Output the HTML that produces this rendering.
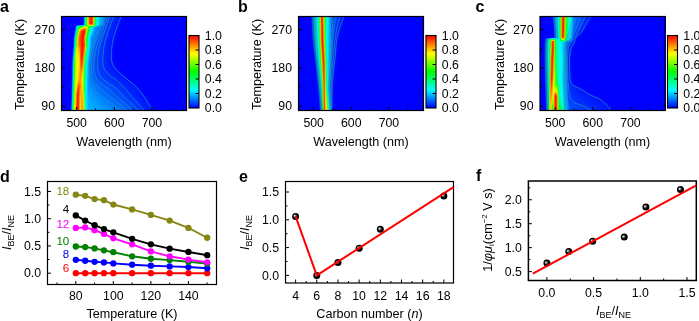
<!DOCTYPE html><html><head><meta charset="utf-8"><style>html,body{margin:0;padding:0;background:#fff;overflow:hidden;width:699px;height:321px}svg{display:block;position:absolute;left:0;top:0;will-change:transform}text{font-family:"Liberation Sans",sans-serif}.hm{position:absolute;top:0;height:321px}.hm div{position:absolute;left:0;width:100%;height:1px}</style></head><body>
<div class="hm" style="left:61px;width:126px"><div style="top:16px;background:linear-gradient(90deg,#0000ff 0.0px,#0003ff 22.0px,#000fff 22.4px,#0027fe 22.7px,#0052fb 23.0px,#00adec 23.5px,#00d8d7 23.8px,#00f0ba 24.1px,#01fe7f 24.6px,#0cff3b 25.2px,#27ff19 25.6px,#59fe08 26.0px,#b5f401 26.6px,#e1dd00 27.0px,#f7b800 27.4px,#ff6300 28.2px,#ff3a00 28.8px,#ff1600 29.7px,#ff1200 30.2px,#ff2200 30.8px,#ff4200 31.4px,#fe6600 31.8px,#f2a600 32.3px,#dfcb00 32.6px,#afed01 33.0px,#5ffd08 33.5px,#2aff19 33.9px,#12ff31 34.2px,#02ff66 34.7px,#00ffb2 35.4px,#00fedc 36.0px,#00f8f6 36.7px,#00daff 37.7px,#00bfff 38.9px,#0085ff 42.7px,#006dff 44.1px,#0039ff 49.7px,#0023ff 54.8px,#000eff 61.1px,#0000ff 64.0px,#0000ff 126.0px)"></div><div style="top:17px;background:linear-gradient(90deg,#0000ff 0.0px,#0003ff 22.0px,#000fff 22.4px,#0027fe 22.7px,#0052fb 23.0px,#00adec 23.5px,#00d8d7 23.8px,#00f0ba 24.1px,#01fe7f 24.6px,#0cff3b 25.2px,#27ff19 25.6px,#59fe08 26.0px,#b5f401 26.6px,#e1dd00 27.0px,#f7b800 27.4px,#ff6300 28.2px,#ff3a00 28.8px,#ff1600 29.7px,#ff1200 30.2px,#ff2200 30.8px,#ff4200 31.4px,#fe6600 31.8px,#f2a600 32.3px,#dfcb00 32.6px,#afed01 33.0px,#5ffd08 33.5px,#2aff19 33.9px,#12ff31 34.2px,#02ff66 34.7px,#00ffb2 35.4px,#00fedc 36.0px,#00f8f6 36.7px,#00daff 37.7px,#00bfff 38.9px,#0086ff 42.6px,#006bff 43.9px,#0039ff 49.4px,#0023ff 54.4px,#000eff 60.7px,#0000ff 63.6px,#0000ff 126.0px)"></div><div style="top:18px;background:linear-gradient(90deg,#0000ff 0.0px,#0003ff 22.0px,#000fff 22.4px,#0027fe 22.7px,#0052fb 23.0px,#00adec 23.5px,#00d8d7 23.8px,#00f0ba 24.1px,#01fe7f 24.6px,#0cff3b 25.2px,#27ff19 25.6px,#59fe08 26.0px,#b5f401 26.6px,#e1dd00 27.0px,#f7b800 27.4px,#ff6300 28.2px,#ff3a00 28.8px,#ff1600 29.7px,#ff1200 30.2px,#ff2200 30.8px,#ff4200 31.4px,#fe6600 31.8px,#f2a600 32.3px,#dfcb00 32.6px,#afed01 33.0px,#5ffd08 33.5px,#2aff19 33.9px,#12ff31 34.2px,#02ff66 34.7px,#00ffb2 35.4px,#00fedc 36.0px,#00f8f6 36.7px,#00daff 37.7px,#00bfff 38.9px,#0088ff 42.5px,#0068ff 43.8px,#0038ff 49.1px,#0023ff 54.1px,#000dff 60.3px,#0000ff 63.1px,#0000ff 126.0px)"></div><div style="top:19px;background:linear-gradient(90deg,#0000ff 0.0px,#0003ff 22.0px,#000fff 22.4px,#0027fe 22.7px,#0052fb 23.0px,#00adec 23.5px,#00d8d7 23.8px,#00f0ba 24.1px,#01fe7f 24.6px,#0cff3b 25.2px,#27ff19 25.6px,#59fe08 26.0px,#b5f401 26.6px,#e1dd00 27.0px,#f7b800 27.4px,#ff6300 28.2px,#ff3a00 28.8px,#ff1600 29.7px,#ff1200 30.2px,#ff2200 30.8px,#ff4200 31.4px,#fe6600 31.8px,#f2a600 32.3px,#dfcb00 32.6px,#afed01 33.0px,#5ffd08 33.5px,#2aff19 33.9px,#12ff31 34.2px,#02ff66 34.7px,#00ffb2 35.4px,#00fedc 36.0px,#00f8f6 36.7px,#00daff 37.7px,#00bfff 38.9px,#008aff 42.4px,#0065ff 43.7px,#0039ff 48.6px,#0023ff 53.6px,#000eff 59.8px,#0000ff 62.7px,#0000ff 126.0px)"></div><div style="top:20px;background:linear-gradient(90deg,#0000ff 0.0px,#0003ff 22.0px,#000fff 22.4px,#0027fe 22.7px,#0052fb 23.0px,#00adec 23.5px,#00d8d7 23.8px,#00f0ba 24.1px,#01fe7f 24.6px,#0cff3b 25.2px,#27ff19 25.6px,#59fe08 26.0px,#b5f401 26.6px,#e1dd00 27.0px,#f7b800 27.4px,#ff6300 28.2px,#ff3a00 28.8px,#ff1600 29.7px,#ff1200 30.2px,#ff2200 30.8px,#ff4200 31.4px,#fe6600 31.8px,#f2a600 32.3px,#dfcb00 32.6px,#afed01 33.0px,#5ffd08 33.5px,#2aff19 33.9px,#12ff31 34.2px,#02ff66 34.7px,#00ffb2 35.4px,#00fedc 36.0px,#00f8f6 36.7px,#00daff 37.7px,#00bfff 38.9px,#008cff 42.3px,#0061ff 43.7px,#0038ff 48.4px,#0023ff 53.3px,#000eff 59.4px,#0000ff 62.3px,#0000ff 126.0px)"></div><div style="top:21px;background:linear-gradient(90deg,#0000ff 0.0px,#0003ff 22.0px,#000fff 22.4px,#0027fe 22.7px,#0052fb 23.0px,#00adec 23.5px,#00d8d7 23.8px,#00f0ba 24.1px,#01fe7f 24.6px,#0cff3b 25.2px,#27ff19 25.6px,#59fe08 26.0px,#b5f401 26.6px,#e1dd00 27.0px,#f7b800 27.4px,#ff6300 28.2px,#ff3a00 28.8px,#ff1600 29.7px,#ff1200 30.2px,#ff2200 30.8px,#ff4200 31.4px,#fe6600 31.8px,#f2a600 32.3px,#dfcb00 32.6px,#afed01 33.0px,#5ffd08 33.5px,#2aff19 33.9px,#12ff31 34.2px,#02ff66 34.7px,#00ffb2 35.4px,#00fedc 36.0px,#00f8f6 36.7px,#00daff 37.7px,#00bfff 38.9px,#008bff 42.3px,#005dff 43.7px,#0038ff 48.1px,#0023ff 52.9px,#000eff 59.0px,#0000ff 61.9px,#0000ff 126.0px)"></div><div style="top:22px;background:linear-gradient(90deg,#0000ff 0.0px,#0003ff 22.0px,#000fff 22.4px,#0027fe 22.7px,#0052fb 23.0px,#00adec 23.5px,#00d8d7 23.8px,#00f0ba 24.1px,#01fe7f 24.6px,#0cff3b 25.2px,#27ff19 25.6px,#59fe08 26.0px,#b5f401 26.6px,#e1dd00 27.0px,#f7b800 27.4px,#ff6300 28.2px,#ff3a00 28.8px,#ff1600 29.7px,#ff1200 30.2px,#ff2200 30.8px,#ff4200 31.4px,#fe6600 31.8px,#f2a600 32.3px,#dfcb00 32.6px,#afed01 33.0px,#5ffd08 33.5px,#2aff19 33.9px,#12ff31 34.2px,#02ff66 34.7px,#00ffb2 35.4px,#00fedc 36.0px,#00f8f6 36.7px,#00daff 37.7px,#00bfff 38.9px,#008bff 42.3px,#005cff 43.6px,#0041ff 46.3px,#0025ff 51.6px,#000eff 58.6px,#0000ff 61.5px,#0000ff 126.0px)"></div><div style="top:23px;background:linear-gradient(90deg,#0000ff 0.0px,#0003ff 22.0px,#000fff 22.4px,#0027fe 22.7px,#0052fb 23.0px,#00adec 23.5px,#00d8d7 23.8px,#00f0ba 24.1px,#01fe7f 24.6px,#0cff3b 25.2px,#27ff19 25.6px,#59fe08 26.0px,#b5f401 26.6px,#e1dd00 27.0px,#f7b800 27.4px,#ff6300 28.2px,#ff3a00 28.8px,#ff1600 29.7px,#ff1200 30.2px,#ff2200 30.8px,#ff4200 31.4px,#fe6600 31.8px,#f2a600 32.3px,#dfcb00 32.6px,#afed01 33.0px,#5ffd08 33.5px,#2aff19 33.9px,#12ff31 34.2px,#02ff66 34.7px,#00ffb2 35.4px,#00fedc 36.0px,#00f8f6 36.7px,#00daff 37.7px,#00bfff 38.9px,#008dff 42.2px,#0059ff 43.6px,#0042ff 45.8px,#0025ff 51.2px,#000eff 58.2px,#0000ff 61.1px,#0000ff 126.0px)"></div><div style="top:24px;background:linear-gradient(90deg,#0000ff 0.0px,#0002ff 22.0px,#000eff 22.4px,#0026fe 22.7px,#0050fc 23.0px,#00abef 23.5px,#00d6dd 23.8px,#00f0c2 24.1px,#00fd8a 24.6px,#08ff45 25.2px,#1dff21 25.6px,#47ff0b 26.0px,#abfb01 26.7px,#d9ef00 27.1px,#f3d700 27.5px,#fea700 28.1px,#ff7d00 28.8px,#ff5e00 29.7px,#ff5b00 30.3px,#ff6f00 31.0px,#fe9000 31.6px,#f4bb00 32.1px,#d9df00 32.5px,#a8f501 32.9px,#4dfe0b 33.5px,#20ff20 33.9px,#09ff45 34.3px,#00ff94 35.0px,#00ffcc 35.6px,#00fcec 36.2px,#00ecfd 37.0px,#00c2ff 38.4px,#0087ff 42.3px,#0056ff 43.6px,#003fff 45.9px,#0024ff 51.1px,#000eff 57.8px,#0000ff 60.7px,#0000ff 126.0px)"></div><div style="top:25px;background:linear-gradient(90deg,#0000ff 0.0px,#0003ff 14.3px,#0014ff 14.9px,#005aff 16.1px,#0088ff 17.6px,#00adff 19.7px,#00d5fb 22.4px,#00e5e9 22.9px,#00f6bc 23.4px,#00ff5d 24.3px,#06ff25 25.0px,#19ff0c 25.5px,#4fff01 26.2px,#85ff00 26.9px,#a4ff00 27.6px,#d8ff00 29.6px,#daff00 30.4px,#c5ff00 31.3px,#a6ff00 31.9px,#6eff02 32.5px,#2eff0f 33.1px,#12ff2a 33.5px,#03ff5d 34.0px,#00fec6 35.0px,#00f8ea 35.5px,#00edfb 36.0px,#00acff 38.1px,#0072ff 42.4px,#004fff 43.7px,#0031ff 47.8px,#0018ff 55.3px,#0000ff 60.3px,#0000ff 126.0px)"></div><div style="top:26px;background:linear-gradient(90deg,#0000ff 0.0px,#0002ff 13.9px,#0012ff 14.4px,#002bff 14.7px,#0063ff 15.1px,#00c2f9 15.7px,#00e2f1 16.0px,#00f7de 16.4px,#00ffa7 17.2px,#00ff62 18.3px,#04ff11 20.1px,#19ff02 20.9px,#adff00 24.7px,#c3ff00 25.7px,#c0ff00 26.4px,#acff00 26.9px,#85ff00 27.4px,#2eff00 28.3px,#10ff00 28.8px,#02ff03 29.5px,#00ff13 30.6px,#00ff3a 31.8px,#00ff62 32.5px,#00fbda 34.0px,#00eaf6 34.6px,#00beff 35.5px,#00a0ff 36.5px,#007eff 38.5px,#003cff 45.6px,#0024ff 50.6px,#000eff 57.1px,#0000ff 60.0px,#0000ff 126.0px)"></div><div style="top:27px;background:linear-gradient(90deg,#0000ff 0.0px,#0002ff 13.7px,#0010ff 14.2px,#0029ff 14.5px,#0060fd 14.9px,#00c3f2 15.5px,#00e3e3 15.8px,#00f8c8 16.2px,#00ff7c 17.1px,#02ff2f 18.1px,#0dff0f 18.7px,#2fff01 19.4px,#98ff00 21.1px,#d7ff00 22.5px,#f8fc00 23.6px,#fff200 24.8px,#f7f800 25.7px,#e2fd00 26.2px,#b6ff00 26.7px,#42ff06 27.6px,#1bff14 28.0px,#08ff2c 28.4px,#00ff73 29.3px,#00fdd9 30.6px,#00f6f5 31.2px,#00e0ff 32.0px,#0095ff 34.5px,#0085ff 35.9px,#006cff 39.3px,#0033ff 46.7px,#001fff 51.9px,#000dff 56.9px,#0000ff 59.7px,#0000ff 126.0px)"></div><div style="top:28px;background:linear-gradient(90deg,#0000ff 0.0px,#0002ff 13.6px,#000cff 14.0px,#0021ff 14.3px,#0045fe 14.6px,#00a8f3 15.2px,#00d2e4 15.5px,#00eccc 15.8px,#00fba3 16.2px,#05ff3e 17.1px,#18ff16 17.6px,#40ff04 18.1px,#b3ff00 19.3px,#e2fd00 20.0px,#f8f200 20.6px,#ffc700 21.8px,#ffa300 23.0px,#ff9c00 23.9px,#ffa800 24.7px,#fbc300 25.3px,#eae200 25.8px,#c6f400 26.2px,#65fe03 26.9px,#31ff0b 27.3px,#11ff1c 27.7px,#03ff3d 28.2px,#00fdd7 30.2px,#00f5f4 30.8px,#00dfff 31.6px,#0096ff 33.9px,#0087ff 35.3px,#006dff 38.8px,#0033ff 46.4px,#001fff 51.7px,#000cff 56.6px,#0000ff 59.3px,#0000ff 126.0px)"></div><div style="top:29px;background:linear-gradient(90deg,#0000ff 0.0px,#0003ff 13.5px,#0010ff 13.9px,#0027ff 14.2px,#004efd 14.5px,#00a2f3 15.0px,#00cde3 15.3px,#00eac9 15.6px,#00fa9a 16.0px,#09ff41 16.7px,#1dff1c 17.1px,#43ff08 17.5px,#a9fd00 18.3px,#ddf400 18.8px,#f4e300 19.2px,#febc00 19.9px,#ff8200 21.2px,#ff5b00 22.5px,#ff5800 23.3px,#ff6c00 24.3px,#fe8600 24.8px,#f2be00 25.4px,#d6e200 25.8px,#a5f700 26.2px,#3fff08 26.9px,#18ff16 27.3px,#06ff2e 27.7px,#00ff80 28.8px,#00fce0 30.1px,#00f2f8 30.7px,#00d0ff 31.8px,#0094ff 33.7px,#0085ff 35.2px,#006aff 38.7px,#0031ff 46.4px,#0017ff 54.2px,#0000ff 58.9px,#0000ff 126.0px)"></div><div style="top:30px;background:linear-gradient(90deg,#0000ff 0.0px,#0003ff 13.3px,#0010ff 13.7px,#0027ff 14.0px,#004efd 14.3px,#00a2f3 14.8px,#00cde3 15.1px,#00eac9 15.4px,#00fa9a 15.8px,#09ff41 16.5px,#1fff1c 16.9px,#47ff08 17.3px,#b2f900 18.1px,#dcec00 18.5px,#f4d100 18.9px,#fe9d00 19.5px,#ff7500 20.1px,#ff4700 21.3px,#ff2800 22.4px,#ff2900 23.1px,#ff4400 24.1px,#fe6100 24.6px,#f99600 25.1px,#e7c800 25.5px,#c0eb00 25.9px,#78fc02 26.4px,#33ff0b 26.9px,#12ff1c 27.3px,#03ff3c 27.8px,#00fed6 29.8px,#00f6f4 30.4px,#00e0ff 31.2px,#0093ff 33.7px,#0084ff 35.1px,#0032ff 45.8px,#001dff 51.5px,#000cff 56.0px,#0000ff 58.7px,#0000ff 126.0px)"></div><div style="top:31px;background:linear-gradient(90deg,#0000ff 0.0px,#0003ff 13.1px,#000fff 13.5px,#0026ff 13.8px,#004cfe 14.1px,#00aff0 14.7px,#00d6dd 15.0px,#00eec0 15.3px,#01fd81 15.8px,#0eff37 16.4px,#29ff16 16.8px,#65fe04 17.3px,#b8f600 17.9px,#e1e400 18.3px,#f6c200 18.7px,#ff7500 19.5px,#ff5100 20.1px,#ff1200 22.1px,#ff0e00 22.7px,#ff2400 23.6px,#ff4000 24.2px,#fe6200 24.6px,#f4a200 25.1px,#dad400 25.5px,#aaf200 25.9px,#5ffd04 26.4px,#2cff0d 26.8px,#0eff20 27.2px,#02ff43 27.7px,#00fdd7 29.6px,#00f6f4 30.2px,#00e0ff 31.0px,#0092ff 33.5px,#0083ff 34.9px,#0032ff 45.5px,#001dff 51.4px,#000cff 55.7px,#0000ff 58.4px,#0000ff 126.0px)"></div><div style="top:32px;background:linear-gradient(90deg,#0000ff 0.0px,#0003ff 12.9px,#000eff 13.3px,#0024ff 13.6px,#0048fe 13.9px,#00aaf2 14.5px,#00d2e0 14.8px,#00ecc4 15.1px,#01fb93 15.5px,#0aff44 16.1px,#22ff1e 16.5px,#4dff09 16.9px,#b0f800 17.6px,#dce600 18.0px,#f4c600 18.4px,#ff8100 19.1px,#ff5e00 19.6px,#ff3100 20.9px,#ff0f00 22.1px,#ff1100 22.7px,#ff3000 23.7px,#ff4f00 24.2px,#fb7a00 24.6px,#efb100 25.0px,#cede00 25.4px,#98f601 25.8px,#3ffe09 26.4px,#17ff19 26.8px,#06ff32 27.2px,#00ff92 28.4px,#00fcde 29.4px,#00f3f7 30.0px,#00d4ff 31.0px,#0092ff 33.1px,#0082ff 34.6px,#0032ff 45.1px,#001dff 50.8px,#000cff 55.3px,#0000ff 58.0px,#0000ff 126.0px)"></div><div style="top:33px;background:linear-gradient(90deg,#0000ff 0.0px,#0003ff 12.7px,#000eff 13.1px,#0022ff 13.4px,#0054fe 13.8px,#00a5f4 14.3px,#00d9dc 14.7px,#00efbd 15.0px,#02fd7b 15.5px,#0fff3b 16.0px,#2cff17 16.4px,#6cfe04 16.9px,#c1f200 17.5px,#e7da00 17.9px,#f9b500 18.3px,#ff7400 19.0px,#ff5400 19.6px,#ff1100 21.8px,#ff1000 22.4px,#ff2800 23.3px,#ff4800 23.9px,#fd6f00 24.3px,#eeb200 24.8px,#d7d500 25.1px,#a3f201 25.5px,#47fe08 26.1px,#1cff17 26.5px,#07ff30 26.9px,#00ff78 27.8px,#00fdd8 29.0px,#00f4f5 29.6px,#00dcff 30.4px,#0094ff 32.6px,#0085ff 33.9px,#0032ff 44.8px,#001dff 50.7px,#000cff 55.0px,#0000ff 57.7px,#0000ff 126.0px)"></div><div style="top:34px;background:linear-gradient(90deg,#0000ff 0.0px,#0003ff 12.5px,#0012ff 13.0px,#002aff 13.3px,#005ffd 13.7px,#00aff2 14.2px,#00dfd7 14.6px,#00f6a9 15.0px,#08fe56 15.6px,#1cff28 16.0px,#46ff0d 16.4px,#9ef901 17.0px,#d1ea00 17.4px,#f0cc00 17.8px,#fd9a00 18.3px,#ff7000 18.8px,#ff5400 19.4px,#ff1000 21.7px,#ff1100 22.3px,#ff2c00 23.2px,#ff4900 23.7px,#fd7000 24.1px,#edb300 24.6px,#d5d600 24.9px,#a0f201 25.3px,#42fe0a 25.9px,#21ff15 26.2px,#09ff2e 26.6px,#00ff66 27.3px,#00fdd8 28.7px,#00f4f5 29.3px,#00dbff 30.1px,#0094ff 32.2px,#0084ff 33.6px,#0032ff 44.4px,#001eff 50.0px,#000dff 54.6px,#0000ff 57.3px,#0000ff 126.0px)"></div><div style="top:35px;background:linear-gradient(90deg,#0000ff 0.0px,#0002ff 12.3px,#0011ff 12.8px,#0029ff 13.1px,#005cfe 13.5px,#00aaf3 14.0px,#00dbda 14.4px,#00f4ae 14.8px,#08fe59 15.4px,#1dff2a 15.8px,#48ff0e 16.2px,#a3f801 16.8px,#d5e600 17.2px,#f2c600 17.6px,#fe8a00 18.2px,#ff6600 18.7px,#ff4c00 19.5px,#ff1100 21.5px,#ff1100 22.1px,#ff2d00 23.0px,#ff4900 23.5px,#fc7100 23.9px,#f2a600 24.3px,#ddcc00 24.6px,#bae700 24.9px,#7bf903 25.3px,#3dfe0c 25.7px,#1dff19 26.0px,#08ff33 26.4px,#00ff76 27.2px,#00fdd8 28.4px,#00f3f5 29.0px,#00d9ff 29.8px,#0097ff 31.7px,#0087ff 32.9px,#0032ff 44.1px,#001dff 50.0px,#000cff 54.4px,#0000ff 57.1px,#0000ff 126.0px)"></div><div style="top:36px;background:linear-gradient(90deg,#0000ff 0.0px,#0002ff 12.1px,#0011ff 12.6px,#0031ff 13.0px,#0077fc 13.5px,#00c0ec 14.0px,#00e8cb 14.4px,#01f996 14.8px,#0cfe4e 15.3px,#27ff22 15.7px,#5afe0a 16.1px,#b6f301 16.7px,#e2db00 17.1px,#f7b500 17.5px,#ff7c00 18.1px,#ff5f00 18.6px,#ff2d00 20.4px,#ff1100 21.3px,#ff1100 21.9px,#ff2d00 22.8px,#ff4a00 23.3px,#fc7200 23.7px,#f1a700 24.1px,#dbcc00 24.4px,#b7e801 24.7px,#76f904 25.1px,#39fe0e 25.5px,#1aff1d 25.8px,#06ff39 26.2px,#00ff8f 27.2px,#00fdd8 28.1px,#00f5f2 28.6px,#00dffe 29.3px,#0097ff 31.3px,#0087ff 32.5px,#0033ff 43.6px,#001fff 49.1px,#000dff 54.0px,#0000ff 56.8px,#0000ff 126.0px)"></div><div style="top:37px;background:linear-gradient(90deg,#0000ff 0.0px,#0002ff 11.9px,#0010ff 12.4px,#002fff 12.8px,#0072fd 13.3px,#00bcee 13.8px,#00e5cf 14.2px,#01f89b 14.6px,#0cfe51 15.1px,#29ff23 15.5px,#5efe0b 15.9px,#bbf001 16.5px,#dddd00 16.8px,#f5b800 17.2px,#fe7f00 17.8px,#ff6100 18.3px,#ff3500 20.0px,#ff1200 21.1px,#ff1100 21.7px,#ff2d00 22.6px,#ff4b00 23.1px,#fc7300 23.5px,#f0a800 23.9px,#d9cd00 24.2px,#b3e801 24.5px,#71f905 24.9px,#34fe11 25.3px,#17ff21 25.6px,#05ff3e 26.0px,#00ffb1 27.3px,#00fae5 28.0px,#00eef8 28.5px,#00c5ff 29.6px,#0097ff 30.9px,#0087ff 32.2px,#0036ff 42.7px,#0022ff 47.8px,#000eff 53.6px,#0000ff 56.4px,#0000ff 126.0px)"></div><div style="top:38px;background:linear-gradient(90deg,#0000ff 0.0px,#0002ff 11.8px,#0010ff 12.3px,#0030ff 12.7px,#0074fd 13.2px,#00bcee 13.7px,#00e5cf 14.1px,#02f89a 14.5px,#0efe50 15.0px,#22ff2c 15.3px,#53fe0e 15.7px,#a3f602 16.2px,#d7e100 16.6px,#f3be00 17.0px,#fe8300 17.6px,#ff6500 18.1px,#ff4d00 19.1px,#ff2800 20.3px,#ff1100 21.1px,#ff1200 21.7px,#ff3000 22.6px,#fe5100 23.1px,#f98900 23.6px,#e4be00 24.0px,#c4de01 24.3px,#84f603 24.7px,#42fd0d 25.1px,#1fff1c 25.4px,#08ff38 25.8px,#00ff7f 26.6px,#00fcd5 27.6px,#00f4f1 28.1px,#00ddfe 28.8px,#0099ff 30.6px,#0088ff 31.7px,#003aff 41.8px,#0023ff 47.1px,#000eff 53.3px,#0000ff 56.2px,#0000ff 126.0px)"></div><div style="top:39px;background:linear-gradient(90deg,#0000ff 0.0px,#0003ff 11.8px,#0013ff 12.3px,#0035ff 12.7px,#007afc 13.2px,#00c2ec 13.7px,#00e8c9 14.1px,#02f994 14.5px,#10fe4a 15.0px,#26ff28 15.3px,#5afe0d 15.7px,#b9f001 16.3px,#dcdf00 16.6px,#f5bb00 17.0px,#ff7c00 17.7px,#ff6300 18.2px,#ff3b00 19.8px,#ff1100 21.1px,#ff1100 21.7px,#ff2e00 22.6px,#ff4c00 23.1px,#fc7500 23.5px,#eeaa00 23.9px,#d6cf00 24.2px,#9eef02 24.6px,#4afd0c 25.1px,#24ff19 25.4px,#0eff2e 25.7px,#02ff58 26.2px,#00fdcf 27.5px,#00f6ee 28.0px,#00e3fd 28.6px,#0096ff 30.6px,#0085ff 31.7px,#0042ff 40.2px,#0025ff 46.0px,#000eff 53.0px,#0000ff 55.9px,#0000ff 126.0px)"></div><div style="top:40px;background:linear-gradient(90deg,#0000ff 0.0px,#0002ff 11.7px,#000fff 12.2px,#002eff 12.6px,#0062fe 13.0px,#00aef3 13.5px,#00dcd9 13.9px,#01f5aa 14.3px,#0dfe52 14.9px,#21ff2e 15.2px,#43fe15 15.5px,#91f903 16.0px,#cbea00 16.4px,#e8d500 16.7px,#f9b000 17.1px,#ff7d00 17.7px,#ff6300 18.3px,#ff3b00 19.8px,#ff1100 21.1px,#ff1100 21.7px,#ff2b00 22.6px,#ff4700 23.1px,#fc6e00 23.5px,#f1a300 23.9px,#dbc900 24.2px,#b5e501 24.5px,#72f805 24.9px,#35fe12 25.3px,#17ff24 25.6px,#05ff44 26.0px,#00febe 27.3px,#00f7ea 27.9px,#00e6fc 28.5px,#0094ff 30.6px,#0083ff 31.7px,#0054ff 37.5px,#002eff 43.3px,#000eff 52.9px,#0000ff 55.7px,#0000ff 126.0px)"></div><div style="top:41px;background:linear-gradient(90deg,#0000ff 0.0px,#0003ff 11.7px,#0012ff 12.2px,#0033ff 12.6px,#0078fc 13.1px,#00c1ec 13.6px,#00e8ca 14.0px,#02f995 14.4px,#0ffe4c 14.9px,#25ff2a 15.2px,#58fe0d 15.6px,#b7f201 16.2px,#dbe100 16.5px,#f5c100 16.9px,#fe8c00 17.5px,#ff6c00 18.1px,#ff3c00 19.8px,#ff1200 21.1px,#ff1000 21.7px,#ff2900 22.6px,#ff4a00 23.2px,#fc7300 23.6px,#eea900 24.0px,#d6ce00 24.3px,#9eef02 24.7px,#4afd0c 25.2px,#24ff1b 25.5px,#0eff30 25.8px,#02ff5e 26.3px,#00fdd0 27.5px,#00f5ef 28.0px,#00e1fd 28.6px,#0092ff 30.6px,#0080ff 31.7px,#0056ff 36.8px,#002fff 42.8px,#000eff 52.7px,#0000ff 55.5px,#0000ff 126.0px)"></div><div style="top:42px;background:linear-gradient(90deg,#0000ff 0.0px,#0003ff 11.7px,#0014ff 12.2px,#0038ff 12.6px,#008ffa 13.2px,#00c7e9 13.6px,#00ebc5 14.0px,#04fc80 14.5px,#11ff47 14.9px,#29ff26 15.2px,#5efd0c 15.6px,#bdf001 16.2px,#dfdf00 16.5px,#f7bf00 16.9px,#ff8600 17.6px,#ff6b00 18.2px,#ff4000 19.7px,#ff1200 21.1px,#ff0f00 21.7px,#ff2700 22.6px,#ff4600 23.2px,#fc6c00 23.6px,#f1a100 24.0px,#dbc800 24.3px,#b5e501 24.6px,#72f806 25.0px,#35fe13 25.4px,#17ff26 25.7px,#05ff48 26.1px,#00fdc8 27.4px,#00f6eb 27.9px,#00e7fb 28.4px,#008fff 30.6px,#007eff 31.7px,#0057ff 36.3px,#0030ff 42.4px,#000eff 52.5px,#0000ff 55.4px,#0000ff 126.0px)"></div><div style="top:43px;background:linear-gradient(90deg,#0000ff 0.0px,#0002ff 11.6px,#0010ff 12.1px,#0031ff 12.5px,#0076fc 13.0px,#00c0ec 13.5px,#00e7cb 13.9px,#02f997 14.3px,#0efe4e 14.8px,#23ff2b 15.1px,#46fe14 15.4px,#97f903 15.9px,#d0ea00 16.3px,#ead600 16.6px,#fab500 17.0px,#ff8700 17.6px,#ff6b00 18.3px,#ff4500 19.6px,#ff1300 21.1px,#ff0f00 21.7px,#ff2500 22.6px,#ff4200 23.2px,#fd6600 23.6px,#eea700 24.1px,#d6cd00 24.4px,#9eee02 24.8px,#4afd0d 25.3px,#24ff1d 25.6px,#0eff33 25.9px,#02ff63 26.4px,#00fcd1 27.5px,#00f3f0 28.0px,#00defd 28.6px,#0090ff 30.5px,#007dff 31.5px,#0057ff 35.9px,#0031ff 42.0px,#000dff 52.4px,#0000ff 55.2px,#0000ff 126.0px)"></div><div style="top:44px;background:linear-gradient(90deg,#0000ff 0.0px,#0003ff 11.6px,#0013ff 12.1px,#0036ff 12.5px,#007dfb 13.0px,#00c6ea 13.5px,#00eac6 13.9px,#02fa91 14.3px,#10ff49 14.8px,#27ff27 15.1px,#5cfe0d 15.5px,#bcf101 16.1px,#dfe200 16.4px,#f6c400 16.8px,#ff8f00 17.5px,#ff7100 18.2px,#ff4900 19.5px,#ff1300 21.1px,#ff0e00 21.7px,#ff2400 22.6px,#ff3e00 23.2px,#fd5f00 23.6px,#f19f00 24.1px,#dbc600 24.4px,#b5e401 24.7px,#72f806 25.1px,#35fe15 25.5px,#17ff28 25.8px,#05ff4d 26.2px,#00fdc9 27.4px,#00f5ec 27.9px,#00e1fd 28.5px,#008dff 30.5px,#007bff 31.5px,#0055ff 35.9px,#0031ff 41.7px,#000eff 52.2px,#0000ff 55.0px,#0000ff 126.0px)"></div><div style="top:45px;background:linear-gradient(90deg,#0000ff 0.0px,#0002ff 11.5px,#000fff 12.0px,#002fff 12.4px,#0065fd 12.8px,#00b1f2 13.3px,#00dfd6 13.7px,#01f6a7 14.1px,#09fe5e 14.6px,#21ff2d 15.0px,#44fe15 15.3px,#95f903 15.8px,#cfec00 16.2px,#eada00 16.5px,#fabb00 16.9px,#ff8b00 17.6px,#ff6f00 18.4px,#ff4700 19.6px,#ff1400 21.1px,#ff0e00 21.7px,#ff1f00 22.5px,#ff3b00 23.2px,#fe5900 23.6px,#f39700 24.1px,#e0c000 24.4px,#bde001 24.7px,#7bf605 25.1px,#3bfe13 25.5px,#1bff26 25.8px,#06ff4a 26.2px,#00feb6 27.2px,#00f8e1 27.7px,#00ebf8 28.2px,#00c1ff 29.2px,#0088ff 30.6px,#0074ff 31.9px,#0045ff 37.8px,#0025ff 44.7px,#000fff 51.9px,#0000ff 54.9px,#0000ff 126.0px)"></div><div style="top:46px;background:linear-gradient(90deg,#0000ff 0.0px,#0003ff 11.5px,#0013ff 12.0px,#0036ff 12.4px,#007efb 12.9px,#00c6e9 13.4px,#00ebc5 13.8px,#05fc80 14.3px,#18ff48 14.7px,#35ff27 15.0px,#6ffd0c 15.4px,#bcf502 15.9px,#e5e300 16.3px,#f8c900 16.7px,#ff9f00 17.4px,#ff7c00 18.6px,#ff3500 20.1px,#ff1300 21.1px,#ff1200 21.7px,#ff2f00 22.6px,#ff5200 23.3px,#fd7f00 23.8px,#edbc00 24.3px,#d5db02 24.6px,#9ef40a 25.0px,#4bfe26 25.5px,#24ff42 25.8px,#0eff60 26.1px,#01ff92 26.6px,#00fcd8 27.4px,#00f2f3 27.9px,#00d7fe 28.6px,#008bff 30.4px,#0077ff 31.4px,#004cff 36.5px,#002bff 42.5px,#000eff 51.8px,#0000ff 54.7px,#0000ff 126.0px)"></div><div style="top:47px;background:linear-gradient(90deg,#0000ff 0.0px,#0002ff 11.4px,#0011ff 11.9px,#0033ff 12.3px,#007afc 12.8px,#00c4ea 13.3px,#00e2d1 13.6px,#03f79f 14.0px,#0ffe65 14.4px,#27ff3d 14.7px,#5dfe18 15.1px,#9dfc06 15.5px,#d1f301 15.9px,#efe100 16.3px,#fdc300 16.8px,#ffa800 17.4px,#ff9b00 18.3px,#ff7900 18.9px,#ff4800 19.7px,#ff1800 20.9px,#ff1300 21.5px,#ff2700 22.2px,#ff5400 23.1px,#fe7d00 23.6px,#f5b500 24.1px,#dcdd03 24.5px,#b8f00a 24.8px,#76fc21 25.2px,#36ff48 25.6px,#17ff6a 25.9px,#05ff92 26.3px,#00fcda 27.2px,#00f0f6 27.8px,#00cdff 28.7px,#0089ff 30.3px,#0075ff 31.4px,#0045ff 37.3px,#0025ff 44.5px,#000eff 51.7px,#0000ff 54.6px,#0000ff 126.0px)"></div><div style="top:48px;background:linear-gradient(90deg,#0000ff 0.0px,#0002ff 11.3px,#000fff 11.8px,#0030ff 12.2px,#0066fd 12.6px,#00b3f0 13.1px,#00e1d3 13.5px,#04f7a1 13.9px,#12fe66 14.3px,#2bff3d 14.6px,#62ff17 15.0px,#a0fc06 15.4px,#d1f501 15.8px,#efe500 16.2px,#fcc900 16.7px,#ffaf00 17.3px,#ffa800 18.2px,#ff8e00 18.7px,#ff4f00 19.6px,#ff1b00 20.8px,#ff1200 21.4px,#ff2100 22.0px,#ff5200 23.0px,#fe7c00 23.5px,#f4b400 24.0px,#e3d402 24.3px,#c2eb07 24.6px,#82fa19 25.0px,#40fe3e 25.4px,#1cff60 25.7px,#0aff80 26.0px,#00ffb7 26.6px,#00f9e8 27.3px,#00e8fb 27.9px,#0088ff 30.2px,#0074ff 31.3px,#0041ff 37.5px,#0024ff 44.8px,#000eff 51.6px,#0000ff 54.5px,#0000ff 126.0px)"></div><div style="top:49px;background:linear-gradient(90deg,#0000ff 0.0px,#0003ff 11.3px,#0014ff 11.8px,#002dff 12.1px,#0062fd 12.5px,#00b0f1 13.0px,#01dfd4 13.4px,#04f6a3 13.8px,#14fd68 14.2px,#2fff3f 14.5px,#67ff18 14.9px,#a3fd06 15.3px,#d2f701 15.7px,#eee900 16.1px,#fccf00 16.6px,#ffb700 17.2px,#ffb200 18.2px,#ff9d00 18.6px,#ff5700 19.5px,#ff2200 20.6px,#ff1300 21.2px,#ff1800 21.7px,#ff3f00 22.6px,#ff6700 23.2px,#f7a800 23.8px,#e1d402 24.2px,#bfeb08 24.5px,#7efa1c 24.9px,#3cfe41 25.3px,#1aff62 25.6px,#06ff8c 26.0px,#00fdd1 26.8px,#00f4f2 27.4px,#00dbfe 28.1px,#0087ff 30.1px,#0073ff 31.2px,#0041ff 37.3px,#0023ff 44.8px,#000eff 51.5px,#0000ff 54.4px,#0000ff 126.0px)"></div><div style="top:50px;background:linear-gradient(90deg,#0000ff 0.0px,#0002ff 11.2px,#0012ff 11.7px,#002aff 12.0px,#005efd 12.4px,#00acf2 12.9px,#01ddd6 13.3px,#05f5a5 13.7px,#16fd69 14.1px,#32ff40 14.4px,#69ff18 14.8px,#a4fd06 15.2px,#d2f801 15.6px,#eeed00 16.0px,#fcd500 16.5px,#ffbe00 17.1px,#ffbf00 18.1px,#ffac00 18.5px,#ff5900 19.5px,#ff2600 20.5px,#ff1400 21.1px,#ff1800 21.6px,#ff3900 22.4px,#ff6000 23.0px,#fb9200 23.5px,#ebc201 23.9px,#d0df04 24.2px,#94f611 24.6px,#4efd2f 25.0px,#25ff4f 25.3px,#0eff70 25.6px,#01ffa1 26.1px,#00fbe0 26.9px,#00f0f6 27.4px,#00cdff 28.3px,#0086ff 30.0px,#0072ff 31.1px,#0042ff 37.0px,#0023ff 44.6px,#000eff 51.4px,#0000ff 54.3px,#0000ff 126.0px)"></div><div style="top:51px;background:linear-gradient(90deg,#0000ff 0.0px,#0002ff 11.1px,#0010ff 11.6px,#0027ff 11.9px,#005afd 12.3px,#00a9f2 12.8px,#01dad7 13.2px,#05f4a6 13.6px,#17fd6a 14.0px,#34ff3f 14.3px,#6cff17 14.7px,#a5fe06 15.1px,#d1fa01 15.5px,#edf000 15.9px,#fcdb00 16.4px,#ffc500 17.0px,#ffc700 17.6px,#ffc800 18.1px,#ffb200 18.5px,#ff6100 19.4px,#ff3200 20.2px,#ff1800 20.9px,#ff1500 21.4px,#ff2e00 22.1px,#ff5a00 22.8px,#fb8c00 23.3px,#edbc01 23.7px,#d2db03 24.0px,#a8f00b 24.3px,#61fc23 24.7px,#32fe3f 25.0px,#14ff5e 25.3px,#04ff87 25.7px,#00fcd5 26.6px,#00f4f1 27.1px,#00dcfe 27.8px,#0085ff 29.9px,#0071ff 31.0px,#0042ff 36.8px,#0023ff 44.5px,#000eff 51.3px,#0000ff 54.2px,#0000ff 126.0px)"></div><div style="top:52px;background:linear-gradient(90deg,#0000ff 0.0px,#0003ff 11.1px,#000fff 11.5px,#0024ff 11.8px,#0056fe 12.2px,#00a5f3 12.7px,#01d8d8 13.1px,#07f4a8 13.5px,#1cfd6b 13.9px,#47ff33 14.3px,#72ff17 14.6px,#a7fe06 15.0px,#d8fa00 15.5px,#f4ed00 16.0px,#fed100 16.7px,#ffcb00 17.2px,#ffd300 18.0px,#ffc100 18.4px,#ff6300 19.4px,#ff3200 20.2px,#ff1700 20.9px,#ff1700 21.4px,#ff3300 22.1px,#ff5c00 22.7px,#fa9100 23.2px,#e7c201 23.6px,#c8e005 23.9px,#87f613 24.3px,#42fd30 24.7px,#1dff4d 25.0px,#0aff6b 25.3px,#00ffa5 25.9px,#00fbde 26.6px,#00f0f5 27.1px,#00d2ff 27.9px,#0084ff 29.8px,#0070ff 30.9px,#0042ff 36.6px,#0023ff 44.4px,#000eff 51.3px,#0000ff 54.2px,#0000ff 126.0px)"></div><div style="top:53px;background:linear-gradient(90deg,#0000ff 0.0px,#0003ff 11.0px,#0013ff 11.5px,#002cff 11.8px,#0061fd 12.2px,#00b1ef 12.7px,#02e0d0 13.1px,#0bf79a 13.5px,#27fe5b 13.9px,#58ff27 14.3px,#82ff10 14.6px,#bcfe02 15.1px,#e4f900 15.6px,#f8ea00 16.1px,#ffd300 16.8px,#ffd500 17.3px,#ffde00 17.9px,#ffd500 18.2px,#ffb500 18.6px,#ff6400 19.4px,#ff3600 20.1px,#ff1900 20.8px,#ff1700 21.3px,#ff2e00 21.9px,#ff5600 22.5px,#fa8a00 23.0px,#e8bc01 23.4px,#cadb04 23.7px,#89f410 24.1px,#44fd2b 24.5px,#1eff46 24.8px,#0aff63 25.1px,#01ff9d 25.7px,#00fae0 26.5px,#00eff6 27.0px,#00ccff 27.9px,#0082ff 29.7px,#006eff 30.9px,#0041ff 36.6px,#0023ff 44.4px,#000fff 51.2px,#0000ff 54.2px,#0000ff 126.0px)"></div><div style="top:54px;background:linear-gradient(90deg,#0000ff 0.0px,#0002ff 10.9px,#0011ff 11.4px,#0029ff 11.7px,#005dfd 12.1px,#00adf0 12.6px,#02ded1 13.0px,#0cf69b 13.4px,#2afd5a 13.8px,#5bff26 14.2px,#83ff0f 14.5px,#bbfe02 15.0px,#e7f900 15.6px,#fbe800 16.2px,#ffd900 16.8px,#fee000 17.4px,#fde600 17.9px,#fddc00 18.2px,#feba00 18.6px,#ff6500 19.4px,#ff3600 20.1px,#ff1900 20.8px,#ff1900 21.3px,#ff3300 21.9px,#fe6100 22.5px,#f59c00 23.0px,#e2c201 23.3px,#bee005 23.6px,#7af612 24.0px,#37fe2d 24.4px,#17ff48 24.7px,#05ff6f 25.1px,#00fcd4 26.2px,#00f4f1 26.7px,#00dffd 27.3px,#0081ff 29.6px,#006dff 30.8px,#0041ff 36.6px,#0023ff 44.5px,#000fff 51.2px,#0000ff 54.1px,#0000ff 126.0px)"></div><div style="top:55px;background:linear-gradient(90deg,#0000ff 0.0px,#0003ff 10.9px,#0010ff 11.3px,#0026ff 11.6px,#0059fd 12.0px,#00aaf1 12.5px,#02d1dc 12.8px,#06ebb9 13.1px,#1afb7a 13.5px,#44fe3c 13.9px,#6bff1b 14.2px,#9cff06 14.6px,#d1fe00 15.2px,#f1f600 15.8px,#fee300 16.5px,#fee000 17.0px,#faee00 17.8px,#fae100 18.2px,#fcbf00 18.6px,#ff6700 19.4px,#ff3b00 20.0px,#ff1b00 20.7px,#ff1a00 21.2px,#ff2d00 21.7px,#fe5a00 22.3px,#f59400 22.8px,#e3bb01 23.1px,#c1dc04 23.4px,#7cf50f 23.8px,#38fd26 24.2px,#17ff3f 24.5px,#05ff66 24.9px,#00fdce 26.0px,#00f5ee 26.5px,#00e2fd 27.1px,#0080ff 29.5px,#006cff 30.7px,#0040ff 36.5px,#0023ff 44.4px,#000eff 51.2px,#0000ff 54.1px,#0000ff 126.0px)"></div><div style="top:56px;background:linear-gradient(90deg,#0000ff 0.0px,#0003ff 10.8px,#000eff 11.2px,#0023ff 11.5px,#0055fd 11.9px,#00a6f1 12.4px,#02d9d4 12.8px,#0cf49f 13.2px,#28fd5f 13.6px,#57ff29 14.0px,#7eff11 14.3px,#b2ff02 14.8px,#defd00 15.4px,#f6f200 16.0px,#fee300 16.8px,#f8f100 17.8px,#f7e400 18.2px,#fbc200 18.6px,#ff6900 19.4px,#ff3c00 20.0px,#ff2000 20.6px,#ff1b00 21.1px,#ff2e00 21.6px,#fe5200 22.1px,#f88900 22.6px,#e9b001 22.9px,#cad403 23.2px,#89f10b 23.6px,#42fc20 24.0px,#1dfe37 24.3px,#0aff52 24.6px,#00ff8f 25.2px,#00fbd8 26.0px,#00f1f3 26.5px,#00d8fe 27.2px,#007fff 29.4px,#006bff 30.6px,#0040ff 36.5px,#0023ff 44.4px,#000eff 51.2px,#0000ff 54.1px,#0000ff 126.0px)"></div><div style="top:57px;background:linear-gradient(90deg,#0000ff 0.0px,#0002ff 10.7px,#0012ff 11.2px,#002bff 11.5px,#0061fc 11.9px,#00b1ed 12.4px,#01d7d6 12.7px,#05eeb2 13.0px,#16fc75 13.4px,#3cff3c 13.8px,#62ff1d 14.1px,#92ff07 14.5px,#c9ff00 15.1px,#ebfa00 15.7px,#fcea00 16.4px,#fee500 17.0px,#f8f100 17.8px,#f7e600 18.2px,#fac500 18.6px,#ff6c00 19.4px,#ff3f00 20.0px,#ff2300 20.6px,#ff2000 21.1px,#ff3400 21.6px,#fe5a00 22.1px,#f59400 22.6px,#e3bb01 22.9px,#bfdb04 23.2px,#79f50f 23.6px,#36fd26 24.0px,#16ff3f 24.3px,#04ff66 24.7px,#00fdca 25.7px,#00f5ed 26.2px,#00e3fd 26.8px,#007eff 29.3px,#006aff 30.6px,#003eff 36.7px,#0022ff 44.7px,#000eff 51.2px,#0000ff 54.1px,#0000ff 126.0px)"></div><div style="top:58px;background:linear-gradient(90deg,#0000ff 0.0px,#0002ff 10.6px,#0010ff 11.1px,#0028ff 11.4px,#005dfd 11.8px,#00aeee 12.3px,#00d5d8 12.6px,#02edb5 12.9px,#12fd69 13.4px,#34ff33 13.8px,#67ff11 14.2px,#a5ff02 14.7px,#d1fe00 15.2px,#eefa00 15.8px,#fde800 16.6px,#fde800 17.2px,#f7f100 17.9px,#f7e100 18.3px,#fbbd00 18.7px,#ff6600 19.5px,#ff3c00 20.1px,#ff2400 20.7px,#ff2800 21.2px,#ff4200 21.7px,#fd6e00 22.2px,#f19f00 22.6px,#dbc401 22.9px,#b2e205 23.2px,#6af712 23.6px,#38fd25 23.9px,#17ff3e 24.2px,#05ff67 24.6px,#00fdcd 25.6px,#00f5ee 26.1px,#00e1fd 26.7px,#007dff 29.2px,#0069ff 30.5px,#003eff 36.6px,#0022ff 44.6px,#000eff 51.2px,#0000ff 54.1px,#0000ff 126.0px)"></div><div style="top:59px;background:linear-gradient(90deg,#0000ff 0.0px,#0003ff 10.6px,#000fff 11.0px,#0025ff 11.3px,#0059fd 11.7px,#00aaef 12.2px,#00d2d9 12.5px,#01ecb7 12.8px,#08fb7b 13.2px,#1ffe40 13.6px,#4cff18 14.0px,#83ff06 14.4px,#bcff01 14.9px,#defe00 15.4px,#f7f300 16.2px,#fee600 16.9px,#f8f100 17.9px,#f7e300 18.3px,#fbc000 18.7px,#ff6900 19.5px,#ff3e00 20.1px,#ff2900 20.6px,#ff2800 21.0px,#ff3c00 21.5px,#fe6300 22.0px,#f29d00 22.5px,#ddc201 22.8px,#b5e005 23.1px,#6ef712 23.5px,#3bfd24 23.8px,#19ff3e 24.1px,#05ff67 24.5px,#00fccf 25.5px,#00f4f0 26.0px,#00e0fd 26.6px,#007cff 29.1px,#0068ff 30.5px,#003eff 36.6px,#0022ff 44.6px,#000eff 51.3px,#0000ff 54.2px,#0000ff 126.0px)"></div><div style="top:60px;background:linear-gradient(90deg,#0000ff 0.0px,#0003ff 10.5px,#000eff 10.9px,#0022ff 11.2px,#0046fe 11.5px,#0096f4 12.0px,#00d0db 12.4px,#01eab8 12.7px,#06fa7d 13.1px,#18fe42 13.5px,#3fff19 13.9px,#78ff06 14.3px,#b7ff01 14.8px,#d6ff00 15.2px,#f2f900 16.0px,#fee800 16.9px,#f7f000 18.0px,#f8de00 18.4px,#fcac00 18.9px,#ff6c00 19.5px,#ff4100 20.1px,#ff2d00 20.6px,#ff2d00 21.0px,#ff4300 21.5px,#fd6c00 22.0px,#f39b00 22.4px,#dfc001 22.7px,#b9df05 23.0px,#72f611 23.4px,#30fd2b 23.8px,#13ff47 24.1px,#04ff73 24.5px,#00fdc8 25.3px,#00f5ec 25.8px,#00e6fc 26.3px,#007eff 28.9px,#006bff 30.1px,#0041ff 35.9px,#0024ff 44.0px,#000fff 51.4px,#0000ff 54.4px,#0000ff 126.0px)"></div><div style="top:61px;background:linear-gradient(90deg,#0000ff 0.0px,#0002ff 10.4px,#0011ff 10.9px,#002aff 11.2px,#0060fc 11.6px,#00b2eb 12.1px,#00d8d2 12.4px,#01efac 12.7px,#0bfd5f 13.2px,#24ff2c 13.6px,#55ff0e 14.0px,#9cff02 14.5px,#c7ff00 14.9px,#e0ff00 15.4px,#f9f200 16.4px,#fee800 17.1px,#f7f000 18.0px,#f8e000 18.4px,#fcaf00 18.9px,#ff6700 19.6px,#ff3e00 20.2px,#ff2f00 20.7px,#ff3500 21.1px,#ff5100 21.6px,#fa8100 22.1px,#e9b201 22.5px,#cad403 22.8px,#88f10c 23.2px,#41fc23 23.6px,#1cfe3d 23.9px,#09ff5d 24.2px,#00fea1 24.8px,#00fadc 25.4px,#00eef6 25.9px,#00d1ff 26.7px,#007dff 28.8px,#006aff 30.1px,#0041ff 35.8px,#0023ff 44.1px,#000fff 51.6px,#0000ff 54.6px,#0000ff 126.0px)"></div><div style="top:62px;background:linear-gradient(90deg,#0000ff 0.0px,#0003ff 10.4px,#000eff 10.8px,#0024ff 11.1px,#0049fe 11.4px,#009af3 11.9px,#00d3d7 12.3px,#01ecb3 12.6px,#06fb76 13.0px,#18fe3c 13.4px,#40ff16 13.8px,#79ff05 14.2px,#afff01 14.6px,#d1ff00 15.0px,#e7fe00 15.7px,#fcec00 16.8px,#fcec00 17.4px,#f8f100 18.0px,#f8e100 18.4px,#fcb300 18.9px,#ff6a00 19.6px,#ff4100 20.2px,#ff3400 20.7px,#ff3b00 21.1px,#fe5900 21.6px,#f88b00 22.1px,#eab001 22.4px,#cdd202 22.7px,#8cf00b 23.1px,#44fc1f 23.5px,#1efe39 23.8px,#0aff58 24.1px,#00fe9e 24.7px,#00fada 25.3px,#00eff5 25.8px,#00d1ff 26.6px,#007eff 28.7px,#006aff 29.9px,#0043ff 35.4px,#0024ff 44.0px,#000fff 51.8px,#0000ff 54.8px,#0000ff 126.0px)"></div><div style="top:63px;background:linear-gradient(90deg,#0000ff 0.0px,#0003ff 10.4px,#000fff 10.8px,#0026ff 11.1px,#005bfc 11.5px,#00aded 12.0px,#00d5d5 12.3px,#01edb0 12.6px,#09fd63 13.1px,#21ff2e 13.5px,#50ff0f 13.9px,#99ff02 14.4px,#c4ff00 14.8px,#daff00 15.2px,#f4f800 16.3px,#fdeb00 17.2px,#f8f100 18.0px,#f8e300 18.4px,#fbc000 18.8px,#ff6d00 19.6px,#ff4400 20.2px,#ff3800 20.7px,#ff4100 21.1px,#fe6100 21.6px,#f69600 22.1px,#e4ba01 22.4px,#c2da03 22.7px,#7df40b 23.1px,#39fd21 23.5px,#18ff3b 23.8px,#05ff66 24.2px,#00fccb 25.1px,#00f4ee 25.6px,#00e0fd 26.2px,#007dff 28.7px,#006aff 29.9px,#0044ff 35.3px,#0024ff 44.1px,#000fff 52.1px,#0000ff 55.1px,#0000ff 126.0px)"></div><div style="top:64px;background:linear-gradient(90deg,#0000ff 0.0px,#0002ff 10.3px,#0010ff 10.8px,#0028ff 11.1px,#005efc 11.5px,#00b0eb 12.0px,#00d7d3 12.3px,#01efad 12.6px,#0afd61 13.1px,#23ff2c 13.5px,#53ff0e 13.9px,#9bff02 14.4px,#c6ff00 14.8px,#dbff00 15.2px,#f3f800 16.3px,#fee900 17.2px,#faee00 18.1px,#fadb00 18.5px,#fda000 19.1px,#ff6700 19.7px,#ff4800 20.2px,#ff3e00 20.6px,#ff4600 21.0px,#fe6400 21.5px,#f69700 22.0px,#e5ba00 22.3px,#c4da02 22.6px,#81f309 23.0px,#3dfd1b 23.4px,#1aff33 23.7px,#06ff5d 24.1px,#00fdc4 25.0px,#00f5eb 25.5px,#00e6fb 26.0px,#007cff 28.7px,#0069ff 29.9px,#0044ff 35.2px,#0024ff 44.3px,#000fff 52.4px,#0000ff 55.5px,#0000ff 126.0px)"></div><div style="top:65px;background:linear-gradient(90deg,#0000ff 0.0px,#0002ff 10.3px,#0011ff 10.8px,#002aff 11.1px,#0061fc 11.5px,#00a4f0 11.9px,#00ceda 12.2px,#01eab8 12.5px,#05fa7c 12.9px,#15fe42 13.3px,#3bff19 13.7px,#73ff06 14.1px,#abff01 14.5px,#ceff00 14.9px,#e0ff00 15.4px,#f4f700 16.4px,#fee600 17.3px,#fde900 18.1px,#fdd800 18.5px,#ff7200 19.6px,#ff4e00 20.2px,#ff4700 20.6px,#ff5200 21.0px,#fe7300 21.5px,#f3a700 22.0px,#dec800 22.3px,#b9e302 22.6px,#74f709 23.0px,#34fe1d 23.4px,#16ff35 23.7px,#04ff60 24.1px,#00fcc7 25.0px,#00f5ed 25.5px,#00e5fc 26.0px,#007bff 28.7px,#0068ff 29.9px,#0044ff 35.2px,#0024ff 44.4px,#000fff 52.9px,#0000ff 56.0px,#0000ff 126.0px)"></div><div style="top:66px;background:linear-gradient(90deg,#0000ff 0.0px,#0002ff 10.3px,#000dff 10.7px,#0022ff 11.0px,#0045fe 11.3px,#0097f3 11.8px,#00d1d8 12.2px,#01ecb5 12.5px,#05fb79 12.9px,#16fe3f 13.3px,#3dff18 13.7px,#76ff06 14.1px,#adff01 14.5px,#cfff00 14.9px,#e0ff00 15.4px,#f4f700 16.4px,#ffe200 17.4px,#fee200 18.2px,#fecd00 18.6px,#ff7400 19.6px,#ff5800 20.1px,#ff5000 20.5px,#ff5900 20.9px,#fe7a00 21.4px,#f3ab00 21.9px,#dfcb00 22.2px,#bce401 22.5px,#79f807 22.9px,#39fe17 23.3px,#19ff2e 23.6px,#06ff57 24.0px,#00fcc9 25.0px,#00f4ee 25.5px,#00e4fc 26.0px,#007bff 28.7px,#0067ff 30.0px,#0043ff 35.3px,#0024ff 44.7px,#000fff 53.5px,#0000ff 56.6px,#0000ff 126.0px)"></div><div style="top:67px;background:linear-gradient(90deg,#0000ff 0.0px,#0003ff 10.3px,#000eff 10.7px,#0023ff 11.0px,#0048fd 11.3px,#009bf2 11.8px,#00d3d6 12.2px,#01edb2 12.5px,#06fb76 12.9px,#17ff3d 13.3px,#3fff17 13.7px,#79ff06 14.1px,#afff01 14.5px,#d0ff00 14.9px,#e2ff00 15.5px,#f3f700 16.4px,#ffdf00 17.4px,#ffdc00 18.2px,#ffc900 18.6px,#ff7800 19.6px,#ff5e00 20.1px,#ff5900 20.5px,#ff6b00 21.0px,#fc9100 21.5px,#f0ba00 21.9px,#dad600 22.2px,#b4ec01 22.5px,#61fc0a 23.0px,#29ff1f 23.4px,#10ff39 23.7px,#02ff71 24.2px,#00fccc 25.0px,#00f3ef 25.5px,#00e0fd 26.1px,#007aff 28.7px,#0066ff 30.2px,#0043ff 35.5px,#0024ff 45.1px,#000fff 54.2px,#0000ff 57.3px,#0000ff 126.0px)"></div><div style="top:68px;background:linear-gradient(90deg,#0000ff 0.0px,#0003ff 10.3px,#000fff 10.7px,#0025ff 11.0px,#004bfd 11.3px,#009ef1 11.8px,#00d5d4 12.2px,#01eeaf 12.5px,#09fd64 13.0px,#21ff2f 13.4px,#50ff10 13.8px,#99ff02 14.3px,#c5ff00 14.7px,#daff00 15.1px,#f1f900 16.3px,#fede00 17.3px,#ffd300 18.3px,#ffb700 18.8px,#ff7500 19.7px,#ff6300 20.2px,#ff6500 20.6px,#fe7f00 21.1px,#f6b400 21.7px,#e0d900 22.1px,#beed01 22.4px,#6efc08 22.9px,#32ff1a 23.3px,#16ff31 23.6px,#05ff5c 24.0px,#00fdc5 24.9px,#00f5ec 25.4px,#00e6fc 25.9px,#007dff 28.6px,#006aff 29.8px,#0048ff 34.6px,#0029ff 43.1px,#0010ff 54.9px,#0000ff 58.1px,#0000ff 126.0px)"></div><div style="top:69px;background:linear-gradient(90deg,#0000ff 0.0px,#0003ff 10.3px,#0010ff 10.7px,#0027ff 11.0px,#004efd 11.3px,#00a1f0 11.8px,#00cddc 12.1px,#01e9ba 12.4px,#04fa80 12.8px,#13fe45 13.2px,#2cff23 13.5px,#61ff0a 13.9px,#a9ff01 14.4px,#c6ff00 14.7px,#daff00 15.1px,#f0fa00 16.3px,#fedc00 17.3px,#ffcb00 18.4px,#ffa800 19.0px,#ff7500 19.8px,#ff6a00 20.3px,#ff7400 20.7px,#fe9500 21.2px,#f0ca00 21.8px,#d3e900 22.2px,#9df903 22.6px,#4cfe10 23.1px,#26ff22 23.4px,#0fff3d 23.7px,#02ff77 24.2px,#00fcc8 24.9px,#00f4ed 25.4px,#00e5fc 25.9px,#007dff 28.6px,#006aff 29.9px,#0049ff 34.6px,#002bff 42.9px,#0010ff 55.7px,#0000ff 58.9px,#0000ff 126.0px)"></div><div style="top:70px;background:linear-gradient(90deg,#0000ff 0.0px,#0002ff 10.2px,#0011ff 10.7px,#0029ff 11.0px,#0061fc 11.4px,#00a5ef 11.8px,#00cfda 12.1px,#01ebb7 12.4px,#05fb7c 12.8px,#14fe42 13.2px,#2fff22 13.5px,#64ff0a 13.9px,#abff01 14.4px,#c8ff00 14.7px,#dbff00 15.1px,#effa00 16.3px,#fedc00 17.3px,#ffc300 18.5px,#ff7b00 19.8px,#ff7300 20.2px,#ff7c00 20.6px,#fda300 21.2px,#f2ce00 21.7px,#d9ea00 22.1px,#aaf902 22.5px,#59fe0c 23.0px,#24ff24 23.4px,#0eff3f 23.7px,#02ff7a 24.2px,#00fcca 24.9px,#00f6e9 25.3px,#00e7fb 25.8px,#0080ff 28.5px,#006dff 29.7px,#004bff 34.3px,#0030ff 41.6px,#0010ff 56.6px,#0000ff 59.8px,#0000ff 126.0px)"></div><div style="top:71px;background:linear-gradient(90deg,#0000ff 0.0px,#0002ff 10.2px,#000dff 10.6px,#0021ff 10.9px,#0045fd 11.2px,#0097f3 11.7px,#00d2d7 12.1px,#01ecb5 12.4px,#05fb79 12.8px,#16fe40 13.2px,#31ff20 13.5px,#67ff09 13.9px,#aeff01 14.4px,#c9ff00 14.7px,#dbff00 15.1px,#f1f900 16.4px,#fed800 17.4px,#ffbd00 18.6px,#ff8100 19.8px,#ff7c00 20.2px,#ff8d00 20.7px,#f7ca00 21.5px,#e5e700 21.9px,#c1f801 22.3px,#88fe05 22.7px,#3aff17 23.2px,#1aff2e 23.5px,#06ff58 23.9px,#00fdc3 24.8px,#00f5eb 25.3px,#00e6fb 25.8px,#0080ff 28.5px,#006cff 29.8px,#004bff 34.4px,#0032ff 41.6px,#000fff 57.6px,#0000ff 60.8px,#0000ff 126.0px)"></div><div style="top:72px;background:linear-gradient(90deg,#0000ff 0.0px,#0003ff 10.2px,#000dff 10.6px,#0023ff 10.9px,#0048fd 11.2px,#009bf2 11.7px,#00d4d5 12.1px,#01edb2 12.4px,#05fb76 12.8px,#17ff3e 13.2px,#33ff1f 13.5px,#6aff09 13.9px,#b0ff01 14.4px,#cbff00 14.7px,#dcff00 15.1px,#f0f900 16.4px,#feda00 17.3px,#ffc600 18.0px,#ffb700 18.7px,#ff8600 19.8px,#ff8400 20.2px,#ff9800 20.7px,#f5d300 21.5px,#dcf100 22.0px,#b2fc01 22.4px,#55ff0e 23.0px,#2cff1f 23.3px,#12ff39 23.6px,#04ff67 24.0px,#00fcc6 24.8px,#00f6e7 25.2px,#00e9fa 25.7px,#00a7ff 27.4px,#007dff 28.6px,#0065ff 30.7px,#0049ff 35.2px,#0030ff 42.9px,#0010ff 58.6px,#0000ff 61.8px,#0000ff 126.0px)"></div><div style="top:73px;background:linear-gradient(90deg,#0000ff 0.0px,#0003ff 10.2px,#000eff 10.6px,#0025ff 10.9px,#004afd 11.2px,#009ef1 11.7px,#00d6d3 12.1px,#01efaf 12.4px,#09fd64 12.9px,#20ff30 13.3px,#4fff10 13.7px,#99ff02 14.2px,#c5ff00 14.6px,#daff00 15.0px,#edfa00 16.3px,#fbe400 17.0px,#ffc300 17.9px,#ffb100 18.8px,#ff8900 19.8px,#ff8a00 20.2px,#fea100 20.7px,#f3db00 21.5px,#d9f500 22.0px,#b0fd01 22.4px,#53ff0f 23.0px,#2aff20 23.3px,#11ff3c 23.6px,#03ff6a 24.0px,#00fcc9 24.8px,#00f6e9 25.2px,#00e8fb 25.7px,#008cff 28.1px,#0077ff 29.0px,#0050ff 33.9px,#0037ff 40.7px,#0010ff 59.7px,#0000ff 62.9px,#0000ff 126.0px)"></div><div style="top:74px;background:linear-gradient(90deg,#0000ff 0.0px,#0003ff 10.2px,#000fff 10.6px,#0026ff 10.9px,#004dfd 11.2px,#00a2f0 11.7px,#00cddb 12.0px,#01eaba 12.3px,#04fa80 12.7px,#13fe45 13.1px,#2cff24 13.4px,#61ff0b 13.8px,#a9ff01 14.3px,#c7ff00 14.6px,#daff00 15.0px,#edf900 16.3px,#fbe300 17.0px,#ffbe00 17.9px,#ffac00 18.9px,#ff8d00 19.8px,#ff9100 20.2px,#fea900 20.7px,#f1e100 21.5px,#d7f700 22.0px,#aefd02 22.4px,#51ff0f 23.0px,#29ff22 23.3px,#10ff3e 23.6px,#02ff79 24.1px,#00fccb 24.8px,#00f5ea 25.2px,#00e7fb 25.7px,#0083ff 28.4px,#0070ff 29.7px,#004cff 35.0px,#0037ff 41.4px,#0010ff 60.8px,#0000ff 64.1px,#0000ff 126.0px)"></div><div style="top:75px;background:linear-gradient(90deg,#0000ff 0.0px,#0003ff 10.2px,#0010ff 10.6px,#0028fe 10.9px,#0050fd 11.2px,#00a5ef 11.7px,#00d0d9 12.0px,#01ebb7 12.3px,#04fb7c 12.7px,#14fe43 13.1px,#2eff23 13.4px,#64ff0a 13.8px,#acff01 14.3px,#c8ff00 14.6px,#dbff00 15.0px,#ecf900 16.3px,#fbe200 17.0px,#ffba00 17.9px,#ffa400 19.1px,#ff9100 19.8px,#ff9b00 20.3px,#f9ce00 21.1px,#e7f100 21.7px,#cdfb00 22.1px,#9efe03 22.5px,#4fff10 23.0px,#28ff24 23.3px,#10ff40 23.6px,#02ff7c 24.1px,#00fbce 24.8px,#00f4ec 25.2px,#00e6fc 25.7px,#0085ff 28.3px,#0073ff 29.5px,#004dff 35.2px,#0038ff 41.6px,#0010ff 62.0px,#0000ff 65.3px,#0000ff 126.0px)"></div><div style="top:76px;background:linear-gradient(90deg,#0000ff 0.0px,#0002ff 10.1px,#0011ff 10.6px,#002bfe 10.9px,#0064fb 11.3px,#00a8ed 11.7px,#00d2d7 12.0px,#01ecb4 12.3px,#05fb79 12.7px,#15ff41 13.1px,#30ff21 13.4px,#67ff0a 13.8px,#aeff01 14.3px,#caff00 14.6px,#dbff00 15.0px,#ecf900 16.3px,#fae000 17.0px,#ffb700 17.9px,#ff9e00 19.3px,#ff9600 19.8px,#ffa300 20.3px,#f6dc00 21.2px,#e0f700 21.8px,#c2fd01 22.2px,#8dff04 22.6px,#3fff17 23.1px,#1dff2e 23.4px,#07ff59 23.8px,#00fcc7 24.7px,#00f6e8 25.1px,#00e8fb 25.6px,#0099ff 27.7px,#007dff 28.7px,#005aff 33.1px,#003bff 40.7px,#0010ff 63.2px,#0000ff 66.5px,#0000ff 126.0px)"></div><div style="top:77px;background:linear-gradient(90deg,#0000ff 0.0px,#0002ff 10.1px,#000dff 10.5px,#0022ff 10.8px,#0047fd 11.1px,#009bf1 11.6px,#00d5d5 12.0px,#01eeb1 12.3px,#08fd68 12.8px,#1eff33 13.2px,#4cff12 13.6px,#97ff03 14.1px,#c4ff00 14.5px,#d9ff00 14.9px,#e9fb00 16.2px,#f8e400 16.9px,#ffb000 18.0px,#ff9a00 19.7px,#ffa600 20.2px,#f6dd00 21.1px,#e3f700 21.7px,#cafd00 22.1px,#a8ff02 22.4px,#5aff0e 22.9px,#25ff27 23.3px,#0eff45 23.6px,#02ff82 24.1px,#00fcca 24.7px,#00f5ea 25.1px,#00e7fb 25.6px,#0088ff 28.2px,#0076ff 29.4px,#004fff 35.5px,#0039ff 42.5px,#0010ff 64.4px,#0000ff 67.8px,#0000ff 126.0px)"></div><div style="top:78px;background:linear-gradient(90deg,#0000ff 0.0px,#0003ff 10.1px,#000eff 10.5px,#0024ff 10.8px,#004afd 11.1px,#009ff0 11.6px,#00cbdc 11.9px,#00e9bc 12.2px,#04fa83 12.6px,#11fe49 13.0px,#29ff27 13.3px,#5eff0c 13.7px,#a7ff02 14.2px,#c6ff00 14.5px,#daff00 14.9px,#e8fb00 16.2px,#f6e900 16.8px,#ffb400 17.8px,#ffa300 18.4px,#ff9f00 19.7px,#ffae00 20.2px,#f5e300 21.1px,#e1f900 21.7px,#c8fe00 22.1px,#a6ff02 22.4px,#58ff0e 22.9px,#24ff29 23.3px,#0eff47 23.6px,#01ff85 24.1px,#00fbcc 24.7px,#00f5eb 25.1px,#00e6fc 25.6px,#0088ff 28.2px,#0077ff 29.5px,#0050ff 35.9px,#0039ff 43.6px,#0010ff 65.7px,#0000ff 69.0px,#0000ff 126.0px)"></div><div style="top:79px;background:linear-gradient(90deg,#0000ff 0.0px,#0003ff 10.1px,#000fff 10.5px,#0026ff 10.8px,#004dfd 11.1px,#00a2ef 11.6px,#00ceda 11.9px,#01eab9 12.2px,#04fb80 12.6px,#12fe46 13.0px,#2bff25 13.3px,#61ff0b 13.7px,#aaff01 14.2px,#c7ff00 14.5px,#daff00 14.9px,#e9f900 16.3px,#f7e400 16.9px,#ffa900 18.0px,#ff9d00 18.6px,#ffa300 19.7px,#febb00 20.3px,#f0ed00 21.2px,#dbfc00 21.8px,#bdff01 22.2px,#87ff05 22.6px,#39ff1b 23.1px,#1aff34 23.4px,#06ff62 23.8px,#00fcc5 24.6px,#00f6e7 25.0px,#00e8fa 25.5px,#00a1ff 27.4px,#0084ff 28.4px,#006aff 31.6px,#0049ff 38.5px,#0035ff 46.9px,#0011ff 66.9px,#0000ff 70.3px,#0000ff 126.0px)"></div><div style="top:80px;background:linear-gradient(90deg,#0000ff 0.0px,#0003ff 10.1px,#0010ff 10.5px,#0028fe 10.8px,#0050fc 11.1px,#00a5ee 11.6px,#00d0d8 11.9px,#01ecb6 12.2px,#04fb7c 12.6px,#13fe44 13.0px,#2dff23 13.3px,#64ff0b 13.7px,#acff01 14.2px,#c9ff00 14.5px,#dbff00 14.9px,#e9f900 16.2px,#f6e300 16.8px,#ffa300 17.9px,#ff9600 18.4px,#ffa200 19.6px,#feb700 20.2px,#f3ea00 21.1px,#dffb00 21.7px,#c6fe01 22.1px,#a3ff03 22.4px,#54ff10 22.9px,#2bff23 23.2px,#12ff40 23.5px,#03ff72 23.9px,#00fcc8 24.6px,#00f6e9 25.0px,#00e7fb 25.5px,#008dff 28.0px,#007dff 29.1px,#0051ff 37.2px,#0037ff 47.1px,#0011ff 68.1px,#0000ff 71.5px,#0000ff 126.0px)"></div><div style="top:81px;background:linear-gradient(90deg,#0000ff 0.0px,#0002ff 10.0px,#0011ff 10.5px,#002afe 10.8px,#0053fc 11.1px,#00a9ed 11.6px,#00d3d6 11.9px,#01edb3 12.2px,#05fb79 12.6px,#15ff41 13.0px,#2fff22 13.3px,#67ff0a 13.7px,#afff01 14.2px,#caff00 14.5px,#dbff00 14.9px,#e8f900 16.0px,#f6e100 16.6px,#ffa100 17.6px,#ff8d00 18.1px,#ff8d00 18.6px,#ffab00 20.0px,#f7e100 21.0px,#e5f800 21.6px,#cefe00 22.0px,#afff02 22.3px,#62ff0c 22.8px,#2aff25 23.2px,#11ff43 23.5px,#03ff75 23.9px,#00fccb 24.6px,#00f5eb 25.0px,#00e6fb 25.5px,#008dff 28.0px,#007dff 29.2px,#004fff 38.7px,#0035ff 49.9px,#0010ff 69.3px,#0000ff 72.6px,#0000ff 126.0px)"></div><div style="top:82px;background:linear-gradient(90deg,#0000ff 0.0px,#0002ff 10.0px,#000dff 10.4px,#0022ff 10.7px,#0047fd 11.0px,#009cf1 11.5px,#00c9dd 11.8px,#00e8bd 12.1px,#03fa86 12.5px,#10fe4c 12.9px,#27ff29 13.2px,#5bff0d 13.6px,#a5ff02 14.1px,#c5ff00 14.4px,#daff00 14.8px,#e7f900 15.8px,#f3e600 16.3px,#fea600 17.2px,#ff8600 17.8px,#ff7f00 18.3px,#ff9f00 19.6px,#ffb000 20.2px,#f6e200 21.1px,#e2f900 21.7px,#c5fe01 22.1px,#91ff05 22.5px,#42ff18 23.0px,#1fff30 23.3px,#0bff51 23.6px,#01fe9f 24.2px,#00fad7 24.7px,#00f2f1 25.1px,#00defe 25.7px,#0090ff 27.9px,#0080ff 29.1px,#0050ff 39.5px,#0033ff 52.2px,#0010ff 70.5px,#0000ff 73.8px,#0000ff 126.0px)"></div><div style="top:83px;background:linear-gradient(90deg,#0000ff 0.0px,#0002ff 10.0px,#000dff 10.4px,#0023ff 10.7px,#004afd 11.0px,#009ff0 11.5px,#00ccdb 11.8px,#00e9bb 12.1px,#03fa83 12.5px,#11fe49 12.9px,#29ff28 13.2px,#5eff0d 13.6px,#a8ff02 14.1px,#c6ff00 14.4px,#daff00 14.8px,#e9f700 15.7px,#f4df00 16.2px,#ff9300 17.2px,#ff7600 17.8px,#ff7300 18.2px,#ff9b00 19.4px,#ffad00 20.2px,#f8dd00 21.1px,#e3f700 21.7px,#c5fd01 22.1px,#90ff05 22.5px,#40ff19 23.0px,#1eff32 23.3px,#07ff61 23.7px,#00fcc6 24.5px,#00f6e8 24.9px,#00e8fb 25.4px,#0093ff 27.8px,#0084ff 29.0px,#0053ff 39.5px,#0033ff 53.5px,#0010ff 71.7px,#0000ff 75.0px,#0000ff 126.0px)"></div><div style="top:84px;background:linear-gradient(90deg,#0000ff 0.0px,#0003ff 10.0px,#000eff 10.4px,#0025fe 10.7px,#004cfd 11.0px,#00a2ee 11.5px,#00ced9 11.8px,#00ebb8 12.1px,#04fb80 12.5px,#12fe47 12.9px,#2bff26 13.2px,#61ff0c 13.6px,#aaff02 14.1px,#c8ff00 14.4px,#dbff00 14.8px,#e8f800 15.5px,#f3e000 16.0px,#fe9500 16.9px,#ff7100 17.5px,#ff6600 18.0px,#ff7500 18.5px,#ff9900 19.3px,#ffad00 20.3px,#f7df00 21.2px,#e4f400 21.7px,#c5fc01 22.1px,#8eff05 22.5px,#3fff1a 23.0px,#1cff34 23.3px,#07ff64 23.7px,#00fcc9 24.5px,#00f5ea 24.9px,#00e7fb 25.4px,#0097ff 27.7px,#0087ff 29.0px,#005dff 38.1px,#0037ff 52.4px,#0010ff 72.9px,#0000ff 76.2px,#0000ff 126.0px)"></div><div style="top:85px;background:linear-gradient(90deg,#0000ff 0.0px,#0003ff 10.0px,#000fff 10.4px,#0027fe 10.7px,#004ffc 11.0px,#00a6ed 11.5px,#00d1d7 11.8px,#01ecb5 12.1px,#04fb7d 12.5px,#13ff45 12.9px,#2dff24 13.2px,#64ff0b 13.6px,#adff01 14.1px,#caff00 14.4px,#dcfe00 14.8px,#e9f600 15.4px,#f5da00 15.9px,#ff8100 16.9px,#ff6000 17.5px,#ff5a00 17.9px,#ff6a00 18.4px,#ff9600 19.2px,#ffa300 19.9px,#ffb300 20.5px,#f6e000 21.3px,#e0f500 21.8px,#b9fd02 22.2px,#6cff0c 22.7px,#30ff23 23.1px,#14ff41 23.4px,#04ff74 23.8px,#00fcc1 24.4px,#00f7e5 24.8px,#00e9fa 25.3px,#00b3ff 26.8px,#0094ff 27.9px,#0075ff 33.1px,#004cff 44.8px,#001cff 68.9px,#000fff 74.2px,#0000ff 77.3px,#0000ff 126.0px)"></div><div style="top:86px;background:linear-gradient(90deg,#0000ff 0.0px,#0003ff 10.0px,#0010ff 10.4px,#0029fe 10.7px,#0052fc 11.0px,#00a9ec 11.5px,#00d4d5 11.8px,#01eeb3 12.1px,#04fc7a 12.5px,#14ff42 12.9px,#2fff23 13.2px,#67ff0a 13.6px,#afff01 14.1px,#cbff00 14.4px,#e0fc00 14.9px,#ecee00 15.4px,#f7c900 15.9px,#ff7d00 16.7px,#ff5700 17.3px,#ff4e00 17.7px,#ff5500 18.1px,#ff9800 19.2px,#ffa300 19.7px,#ffac00 20.4px,#fad500 21.2px,#e8ef00 21.7px,#c5fa01 22.1px,#8cfe06 22.5px,#49ff16 22.9px,#23ff2e 23.2px,#0dff50 23.5px,#01fe92 24.0px,#00fbce 24.5px,#00f4ed 24.9px,#00e5fc 25.4px,#009dff 27.5px,#008fff 28.8px,#0064ff 38.1px,#002fff 59.1px,#0010ff 75.1px,#0000ff 78.3px,#0000ff 126.0px)"></div><div style="top:87px;background:linear-gradient(90deg,#0000ff 0.0px,#0002ff 9.9px,#000cff 10.3px,#0021ff 10.6px,#0047fd 10.9px,#009df0 11.4px,#00cbdb 11.7px,#00e9bb 12.0px,#03fa84 12.4px,#10fe4b 12.8px,#27ff29 13.1px,#5cff0d 13.5px,#a7ff02 14.0px,#c6ff00 14.3px,#dcfd00 14.7px,#eaf000 15.2px,#f4d500 15.6px,#ff7000 16.6px,#ff4a00 17.2px,#ff4100 17.6px,#ff4a00 18.0px,#ff7200 18.6px,#ff9c00 19.2px,#ffa700 19.6px,#ffaa00 20.4px,#fdc500 21.0px,#efe700 21.6px,#d2f601 22.0px,#9dfd04 22.4px,#49ff17 22.9px,#23ff2f 23.2px,#0dff51 23.5px,#01fe94 24.0px,#00fbd0 24.5px,#00f3ee 24.9px,#00e5fc 25.4px,#00a0ff 27.4px,#0092ff 28.6px,#0067ff 38.3px,#0029ff 62.8px,#0010ff 76.1px,#0000ff 79.3px,#0000ff 126.0px)"></div><div style="top:88px;background:linear-gradient(90deg,#0000ff 0.0px,#0003ff 9.9px,#000eff 10.3px,#0025fe 10.6px,#004cfc 10.9px,#00a3ed 11.4px,#00cfd7 11.7px,#00ebb6 12.0px,#04fb7d 12.4px,#12fe45 12.8px,#2cff25 13.1px,#62ff0b 13.5px,#abff01 14.0px,#c9fe00 14.3px,#e2f900 14.8px,#ede800 15.2px,#f9bb00 15.7px,#ff7100 16.4px,#ff4600 17.0px,#ff3900 17.4px,#ff3e00 17.8px,#ff5a00 18.3px,#ff9c00 19.1px,#ffab00 19.5px,#ffa900 20.4px,#febb00 20.9px,#f5dd00 21.5px,#def000 21.9px,#bdf902 22.2px,#6cfe0c 22.7px,#30ff25 23.1px,#14ff44 23.4px,#04ff78 23.8px,#00fcc5 24.4px,#00f6e8 24.8px,#00e8fb 25.3px,#00a2ff 27.4px,#0093ff 28.7px,#006bff 38.0px,#0029ff 64.1px,#0010ff 77.1px,#0000ff 80.3px,#0000ff 126.0px)"></div><div style="top:89px;background:linear-gradient(90deg,#0000ff 0.0px,#0003ff 9.9px,#0010ff 10.3px,#0028fe 10.6px,#0051fc 10.9px,#00a8eb 11.4px,#00d3d3 11.7px,#01edb0 12.0px,#05fc77 12.4px,#15ff40 12.8px,#30ff21 13.1px,#68ff0a 13.5px,#b0ff01 14.0px,#d3fd00 14.4px,#e8f200 14.9px,#f3d700 15.3px,#fe7600 16.2px,#ff4800 16.8px,#ff3500 17.3px,#ff3900 17.7px,#ff5500 18.2px,#ffa300 19.1px,#ffb100 19.5px,#ffa800 20.4px,#feb700 20.9px,#f6d900 21.5px,#e1ed00 21.9px,#c1f702 22.2px,#70fe0c 22.7px,#32ff25 23.1px,#15ff43 23.4px,#04ff77 23.8px,#00fcc5 24.4px,#00f6e8 24.8px,#00e8fb 25.3px,#00a3ff 27.4px,#0095ff 28.7px,#0070ff 37.5px,#0028ff 65.3px,#0010ff 78.0px,#0000ff 81.2px,#0000ff 126.0px)"></div><div style="top:90px;background:linear-gradient(90deg,#0000ff 0.0px,#0002ff 9.8px,#000cff 10.2px,#0021fe 10.5px,#0046fd 10.8px,#009dee 11.3px,#00cbd9 11.6px,#00e9b8 11.9px,#04fa7f 12.3px,#11fe47 12.7px,#2aff26 13.0px,#5fff0c 13.4px,#a9ff01 13.9px,#d0fd00 14.3px,#e7f100 14.8px,#f3d500 15.2px,#fe7300 16.1px,#ff4400 16.7px,#ff3100 17.2px,#ff3400 17.6px,#ff4f00 18.1px,#ffa900 19.1px,#ffb500 19.4px,#ffaf00 19.9px,#ffa800 20.5px,#feb800 21.0px,#f4da00 21.6px,#dbee01 22.0px,#b7f802 22.3px,#64fe10 22.8px,#2aff2d 23.2px,#10ff4f 23.5px,#03ff84 23.9px,#00fbcf 24.5px,#00f4ee 24.9px,#00e5fc 25.4px,#00a4ff 27.4px,#0096ff 28.7px,#0072ff 37.4px,#0027ff 66.7px,#0010ff 78.8px,#0000ff 82.0px,#0000ff 126.0px)"></div><div style="top:91px;background:linear-gradient(90deg,#0000ff 0.0px,#0002ff 9.8px,#000eff 10.2px,#0024fe 10.5px,#004bfc 10.8px,#00a2ec 11.3px,#00cfd5 11.6px,#01ebb2 11.9px,#04fb79 12.3px,#14ff41 12.7px,#2eff22 13.0px,#65ff0a 13.4px,#aeff01 13.9px,#d3fc00 14.3px,#ebeb00 14.8px,#f6c900 15.2px,#ff6600 16.1px,#ff3b00 16.7px,#ff2b00 17.2px,#ff3200 17.6px,#ff5200 18.1px,#ffa800 19.0px,#ffb800 19.3px,#ffb700 19.7px,#ffa600 20.4px,#ffaf00 20.9px,#f6d600 21.6px,#dfeb01 22.0px,#bdf602 22.3px,#6cfe10 22.8px,#2fff2d 23.2px,#13ff4e 23.5px,#04ff84 23.9px,#00fbcf 24.5px,#00f4ed 24.9px,#00e6fc 25.4px,#00a5ff 27.4px,#0098ff 28.7px,#0074ff 37.7px,#0026ff 68.1px,#0010ff 79.7px,#0000ff 82.9px,#0000ff 126.0px)"></div><div style="top:92px;background:linear-gradient(90deg,#0000ff 0.0px,#0003ff 9.8px,#000fff 10.2px,#0028fe 10.5px,#0051fc 10.8px,#00a8ea 11.3px,#00d3d1 11.6px,#01eeac 11.9px,#05fc72 12.3px,#17ff3c 12.7px,#33ff1e 13.0px,#6bff09 13.4px,#b3fe01 13.9px,#d7fa00 14.3px,#eaea00 14.7px,#f6c700 15.1px,#ff6b00 15.9px,#ff3d00 16.5px,#ff2800 17.0px,#ff2a00 17.4px,#ff4400 17.9px,#ff7e00 18.5px,#ffaf00 19.0px,#ffbd00 19.3px,#ffbb00 19.7px,#ffa600 20.4px,#ffac00 20.9px,#f7d200 21.6px,#e2e801 22.0px,#c3f402 22.3px,#73fd0f 22.8px,#34ff2c 23.2px,#16ff4d 23.5px,#05ff83 23.9px,#00fbcf 24.5px,#00f4ed 24.9px,#00e6fc 25.4px,#00a6ff 27.4px,#0099ff 28.7px,#0074ff 38.3px,#0026ff 69.2px,#0010ff 80.5px,#0000ff 83.7px,#0000ff 126.0px)"></div><div style="top:93px;background:linear-gradient(90deg,#0000ff 0.0px,#0003ff 9.8px,#0011ff 10.2px,#002bfe 10.5px,#0056fb 10.8px,#009ced 11.2px,#00cbd6 11.5px,#01e9b4 11.8px,#04fa7a 12.2px,#13fe42 12.6px,#2cff23 12.9px,#62ff0a 13.3px,#abfe01 13.8px,#d3f900 14.2px,#eae800 14.6px,#f6c400 15.0px,#ff6800 15.8px,#ff3900 16.4px,#ff2400 16.9px,#ff2500 17.3px,#ff3e00 17.8px,#ff6d00 18.3px,#ffaf00 18.9px,#ffc100 19.2px,#ffc100 19.6px,#ffa600 20.4px,#ffa900 20.9px,#f9cd00 21.6px,#e6e500 22.0px,#caf202 22.3px,#8efb0b 22.7px,#4bfe23 23.1px,#24ff41 23.4px,#0eff67 23.7px,#01feab 24.2px,#00fad8 24.6px,#00f2f2 25.0px,#00e0fe 25.6px,#00a8ff 27.4px,#009bff 28.8px,#0074ff 39.4px,#0026ff 70.1px,#0010ff 81.3px,#0000ff 84.5px,#0000ff 126.0px)"></div><div style="top:94px;background:linear-gradient(90deg,#0000ff 0.0px,#0002ff 9.7px,#000dff 10.1px,#0024fe 10.4px,#004bfc 10.7px,#00a2eb 11.2px,#00cfd2 11.5px,#01ebae 11.8px,#05fb74 12.2px,#16ff3d 12.6px,#31ff1f 12.9px,#68ff09 13.3px,#b1fd01 13.8px,#d7f600 14.2px,#eddf00 14.6px,#faaa00 15.1px,#ff6400 15.7px,#ff3500 16.3px,#ff2000 16.8px,#ff2000 17.2px,#ff3800 17.7px,#ff6700 18.2px,#ffad00 18.8px,#ffc400 19.1px,#ffc900 19.4px,#ffb500 20.0px,#ffa400 20.5px,#ffaa00 21.0px,#f8cf00 21.7px,#e3e601 22.1px,#c4f303 22.4px,#74fd14 22.9px,#35ff35 23.3px,#17ff59 23.6px,#05fe90 24.0px,#00fbce 24.5px,#00f4ed 24.9px,#00e7fc 25.4px,#00a9ff 27.4px,#009cff 28.9px,#0073ff 40.7px,#0026ff 70.9px,#0010ff 82.0px,#0000ff 85.2px,#0000ff 126.0px)"></div><div style="top:95px;background:linear-gradient(90deg,#0000ff 0.0px,#0003ff 9.7px,#000fff 10.1px,#0027fe 10.4px,#0050fb 10.7px,#0097ee 11.1px,#00c7d8 11.4px,#01e7b6 11.7px,#04fa7d 12.1px,#12fe44 12.5px,#2aff24 12.8px,#5fff0b 13.2px,#b5fd01 13.8px,#dbf300 14.2px,#efd900 14.6px,#fc9400 15.2px,#ff5c00 15.7px,#ff3000 16.3px,#ff1c00 16.8px,#ff1f00 17.2px,#ff3900 17.7px,#ff6a00 18.2px,#ffb200 18.8px,#ffc900 19.1px,#ffcd00 19.4px,#ffb700 20.0px,#ffa300 20.6px,#ffaa00 21.1px,#f6d000 21.8px,#e0e701 22.2px,#bef405 22.5px,#7ffc13 22.9px,#3eff34 23.3px,#1bff58 23.6px,#06fe8f 24.0px,#00fbce 24.5px,#00f4ed 24.9px,#00e7fc 25.4px,#00acff 27.3px,#00a0ff 28.6px,#0072ff 42.3px,#0026ff 71.6px,#0010ff 82.8px,#0000ff 85.9px,#0000ff 126.0px)"></div><div style="top:96px;background:linear-gradient(90deg,#0000ff 0.0px,#0003ff 9.7px,#0011ff 10.1px,#002afe 10.4px,#0055fa 10.7px,#009cec 11.1px,#00cbd4 11.4px,#01e9b0 11.7px,#05fa76 12.1px,#15fe3f 12.5px,#2fff20 12.8px,#65ff09 13.2px,#aefd01 13.7px,#d6f600 14.1px,#ece000 14.5px,#faab00 15.0px,#ff6400 15.6px,#ff3500 16.2px,#ff1e00 16.7px,#ff1d00 17.1px,#ff2c00 17.5px,#ff5500 18.0px,#feb500 18.8px,#fecb00 19.1px,#fed000 19.4px,#ffbf00 19.9px,#ffa500 20.5px,#ffa400 21.0px,#fcbf00 21.6px,#ecde01 22.1px,#d3ee03 22.4px,#9bfa0d 22.8px,#57fe28 23.2px,#2dff49 23.5px,#12ff72 23.8px,#03feaa 24.2px,#00fad7 24.6px,#00f2f2 25.0px,#00e1fe 25.6px,#00adff 27.3px,#00a2ff 28.6px,#0071ff 44.2px,#0026ff 72.4px,#0010ff 83.5px,#0000ff 86.6px,#0000ff 126.0px)"></div><div style="top:97px;background:linear-gradient(90deg,#0000ff 0.0px,#0002ff 9.6px,#000dff 10.0px,#0023fe 10.3px,#004afb 10.6px,#0090ef 11.0px,#00cfd0 11.4px,#01ebab 11.7px,#06fb70 12.1px,#17ff39 12.5px,#34ff1c 12.8px,#6bff08 13.2px,#b2fd01 13.7px,#d8f500 14.1px,#edde00 14.5px,#faa800 15.0px,#ff6300 15.6px,#ff3400 16.2px,#ff1e00 16.7px,#ff1d00 17.1px,#ff3300 17.6px,#ff6000 18.1px,#feb600 18.8px,#fdce00 19.1px,#fed300 19.4px,#ffc100 19.9px,#ffa300 20.6px,#ffa200 21.0px,#feb500 21.5px,#f4d400 22.0px,#e2e601 22.3px,#c1f305 22.6px,#81fc16 23.0px,#3ffe3a 23.4px,#1cff62 23.7px,#0afe8d 24.0px,#01fbcd 24.5px,#00f5ed 24.9px,#00e7fc 25.4px,#00afff 27.3px,#00a3ff 28.7px,#006fff 46.4px,#0026ff 73.3px,#0010ff 84.1px,#0000ff 87.3px,#0000ff 126.0px)"></div><div style="top:98px;background:linear-gradient(90deg,#0000ff 0.0px,#0003ff 9.6px,#000fff 10.0px,#0026fe 10.3px,#004ffb 10.6px,#0096ed 11.0px,#00c6d6 11.3px,#01e7b3 11.6px,#04fa78 12.0px,#14fe40 12.4px,#2dff21 12.7px,#62ff0a 13.1px,#b7fd01 13.7px,#daf500 14.1px,#eedd00 14.5px,#fba600 15.0px,#ff6100 15.6px,#ff3300 16.2px,#ff1d00 16.7px,#ff1d00 17.1px,#ff3400 17.6px,#ff6100 18.1px,#fdb800 18.8px,#fdd000 19.1px,#fdd600 19.4px,#fec400 19.9px,#ffa300 20.6px,#ffa000 21.0px,#feb100 21.5px,#f2d600 22.1px,#dfe702 22.4px,#bdf408 22.7px,#7dfc1c 23.1px,#3dff46 23.5px,#1bff6f 23.8px,#06fea9 24.2px,#01fad7 24.6px,#00f3f2 25.0px,#00e2fe 25.6px,#00b0ff 27.3px,#00a5ff 28.7px,#006cff 48.9px,#0026ff 74.2px,#0010ff 84.8px,#0000ff 87.9px,#0000ff 126.0px)"></div><div style="top:99px;background:linear-gradient(90deg,#0000ff 0.0px,#0003ff 9.6px,#0010ff 10.0px,#002afe 10.3px,#0054fa 10.6px,#009cea 11.0px,#00cbd1 11.3px,#01e9ad 11.6px,#05fa72 12.0px,#16fe3b 12.4px,#32ff1d 12.7px,#68ff08 13.1px,#affe01 13.6px,#d6f700 14.0px,#ece300 14.4px,#f8bc00 14.8px,#ff6900 15.5px,#ff3800 16.1px,#ff1f00 16.6px,#ff1b00 17.0px,#ff2800 17.4px,#ff4d00 17.9px,#fd9500 18.5px,#fcc400 18.9px,#fcd600 19.2px,#fdd700 19.5px,#ffa100 20.7px,#ffa000 21.1px,#feb200 21.6px,#f5d100 22.1px,#dbe902 22.5px,#b6f509 22.8px,#73fd21 23.2px,#34ff4f 23.6px,#16ff7b 23.9px,#04fdb5 24.3px,#01f9df 24.7px,#00f0f5 25.1px,#00dcff 25.8px,#00b1ff 27.3px,#00a6ff 28.8px,#004bff 61.1px,#0022ff 77.1px,#0010ff 85.4px,#0000ff 88.6px,#0000ff 126.0px)"></div><div style="top:100px;background:linear-gradient(90deg,#0000ff 0.0px,#0002ff 9.5px,#000dff 9.9px,#0022fe 10.2px,#0049fb 10.5px,#0090ee 10.9px,#00cfcd 11.3px,#01eba7 11.6px,#06fb6b 12.0px,#19ff36 12.4px,#43ff13 12.8px,#8cff03 13.3px,#befd00 13.7px,#def300 14.1px,#f0d900 14.5px,#fd8800 15.2px,#ff5400 15.7px,#ff2b00 16.3px,#ff1b00 16.8px,#ff2000 17.2px,#ff3c00 17.7px,#fe6f00 18.2px,#fbbb00 18.8px,#fbd400 19.1px,#fbdb00 19.4px,#fdce00 19.8px,#ffa500 20.6px,#ff9e00 21.1px,#feaf00 21.6px,#f3d400 22.2px,#dfe602 22.5px,#bef309 22.8px,#7efc21 23.2px,#3dfe4f 23.6px,#1bff7b 23.9px,#06fdb4 24.3px,#01f9df 24.7px,#00f0f5 25.1px,#00dcff 25.8px,#00b2ff 27.3px,#00a7ff 28.8px,#0054ff 59.5px,#0023ff 77.5px,#000fff 86.1px,#0000ff 89.2px,#0000ff 126.0px)"></div><div style="top:101px;background:linear-gradient(90deg,#0000ff 0.0px,#0003ff 9.5px,#000eff 9.9px,#0026fe 10.2px,#004efa 10.5px,#0096ec 10.9px,#00c6d3 11.2px,#01e7af 11.5px,#05fa74 11.9px,#15fe3c 12.3px,#3bff17 12.7px,#74ff06 13.1px,#b8fd01 13.6px,#daf600 14.0px,#eee000 14.4px,#faab00 14.9px,#ff6500 15.5px,#ff3600 16.1px,#ff1e00 16.6px,#ff1b00 17.0px,#ff2f00 17.5px,#ff5900 18.0px,#fac600 18.9px,#fad900 19.2px,#fbda00 19.5px,#febe00 20.1px,#ffa200 20.7px,#ff9e00 21.2px,#feb200 21.7px,#f4d200 22.2px,#e2e402 22.5px,#c1f209 22.8px,#81fc20 23.2px,#3ffe4e 23.6px,#1cff7a 23.9px,#0afea6 24.2px,#01fad6 24.6px,#00f3f1 25.0px,#00e3fe 25.6px,#00b3ff 27.3px,#00a8ff 28.9px,#0057ff 59.7px,#0023ff 78.2px,#000fff 86.7px,#0000ff 89.8px,#0000ff 126.0px)"></div><div style="top:102px;background:linear-gradient(90deg,#0000ff 0.0px,#0003ff 9.5px,#0010ff 9.9px,#0029fe 10.2px,#0054fa 10.5px,#009be9 10.9px,#00cacf 11.2px,#01e9a9 11.5px,#06fa6d 11.9px,#18fe37 12.3px,#40ff14 12.7px,#89ff03 13.2px,#bcfd00 13.6px,#dcf500 14.0px,#efde00 14.4px,#fba800 14.9px,#ff6300 15.5px,#ff3500 16.1px,#ff1e00 16.6px,#ff1b00 17.0px,#ff2f00 17.5px,#fe5a00 18.0px,#fac700 18.9px,#f9da00 19.2px,#fbdc00 19.5px,#febf00 20.1px,#ffa200 20.7px,#ff9d00 21.2px,#feb000 21.7px,#f5cf00 22.2px,#dbe703 22.6px,#b6f40a 22.9px,#73fc25 23.3px,#33fe58 23.7px,#15fe86 24.0px,#04fcbf 24.4px,#00f7e6 24.8px,#00eef8 25.2px,#00d1ff 26.2px,#00b2ff 27.4px,#00a8ff 29.8px,#005aff 60.2px,#0023ff 79.0px,#000fff 87.3px,#0000ff 90.4px,#0000ff 126.0px)"></div><div style="top:103px;background:linear-gradient(90deg,#0000ff 0.0px,#0002ff 9.4px,#000cff 9.8px,#0022fe 10.1px,#0049fb 10.4px,#008fed 10.8px,#00cfcb 11.2px,#01eca3 11.5px,#07fb67 11.9px,#1bff32 12.3px,#46ff11 12.7px,#8eff03 13.2px,#bffd00 13.6px,#def500 14.0px,#f0dd00 14.4px,#fba600 14.9px,#ff6100 15.5px,#ff3400 16.1px,#ff1d00 16.6px,#ff1b00 17.0px,#ff3000 17.5px,#fe5a00 18.0px,#f9c800 18.9px,#f9db00 19.2px,#fadd00 19.5px,#fec000 20.1px,#ff9e00 20.8px,#ff9c00 21.2px,#fead00 21.7px,#f2d301 22.3px,#dfe503 22.6px,#bdf30a 22.9px,#7dfc25 23.3px,#3cfe57 23.7px,#1bfe86 24.0px,#06fcbf 24.4px,#01f7e6 24.8px,#00eef8 25.2px,#00d1ff 26.2px,#00b3ff 27.4px,#00a9ff 29.9px,#005dff 60.6px,#0023ff 79.8px,#000fff 87.9px,#0000ff 91.0px,#0000ff 126.0px)"></div><div style="top:104px;background:linear-gradient(90deg,#0000ff 0.0px,#0002ff 9.4px,#000eff 9.8px,#0025fe 10.1px,#004efa 10.4px,#0095ea 10.8px,#00c6d1 11.1px,#01e7ab 11.4px,#06fa6f 11.8px,#17fe38 12.2px,#3eff15 12.6px,#85ff03 13.1px,#b9fe00 13.5px,#daf700 13.9px,#ede300 14.3px,#f8bc00 14.7px,#ff6900 15.4px,#ff3900 16.0px,#ff1d00 16.6px,#ff1c00 17.0px,#ff3000 17.5px,#fe5b00 18.0px,#f9c900 18.9px,#f8dc00 19.2px,#fade00 19.5px,#fec100 20.1px,#ff9e00 20.8px,#ff9a00 21.2px,#feab00 21.7px,#f3d101 22.3px,#e1e403 22.6px,#c0f20a 22.9px,#80fb25 23.3px,#3efe57 23.7px,#1cfe85 24.0px,#06fcbf 24.4px,#01f7e6 24.8px,#00eff8 25.2px,#00d1ff 26.2px,#00b4ff 27.4px,#00a9ff 30.0px,#0062ff 60.2px,#0023ff 80.6px,#0010ff 88.5px,#0000ff 91.6px,#0000ff 126.0px)"></div><div style="top:105px;background:linear-gradient(90deg,#0000ff 0.0px,#0003ff 9.4px,#0010ff 9.8px,#0029fe 10.1px,#0053f9 10.4px,#009be8 10.8px,#00cacd 11.1px,#01e9a6 11.4px,#07fa69 11.8px,#1afe34 12.2px,#43ff12 12.6px,#8bff03 13.1px,#bdfd00 13.5px,#dcf700 13.9px,#eee100 14.3px,#faad00 14.8px,#ff6800 15.4px,#ff3800 16.0px,#ff1d00 16.6px,#ff1c00 17.0px,#ff3100 17.5px,#fe5c00 18.0px,#f8ca00 18.9px,#f8dd00 19.2px,#f9df00 19.5px,#fec200 20.1px,#ff9e00 20.8px,#ff9900 21.2px,#fea900 21.7px,#f4ce01 22.3px,#e3e203 22.6px,#c3f00a 22.9px,#83fb24 23.3px,#40fe56 23.7px,#1cfe85 24.0px,#0afdb1 24.3px,#01f9de 24.7px,#00f1f5 25.1px,#00deff 25.8px,#00b6ff 27.3px,#00adff 29.0px,#0067ff 59.8px,#0023ff 81.4px,#000fff 89.2px,#0000ff 92.3px,#0000ff 126.0px)"></div><div style="top:106px;background:linear-gradient(90deg,#0000ff 0.0px,#0003ff 9.4px,#0011ff 9.8px,#002cfd 10.1px,#0058f8 10.4px,#00a1e5 10.8px,#00cfc8 11.1px,#01eba0 11.4px,#08fb63 11.8px,#1dff2f 12.2px,#49ff10 12.6px,#90ff02 13.1px,#c0fd00 13.5px,#def600 13.9px,#efe000 14.3px,#faab00 14.8px,#ff6600 15.4px,#ff3700 16.0px,#ff1c00 16.6px,#ff1c00 17.0px,#ff3200 17.5px,#fe5c00 18.0px,#f8cb00 18.9px,#f7de00 19.2px,#f9e000 19.5px,#fec300 20.1px,#ff9e00 20.8px,#ff9900 21.3px,#feac00 21.8px,#f6cc00 22.3px,#dde503 22.7px,#baf30c 23.0px,#8afa1f 23.3px,#57fe42 23.6px,#2cfe70 23.9px,#12fea0 24.2px,#03fad4 24.6px,#00f4f1 25.0px,#00e4fe 25.6px,#00b7ff 27.3px,#00aeff 29.0px,#006cff 59.3px,#0023ff 82.4px,#000fff 89.9px,#0000ff 92.9px,#0000ff 126.0px)"></div><div style="top:107px;background:linear-gradient(90deg,#0000ff 0.0px,#0002ff 9.3px,#000dff 9.7px,#0024fe 10.0px,#004dfa 10.3px,#0094e9 10.7px,#00c5cf 11.0px,#01e6a8 11.3px,#06fa6b 11.7px,#19fe35 12.1px,#41ff13 12.5px,#88ff03 13.0px,#bafe00 13.4px,#daf800 13.8px,#ece600 14.2px,#f7c000 14.6px,#ff6400 15.4px,#ff3600 16.0px,#ff1c00 16.6px,#ff1c00 17.0px,#ff3200 17.5px,#fe5d00 18.0px,#f7cc00 18.9px,#f6df00 19.2px,#f8e100 19.5px,#fdca00 20.0px,#ff9e00 20.8px,#ff9800 21.3px,#fea900 21.8px,#f3d001 22.4px,#e0e303 22.7px,#bff20c 23.0px,#90fa1f 23.3px,#5cfd42 23.6px,#30fe70 23.9px,#14fea0 24.2px,#04fad4 24.6px,#00f4f1 25.0px,#00e7fd 25.5px,#00b8ff 27.3px,#00aeff 29.0px,#006fff 59.6px,#0022ff 83.4px,#000fff 90.5px,#0000ff 93.5px,#0000ff 126.0px)"></div><div style="top:108px;background:linear-gradient(90deg,#0000ff 0.0px,#0003ff 9.3px,#000fff 9.7px,#0028fd 10.0px,#0052f9 10.3px,#009ae6 10.7px,#00caca 11.0px,#01e9a2 11.3px,#08fa65 11.7px,#1cfe30 12.1px,#46ff10 12.5px,#8dff02 13.0px,#befe00 13.4px,#dcf800 13.8px,#ede400 14.2px,#f8be00 14.6px,#ff6200 15.4px,#ff3500 16.0px,#ff1c00 16.6px,#ff1c00 17.0px,#ff3300 17.5px,#fe5e00 18.0px,#f7cd00 18.9px,#f6e000 19.2px,#f8e200 19.5px,#fccb00 20.0px,#ff9e00 20.8px,#ff9700 21.3px,#fea700 21.8px,#f4ce01 22.4px,#e2e103 22.7px,#c2f00b 23.0px,#93f91f 23.3px,#5ffd41 23.6px,#31fe6f 23.9px,#14fe9f 24.2px,#04fbd3 24.6px,#00f4f1 25.0px,#00e7fd 25.5px,#00b8ff 27.3px,#00afff 29.0px,#0071ff 60.3px,#0022ff 84.2px,#000fff 91.2px,#0000ff 94.2px,#0000ff 126.0px)"></div><div style="top:109px;background:linear-gradient(90deg,#0000ff 0.0px,#0003ff 9.3px,#0011ff 9.7px,#002bfd 10.0px,#0057f8 10.3px,#00a0e4 10.7px,#00cec6 11.0px,#02eb9c 11.3px,#09fb5e 11.7px,#20ff2b 12.1px,#4cff0e 12.5px,#92ff02 13.0px,#c1fe00 13.4px,#e2f400 13.9px,#f1db00 14.3px,#fc9700 14.9px,#ff5700 15.5px,#ff2e00 16.1px,#ff1b00 16.6px,#ff1c00 17.0px,#ff3300 17.5px,#fe5f00 18.0px,#f7cd00 18.9px,#f5e100 19.2px,#f7e300 19.5px,#fccc00 20.0px,#ff9f00 20.8px,#ff9600 21.3px,#fea500 21.8px,#f5cb01 22.4px,#e4df03 22.7px,#c4ef0a 23.0px,#96f81d 23.3px,#61fd3e 23.6px,#33fe6c 23.9px,#15fe9d 24.2px,#04fbd3 24.6px,#00f4f1 25.0px,#00e8fd 25.5px,#00b9ff 27.3px,#00b0ff 29.0px,#0073ff 61.2px,#0022ff 85.1px,#000eff 91.9px,#0000ff 94.9px,#0000ff 126.0px)"></div><div style="top:110px;background:linear-gradient(90deg,#0000ff 0.0px,#0003ff 9.3px,#000fff 9.7px,#0027ff 10.0px,#004efd 10.3px,#00a4f2 10.8px,#00cfe1 11.1px,#00ebc6 11.4px,#01fb94 11.8px,#0bff3a 12.5px,#1dff17 12.9px,#3cff04 13.4px,#71ff00 14.2px,#d4fd00 15.2px,#f1f700 15.7px,#fee400 16.4px,#fee200 17.0px,#f5f100 17.6px,#dafb00 18.1px,#9eff00 18.8px,#91ff00 19.1px,#96ff00 19.5px,#d5ff00 20.7px,#e1ff00 21.2px,#d9ff00 21.7px,#b8ff00 22.3px,#8aff05 22.8px,#5cff18 23.2px,#3aff38 23.5px,#18fe7b 23.9px,#07fabd 24.3px,#02f5df 24.6px,#00ebf6 25.0px,#00d7ff 25.8px,#00b6ff 27.5px,#0073ff 62.5px,#0022ff 85.9px,#000fff 92.5px,#0000ff 95.5px,#0000ff 126.0px)"></div></div><div class="hm" style="left:298px;width:126px"><div style="top:16px;background:linear-gradient(90deg,#0000ff 0.0px,#0003ff 13.1px,#0012ff 13.6px,#0038ff 14.1px,#006cff 14.7px,#0085ff 15.2px,#00d7ff 18.9px,#00ecf6 19.6px,#00f6dd 20.0px,#01fbb9 20.3px,#0cfe68 20.8px,#20ff3b 21.1px,#41fe1b 21.4px,#7ef607 21.8px,#aee602 22.1px,#d4c600 22.4px,#ed9a00 22.7px,#fc5100 23.2px,#fe3300 23.5px,#ff2200 23.8px,#ff2000 24.1px,#ff2b00 24.4px,#fd4600 24.7px,#f57e00 25.1px,#dcbd00 25.5px,#b9e000 25.8px,#8cf402 26.1px,#40fe0e 26.6px,#20ff1e 26.9px,#09ff41 27.3px,#00ff91 28.0px,#00fdd1 28.6px,#00f7f1 29.1px,#00ebfe 29.7px,#00a9ff 32.1px,#007eff 33.1px,#0060ff 33.8px,#0051ff 35.0px,#001dff 44.2px,#0000ff 49.7px,#0000ff 126.0px)"></div><div style="top:17px;background:linear-gradient(90deg,#0000ff 0.0px,#0002ff 13.1px,#000fff 13.6px,#0033ff 14.1px,#0070ff 14.8px,#008aff 15.4px,#00d3ff 18.8px,#00e9f9 19.5px,#00f4e6 19.9px,#01f9c8 20.2px,#08fe7b 20.7px,#1eff3d 21.1px,#3efe1d 21.4px,#7bf707 21.8px,#abe702 22.1px,#d2c800 22.4px,#ec9d00 22.7px,#fb6000 23.1px,#fe3400 23.5px,#ff2300 23.8px,#ff1f00 24.1px,#ff2a00 24.4px,#fd4400 24.7px,#f57b00 25.1px,#ddba00 25.5px,#bbde00 25.8px,#8ff302 26.1px,#42fe0d 26.6px,#21ff1e 26.9px,#09ff41 27.3px,#00ff91 28.0px,#00fdd1 28.6px,#00f7f2 29.1px,#00ebfe 29.7px,#00a9ff 32.1px,#0084ff 33.0px,#0060ff 33.8px,#0051ff 35.0px,#0020ff 43.3px,#0000ff 49.2px,#0000ff 126.0px)"></div><div style="top:18px;background:linear-gradient(90deg,#0000ff 0.0px,#0003ff 13.2px,#0012ff 13.7px,#0039ff 14.2px,#006dff 14.8px,#0086ff 15.3px,#00d6ff 18.9px,#00ebf7 19.6px,#00f5df 20.0px,#01fbbd 20.3px,#0bfe6d 20.8px,#25ff33 21.2px,#49fd17 21.5px,#88f305 21.9px,#b7df01 22.2px,#dabd00 22.5px,#f57f00 22.9px,#fd4800 23.3px,#ff2d00 23.6px,#ff2000 23.9px,#ff2100 24.2px,#fe3000 24.5px,#fc4d00 24.8px,#ed9800 25.3px,#d5c500 25.6px,#afe601 25.9px,#71f905 26.3px,#37fe12 26.7px,#1aff25 27.0px,#07ff4b 27.4px,#00febe 28.4px,#00fae8 28.9px,#00f1fa 29.4px,#00c1ff 31.3px,#0092ff 32.7px,#0063ff 33.7px,#0054ff 34.6px,#0027ff 41.6px,#0000ff 48.8px,#0000ff 126.0px)"></div><div style="top:19px;background:linear-gradient(90deg,#0000ff 0.0px,#0002ff 13.2px,#0010ff 13.7px,#0034ff 14.2px,#0071ff 14.9px,#008bff 15.5px,#00d5ff 18.9px,#00ebf7 19.6px,#00f5e0 20.0px,#01fabf 20.3px,#0afe70 20.8px,#23ff35 21.2px,#47fd18 21.5px,#85f406 21.9px,#b4e101 22.2px,#d9bf00 22.5px,#f48200 22.9px,#fd4a00 23.3px,#ff2e00 23.6px,#ff2000 23.9px,#ff2000 24.2px,#fe2e00 24.5px,#fd4b00 24.8px,#ee9500 25.3px,#d6c300 25.6px,#b2e401 25.9px,#73f904 26.3px,#39fe11 26.7px,#1bff24 27.0px,#07ff4b 27.4px,#00feb4 28.3px,#00fbe2 28.8px,#00f3f8 29.3px,#00d9ff 30.4px,#009aff 32.5px,#0060ff 33.8px,#0050ff 35.0px,#0025ff 41.6px,#0000ff 48.4px,#0000ff 126.0px)"></div><div style="top:20px;background:linear-gradient(90deg,#0000ff 0.0px,#0003ff 13.3px,#0012ff 13.8px,#0039ff 14.3px,#006fff 14.9px,#0087ff 15.4px,#00d4ff 18.9px,#00eaf7 19.6px,#00f5e2 20.0px,#01fac1 20.3px,#09fe73 20.8px,#21ff37 21.2px,#44fd19 21.5px,#82f506 21.9px,#b1e202 22.2px,#d7c100 22.5px,#ee9400 22.8px,#fd4c00 23.3px,#ff2f00 23.6px,#ff2100 23.9px,#ff2000 24.2px,#ff2d00 24.5px,#fd4900 24.8px,#f38200 25.2px,#d8c000 25.6px,#b4e201 25.9px,#76f804 26.3px,#3bfe11 26.7px,#1cff24 27.0px,#07ff4a 27.4px,#00feb5 28.3px,#00fbe2 28.8px,#00f3f9 29.3px,#00d9ff 30.4px,#009aff 32.5px,#005fff 33.8px,#0050ff 35.0px,#0028ff 40.9px,#0000ff 47.9px,#0000ff 126.0px)"></div><div style="top:21px;background:linear-gradient(90deg,#0000ff 0.0px,#0002ff 13.3px,#0010ff 13.8px,#0035ff 14.3px,#006bff 14.9px,#0086ff 15.4px,#00d6ff 19.0px,#00e9f8 19.6px,#00f4e3 20.0px,#01fac3 20.3px,#0cfe65 20.9px,#20ff39 21.2px,#41fd1b 21.5px,#7ff507 21.9px,#afe402 22.2px,#d5c300 22.5px,#ed9600 22.8px,#fd4d00 23.3px,#ff3000 23.6px,#ff2100 23.9px,#ff1f00 24.2px,#ff2c00 24.5px,#fd4700 24.8px,#f47f00 25.2px,#dabe00 25.6px,#b6e101 25.9px,#88f403 26.2px,#3dfe10 26.7px,#1dff23 27.0px,#08ff4a 27.4px,#00feaa 28.2px,#00fcdc 28.7px,#00f4f6 29.2px,#00e2ff 30.0px,#009eff 32.4px,#005fff 33.8px,#004eff 35.1px,#0029ff 40.4px,#0000ff 47.5px,#0000ff 126.0px)"></div><div style="top:22px;background:linear-gradient(90deg,#0000ff 0.0px,#0003ff 13.4px,#0013ff 13.9px,#003aff 14.4px,#0070ff 15.0px,#0088ff 15.5px,#00d6ff 19.0px,#00ecf5 19.7px,#00f6dc 20.1px,#02fca9 20.5px,#10ff58 21.0px,#27fe30 21.3px,#4dfd15 21.6px,#8cf205 22.0px,#badc01 22.3px,#ddb700 22.6px,#f67900 23.0px,#fd4400 23.4px,#ff2a00 23.7px,#ff1f00 24.0px,#ff2100 24.3px,#fe3100 24.6px,#fc5000 24.9px,#f08c00 25.3px,#dbbb00 25.6px,#b8df01 25.9px,#8bf403 26.2px,#3ffe10 26.7px,#1eff23 27.0px,#08ff49 27.4px,#00feaa 28.2px,#00fbdc 28.7px,#00f6f3 29.1px,#00e9fe 29.7px,#00a1ff 32.3px,#005fff 33.8px,#004eff 35.1px,#002bff 39.8px,#0000ff 47.1px,#0000ff 126.0px)"></div><div style="top:23px;background:linear-gradient(90deg,#0000ff 0.0px,#0002ff 13.4px,#0010ff 13.9px,#0036ff 14.4px,#006dff 15.0px,#0087ff 15.5px,#00d5ff 19.0px,#00ebf6 19.7px,#00f6dd 20.1px,#02fcac 20.5px,#0fff5b 21.0px,#25fe32 21.3px,#4afd16 21.6px,#89f205 22.0px,#b8dd01 22.3px,#dbb900 22.6px,#f57b00 23.0px,#fd4500 23.4px,#ff2b00 23.7px,#ff1f00 24.0px,#ff2100 24.3px,#fe3000 24.6px,#fc4e00 24.9px,#ec9900 25.4px,#d3c600 25.7px,#ace601 26.0px,#6dfa06 26.4px,#34fe15 26.8px,#18ff2b 27.1px,#06ff54 27.5px,#00fec1 28.4px,#00fae4 28.8px,#00f2f9 29.3px,#00d2ff 30.6px,#0096ff 32.6px,#005fff 33.8px,#004dff 35.1px,#002cff 39.4px,#0000ff 46.7px,#0000ff 126.0px)"></div><div style="top:24px;background:linear-gradient(90deg,#0000ff 0.0px,#0003ff 13.5px,#0013ff 14.0px,#003bff 14.5px,#0071ff 15.1px,#0089ff 15.6px,#00d4ff 19.0px,#00ebf6 19.7px,#00f5de 20.1px,#01fbbc 20.4px,#0afe6e 20.9px,#24ff34 21.3px,#47fd17 21.6px,#86f306 22.0px,#b5de01 22.3px,#dabb00 22.6px,#f47d00 23.0px,#fd4700 23.4px,#ff2c00 23.7px,#ff1e00 24.1px,#ff2300 24.4px,#fe3700 24.7px,#f96600 25.1px,#e6a600 25.5px,#c9d000 25.8px,#9fec02 26.1px,#5ffb08 26.5px,#2aff1a 26.9px,#12ff33 27.2px,#02ff6c 27.7px,#00fdcc 28.5px,#00f9eb 28.9px,#00effb 29.4px,#00a4ff 32.2px,#007eff 33.1px,#005fff 33.8px,#004bff 35.2px,#002bff 39.4px,#0000ff 46.3px,#0000ff 126.0px)"></div><div style="top:25px;background:linear-gradient(90deg,#0000ff 0.0px,#0002ff 13.5px,#0010ff 14.0px,#0036ff 14.5px,#006eff 15.1px,#0088ff 15.6px,#00d3ff 19.0px,#00eaf7 19.7px,#00f5e0 20.1px,#01fabe 20.4px,#09fe70 20.9px,#22ff36 21.3px,#44fd19 21.6px,#83f406 22.0px,#b3e001 22.3px,#d8bd00 22.6px,#ef8f00 22.9px,#fc5400 23.3px,#ff2d00 23.7px,#ff1e00 24.1px,#ff2200 24.4px,#fe3500 24.7px,#fb5600 25.0px,#ed9300 25.4px,#d6c100 25.7px,#b0e301 26.0px,#72f905 26.4px,#37fe14 26.8px,#1aff29 27.1px,#06ff54 27.5px,#00fdc2 28.4px,#00fae5 28.8px,#00f1fa 29.3px,#00cfff 30.7px,#0095ff 32.6px,#005eff 33.8px,#004aff 35.2px,#002cff 39.1px,#0000ff 45.9px,#0000ff 126.0px)"></div><div style="top:26px;background:linear-gradient(90deg,#0000ff 0.0px,#0003ff 13.6px,#0013ff 14.1px,#003cff 14.6px,#0072ff 15.2px,#008aff 15.7px,#00d2ff 19.0px,#00e9f7 19.7px,#00f5e1 20.1px,#01fac0 20.4px,#0cfe63 21.0px,#20ff38 21.3px,#42fd1a 21.6px,#80f406 22.0px,#b0e102 22.3px,#d6bf00 22.6px,#ee9200 22.9px,#fd4a00 23.4px,#ff2e00 23.7px,#ff1e00 24.1px,#ff2200 24.4px,#fe3300 24.7px,#fb5300 25.0px,#ee9000 25.4px,#d7bf00 25.7px,#b3e101 26.0px,#84f503 26.3px,#39fe14 26.8px,#1bff29 27.1px,#07ff53 27.5px,#00fdc3 28.4px,#00fae5 28.8px,#00f1fa 29.3px,#00ccff 30.8px,#0095ff 32.6px,#005eff 33.8px,#0048ff 35.3px,#0021ff 40.4px,#0000ff 45.6px,#0000ff 126.0px)"></div><div style="top:27px;background:linear-gradient(90deg,#0000ff 0.0px,#0002ff 13.6px,#0011ff 14.1px,#0037ff 14.6px,#006fff 15.2px,#0089ff 15.7px,#00d2ff 19.0px,#00e9f7 19.7px,#00f4e2 20.1px,#01fac2 20.4px,#0cfe66 21.0px,#1eff3a 21.3px,#3ffd1c 21.6px,#7df507 22.0px,#ade302 22.3px,#d4c100 22.6px,#ed9400 22.9px,#fd4c00 23.4px,#fe2f00 23.7px,#ff1e00 24.1px,#ff2100 24.4px,#fe3200 24.7px,#fc5100 25.0px,#ef8d00 25.4px,#d9bc00 25.7px,#b5e001 26.0px,#87f403 26.3px,#3bfe13 26.8px,#1cff28 27.1px,#07ff53 27.5px,#00fdc3 28.4px,#00f9e6 28.8px,#00f1fa 29.3px,#00c9ff 30.9px,#0095ff 32.6px,#005eff 33.8px,#0047ff 35.3px,#0010ff 42.5px,#0000ff 45.6px,#0000ff 126.0px)"></div><div style="top:28px;background:linear-gradient(90deg,#0000ff 0.0px,#0003ff 13.7px,#0014ff 14.2px,#003cff 14.7px,#0073ff 15.3px,#008bff 15.8px,#00d1ff 19.0px,#00e8f8 19.7px,#00f4e3 20.1px,#01fac4 20.4px,#0bfe69 21.0px,#26fe31 21.4px,#4afd16 21.7px,#8af105 22.1px,#b9db01 22.4px,#dcb500 22.7px,#f67700 23.1px,#fd4200 23.5px,#ff2900 23.8px,#ff1d00 24.2px,#ff2400 24.5px,#fe3900 24.8px,#f86a00 25.2px,#e3aa00 25.6px,#c4d400 25.9px,#99ee02 26.2px,#59fc0a 26.6px,#26ff20 27.0px,#0bff47 27.4px,#01ff93 28.0px,#00fcce 28.5px,#00f8ec 28.9px,#00eefc 29.4px,#00a0ff 32.3px,#0072ff 33.3px,#0058ff 34.0px,#0039ff 36.6px,#0001ff 44.8px,#0000ff 126.0px)"></div><div style="top:29px;background:linear-gradient(90deg,#0000ff 0.0px,#0003ff 13.7px,#0011ff 14.2px,#0038ff 14.7px,#0070ff 15.3px,#008aff 15.8px,#00d3ff 19.1px,#00ebf5 19.8px,#00f6dc 20.2px,#02fcab 20.6px,#0eff5c 21.1px,#24fe33 21.4px,#48fd17 21.7px,#87f205 22.1px,#b6dc01 22.4px,#dbb700 22.7px,#f57900 23.1px,#fd4400 23.5px,#ff2500 23.9px,#ff1e00 24.3px,#ff2800 24.6px,#fd4100 24.9px,#f57700 25.3px,#dcb600 25.7px,#b9dc01 26.0px,#8bf203 26.3px,#3ffe12 26.8px,#1eff27 27.1px,#08ff52 27.5px,#00feb9 28.3px,#00fae0 28.7px,#00f4f5 29.1px,#00e4ff 29.8px,#0099ff 32.5px,#005dff 33.8px,#0043ff 35.4px,#0002ff 44.1px,#0000ff 126.0px)"></div><div style="top:30px;background:linear-gradient(90deg,#0000ff 0.0px,#0003ff 13.8px,#0014ff 14.3px,#003dff 14.8px,#0074ff 15.4px,#008cff 15.9px,#00d2ff 19.1px,#00eaf6 19.8px,#00f5dd 20.2px,#02fcad 20.6px,#0dff5e 21.1px,#22ff35 21.4px,#45fd18 21.7px,#84f206 22.1px,#b4dd01 22.4px,#d9b900 22.7px,#ef8b00 23.0px,#fc5100 23.4px,#ff2b00 23.8px,#ff1d00 24.2px,#ff2700 24.6px,#fd3f00 24.9px,#f67300 25.3px,#ddb300 25.7px,#bbda01 26.0px,#8ef103 26.3px,#40fe12 26.8px,#1fff27 27.1px,#08ff52 27.5px,#00feb9 28.3px,#00fae0 28.7px,#00f4f6 29.1px,#00e4ff 29.8px,#0099ff 32.5px,#005dff 33.8px,#0042ff 35.4px,#0002ff 43.7px,#0000ff 126.0px)"></div><div style="top:31px;background:linear-gradient(90deg,#0000ff 0.0px,#0003ff 13.8px,#0011ff 14.3px,#0039ff 14.8px,#0071ff 15.4px,#008bff 15.9px,#00d2ff 19.1px,#00e9f6 19.8px,#00f5df 20.2px,#01fcb0 20.6px,#0cfe61 21.1px,#20ff37 21.4px,#42fd1a 21.7px,#81f306 22.1px,#b1df02 22.4px,#d7bb00 22.7px,#ee8d00 23.0px,#fc5200 23.4px,#ff2c00 23.8px,#ff1d00 24.2px,#ff2600 24.6px,#fd3d00 24.9px,#f67100 25.3px,#dfb100 25.7px,#bdd801 26.0px,#90f003 26.3px,#42fd11 26.8px,#20ff26 27.1px,#09ff51 27.5px,#00feae 28.2px,#00fbd9 28.6px,#00f5f2 29.0px,#00e8fe 29.6px,#0098ff 32.5px,#005cff 33.8px,#0042ff 35.3px,#0003ff 43.2px,#0000ff 60.8px,#0000ff 126.0px)"></div><div style="top:32px;background:linear-gradient(90deg,#0000ff 0.0px,#0002ff 13.8px,#000fff 14.3px,#002bff 14.7px,#0075ff 15.5px,#008dff 16.0px,#00d1ff 19.1px,#00e9f7 19.8px,#00f4e0 20.2px,#01fbb2 20.6px,#0cfe64 21.1px,#1eff39 21.4px,#40fd1b 21.7px,#7ef407 22.1px,#aee002 22.4px,#d5bd00 22.7px,#ee8f00 23.0px,#fb5400 23.4px,#ff2d00 23.8px,#ff1d00 24.2px,#ff2500 24.6px,#fe3b00 24.9px,#f76e00 25.3px,#e0ae00 25.7px,#bfd601 26.0px,#93ef03 26.3px,#44fd11 26.8px,#22ff26 27.1px,#09ff51 27.5px,#00feae 28.2px,#00fbd9 28.6px,#00f5f3 29.0px,#00e8fe 29.6px,#0098ff 32.5px,#005cff 33.8px,#0041ff 35.3px,#0004ff 42.8px,#0000ff 48.7px,#0000ff 126.0px)"></div><div style="top:33px;background:linear-gradient(90deg,#0000ff 0.0px,#0003ff 13.9px,#0012ff 14.4px,#003aff 14.9px,#0072ff 15.5px,#008cff 16.0px,#00d3ff 19.2px,#00e8f7 19.8px,#00f4e1 20.2px,#01fbb4 20.6px,#0bfe66 21.1px,#1dff3b 21.4px,#3dfd1c 21.7px,#7bf507 22.1px,#ace202 22.4px,#d3bf00 22.7px,#ed9200 23.0px,#fd4a00 23.5px,#ff2800 23.9px,#ff1d00 24.3px,#ff2400 24.6px,#fe3900 24.9px,#f76b00 25.3px,#e2ab00 25.7px,#c2d401 26.0px,#95ee03 26.3px,#55fc0c 26.7px,#23ff25 27.1px,#0aff50 27.5px,#00feaf 28.2px,#00fbda 28.6px,#00f5f3 29.0px,#00e8fe 29.6px,#0098ff 32.5px,#005bff 33.8px,#0041ff 35.2px,#0005ff 42.3px,#0000ff 45.5px,#0000ff 126.0px)"></div><div style="top:34px;background:linear-gradient(90deg,#0000ff 0.0px,#0002ff 13.9px,#000fff 14.4px,#002bff 14.8px,#006fff 15.5px,#008bff 16.0px,#00d2ff 19.2px,#00e7f7 19.8px,#00f3e2 20.2px,#01fbb6 20.6px,#0afe69 21.1px,#24fe31 21.5px,#48fc16 21.8px,#88f105 22.2px,#b8d901 22.5px,#dcb300 22.8px,#f57500 23.2px,#fd4100 23.6px,#ff2300 24.0px,#ff1d00 24.4px,#ff2800 24.7px,#fd4100 25.0px,#f47700 25.4px,#dab700 25.8px,#b6dd01 26.1px,#87f304 26.4px,#3bfe16 26.9px,#1cff2e 27.2px,#07ff5d 27.6px,#00fdc7 28.4px,#00f8e9 28.8px,#00eefb 29.3px,#0098ff 32.5px,#0057ff 33.9px,#003cff 35.5px,#0005ff 42.1px,#0000ff 45.7px,#0000ff 126.0px)"></div><div style="top:35px;background:linear-gradient(90deg,#0000ff 0.0px,#0003ff 14.0px,#0012ff 14.5px,#003aff 15.0px,#0073ff 15.6px,#008dff 16.1px,#00d2ff 19.2px,#00e6f8 19.8px,#00f3e4 20.2px,#01fbb8 20.6px,#09fe6c 21.1px,#22fe33 21.5px,#45fd18 21.8px,#85f106 22.2px,#b5db01 22.5px,#dab500 22.8px,#f08600 23.1px,#fc4d00 23.5px,#ff2900 23.9px,#ff1d00 24.3px,#ff2700 24.7px,#fd3f00 25.0px,#f57400 25.4px,#dbb400 25.8px,#b8db01 26.1px,#8af204 26.4px,#3dfe16 26.9px,#1dff2d 27.2px,#07ff5d 27.6px,#00fdc7 28.4px,#00f8e9 28.8px,#00eefb 29.3px,#0098ff 32.5px,#0057ff 33.9px,#003cff 35.4px,#0007ff 41.6px,#0000ff 44.3px,#0000ff 126.0px)"></div><div style="top:36px;background:linear-gradient(90deg,#0000ff 0.0px,#0002ff 14.0px,#000fff 14.5px,#002cff 14.9px,#0070ff 15.6px,#008cff 16.1px,#00d1ff 19.2px,#00e9f5 19.9px,#00f5dc 20.3px,#01fcad 20.7px,#0cff5f 21.2px,#20fe36 21.5px,#43fd19 21.8px,#82f206 22.2px,#b2dc02 22.5px,#d8b700 22.8px,#ef8900 23.1px,#fc4f00 23.5px,#ff2a00 23.9px,#ff1d00 24.3px,#ff2600 24.7px,#fd3d00 25.0px,#f57100 25.4px,#ddb100 25.8px,#bad901 26.1px,#8cf104 26.4px,#3ffe15 26.9px,#1eff2d 27.2px,#08ff5c 27.6px,#00fdbc 28.3px,#00f9e3 28.7px,#00f2f7 29.1px,#00dfff 29.9px,#0098ff 32.5px,#0056ff 33.9px,#003dff 35.2px,#0008ff 41.1px,#0000ff 43.6px,#0000ff 126.0px)"></div><div style="top:37px;background:linear-gradient(90deg,#0000ff 0.0px,#0003ff 14.1px,#0012ff 14.6px,#0031ff 15.0px,#0074ff 15.7px,#008eff 16.2px,#00d0ff 19.2px,#00e8f6 19.9px,#00f5de 20.3px,#01fcaf 20.7px,#0cff61 21.2px,#1fff38 21.5px,#40fd1a 21.8px,#7ff307 22.2px,#b0de02 22.5px,#d6b900 22.8px,#ee8b00 23.1px,#fb5100 23.5px,#ff2b00 23.9px,#ff1d00 24.3px,#ff2500 24.7px,#fd3b00 25.0px,#f66f00 25.4px,#deaf00 25.8px,#bcd701 26.1px,#8ff003 26.4px,#40fd15 26.9px,#1fff2c 27.2px,#08ff5c 27.6px,#00fdbd 28.3px,#00f9e4 28.7px,#00f2f7 29.1px,#00dcff 30.0px,#0093ff 32.6px,#0055ff 33.9px,#003cff 35.2px,#0009ff 40.8px,#0000ff 43.3px,#0000ff 126.0px)"></div><div style="top:38px;background:linear-gradient(90deg,#0000ff 0.0px,#0002ff 14.1px,#0010ff 14.6px,#002dff 15.0px,#0071ff 15.7px,#008dff 16.2px,#00d3fe 19.3px,#00e8f6 19.9px,#00f4df 20.3px,#01fbb1 20.7px,#0bfe64 21.2px,#1dff3a 21.5px,#3efd1c 21.8px,#7cf307 22.2px,#addf02 22.5px,#d4bb00 22.8px,#ed8d00 23.1px,#fb5200 23.5px,#ff2c00 23.9px,#ff1d00 24.3px,#ff2400 24.7px,#fe3900 25.0px,#f76c00 25.4px,#e0ac00 25.8px,#bed501 26.1px,#91ef03 26.4px,#51fc0f 26.8px,#2afe23 27.1px,#12ff42 27.4px,#02ff87 27.9px,#00fcc9 28.4px,#00f7eb 28.8px,#00edfc 29.3px,#0097ff 32.5px,#0054ff 33.9px,#003cff 35.1px,#000aff 40.4px,#0000ff 43.0px,#0000ff 126.0px)"></div><div style="top:39px;background:linear-gradient(90deg,#0000ff 0.0px,#0003ff 14.2px,#0013ff 14.7px,#0032ff 15.1px,#0075ff 15.8px,#008fff 16.3px,#00d2ff 19.3px,#00e7f7 19.9px,#00f4e0 20.3px,#01fbb3 20.7px,#0afe67 21.2px,#1bff3c 21.5px,#3bfd1d 21.8px,#79f408 22.2px,#aae102 22.5px,#d2be00 22.8px,#ec8f00 23.1px,#fb5400 23.5px,#fe2d00 23.9px,#ff1d00 24.3px,#ff2300 24.7px,#fe3800 25.0px,#f76900 25.4px,#e1a900 25.8px,#c1d301 26.1px,#94ee03 26.4px,#53fc0e 26.8px,#2bfe22 27.1px,#12ff41 27.4px,#02ff87 27.9px,#00fcc9 28.4px,#00f7eb 28.8px,#00edfc 29.3px,#0097ff 32.5px,#0053ff 33.9px,#003cff 35.0px,#000bff 40.1px,#0000ff 42.7px,#0000ff 126.0px)"></div><div style="top:40px;background:linear-gradient(90deg,#0000ff 0.0px,#0003ff 14.3px,#0014ff 14.8px,#003eff 15.3px,#0077ff 15.9px,#0090ff 16.4px,#00d0ff 19.3px,#00e6f8 19.9px,#00f3e3 20.3px,#01fbb8 20.7px,#0dff5d 21.3px,#21fe35 21.6px,#44fd18 21.9px,#84f106 22.3px,#b4da02 22.6px,#d9b400 22.9px,#f08500 23.2px,#fc4c00 23.6px,#ff2900 24.0px,#ff1c00 24.4px,#ff2700 24.8px,#fd3e00 25.1px,#f57300 25.5px,#dbb300 25.9px,#b7da01 26.2px,#88f104 26.5px,#48fd13 26.9px,#24ff29 27.2px,#0aff59 27.6px,#01feb0 28.2px,#00fadc 28.6px,#00f3f4 29.0px,#00e3ff 29.7px,#0097ff 32.5px,#0052ff 33.9px,#003bff 35.0px,#000bff 39.9px,#0000ff 42.5px,#0000ff 126.0px)"></div><div style="top:41px;background:linear-gradient(90deg,#0000ff 0.0px,#0003ff 14.4px,#0013ff 14.9px,#003cff 15.4px,#0076ff 16.0px,#0090ff 16.5px,#00d1fe 19.4px,#00e7f6 20.0px,#00f4df 20.4px,#01fbb2 20.8px,#0afe65 21.3px,#1cff3b 21.6px,#3dfd1c 21.9px,#7bf408 22.3px,#ace002 22.6px,#d4bd00 22.9px,#ed8f00 23.2px,#fb5400 23.6px,#ff2d00 24.0px,#ff1d00 24.4px,#ff2400 24.8px,#fe3a00 25.1px,#f66c00 25.5px,#dfad00 25.9px,#bdd601 26.2px,#8fef04 26.5px,#4efc11 26.9px,#28fe27 27.2px,#11ff48 27.5px,#02fe90 28.0px,#00fbd1 28.5px,#00f6ef 28.9px,#00ebfd 29.4px,#0096ff 32.5px,#0051ff 33.9px,#003bff 34.9px,#000cff 39.7px,#0000ff 42.4px,#0000ff 126.0px)"></div><div style="top:42px;background:linear-gradient(90deg,#0000ff 0.0px,#0003ff 14.5px,#0012ff 15.0px,#0031ff 15.4px,#0075ff 16.1px,#0090ff 16.6px,#00cfff 19.4px,#00e5f8 20.0px,#00f2e4 20.4px,#01fab9 20.8px,#0cff5e 21.4px,#20fe36 21.7px,#43fd19 22.0px,#83f206 22.4px,#b3dc02 22.7px,#d9b700 23.0px,#f08800 23.3px,#fc4f00 23.7px,#ff2a00 24.1px,#ff1d00 24.5px,#ff2200 24.8px,#fe3600 25.1px,#fa5700 25.4px,#ea9600 25.8px,#cfc400 26.1px,#a6e502 26.4px,#64f90b 26.8px,#2cfe24 27.2px,#13ff44 27.5px,#04ff7d 27.9px,#00fcc3 28.4px,#00f7e8 28.8px,#00f0f9 29.2px,#00d1ff 30.4px,#0092ff 32.6px,#0050ff 33.9px,#003aff 34.9px,#000cff 39.6px,#0000ff 42.3px,#0000ff 126.0px)"></div><div style="top:43px;background:linear-gradient(90deg,#0000ff 0.0px,#0002ff 14.6px,#0011ff 15.1px,#0030ff 15.5px,#0074ff 16.2px,#008fff 16.7px,#00d0fe 19.5px,#00e6f7 20.1px,#00f3e0 20.5px,#01fbb3 20.9px,#0afe66 21.4px,#1cff3c 21.7px,#3cfd1d 22.0px,#7af408 22.4px,#abe102 22.7px,#d4bf00 23.0px,#ed9200 23.3px,#fb5700 23.7px,#ff2e00 24.1px,#ff1e00 24.5px,#ff2100 24.8px,#fe3200 25.1px,#fb5200 25.4px,#ed8e00 25.8px,#d4bd00 26.1px,#ace102 26.4px,#7cf407 26.7px,#3efd19 27.1px,#1dff35 27.4px,#07ff6a 27.8px,#00fcc0 28.4px,#00f8e7 28.8px,#00f0f9 29.2px,#00d6ff 30.2px,#0092ff 32.6px,#004fff 33.9px,#0039ff 34.9px,#000cff 39.4px,#0000ff 42.1px,#0000ff 126.0px)"></div><div style="top:44px;background:linear-gradient(90deg,#0000ff 0.0px,#0002ff 14.7px,#0010ff 15.2px,#002eff 15.6px,#0073ff 16.3px,#008fff 16.8px,#00d2fe 19.6px,#00e8f5 20.2px,#00f4dc 20.6px,#01fcac 21.0px,#0cff5f 21.5px,#20ff37 21.8px,#42fd1a 22.1px,#82f207 22.5px,#b3dd02 22.8px,#d9b900 23.1px,#f08b00 23.4px,#fc5200 23.8px,#ff2c00 24.2px,#ff1e00 24.6px,#ff2300 24.9px,#fe3700 25.2px,#fa5900 25.5px,#e99800 25.9px,#cdc501 26.2px,#a4e602 26.5px,#62fa0c 26.9px,#2afe27 27.3px,#12ff49 27.6px,#02fe93 28.1px,#00fcc9 28.5px,#00f6ec 28.9px,#00ebfc 29.4px,#0096ff 32.5px,#004eff 33.9px,#003aff 34.8px,#000cff 39.3px,#0000ff 42.0px,#0000ff 126.0px)"></div><div style="top:45px;background:linear-gradient(90deg,#0000ff 0.0px,#0002ff 14.8px,#0010ff 15.3px,#002dff 15.7px,#0072ff 16.4px,#008fff 16.9px,#00d3fe 19.7px,#00e9f3 20.3px,#00f5d8 20.7px,#02fca6 21.1px,#0eff58 21.6px,#24fe31 21.9px,#49fc16 22.2px,#8af005 22.6px,#bad901 22.9px,#ddb300 23.2px,#f67600 23.6px,#fe4200 24.0px,#ff2400 24.4px,#ff1e00 24.7px,#ff2600 25.0px,#fd3c00 25.3px,#f67000 25.7px,#dcb000 26.1px,#b9d801 26.4px,#8af005 26.7px,#49fc15 27.1px,#24fe2e 27.4px,#0eff53 27.7px,#02fe9e 28.2px,#00fbd1 28.6px,#00f5f0 29.0px,#00e9fd 29.5px,#0095ff 32.5px,#004dff 33.9px,#0039ff 34.8px,#000cff 39.2px,#0000ff 41.9px,#0000ff 126.0px)"></div><div style="top:46px;background:linear-gradient(90deg,#0000ff 0.0px,#0003ff 15.0px,#0014ff 15.5px,#003fff 16.0px,#0079ff 16.6px,#0092ff 17.1px,#00d0fe 19.7px,#00e7f5 20.3px,#00f4dd 20.7px,#01fbae 21.1px,#0cfe61 21.6px,#1fff38 21.9px,#42fd1a 22.2px,#81f307 22.6px,#b2df02 22.9px,#d8bc00 23.2px,#ef8e00 23.5px,#fd4800 24.0px,#ff2800 24.4px,#ff1f00 24.7px,#ff2400 25.0px,#fe3800 25.3px,#fa5b00 25.6px,#e89a00 26.0px,#ccc701 26.3px,#a1e703 26.6px,#5ffa0e 27.0px,#28fe2b 27.4px,#11ff4f 27.7px,#02fe9a 28.2px,#00fbcf 28.6px,#00f5ef 29.0px,#00e9fd 29.5px,#0095ff 32.5px,#0064ff 33.4px,#0045ff 34.1px,#0030ff 35.6px,#000cff 39.2px,#0000ff 41.9px,#0000ff 126.0px)"></div><div style="top:47px;background:linear-gradient(90deg,#0000ff 0.0px,#0003ff 15.1px,#0013ff 15.6px,#003eff 16.1px,#0078ff 16.7px,#0092ff 17.2px,#00d2fe 19.8px,#00e8f4 20.4px,#00f5d9 20.8px,#02fca7 21.2px,#0eff5a 21.7px,#24fe32 22.0px,#48fc17 22.3px,#8af106 22.7px,#b9db01 23.0px,#ddb600 23.3px,#f67900 23.7px,#fe4400 24.1px,#ff2b00 24.4px,#ff2000 24.7px,#ff2200 25.0px,#fe3400 25.3px,#fb5400 25.6px,#eb9200 26.0px,#d1c101 26.3px,#a8e302 26.6px,#66f90c 27.0px,#2dfe28 27.4px,#13ff4b 27.7px,#04fe87 28.1px,#00fbcc 28.6px,#00f5ee 29.0px,#00eafd 29.5px,#0095ff 32.5px,#0064ff 33.4px,#0044ff 34.1px,#002eff 35.7px,#000cff 39.1px,#0000ff 41.8px,#0000ff 126.0px)"></div><div style="top:48px;background:linear-gradient(90deg,#0000ff 0.0px,#0003ff 15.2px,#0013ff 15.7px,#0032ff 16.1px,#0077ff 16.8px,#0092ff 17.3px,#00cffe 19.8px,#00e6f5 20.4px,#00f3de 20.8px,#01fbaf 21.2px,#0cfe62 21.7px,#1fff39 22.0px,#41fd1b 22.3px,#81f407 22.7px,#b2e002 23.0px,#d8be00 23.3px,#ef9100 23.6px,#fd4b00 24.1px,#ff2900 24.5px,#ff2000 24.8px,#ff2500 25.1px,#fe3900 25.4px,#fa5c00 25.7px,#e89c00 26.1px,#cac901 26.4px,#9fe803 26.7px,#5cfa0f 27.1px,#26fe2f 27.5px,#0fff55 27.8px,#02fea1 28.3px,#00fad5 28.7px,#00f3f2 29.1px,#00e5fe 29.7px,#0094ff 32.5px,#0063ff 33.4px,#0046ff 34.0px,#0033ff 35.2px,#000cff 39.0px,#0000ff 41.7px,#0000ff 126.0px)"></div><div style="top:49px;background:linear-gradient(90deg,#0000ff 0.0px,#0003ff 15.3px,#0012ff 15.8px,#0031ff 16.2px,#0076ff 16.9px,#0091ff 17.4px,#00d1fe 19.9px,#00e7f4 20.5px,#00f4d9 20.9px,#02fca8 21.3px,#0eff5b 21.8px,#23fe33 22.1px,#48fd18 22.4px,#89f206 22.8px,#b9dc01 23.1px,#ddb800 23.4px,#f67c00 23.8px,#fd4600 24.2px,#ff2d00 24.5px,#ff2100 24.8px,#ff2300 25.1px,#fe3500 25.4px,#fa5600 25.7px,#ea9400 26.1px,#cfc201 26.4px,#a6e403 26.7px,#63f90e 27.1px,#2bfe2b 27.5px,#12ff51 27.8px,#02fe9e 28.3px,#00fad2 28.7px,#00f3f1 29.1px,#00e7fd 29.6px,#0094ff 32.5px,#0068ff 33.3px,#0046ff 34.0px,#0032ff 35.2px,#000cff 38.9px,#0000ff 41.6px,#0000ff 126.0px)"></div><div style="top:50px;background:linear-gradient(90deg,#0000ff 0.0px,#0002ff 15.4px,#0011ff 15.9px,#002fff 16.3px,#0075ff 17.0px,#0091ff 17.5px,#00d2fe 20.0px,#00e9f2 20.6px,#00f5d5 21.0px,#02fca1 21.4px,#10ff54 21.9px,#28fe2e 22.2px,#5efa0f 22.6px,#a2e903 23.0px,#cdcd01 23.3px,#e9a400 23.6px,#fa6700 24.0px,#fe3900 24.4px,#ff2500 24.7px,#ff2000 25.0px,#ff2a00 25.3px,#fd4400 25.6px,#f27d00 26.0px,#dead00 26.3px,#bbd601 26.6px,#8cef06 26.9px,#4afc17 27.3px,#24fe33 27.6px,#0eff5b 27.9px,#02fda9 28.4px,#00f9da 28.8px,#00f2f4 29.2px,#00e2fe 29.8px,#0094ff 32.5px,#0067ff 33.3px,#0048ff 33.9px,#0036ff 34.8px,#000dff 38.7px,#0000ff 41.5px,#0000ff 126.0px)"></div><div style="top:51px;background:linear-gradient(90deg,#0000ff 0.0px,#0002ff 15.5px,#0010ff 16.0px,#002eff 16.4px,#0074ff 17.1px,#0091ff 17.6px,#00d3fe 20.1px,#00e7f4 20.6px,#00f4da 21.0px,#02fcaa 21.4px,#0dff5c 21.9px,#23fe34 22.2px,#47fd18 22.5px,#88f206 22.9px,#b8de02 23.2px,#ddbb00 23.5px,#f28e00 23.8px,#fd4900 24.3px,#ff2e00 24.6px,#ff2200 24.9px,#ff2400 25.2px,#fe3600 25.5px,#fa5800 25.8px,#ea9600 26.2px,#cec401 26.5px,#a3e503 26.8px,#60f90f 27.2px,#34fe25 27.5px,#17ff48 27.8px,#05fe86 28.2px,#00fbcd 28.7px,#00f6e8 29.0px,#00edfa 29.4px,#00c9ff 30.7px,#008fff 32.6px,#004bff 33.8px,#0038ff 34.6px,#000dff 38.6px,#0000ff 41.4px,#0000ff 126.0px)"></div><div style="top:52px;background:linear-gradient(90deg,#0000ff 0.0px,#0002ff 15.6px,#000fff 16.1px,#002dff 16.5px,#0073ff 17.2px,#0091ff 17.7px,#00d1fe 20.1px,#00e8f2 20.7px,#00f5d6 21.1px,#02fca3 21.5px,#10ff55 22.0px,#27fe2f 22.3px,#5efa0f 22.7px,#a1ea03 23.1px,#cccf01 23.4px,#e9a600 23.7px,#fa6a00 24.1px,#fe3b00 24.5px,#ff2700 24.8px,#ff2100 25.1px,#fe2b00 25.4px,#fd4500 25.7px,#f27e00 26.1px,#ddaf00 26.4px,#b9d702 26.7px,#89f007 27.0px,#47fc1a 27.4px,#23fe37 27.7px,#0dff62 28.0px,#02fdb0 28.5px,#00f8df 28.9px,#00f0f6 29.3px,#00ddff 30.0px,#0093ff 32.5px,#0066ff 33.3px,#0046ff 33.9px,#0033ff 34.9px,#000dff 38.6px,#0000ff 41.4px,#0000ff 126.0px)"></div><div style="top:53px;background:linear-gradient(90deg,#0000ff 0.0px,#0003ff 15.8px,#0014ff 16.3px,#003fff 16.8px,#007aff 17.4px,#0094ff 17.9px,#00d2fe 20.2px,#00e6f4 20.7px,#00f3db 21.1px,#01fbab 21.5px,#0dfe5e 22.0px,#22fe35 22.3px,#46fd19 22.6px,#88f306 23.0px,#b8df02 23.3px,#dcbd00 23.6px,#f29100 23.9px,#fd4b00 24.4px,#ff3000 24.7px,#ff2300 25.0px,#ff2500 25.3px,#fe3700 25.6px,#fa5900 25.9px,#e99800 26.3px,#ccc601 26.6px,#a1e604 26.9px,#5dfa11 27.3px,#32fe29 27.6px,#15ff4e 27.9px,#05fe8d 28.3px,#01fbc7 28.7px,#00f6e5 29.0px,#00eef8 29.4px,#00d2ff 30.4px,#0092ff 32.5px,#0065ff 33.3px,#0045ff 33.9px,#0033ff 34.9px,#000dff 38.5px,#0000ff 41.3px,#0000ff 126.0px)"></div><div style="top:54px;background:linear-gradient(90deg,#0000ff 0.0px,#0003ff 15.9px,#0013ff 16.4px,#0034ff 16.8px,#0079ff 17.5px,#0094ff 18.0px,#00d0fe 20.2px,#00e7f3 20.8px,#00f5d7 21.2px,#02fca4 21.6px,#0fff57 22.1px,#27fe30 22.4px,#4dfc16 22.7px,#90f105 23.1px,#bfdb01 23.4px,#e1b700 23.7px,#f77c00 24.1px,#fe4700 24.5px,#ff2e00 24.8px,#ff2200 25.1px,#ff2700 25.4px,#fd3c00 25.7px,#f96100 26.0px,#e5a100 26.4px,#c5cd01 26.7px,#98ea05 27.0px,#54fb15 27.4px,#2bfe30 27.7px,#12ff59 28.0px,#04fd99 28.4px,#00fad0 28.8px,#00f5ea 29.1px,#00ebfa 29.5px,#00bbff 31.2px,#008eff 32.6px,#0048ff 33.8px,#0036ff 34.6px,#000eff 38.3px,#0000ff 41.1px,#0000ff 126.0px)"></div><div style="top:55px;background:linear-gradient(90deg,#0000ff 0.0px,#0003ff 16.0px,#0012ff 16.5px,#0032ff 16.9px,#0078ff 17.6px,#0094ff 18.1px,#00d1fe 20.3px,#00e5f5 20.8px,#00f3dc 21.2px,#01fbac 21.6px,#0dfe5f 22.1px,#22fe36 22.4px,#45fd19 22.7px,#87f306 23.1px,#b7e002 23.4px,#dcbf00 23.7px,#f29400 24.0px,#fd4e00 24.5px,#ff3200 24.8px,#ff2400 25.1px,#ff2500 25.4px,#fe3800 25.7px,#fa5b00 26.0px,#e89a00 26.4px,#cbc801 26.7px,#9fe704 27.0px,#5bfa13 27.4px,#30fe2d 27.7px,#14ff54 28.0px,#04fe95 28.4px,#01face 28.8px,#00f5e9 29.1px,#00ecfa 29.5px,#00c3ff 30.9px,#008dff 32.6px,#0048ff 33.8px,#0035ff 34.6px,#000eff 38.2px,#0000ff 41.1px,#0000ff 126.0px)"></div><div style="top:56px;background:linear-gradient(90deg,#0000ff 0.0px,#0002ff 16.1px,#0011ff 16.6px,#0031ff 17.0px,#0077ff 17.7px,#0093ff 18.2px,#00d2fe 20.4px,#00e6f3 20.9px,#00f4d7 21.3px,#02fca5 21.7px,#0fff58 22.2px,#26fe31 22.5px,#4cfc16 22.8px,#8ff105 23.2px,#bedc01 23.5px,#e1b900 23.8px,#f77f00 24.2px,#fe4a00 24.6px,#ff2f00 24.9px,#ff2300 25.2px,#ff2800 25.5px,#fd3d00 25.8px,#f57200 26.2px,#e4a300 26.5px,#c3ce01 26.8px,#95eb06 27.1px,#51fb18 27.5px,#29fe35 27.8px,#11fe5f 28.1px,#02fcb0 28.6px,#00f9d6 28.9px,#00f3ee 29.2px,#00e6fd 29.7px,#0091ff 32.5px,#0063ff 33.3px,#0043ff 33.9px,#0030ff 34.9px,#000dff 38.2px,#0000ff 41.0px,#0000ff 126.0px)"></div><div style="top:57px;background:linear-gradient(90deg,#0000ff 0.0px,#0002ff 16.2px,#0011ff 16.7px,#002fff 17.1px,#0076ff 17.8px,#0093ff 18.3px,#00d3fd 20.5px,#00e8f1 21.0px,#00f5d3 21.4px,#02fc9e 21.8px,#0dfe60 22.2px,#21ff37 22.5px,#45fd1a 22.8px,#86f407 23.2px,#c5d801 23.6px,#e5b400 23.9px,#f97900 24.3px,#fe4500 24.7px,#ff2d00 25.0px,#ff2400 25.3px,#ff2b00 25.6px,#fd4300 25.9px,#f37b00 26.3px,#dfac00 26.6px,#bcd502 26.9px,#8bef08 27.2px,#48fc1d 27.6px,#23fe3e 27.9px,#0dfe6b 28.2px,#02fbbb 28.7px,#00f7de 29.0px,#00eff6 29.4px,#00dbff 30.1px,#0091ff 32.5px,#0062ff 33.3px,#0042ff 33.9px,#002fff 34.9px,#000dff 38.1px,#0000ff 40.9px,#0000ff 126.0px)"></div><div style="top:58px;background:linear-gradient(90deg,#0000ff 0.0px,#0002ff 16.3px,#0010ff 16.8px,#002eff 17.2px,#0075ff 17.9px,#0093ff 18.4px,#00d1fe 20.5px,#00e6f3 21.0px,#00f4d8 21.4px,#02fca6 21.8px,#0fff59 22.3px,#25fe32 22.6px,#4cfc17 22.9px,#8ef205 23.3px,#bede01 23.6px,#e0bc00 23.9px,#f78200 24.3px,#fe4c00 24.7px,#ff3100 25.0px,#ff2500 25.3px,#ff2900 25.6px,#fd3e00 25.9px,#f57400 26.3px,#e3a500 26.6px,#c1d002 26.9px,#92ec07 27.2px,#4efb1b 27.6px,#27fe3a 27.9px,#0ffe66 28.2px,#02fcb7 28.7px,#00f8db 29.0px,#00eff5 29.4px,#00dbff 30.1px,#0091ff 32.5px,#0061ff 33.3px,#0041ff 33.9px,#002dff 35.0px,#000dff 38.0px,#0000ff 40.8px,#0000ff 126.0px)"></div><div style="top:59px;background:linear-gradient(90deg,#0000ff 0.0px,#0002ff 16.4px,#000fff 16.9px,#002cff 17.3px,#0074ff 18.0px,#0093ff 18.5px,#00d2fd 20.6px,#00e7f1 21.1px,#00f5d4 21.5px,#02fca0 21.9px,#11ff53 22.4px,#2bfe2d 22.7px,#63fa0e 23.1px,#a7ea03 23.5px,#d1cf01 23.8px,#eca800 24.1px,#fb6d00 24.5px,#fe3e00 24.9px,#ff2a00 25.2px,#ff2500 25.5px,#fe3200 25.8px,#fb5000 26.1px,#ed8e00 26.5px,#d4bd01 26.8px,#aae104 27.1px,#77f40d 27.4px,#46fc21 27.7px,#21fe43 28.0px,#0cfe72 28.3px,#01fbc2 28.8px,#00f6e2 29.1px,#00edf8 29.5px,#00d2ff 30.4px,#0090ff 32.5px,#0060ff 33.3px,#0040ff 33.9px,#002cff 35.0px,#000dff 37.9px,#0000ff 40.7px,#0000ff 126.0px)"></div><div style="top:60px;background:linear-gradient(90deg,#0000ff 0.0px,#0003ff 16.6px,#0014ff 17.1px,#0035ff 17.5px,#007bff 18.2px,#0096ff 18.7px,#00d4fd 20.7px,#00e9ef 21.2px,#00f6cf 21.6px,#03fc99 22.0px,#0efe5a 22.4px,#25fe33 22.7px,#4bfd17 23.0px,#8ef206 23.4px,#cbd501 23.8px,#e8b000 24.1px,#fa7600 24.5px,#fe4400 24.9px,#ff2d00 25.2px,#ff2500 25.5px,#fe2f00 25.8px,#fc4b00 26.1px,#f08600 26.5px,#d8b701 26.8px,#b1dc03 27.1px,#7ef20b 27.4px,#4cfb1e 27.7px,#25fe3f 28.0px,#0efe6e 28.3px,#02fbbe 28.8px,#00f6e0 29.1px,#00edf7 29.5px,#00d5ff 30.3px,#0090ff 32.5px,#005fff 33.3px,#003fff 33.9px,#002bff 35.0px,#000dff 37.8px,#0000ff 40.6px,#0000ff 126.0px)"></div><div style="top:61px;background:linear-gradient(90deg,#0000ff 0.0px,#0003ff 16.7px,#0013ff 17.2px,#0034ff 17.6px,#007aff 18.3px,#0096ff 18.8px,#00d1fd 20.7px,#00e6f2 21.2px,#00f4d4 21.6px,#02fca1 22.0px,#11ff54 22.5px,#2afe2e 22.8px,#62fa0f 23.2px,#a6eb03 23.6px,#d1d101 23.9px,#ecab00 24.2px,#fb7000 24.6px,#fe4000 25.0px,#ff2b00 25.3px,#ff2600 25.6px,#fe3300 25.9px,#fb5200 26.2px,#ec8f00 26.6px,#d2bf01 26.9px,#a8e204 27.2px,#74f50e 27.5px,#43fc24 27.8px,#1ffe49 28.1px,#0bfe7a 28.4px,#01fac8 28.9px,#00f4e7 29.2px,#00eaf9 29.6px,#00c6ff 30.8px,#0090ff 32.5px,#005fff 33.3px,#003eff 33.9px,#002aff 35.0px,#000dff 37.7px,#0000ff 40.5px,#0000ff 126.0px)"></div><div style="top:62px;background:linear-gradient(90deg,#0000ff 0.0px,#0003ff 16.8px,#0012ff 17.3px,#0032ff 17.7px,#0079ff 18.4px,#0096ff 18.9px,#00d2fd 20.8px,#00e8ef 21.3px,#00f5d0 21.7px,#03fc9a 22.1px,#0efe5c 22.5px,#24fe34 22.8px,#4afd18 23.1px,#8df306 23.5px,#cad701 23.9px,#e8b300 24.2px,#fa7900 24.6px,#fe4600 25.0px,#ff2e00 25.3px,#ff2600 25.6px,#fe3000 25.9px,#fc4c00 26.2px,#ef8800 26.6px,#d7b801 26.9px,#afde04 27.2px,#7cf30d 27.5px,#49fc21 27.8px,#23fe45 28.1px,#0dfe75 28.4px,#01fac5 28.9px,#00f5e5 29.2px,#00ebf9 29.6px,#00ccff 30.6px,#008fff 32.5px,#005eff 33.3px,#003dff 33.9px,#0029ff 35.0px,#000dff 37.6px,#0000ff 40.4px,#0000ff 126.0px)"></div><div style="top:63px;background:linear-gradient(90deg,#0000ff 0.0px,#0002ff 16.9px,#0011ff 17.4px,#0031ff 17.8px,#0078ff 18.5px,#0096ff 19.0px,#00d4fc 20.9px,#00e9ed 21.4px,#00f6ca 21.8px,#05fd83 22.3px,#17ff47 22.7px,#35fe24 23.0px,#73f80b 23.4px,#b5e402 23.8px,#dbc700 24.1px,#f19f00 24.4px,#fd5900 24.9px,#ff3200 25.3px,#ff2700 25.6px,#fe2e00 25.9px,#fc4700 26.2px,#f18100 26.6px,#dbb201 26.9px,#b5d903 27.2px,#83f10b 27.5px,#50fb1e 27.8px,#28fe41 28.1px,#0ffe71 28.4px,#02fac2 28.9px,#00f5e3 29.2px,#00ebf8 29.6px,#00cfff 30.5px,#008fff 32.5px,#0064ff 33.2px,#0040ff 33.8px,#002dff 34.6px,#000eff 37.3px,#0000ff 40.2px,#0000ff 126.0px)"></div><div style="top:64px;background:linear-gradient(90deg,#0000ff 0.0px,#0002ff 17.0px,#0011ff 17.5px,#002fff 17.9px,#0077ff 18.6px,#0096ff 19.1px,#00d5fc 21.0px,#00eaeb 21.5px,#00f4d2 21.8px,#03fc9d 22.2px,#0efe5e 22.6px,#24fe35 22.9px,#49fd19 23.2px,#8cf306 23.6px,#cad701 24.0px,#e8b400 24.3px,#fa7a00 24.7px,#fe4700 25.1px,#ff2f00 25.4px,#ff2700 25.7px,#fe3200 26.0px,#fb5000 26.3px,#ed8d00 26.7px,#d4bd01 27.0px,#aae105 27.3px,#76f40f 27.6px,#44fc26 27.9px,#20fe4d 28.2px,#0cfe7f 28.5px,#02fac0 28.9px,#00f5e2 29.2px,#00ebf8 29.6px,#00cfff 30.5px,#008eff 32.5px,#005cff 33.3px,#003bff 33.9px,#0026ff 35.0px,#000cff 37.5px,#0000ff 40.2px,#0000ff 126.0px)"></div><div style="top:65px;background:linear-gradient(90deg,#0000ff 0.0px,#0002ff 17.1px,#0010ff 17.6px,#002eff 18.0px,#0076ff 18.7px,#0095ff 19.2px,#00d5fc 21.1px,#00e6ef 21.5px,#00f2d9 21.8px,#02fba8 22.2px,#10fe5a 22.7px,#28fe32 23.0px,#50fc16 23.3px,#93f105 23.7px,#cfd201 24.1px,#ebac00 24.4px,#fb7200 24.8px,#fe4100 25.2px,#ff2d00 25.5px,#ff2900 25.8px,#fe3a00 26.1px,#fa5d00 26.4px,#e79d00 26.8px,#c8ca02 27.1px,#9ae907 27.4px,#55fa1c 27.8px,#2bfe3e 28.1px,#11fe6d 28.4px,#03fbb1 28.8px,#01f7d8 29.1px,#00f0f0 29.4px,#00e2fd 29.9px,#008bff 32.5px,#003dff 33.8px,#0029ff 34.7px,#000dff 37.2px,#0000ff 40.0px,#0000ff 126.0px)"></div><div style="top:66px;background:linear-gradient(90deg,#0000ff 0.0px,#0002ff 17.2px,#000fff 17.7px,#002dff 18.1px,#0075ff 18.8px,#0095ff 19.3px,#00d5fb 21.2px,#00e7ee 21.6px,#00f2d7 21.9px,#02fba4 22.3px,#0dfe64 22.7px,#22fe3a 23.0px,#47fd1b 23.3px,#8af307 23.7px,#c8d601 24.1px,#e7b200 24.4px,#fa7700 24.8px,#fe4500 25.2px,#ff2e00 25.5px,#ff2a00 25.8px,#fe3a00 26.1px,#fa5c00 26.4px,#e89c00 26.8px,#c9c902 27.1px,#9ce807 27.4px,#57fa1c 27.8px,#2cfe3d 28.1px,#12fe6c 28.4px,#04fbb0 28.8px,#01f7d8 29.1px,#00f0f0 29.4px,#00e1fd 29.9px,#008dff 32.4px,#005bff 33.2px,#003aff 33.8px,#0023ff 35.0px,#000bff 37.5px,#0000ff 40.1px,#0000ff 126.0px)"></div><div style="top:67px;background:linear-gradient(90deg,#0000ff 0.0px,#0003ff 17.4px,#0014ff 17.9px,#0036ff 18.3px,#007dff 19.0px,#0099ff 19.5px,#00d1fc 21.2px,#00e7ed 21.7px,#00f2d5 22.0px,#03fba0 22.4px,#0ffe60 22.8px,#26fe36 23.1px,#4dfc19 23.4px,#91f006 23.8px,#c1db02 24.1px,#e3b800 24.4px,#f87d00 24.8px,#fe4900 25.2px,#ff3100 25.5px,#ff2b00 25.8px,#fe3900 26.1px,#fa5b00 26.4px,#e89b00 26.8px,#cac902 27.1px,#9de806 27.4px,#58fa1b 27.8px,#2dfe3c 28.1px,#12fe6c 28.4px,#04fbb0 28.8px,#01f7d8 29.1px,#00f0ef 29.4px,#00e1fd 29.9px,#008fff 32.3px,#0065ff 33.0px,#0040ff 33.6px,#002cff 34.3px,#000fff 36.7px,#0000ff 39.7px,#0000ff 126.0px)"></div><div style="top:68px;background:linear-gradient(90deg,#0000ff 0.0px,#0003ff 17.5px,#0014ff 18.0px,#0035ff 18.4px,#007cff 19.1px,#0098ff 19.6px,#00d1fc 21.3px,#00e3f1 21.7px,#00efdc 22.0px,#02faab 22.4px,#0cfe6b 22.8px,#21fe3f 23.1px,#45fd1e 23.4px,#87f208 23.8px,#b9df02 24.1px,#debd00 24.4px,#f29200 24.7px,#fe4d00 25.2px,#ff3300 25.5px,#ff2c00 25.8px,#fe3900 26.1px,#fa5b00 26.4px,#e99b00 26.8px,#cbc802 27.1px,#9fe706 27.4px,#59fa1b 27.8px,#2efe3c 28.1px,#13fe6b 28.4px,#04fbaf 28.8px,#01f7d7 29.1px,#00f0ef 29.4px,#00e1fd 29.9px,#008cff 32.3px,#003cff 33.6px,#0029ff 34.4px,#000eff 36.7px,#0000ff 39.6px,#0000ff 126.0px)"></div><div style="top:69px;background:linear-gradient(90deg,#0000ff 0.0px,#0003ff 17.6px,#0013ff 18.1px,#0034ff 18.5px,#007bff 19.2px,#0098ff 19.7px,#00d1fc 21.4px,#00e3f0 21.8px,#00efda 22.1px,#03faa7 22.5px,#0efe66 22.9px,#25fe3b 23.2px,#4bfc1c 23.5px,#8ff007 23.9px,#bfda02 24.2px,#e2b600 24.5px,#f87a00 24.9px,#fe4600 25.3px,#ff3000 25.6px,#ff2e00 25.9px,#fd4200 26.2px,#f86900 26.5px,#e2aa00 26.9px,#bfd402 27.2px,#8fee09 27.5px,#5bfa1a 27.8px,#2ffe3b 28.1px,#14fe6a 28.4px,#04fbaf 28.8px,#01f6d7 29.1px,#00efef 29.4px,#00e0fd 29.9px,#008eff 32.2px,#005cff 33.0px,#003aff 33.6px,#0024ff 34.6px,#000cff 36.9px,#0000ff 39.6px,#0000ff 126.0px)"></div><div style="top:70px;background:linear-gradient(90deg,#0000ff 0.0px,#0003ff 17.7px,#0013ff 18.2px,#0033ff 18.6px,#007aff 19.3px,#0097ff 19.8px,#00d1fc 21.5px,#00e4ef 21.9px,#00f0d7 22.2px,#03faa3 22.6px,#10fe61 23.0px,#29fe36 23.3px,#52fb19 23.6px,#97ed06 24.0px,#c5d402 24.3px,#e5ad00 24.6px,#f97100 25.0px,#fe4000 25.4px,#ff2f00 25.7px,#fe3300 26.0px,#fc4c00 26.3px,#f08800 26.7px,#d9b901 27.0px,#b2de04 27.3px,#7ff30d 27.6px,#4cfc23 27.9px,#25fe48 28.2px,#0efd7b 28.5px,#03fabd 28.9px,#01f4e1 29.2px,#00e9f8 29.6px,#00cfff 30.4px,#008bff 32.2px,#003bff 33.5px,#0026ff 34.4px,#000dff 36.6px,#0000ff 39.4px,#0000ff 126.0px)"></div><div style="top:71px;background:linear-gradient(90deg,#0000ff 0.0px,#0003ff 17.8px,#0012ff 18.3px,#0032ff 18.7px,#0079ff 19.4px,#0097ff 19.9px,#00d2fb 21.6px,#00e4ed 22.0px,#00f0d5 22.3px,#04fa9e 22.7px,#13fe5d 23.1px,#2efe33 23.4px,#59fa17 23.7px,#9ee905 24.1px,#cbce01 24.4px,#e9a500 24.7px,#fa6800 25.1px,#fe4400 25.4px,#ff3000 25.7px,#fe3300 26.0px,#fc4c00 26.3px,#f08700 26.7px,#dab801 27.0px,#b3dd04 27.3px,#80f30d 27.6px,#4dfc22 27.9px,#26fe48 28.2px,#0ffd7a 28.5px,#03fabd 28.9px,#01f4e0 29.2px,#00ecf4 29.5px,#00d9fe 30.1px,#008dff 32.1px,#003cff 33.4px,#0027ff 34.2px,#000eff 36.4px,#0000ff 39.3px,#0000ff 126.0px)"></div><div style="top:72px;background:linear-gradient(90deg,#0000ff 0.0px,#0002ff 17.9px,#0011ff 18.4px,#0031ff 18.8px,#0078ff 19.5px,#0097ff 20.0px,#00d2fb 21.7px,#00e4ec 22.1px,#01f1d2 22.4px,#05fa9a 22.8px,#16fe58 23.2px,#33fd2f 23.5px,#60f914 23.8px,#a6e505 24.2px,#d1c701 24.5px,#ec9c00 24.8px,#fb5f00 25.2px,#fe3e00 25.5px,#ff3000 25.8px,#fe3900 26.1px,#fb5800 26.4px,#eb9700 26.8px,#cfc501 27.1px,#a4e606 27.4px,#5ffa19 27.8px,#32fe39 28.1px,#15fe67 28.4px,#05fbad 28.8px,#01f6d6 29.1px,#00efef 29.4px,#00dffd 29.9px,#008aff 32.1px,#003eff 33.3px,#0029ff 34.0px,#000fff 36.1px,#0000ff 39.1px,#0000ff 126.0px)"></div><div style="top:73px;background:linear-gradient(90deg,#0000ff 0.0px,#0002ff 18.0px,#0011ff 18.5px,#0030ff 18.9px,#0077ff 19.6px,#0096ff 20.1px,#00d2fa 21.8px,#00e5ea 22.2px,#01f1cf 22.5px,#06fb96 22.9px,#19fe53 23.3px,#39fd2c 23.6px,#67f712 23.9px,#ade104 24.3px,#d6bf01 24.6px,#ef9300 24.9px,#fc5700 25.3px,#fe3a00 25.6px,#ff3100 25.9px,#fd4100 26.2px,#f96600 26.5px,#e4a700 26.9px,#c4d202 27.2px,#95ed08 27.5px,#60f918 27.8px,#33fd38 28.1px,#16fe67 28.4px,#05fbac 28.8px,#01f6d6 29.1px,#00efef 29.4px,#00dffd 29.9px,#008cff 32.0px,#003fff 33.2px,#0029ff 33.9px,#000fff 36.0px,#0000ff 39.0px,#0000ff 126.0px)"></div><div style="top:74px;background:linear-gradient(90deg,#0000ff 0.0px,#0002ff 18.1px,#0010ff 18.6px,#002fff 19.0px,#0076ff 19.7px,#0096ff 20.2px,#00cefc 21.8px,#00e0ef 22.2px,#01edd8 22.5px,#04f9a2 22.9px,#15fd5f 23.3px,#31fd33 23.6px,#5ef917 23.9px,#a4e405 24.3px,#cfc501 24.6px,#eb9900 24.9px,#fb5c00 25.3px,#fe3d00 25.6px,#ff3300 25.9px,#fd4100 26.2px,#f96500 26.5px,#e5a600 26.9px,#c5d102 27.2px,#96ec08 27.5px,#62f918 27.8px,#35fd37 28.1px,#16fe66 28.4px,#05fbac 28.8px,#01f6d5 29.1px,#00eeee 29.4px,#00defd 29.9px,#008eff 31.9px,#003cff 33.2px,#0026ff 34.0px,#000eff 36.0px,#0000ff 38.9px,#0000ff 126.0px)"></div><div style="top:75px;background:linear-gradient(90deg,#0000ff 0.0px,#0002ff 18.2px,#0010ff 18.7px,#002eff 19.1px,#007eff 19.9px,#009aff 20.4px,#00cefb 21.9px,#00e1ee 22.3px,#01eed5 22.6px,#05f99d 23.0px,#17fd5a 23.4px,#36fd30 23.7px,#65f714 24.0px,#abe004 24.4px,#d5bd01 24.7px,#ee9000 25.0px,#fc5400 25.4px,#fe3900 25.7px,#fe3500 26.0px,#fd4a00 26.3px,#f28400 26.7px,#ddb501 27.0px,#b8dc03 27.3px,#86f20c 27.6px,#53fb20 27.9px,#2afe44 28.2px,#10fd77 28.5px,#03f9bb 28.9px,#01f4df 29.2px,#00ebf3 29.5px,#00d6fe 30.1px,#008cff 31.9px,#003eff 33.1px,#0028ff 33.8px,#000fff 35.8px,#0000ff 38.8px,#0000ff 126.0px)"></div><div style="top:76px;background:linear-gradient(90deg,#0000ff 0.0px,#0002ff 18.3px,#000fff 18.8px,#002dff 19.2px,#007dff 20.0px,#0099ff 20.5px,#00cefb 22.0px,#00e1ec 22.4px,#01eed2 22.7px,#06f999 23.1px,#1bfd55 23.5px,#3cfc2c 23.8px,#6cf512 24.1px,#a2e306 24.4px,#cec301 24.7px,#eb9600 25.0px,#fb5900 25.4px,#fe3c00 25.7px,#fe3600 26.0px,#fd4a00 26.3px,#f67300 26.6px,#e6a400 26.9px,#c7d002 27.2px,#99ec08 27.5px,#65f917 27.8px,#37fd36 28.1px,#18fe64 28.4px,#05fbaa 28.8px,#01f6d5 29.1px,#00eeee 29.4px,#00e1fc 29.8px,#008eff 31.8px,#003bff 33.1px,#0025ff 33.9px,#000eff 35.9px,#0000ff 38.7px,#0000ff 126.0px)"></div><div style="top:77px;background:linear-gradient(90deg,#0000ff 0.0px,#0003ff 18.5px,#0014ff 19.0px,#0035ff 19.4px,#007cff 20.1px,#0099ff 20.6px,#00cefb 22.1px,#00e1eb 22.5px,#01eecf 22.8px,#07fa94 23.2px,#16fd60 23.5px,#35fd34 23.8px,#63f717 24.1px,#98e708 24.4px,#c7c902 24.7px,#e79d00 25.0px,#fa5f00 25.4px,#fe3f00 25.7px,#fe3800 26.0px,#fd4a00 26.3px,#f77200 26.6px,#e7a400 26.9px,#c8cf02 27.2px,#9bec07 27.5px,#66f917 27.8px,#38fd35 28.1px,#18fe63 28.4px,#05fbaa 28.8px,#01f6d4 29.1px,#00eeee 29.4px,#00e1fc 29.8px,#0090ff 31.7px,#003dff 33.0px,#0027ff 33.7px,#000fff 35.6px,#0000ff 38.6px,#0000ff 126.0px)"></div><div style="top:78px;background:linear-gradient(90deg,#0000ff 0.0px,#0003ff 18.6px,#0014ff 19.1px,#0034ff 19.5px,#007bff 20.2px,#0098ff 20.7px,#00cefa 22.2px,#00e2e9 22.6px,#01efcc 22.9px,#09fa8f 23.3px,#19fd5c 23.6px,#3afc30 23.9px,#6af514 24.2px,#9fe207 24.5px,#cdc102 24.8px,#ea9300 25.1px,#fb5700 25.5px,#fe3c00 25.8px,#fe3900 26.0px,#fd4a00 26.3px,#f77100 26.6px,#dfb301 27.0px,#bcda03 27.3px,#8bf10b 27.6px,#57fb1e 27.9px,#2dfe42 28.2px,#12fd74 28.5px,#04f9b9 28.9px,#01f3de 29.2px,#00eaf3 29.5px,#00d5fe 30.1px,#008dff 31.7px,#003eff 32.9px,#0028ff 33.6px,#000fff 35.5px,#0000ff 38.5px,#0000ff 126.0px)"></div><div style="top:79px;background:linear-gradient(90deg,#0000ff 0.0px,#0003ff 18.7px,#0013ff 19.2px,#0033ff 19.6px,#007aff 20.3px,#0098ff 20.8px,#00cafc 22.2px,#00ddee 22.6px,#01ebd5 22.9px,#04f6ac 23.2px,#15fc68 23.6px,#33fc39 23.9px,#60f719 24.2px,#96e609 24.5px,#c6c702 24.8px,#e69a00 25.1px,#f95c00 25.5px,#fe3f00 25.8px,#fe3a00 26.0px,#fe4200 26.2px,#fa6200 26.5px,#e8a200 26.9px,#cace02 27.2px,#9eeb07 27.5px,#69f916 27.8px,#3afd34 28.1px,#1afe62 28.4px,#06fba9 28.8px,#01f5d3 29.1px,#00edee 29.4px,#00e0fc 29.8px,#0090ff 31.6px,#003cff 32.9px,#0025ff 33.7px,#000fff 35.5px,#0000ff 38.4px,#0000ff 126.0px)"></div><div style="top:80px;background:linear-gradient(90deg,#0000ff 0.0px,#0003ff 18.8px,#0012ff 19.3px,#0032ff 19.7px,#0079ff 20.4px,#0098ff 20.9px,#00cafb 22.3px,#00dded 22.7px,#01ebd2 23.0px,#08f897 23.4px,#18fc62 23.7px,#38fc35 24.0px,#68f417 24.3px,#9de108 24.6px,#cbbf02 24.9px,#e99000 25.2px,#fa5500 25.6px,#fe3e00 25.9px,#fe3e00 26.1px,#fc5400 26.4px,#ef9100 26.8px,#d7c001 27.1px,#afe304 27.4px,#7cf50f 27.7px,#4afc27 28.0px,#24fe50 28.3px,#0efd85 28.6px,#02f7c6 29.0px,#00f0e7 29.3px,#00e3fa 29.7px,#00acff 31.0px,#007aff 31.9px,#003dff 32.8px,#0027ff 33.5px,#000fff 35.3px,#0000ff 38.3px,#0000ff 126.0px)"></div><div style="top:81px;background:linear-gradient(90deg,#0000ff 0.0px,#0003ff 18.9px,#0012ff 19.4px,#0031ff 19.8px,#0078ff 20.5px,#0097ff 21.0px,#00cafb 22.4px,#00deeb 22.8px,#02eccf 23.1px,#0af892 23.5px,#1cfc5e 23.8px,#3efb31 24.1px,#6ff215 24.4px,#a5dc07 24.7px,#d1b602 25.0px,#ec8600 25.3px,#f95a00 25.6px,#fd4000 25.9px,#fe3f00 26.1px,#fd4a00 26.3px,#f76f00 26.6px,#e1b001 27.0px,#bfd903 27.3px,#8ff10a 27.6px,#5bfb1d 27.9px,#30fe40 28.2px,#14fd72 28.5px,#04f9b7 28.9px,#01f3de 29.2px,#00eaf3 29.5px,#00d7fe 30.0px,#0090ff 31.5px,#003bff 32.8px,#0024ff 33.6px,#000eff 35.4px,#0000ff 38.3px,#0000ff 126.0px)"></div><div style="top:82px;background:linear-gradient(90deg,#0000ff 0.0px,#0002ff 19.0px,#0011ff 19.5px,#0030ff 19.9px,#0077ff 20.6px,#0097ff 21.1px,#00cafa 22.5px,#00dee9 22.9px,#02eccc 23.2px,#0bf88d 23.6px,#1ffc59 23.9px,#44fa2d 24.2px,#77ef12 24.5px,#acd606 24.8px,#d6ae01 25.1px,#ef7d00 25.4px,#fa5300 25.7px,#fd4300 25.9px,#fe4000 26.1px,#fd4b00 26.3px,#f86f00 26.6px,#e2b001 27.0px,#c0d803 27.3px,#91f00a 27.6px,#5dfb1c 27.9px,#31fe3f 28.2px,#14fd71 28.5px,#04f9b7 28.9px,#01f2dd 29.2px,#00e9f3 29.5px,#00d6fe 30.0px,#008dff 31.5px,#003dff 32.7px,#0025ff 33.5px,#000fff 35.2px,#0000ff 38.2px,#0000ff 126.0px)"></div><div style="top:83px;background:linear-gradient(90deg,#0000ff 0.0px,#0002ff 19.1px,#0011ff 19.6px,#002fff 20.0px,#0076ff 20.7px,#0096ff 21.2px,#00cafa 22.6px,#00dee8 23.0px,#02ecc9 23.3px,#0df988 23.7px,#24fc54 24.0px,#4bf92a 24.3px,#7fec10 24.6px,#b3d005 24.9px,#dba401 25.2px,#f27300 25.5px,#fb4e00 25.8px,#fd4300 26.0px,#fd4500 26.2px,#fa6000 26.5px,#ea9f00 26.9px,#cecc02 27.2px,#a3ea06 27.5px,#5efb1c 27.9px,#32fe3f 28.2px,#15fd70 28.5px,#04f9b6 28.9px,#01f2dd 29.2px,#00e9f3 29.5px,#00d5fe 30.0px,#0090ff 31.4px,#003fff 32.6px,#0028ff 33.3px,#0010ff 35.0px,#0000ff 38.1px,#0000ff 126.0px)"></div><div style="top:84px;background:linear-gradient(90deg,#0000ff 0.0px,#0002ff 19.2px,#0010ff 19.7px,#002eff 20.1px,#007eff 20.9px,#009eff 21.5px,#00cbf9 22.7px,#01dfe6 23.1px,#03edc5 23.4px,#0ff983 23.8px,#28fb4f 24.1px,#52f726 24.4px,#87e80f 24.7px,#bac804 25.0px,#df9b01 25.3px,#f46b00 25.6px,#fc4a00 25.9px,#fd4400 26.1px,#fd4c00 26.3px,#f86e00 26.6px,#e3ae00 27.0px,#c3d702 27.3px,#94f009 27.6px,#60fb1b 27.9px,#33fe3e 28.2px,#16fd6f 28.5px,#05f9b6 28.9px,#01f2dd 29.2px,#00e9f2 29.5px,#00d5fe 30.0px,#008dff 31.4px,#003dff 32.6px,#0026ff 33.4px,#000fff 35.1px,#0000ff 38.1px,#0000ff 126.0px)"></div><div style="top:85px;background:linear-gradient(90deg,#0000ff 0.0px,#0002ff 19.3px,#0010ff 19.8px,#002dff 20.2px,#007dff 21.0px,#009aff 21.5px,#00c6fb 22.7px,#00daeb 23.1px,#02e9cf 23.4px,#0cf790 23.8px,#22fb5a 24.1px,#49f82e 24.4px,#7deb13 24.7px,#b1ce06 25.0px,#daa201 25.3px,#f17100 25.6px,#fb4e00 25.9px,#fd4600 26.1px,#fd4d00 26.3px,#f86d00 26.6px,#e4ae00 27.0px,#c4d702 27.3px,#95f009 27.6px,#61fa1b 27.9px,#34fe3d 28.2px,#16fd6f 28.5px,#05f9b5 28.9px,#01f2dc 29.2px,#00e8f2 29.5px,#00d4fe 30.0px,#0090ff 31.3px,#003fff 32.5px,#0027ff 33.3px,#0010ff 35.0px,#0000ff 38.0px,#0000ff 126.0px)"></div><div style="top:86px;background:linear-gradient(90deg,#0000ff 0.0px,#0002ff 19.4px,#000fff 19.9px,#002cff 20.3px,#007cff 21.1px,#0099ff 21.6px,#00c6fb 22.8px,#01daea 23.2px,#03e9cc 23.5px,#0ff78b 23.9px,#26fa56 24.2px,#50f62b 24.5px,#85e611 24.8px,#b8c605 25.1px,#de9801 25.4px,#f36900 25.7px,#fa5200 25.9px,#fc4900 26.1px,#fd4e00 26.3px,#f96d00 26.6px,#e5ad00 27.0px,#c5d602 27.3px,#97ef09 27.6px,#62fa1a 27.9px,#35fe3c 28.2px,#17fd6e 28.5px,#05f9b5 28.9px,#01f2dc 29.2px,#00e8f2 29.5px,#00d3fe 30.0px,#008dff 31.3px,#0043ff 32.4px,#002bff 33.1px,#0011ff 34.8px,#0000ff 37.9px,#0000ff 126.0px)"></div><div style="top:87px;background:linear-gradient(90deg,#0000ff 0.0px,#0002ff 19.5px,#000fff 20.0px,#002cff 20.4px,#007cff 21.2px,#009aff 21.7px,#00c7fa 22.9px,#01dce6 23.3px,#03ebc5 23.6px,#12f882 24.0px,#2dfa4d 24.3px,#5af425 24.6px,#90e10e 24.9px,#c2bc04 25.2px,#e48c01 25.5px,#f66000 25.8px,#fb4e00 26.0px,#fd4a00 26.2px,#fc5500 26.4px,#f77a00 26.7px,#dfba01 27.1px,#bcdf03 27.4px,#8cf40b 27.7px,#58fc20 28.0px,#2efe45 28.3px,#13fd79 28.6px,#04f7be 29.0px,#01f0e2 29.3px,#00e5f5 29.6px,#00cbfe 30.2px,#0087ff 31.4px,#0043ff 32.4px,#002bff 33.1px,#0011ff 34.7px,#0000ff 37.8px,#0000ff 126.0px)"></div><div style="top:88px;background:linear-gradient(90deg,#0000ff 0.0px,#0002ff 19.6px,#0010ff 20.1px,#002eff 20.5px,#007eff 21.3px,#009fff 21.9px,#00c5fa 22.9px,#01dae9 23.3px,#03e9c9 23.6px,#11f788 24.0px,#2bfa52 24.3px,#56f428 24.6px,#8ce20f 24.9px,#bfbf04 25.2px,#e28f01 25.5px,#f56200 25.8px,#fb4f00 26.0px,#fd4a00 26.2px,#fd5300 26.4px,#f97800 26.7px,#e5b700 27.1px,#c6dd02 27.4px,#98f308 27.7px,#64fc19 28.0px,#36fe3a 28.3px,#18fd6b 28.6px,#05f9b2 29.0px,#01f2da 29.3px,#00e8f1 29.6px,#00d4fe 30.1px,#0092ff 31.3px,#0040ff 32.5px,#0027ff 33.3px,#0010ff 34.9px,#0000ff 37.9px,#0000ff 126.0px)"></div><div style="top:89px;background:linear-gradient(90deg,#0000ff 0.0px,#0002ff 19.7px,#0011ff 20.2px,#0030ff 20.6px,#0078ff 21.3px,#0098ff 21.8px,#00c3fb 22.9px,#01d7eb 23.3px,#03e7ce 23.6px,#0ff68d 24.0px,#28fa57 24.3px,#53f52b 24.6px,#88e311 24.9px,#bcc105 25.2px,#e19101 25.5px,#f46400 25.8px,#fa5000 26.0px,#fd4a00 26.2px,#fd5200 26.4px,#fa7500 26.7px,#eab500 27.1px,#cfdb02 27.4px,#a4f206 27.7px,#5ffd1c 28.1px,#33fe3f 28.4px,#16fd70 28.7px,#05f8b7 29.1px,#01f1dd 29.4px,#00e8f3 29.7px,#00d3fe 30.2px,#0090ff 31.4px,#0042ff 32.5px,#0029ff 33.2px,#0011ff 34.7px,#0000ff 37.8px,#0000ff 126.0px)"></div><div style="top:90px;background:linear-gradient(90deg,#0000ff 0.0px,#0003ff 19.8px,#0012ff 20.3px,#0032ff 20.7px,#007aff 21.4px,#0099ff 21.9px,#00c6fa 23.0px,#01dbe6 23.4px,#04eac4 23.7px,#14f780 24.1px,#32f94b 24.4px,#60f223 24.7px,#97dc0d 25.0px,#c7b504 25.3px,#e78401 25.6px,#f75a00 25.9px,#fc4c00 26.1px,#fd4b00 26.3px,#fd5900 26.5px,#f98100 26.8px,#e8c000 27.2px,#cbe302 27.5px,#9ff507 27.8px,#6bfc16 28.1px,#3cfe35 28.4px,#1bfe64 28.7px,#06faab 29.1px,#02f4d5 29.4px,#00eaef 29.7px,#00d6fd 30.2px,#0095ff 31.4px,#0040ff 32.6px,#0027ff 33.3px,#0011ff 34.7px,#0000ff 37.8px,#0000ff 126.0px)"></div><div style="top:91px;background:linear-gradient(90deg,#0000ff 0.0px,#0003ff 19.9px,#0013ff 20.4px,#0034ff 20.8px,#007bff 21.5px,#009bff 22.0px,#00c3fa 23.0px,#01d8e8 23.4px,#04e8c9 23.7px,#13f686 24.1px,#2ff950 24.4px,#5cf226 24.7px,#93dd0e 25.0px,#c4b704 25.3px,#e68701 25.6px,#f75c00 25.9px,#fb4c00 26.1px,#fd4b00 26.3px,#fe5700 26.5px,#fb7e00 26.8px,#edbd00 27.2px,#d3e101 27.5px,#abf405 27.8px,#66fd18 28.2px,#38fe38 28.5px,#19fd68 28.8px,#06f9af 29.2px,#01f3d8 29.5px,#00eaf0 29.8px,#00d5fd 30.3px,#0099ff 31.4px,#0042ff 32.6px,#0027ff 33.3px,#0011ff 34.7px,#0000ff 37.8px,#0000ff 126.0px)"></div><div style="top:92px;background:linear-gradient(90deg,#0000ff 0.0px,#0003ff 20.0px,#0014ff 20.5px,#0036ff 20.9px,#007dff 21.6px,#009cff 22.1px,#00c6f9 23.1px,#01d6eb 23.4px,#03e6cd 23.7px,#11f58c 24.1px,#2cf955 24.4px,#59f32a 24.7px,#8fdf10 25.0px,#c2ba05 25.3px,#e48901 25.6px,#f65e00 25.9px,#fb4d00 26.1px,#fd4a00 26.3px,#fe5500 26.5px,#fc7b00 26.8px,#f1ba00 27.2px,#dbdf01 27.5px,#b6f304 27.8px,#73fd13 28.2px,#42fe2f 28.5px,#1ffe5b 28.8px,#0bfc91 29.1px,#02f5d0 29.5px,#00ecec 29.8px,#00ddfb 30.2px,#00a4ff 31.3px,#003fff 32.7px,#0025ff 33.4px,#0010ff 34.7px,#0000ff 37.8px,#0000ff 126.0px)"></div><div style="top:93px;background:linear-gradient(90deg,#0000ff 0.0px,#0002ff 20.0px,#0010ff 20.5px,#002dff 20.9px,#007fff 21.7px,#00a2ff 22.3px,#00c3f9 23.1px,#01d9e5 23.5px,#05e9c3 23.8px,#17f67f 24.2px,#36f84a 24.5px,#67ef22 24.8px,#9ed60c 25.1px,#cdad03 25.4px,#eb7c01 25.7px,#f95500 26.0px,#fc4a00 26.2px,#fe4d00 26.4px,#fe6900 26.7px,#f4b700 27.2px,#e1dd01 27.5px,#c0f203 27.8px,#7ffd0f 28.2px,#4dfe27 28.5px,#26fe50 28.8px,#0ffc84 29.1px,#03f7c6 29.5px,#01efe7 29.8px,#00e1fa 30.2px,#00a9ff 31.3px,#0060ff 32.3px,#0037ff 32.9px,#001eff 33.7px,#000cff 35.3px,#0000ff 38.0px,#0000ff 126.0px)"></div><div style="top:94px;background:linear-gradient(90deg,#0000ff 0.0px,#0002ff 20.1px,#0011ff 20.6px,#002fff 21.0px,#0081ff 21.8px,#00a3ff 22.4px,#00c6f8 23.2px,#01d7e8 23.5px,#04e7c8 23.8px,#15f584 24.2px,#33f84e 24.5px,#63f025 24.8px,#9ad80e 25.1px,#caaf04 25.4px,#e97e01 25.7px,#f85700 26.0px,#fc4a00 26.2px,#fe4c00 26.4px,#fe6700 26.7px,#f3c200 27.3px,#dfe301 27.6px,#bcf503 27.9px,#7afd10 28.3px,#48ff2a 28.6px,#23fe54 28.9px,#0dfc89 29.2px,#02f6ca 29.6px,#00eee9 29.9px,#00e0fa 30.3px,#00a7ff 31.4px,#005bff 32.4px,#0034ff 33.0px,#001cff 33.8px,#0009ff 35.7px,#0000ff 38.2px,#0000ff 126.0px)"></div><div style="top:95px;background:linear-gradient(90deg,#0000ff 0.0px,#0003ff 20.2px,#0012ff 20.7px,#0031ff 21.1px,#007aff 21.8px,#009bff 22.3px,#00c4f8 23.2px,#01d4ea 23.5px,#04e4cc 23.8px,#13f48a 24.2px,#30f853 24.5px,#5ff028 24.8px,#96da0f 25.1px,#c7b204 25.4px,#e88101 25.7px,#f75800 26.0px,#fc4b00 26.2px,#fe4b00 26.4px,#fe5900 26.6px,#fd8100 26.9px,#f1cc00 27.4px,#dde901 27.7px,#b8f803 28.0px,#75fe12 28.4px,#44ff2d 28.7px,#20fe58 29.0px,#0cfc8e 29.3px,#02f6cd 29.7px,#00eeea 30.0px,#00dffb 30.4px,#00acff 31.4px,#0069ff 32.3px,#0036ff 33.0px,#001eff 33.7px,#000cff 35.2px,#0000ff 37.9px,#0000ff 126.0px)"></div><div style="top:96px;background:linear-gradient(90deg,#0000ff 0.0px,#0003ff 20.3px,#0013ff 20.8px,#0033ff 21.2px,#007cff 21.9px,#009dff 22.4px,#00c1f9 23.2px,#01d7e5 23.6px,#05e7c3 23.9px,#19f67d 24.3px,#3bf748 24.6px,#6dec21 24.9px,#a4d00c 25.2px,#d2a503 25.5px,#ed7401 25.8px,#fa5100 26.1px,#fd4900 26.3px,#fe4f00 26.5px,#fe6f00 26.8px,#f5c900 27.4px,#e3e700 27.7px,#c2f702 28.0px,#82fe0e 28.4px,#4fff25 28.7px,#27fe4d 29.0px,#0ffd81 29.3px,#03f7c4 29.7px,#01f0e5 30.0px,#00e2f9 30.4px,#00b0ff 31.4px,#006fff 32.3px,#0039ff 33.0px,#0020ff 33.6px,#000fff 34.8px,#0000ff 37.7px,#0000ff 126.0px)"></div><div style="top:97px;background:linear-gradient(90deg,#0000ff 0.0px,#0003ff 20.4px,#0014ff 20.9px,#0035ff 21.3px,#007eff 22.0px,#00a3ff 22.6px,#00c4f7 23.3px,#01d5e8 23.6px,#05e5c7 23.9px,#18f583 24.3px,#38f74d 24.6px,#69ed24 24.9px,#a1d20d 25.2px,#cfa704 25.5px,#ec7701 25.8px,#f95200 26.1px,#fd4900 26.3px,#fe4e00 26.5px,#fe6c00 26.8px,#f7c600 27.4px,#e9e500 27.7px,#ccf502 28.0px,#8efd0b 28.4px,#5aff1e 28.7px,#2ffe42 29.0px,#13fd74 29.3px,#04f9b9 29.7px,#01f2de 30.0px,#00e9f3 30.3px,#00d0fe 30.9px,#009bff 31.8px,#003bff 33.0px,#0021ff 33.6px,#0010ff 34.7px,#0000ff 37.7px,#0000ff 126.0px)"></div><div style="top:98px;background:linear-gradient(90deg,#0000ff 0.0px,#0002ff 20.4px,#000fff 20.9px,#002dff 21.3px,#0080ff 22.1px,#00a5ff 22.7px,#00c1f8 23.3px,#01d2ea 23.6px,#04e3cb 23.9px,#16f389 24.3px,#35f652 24.6px,#66ee27 24.9px,#9dd40e 25.2px,#cdaa04 25.5px,#eb7901 25.8px,#f95300 26.1px,#fd4900 26.3px,#fe4c00 26.5px,#ff6900 26.8px,#f6cf00 27.5px,#e7ea00 27.8px,#c8f802 28.1px,#89fe0c 28.5px,#56ff20 28.8px,#2bfe45 29.1px,#12fd78 29.4px,#03f8bd 29.8px,#01f2e1 30.1px,#00e8f4 30.4px,#00cffe 31.0px,#0099ff 31.9px,#0039ff 33.1px,#001eff 33.7px,#000eff 34.9px,#0000ff 37.7px,#0000ff 126.0px)"></div><div style="top:99px;background:linear-gradient(90deg,#0000ff 0.0px,#0002ff 20.5px,#0010ff 21.0px,#002fff 21.4px,#0082ff 22.2px,#00a6ff 22.8px,#00c4f6 23.4px,#01d5e5 23.7px,#06e6c2 24.0px,#14f28f 24.3px,#32f657 24.6px,#62ee2a 24.9px,#9ad610 25.2px,#caad05 25.5px,#e97c01 25.8px,#f85500 26.1px,#fc4900 26.3px,#fe4b00 26.5px,#ff6600 26.8px,#f9cb00 27.5px,#ece800 27.8px,#d1f601 28.1px,#96fd09 28.5px,#61ff1a 28.8px,#34ff3b 29.1px,#16fe6b 29.4px,#05fab2 29.8px,#01f4da 30.1px,#00ebf1 30.4px,#00d7fd 30.9px,#00a5ff 31.8px,#005bff 32.7px,#002fff 33.3px,#001aff 33.9px,#0007ff 35.9px,#0000ff 38.5px,#0000ff 126.0px)"></div><div style="top:100px;background:linear-gradient(90deg,#0000ff 0.0px,#0002ff 20.6px,#0011ff 21.1px,#0031ff 21.5px,#0084ff 22.3px,#00a8fe 22.9px,#00c7f4 23.5px,#02d8de 23.8px,#09e8b7 24.1px,#1af382 24.4px,#3df54b 24.7px,#70e923 25.0px,#a8cc0c 25.3px,#d49f03 25.6px,#ef6f01 25.9px,#fa4e00 26.2px,#fd4800 26.4px,#fe5000 26.6px,#ff7100 26.9px,#fac800 27.5px,#f0e500 27.8px,#d9f501 28.1px,#b2fc04 28.4px,#6efe15 28.8px,#3eff31 29.1px,#1cfe5f 29.4px,#07fba6 29.8px,#02f5d1 30.1px,#00eded 30.4px,#00dffb 30.8px,#00b0ff 31.7px,#0073ff 32.5px,#0038ff 33.2px,#001fff 33.7px,#000fff 34.7px,#0000ff 37.6px,#0000ff 126.0px)"></div><div style="top:101px;background:linear-gradient(90deg,#0000ff 0.0px,#0003ff 20.7px,#0012ff 21.2px,#0033ff 21.6px,#007dff 22.3px,#00a5ff 22.9px,#00c4f5 23.5px,#02d6e2 23.8px,#08e6bc 24.1px,#18f288 24.4px,#3af550 24.7px,#6cea26 25.0px,#a4ce0e 25.3px,#d2a204 25.6px,#ed7201 25.9px,#fa5000 26.2px,#fd4800 26.4px,#fe4f00 26.6px,#ff6e00 26.9px,#fcc400 27.5px,#f4e200 27.8px,#e0f301 28.1px,#bdfb03 28.4px,#7afe10 28.8px,#48ff29 29.1px,#22fe53 29.4px,#0dfd87 29.7px,#02f7c8 30.1px,#00f0e7 30.4px,#00e2fa 30.8px,#00b5ff 31.7px,#0079ff 32.5px,#0034ff 33.3px,#001dff 33.8px,#000eff 34.9px,#0000ff 37.7px,#0000ff 126.0px)"></div><div style="top:102px;background:linear-gradient(90deg,#0000ff 0.0px,#0003ff 20.8px,#0013ff 21.3px,#0035ff 21.7px,#007fff 22.4px,#00a7fe 23.0px,#00c1f6 23.5px,#02d3e5 23.8px,#07e4c1 24.1px,#17f18d 24.4px,#37f456 24.7px,#68eb29 25.0px,#a0d00f 25.3px,#cfa504 25.6px,#ec7401 25.9px,#f95100 26.2px,#fd4800 26.4px,#fe4d00 26.6px,#ff6b00 26.9px,#fdc100 27.5px,#f6df00 27.8px,#e6f100 28.1px,#c7fa02 28.4px,#87fe0c 28.8px,#53ff21 29.1px,#2afe47 29.4px,#10fd7a 29.7px,#03f8be 30.1px,#01f2e1 30.4px,#00e9f4 30.7px,#00d0fe 31.3px,#009fff 32.1px,#0037ff 33.3px,#001dff 33.8px,#000eff 34.8px,#0000ff 37.7px,#0000ff 126.0px)"></div><div style="top:103px;background:linear-gradient(90deg,#0000ff 0.0px,#0003ff 20.9px,#0015ff 21.4px,#0037ff 21.8px,#0081ff 22.5px,#00a9fe 23.1px,#00c4f4 23.6px,#03d6de 23.9px,#0ae7b7 24.2px,#1df280 24.5px,#42f34a 24.8px,#77e522 25.1px,#aec50c 25.4px,#d99703 25.7px,#f16801 26.0px,#fb4b00 26.3px,#fe4800 26.5px,#ff5300 26.7px,#ff7500 27.0px,#fcc900 27.6px,#f1ea00 28.0px,#dbf601 28.3px,#b5fc04 28.6px,#70fe13 29.0px,#40ff2f 29.3px,#1dfe5c 29.6px,#07fba2 30.0px,#02f6cf 30.3px,#00eeeb 30.6px,#00e0fb 31.0px,#00b2ff 31.9px,#007bff 32.6px,#0033ff 33.4px,#001bff 33.9px,#000dff 35.0px,#0000ff 37.7px,#0000ff 126.0px)"></div><div style="top:104px;background:linear-gradient(90deg,#0000ff 0.0px,#0002ff 20.9px,#0010ff 21.4px,#002eff 21.8px,#0083ff 22.6px,#00b0fc 23.3px,#01c7f0 23.7px,#04d9d7 24.0px,#0ee9ab 24.3px,#25f374 24.6px,#4ff13f 24.9px,#86de1b 25.2px,#bbba09 25.5px,#e18902 25.8px,#f55d00 26.1px,#fb4c00 26.3px,#fd4800 26.5px,#ff5100 26.7px,#ff7200 27.0px,#fdc500 27.6px,#f4e700 28.0px,#e2f401 28.3px,#bffb03 28.6px,#7dfe0f 29.0px,#4aff27 29.3px,#24fe50 29.6px,#0efd84 29.9px,#02f8c5 30.3px,#00f1e6 30.6px,#00e3f9 31.0px,#00b7ff 31.9px,#0081ff 32.6px,#0037ff 33.4px,#001cff 33.9px,#000eff 34.8px,#0000ff 37.6px,#0000ff 126.0px)"></div><div style="top:105px;background:linear-gradient(90deg,#0000ff 0.0px,#0002ff 21.0px,#0011ff 21.5px,#0030ff 21.9px,#0085ff 22.7px,#00b8f9 23.5px,#01caec 23.8px,#05dccf 24.1px,#12ec9f 24.4px,#2ff367 24.7px,#5ded35 25.0px,#95d615 25.3px,#c7ad07 25.6px,#e87c01 25.9px,#f85400 26.2px,#fc4800 26.4px,#fe4a00 26.6px,#ff6300 26.9px,#fec200 27.6px,#f7e400 28.0px,#e8f200 28.3px,#c9fa02 28.6px,#8afe0b 29.0px,#55ff20 29.3px,#2bfe44 29.6px,#11fd77 29.9px,#03f9bb 30.3px,#01f3df 30.6px,#00eaf4 30.9px,#00d1fe 31.5px,#00a0ff 32.3px,#0033ff 33.5px,#001aff 34.0px,#000cff 35.1px,#0000ff 37.8px,#0000ff 126.0px)"></div><div style="top:106px;background:linear-gradient(90deg,#0000ff 0.0px,#0003ff 21.1px,#0012ff 21.6px,#0032ff 22.0px,#0087ff 22.8px,#00bbf8 23.6px,#02cde7 23.9px,#07dfc6 24.2px,#18ed93 24.5px,#39f25a 24.8px,#6be82c 25.1px,#a4cc10 25.4px,#d29f05 25.7px,#ee6f01 26.0px,#fa4e00 26.3px,#fd4700 26.5px,#fe4e00 26.7px,#ff6c00 27.0px,#febe00 27.6px,#f9e100 28.0px,#e6f300 28.4px,#c6fa02 28.7px,#85fe0d 29.1px,#51ff22 29.4px,#28fe48 29.7px,#10fd7c 30.0px,#03f9bf 30.4px,#01f2e2 30.7px,#00e6f8 31.1px,#00baff 32.0px,#0085ff 32.7px,#0037ff 33.5px,#001bff 34.0px,#000dff 34.9px,#0000ff 37.7px,#0000ff 126.0px)"></div><div style="top:107px;background:linear-gradient(90deg,#0000ff 0.0px,#0003ff 21.2px,#0013ff 21.7px,#0034ff 22.1px,#0081ff 22.8px,#00acfd 23.4px,#01c4f0 23.8px,#04d7d7 24.1px,#0fe8ab 24.4px,#29f172 24.7px,#55ee3e 25.0px,#8dd91a 25.3px,#c1b208 25.6px,#e58102 25.9px,#f65800 26.2px,#fc4900 26.4px,#fe4800 26.6px,#ff5e00 26.9px,#fec500 27.7px,#f9e400 28.1px,#e3f401 28.5px,#c2fa03 28.8px,#80fe0e 29.2px,#4cff25 29.5px,#25fe4d 29.8px,#0efd80 30.1px,#03f8c3 30.5px,#01f2e4 30.8px,#00e5f9 31.2px,#00bfff 32.0px,#008aff 32.7px,#0032ff 33.6px,#0018ff 34.1px,#000aff 35.3px,#0000ff 37.9px,#0000ff 126.0px)"></div><div style="top:108px;background:linear-gradient(90deg,#0000ff 0.0px,#0003ff 21.3px,#0014ff 21.8px,#0036ff 22.2px,#0083ff 22.9px,#00b4f9 23.6px,#01c7ec 23.9px,#06dacf 24.2px,#14ea9f 24.5px,#33f166 24.8px,#64ea34 25.1px,#9cd015 25.4px,#cca506 25.7px,#eb7401 26.0px,#f95000 26.3px,#fd4700 26.5px,#fe4b00 26.7px,#ff6700 27.0px,#fec200 27.7px,#fae100 28.1px,#e9f200 28.5px,#cbf902 28.8px,#8cfd0b 29.2px,#58fe1e 29.5px,#2dfe42 29.8px,#12fe73 30.1px,#04fab8 30.5px,#01f4dd 30.8px,#00ebf3 31.1px,#00d8fe 31.6px,#00b1ff 32.3px,#007eff 32.9px,#0037ff 33.6px,#001eff 34.0px,#000fff 34.7px,#0000ff 37.5px,#0000ff 126.0px)"></div><div style="top:109px;background:linear-gradient(90deg,#0000ff 0.0px,#0002ff 21.3px,#0010ff 21.8px,#002eff 22.2px,#0085ff 23.0px,#00b7f8 23.7px,#02cae8 24.0px,#09ddc6 24.3px,#1bec92 24.6px,#3ef059 24.9px,#72e42b 25.2px,#aac510 25.5px,#d79704 25.8px,#f06801 26.1px,#fb4b00 26.4px,#fd4700 26.6px,#ff5900 26.9px,#ffbe00 27.7px,#fcde00 28.1px,#eeef00 28.5px,#d4f701 28.8px,#aafc05 29.1px,#64fe18 29.5px,#36ff38 29.8px,#17fe66 30.1px,#05fbac 30.5px,#01f5d6 30.8px,#00eeef 31.1px,#00dbfd 31.6px,#00afff 32.4px,#007aff 33.0px,#0033ff 33.7px,#001bff 34.1px,#000eff 34.8px,#0000ff 37.6px,#0000ff 126.0px)"></div><div style="top:110px;background:linear-gradient(90deg,#0000ff 0.0px,#0003ff 21.5px,#0013ff 22.0px,#0039ff 22.5px,#0074ff 23.2px,#00a0f8 23.9px,#01b8e9 24.2px,#04d1c9 24.5px,#15ed85 24.9px,#33f84f 25.2px,#62fb25 25.5px,#98f80d 25.8px,#c7f304 26.1px,#e3ef01 26.4px,#e7ef00 26.7px,#d9f400 27.0px,#8cfe00 27.9px,#56ff06 28.8px,#34ff18 29.2px,#16ff3f 29.6px,#04fb89 30.1px,#00f0cf 30.6px,#00e4e9 30.9px,#00d4fa 31.3px,#00a5ff 32.3px,#0070ff 33.0px,#002aff 33.8px,#0015ff 34.3px,#0003ff 36.5px,#0000ff 126.0px)"></div></div><div class="hm" style="left:540px;width:126px"><div style="top:16px;background:linear-gradient(90deg,#0000ff 0.0px,#0003ff 12.2px,#0012ff 12.7px,#003bff 13.2px,#0070ff 13.8px,#0085ff 14.3px,#00b8ff 17.3px,#00daf9 18.1px,#00edea 18.5px,#00f9c9 18.9px,#07ff59 19.8px,#1bff2c 20.2px,#3afe15 20.5px,#89f204 21.0px,#b8dc01 21.3px,#dcb700 21.6px,#f67b00 22.0px,#fd4700 22.4px,#ff2700 22.8px,#ff1a00 23.2px,#ff1f00 23.6px,#fe3600 24.0px,#fb6100 24.4px,#ec9c00 24.8px,#d4c700 25.1px,#ade601 25.4px,#6df903 25.8px,#34fe0d 26.2px,#17ff1a 26.5px,#06ff33 26.9px,#00ff8c 28.1px,#00ffb2 28.8px,#00fcf1 31.0px,#00edfc 31.7px,#00b9ff 32.8px,#007dff 33.9px,#006eff 34.7px,#0038ff 44.5px,#0000ff 54.5px,#0000ff 126.0px)"></div><div style="top:17px;background:linear-gradient(90deg,#0000ff 0.0px,#0003ff 12.3px,#0013ff 12.8px,#003dff 13.3px,#006bff 13.8px,#0083ff 14.3px,#00b7ff 17.3px,#00daf9 18.1px,#00edea 18.5px,#00f9c9 18.9px,#05ff65 19.7px,#14ff36 20.1px,#2ffe1c 20.4px,#69f908 20.8px,#abe402 21.2px,#d3c400 21.5px,#ed9800 21.8px,#fb5d00 22.2px,#fe3400 22.6px,#ff1e00 23.0px,#ff1b00 23.4px,#ff2a00 23.8px,#fd4c00 24.2px,#f09000 24.7px,#dbbd00 25.0px,#b7e000 25.3px,#79f703 25.7px,#3dfe0a 26.1px,#1dff16 26.4px,#08ff2e 26.8px,#00ff6b 27.6px,#00ffa2 28.4px,#00ffc6 29.3px,#00faf5 31.1px,#00e2fe 31.9px,#009eff 33.2px,#007bff 33.9px,#006dff 34.7px,#003cff 43.5px,#0000ff 53.8px,#0000ff 126.0px)"></div><div style="top:18px;background:linear-gradient(90deg,#0000ff 0.0px,#0003ff 12.4px,#0015ff 12.9px,#003fff 13.4px,#006cff 13.9px,#0084ff 14.4px,#00b7ff 17.3px,#00def7 18.2px,#00f0e4 18.6px,#00fabf 19.0px,#07ff58 19.8px,#1dff2c 20.2px,#3dfd15 20.5px,#8cf004 21.0px,#bbda01 21.3px,#deb400 21.6px,#f67800 22.0px,#fe4500 22.4px,#ff2600 22.8px,#ff1a00 23.2px,#ff2100 23.6px,#fe3a00 24.0px,#fa6700 24.4px,#e9a300 24.8px,#cecd00 25.1px,#a5e901 25.4px,#65fa04 25.8px,#2efe0f 26.2px,#14ff1d 26.5px,#05ff38 26.9px,#00ff99 28.2px,#00ffbe 29.0px,#00faf5 31.0px,#00e3fe 31.8px,#00a1ff 33.1px,#0079ff 33.9px,#006cff 34.8px,#003eff 42.7px,#0000ff 53.1px,#0000ff 126.0px)"></div><div style="top:19px;background:linear-gradient(90deg,#0000ff 0.0px,#0002ff 12.4px,#0010ff 12.9px,#002eff 13.3px,#006eff 14.0px,#0084ff 14.5px,#00b7ff 17.3px,#00def7 18.2px,#00f0e4 18.6px,#00fabf 19.0px,#08ff58 19.8px,#1eff2b 20.2px,#3ffd14 20.5px,#8ef004 21.0px,#bdd801 21.3px,#dfb300 21.6px,#f77600 22.0px,#fe4400 22.4px,#ff2500 22.8px,#ff1a00 23.2px,#ff2200 23.6px,#fe3c00 24.0px,#f96b00 24.4px,#e7a700 24.8px,#cbd000 25.1px,#a1eb01 25.4px,#61fb05 25.8px,#2bff10 26.2px,#12ff1f 26.5px,#03ff42 27.0px,#00ff9c 28.2px,#00ffc0 29.0px,#00faf5 30.9px,#00e3fe 31.7px,#00a3ff 33.0px,#007aff 33.8px,#006cff 34.6px,#003fff 42.2px,#0000ff 52.5px,#0000ff 126.0px)"></div><div style="top:20px;background:linear-gradient(90deg,#0000ff 0.0px,#0002ff 12.5px,#0011ff 13.0px,#0039ff 13.5px,#006fff 14.1px,#0085ff 14.6px,#00b6ff 17.3px,#00ddf7 18.2px,#00efe5 18.6px,#00fac0 19.0px,#08ff57 19.8px,#1fff2b 20.2px,#40fd14 20.5px,#90ef03 21.0px,#bed701 21.3px,#e0b100 21.6px,#f77400 22.0px,#fe4200 22.4px,#ff2400 22.8px,#ff1a00 23.2px,#ff2200 23.6px,#fe3e00 24.0px,#f96e00 24.4px,#e5aa00 24.8px,#c7d300 25.1px,#9ded01 25.4px,#5cfb05 25.8px,#28ff11 26.2px,#0cff28 26.6px,#01ff55 27.2px,#00ff9f 28.2px,#00ffc2 29.0px,#00faf5 30.8px,#00e4fe 31.6px,#00a6ff 32.9px,#007bff 33.7px,#006cff 34.4px,#003eff 41.8px,#0000ff 51.8px,#0000ff 126.0px)"></div><div style="top:21px;background:linear-gradient(90deg,#0000ff 0.0px,#0003ff 12.6px,#0013ff 13.1px,#003cff 13.6px,#0071ff 14.2px,#0086ff 14.7px,#00b6ff 17.3px,#00ddf8 18.2px,#00efe5 18.6px,#00fac0 19.0px,#08ff57 19.8px,#1fff2a 20.2px,#42fd14 20.5px,#92ef03 21.0px,#c0d601 21.3px,#e1b000 21.6px,#f77300 22.0px,#fe4100 22.4px,#ff2400 22.8px,#ff1a00 23.2px,#ff2400 23.6px,#fe4000 24.0px,#f87100 24.4px,#e3ae00 24.8px,#c4d500 25.1px,#99ee01 25.4px,#58fc06 25.8px,#26ff13 26.2px,#0bff2a 26.6px,#01ff58 27.2px,#00ff9c 28.1px,#00ffc1 28.9px,#00faf5 30.7px,#00e4fe 31.5px,#00a8ff 32.8px,#0079ff 33.7px,#006aff 34.5px,#0041ff 41.1px,#0000ff 51.1px,#0000ff 126.0px)"></div><div style="top:22px;background:linear-gradient(90deg,#0000ff 0.0px,#0003ff 12.7px,#0014ff 13.2px,#003eff 13.7px,#006bff 14.2px,#0084ff 14.7px,#00b8ff 17.4px,#00dcf8 18.2px,#00efe5 18.6px,#00fac1 19.0px,#06ff64 19.7px,#18ff34 20.1px,#36fe1a 20.4px,#72f707 20.8px,#b3df01 21.2px,#d9bc00 21.5px,#ef8f00 21.8px,#fd4a00 22.3px,#ff2800 22.7px,#ff1b00 23.1px,#ff2000 23.5px,#fe3900 23.9px,#fa6600 24.3px,#e9a200 24.7px,#cdcc00 25.0px,#a4e901 25.3px,#64fa05 25.7px,#2dfe10 26.1px,#14ff1f 26.4px,#04ff3b 26.8px,#00ff99 28.0px,#00ffc0 28.8px,#00faf5 30.6px,#00e1fe 31.5px,#00a5ff 32.8px,#0076ff 33.7px,#0068ff 34.5px,#0041ff 40.6px,#0000ff 50.5px,#0000ff 126.0px)"></div><div style="top:23px;background:linear-gradient(90deg,#0000ff 0.0px,#0002ff 12.7px,#000fff 13.2px,#002cff 13.6px,#006dff 14.3px,#0085ff 14.8px,#00b8ff 17.4px,#00dcf8 18.2px,#00eee6 18.6px,#00f9c1 19.0px,#06ff64 19.7px,#19ff33 20.1px,#37fe19 20.4px,#74f707 20.8px,#a5e702 21.1px,#cfc800 21.4px,#ea9d00 21.7px,#fa6100 22.1px,#fe3600 22.5px,#ff1f00 22.9px,#ff1c00 23.3px,#ff2c00 23.7px,#fd5000 24.1px,#ed9700 24.6px,#d5c300 24.9px,#afe401 25.2px,#70f904 25.6px,#36fe0d 26.0px,#19ff1b 26.3px,#06ff36 26.7px,#00ff8e 27.8px,#00ffb6 28.5px,#00fcf3 30.4px,#00e9fe 31.2px,#00acff 32.6px,#0077ff 33.6px,#0067ff 34.4px,#0041ff 40.2px,#0001ff 49.8px,#0000ff 126.0px)"></div><div style="top:24px;background:linear-gradient(90deg,#0000ff 0.0px,#0002ff 12.8px,#0011ff 13.3px,#002eff 13.7px,#006fff 14.4px,#0086ff 14.9px,#00b7ff 17.4px,#00dbf8 18.2px,#00eee6 18.6px,#00f9c1 19.0px,#06ff64 19.7px,#1aff33 20.1px,#38fe19 20.4px,#75f607 20.8px,#a7e602 21.1px,#d0c700 21.4px,#eb9c00 21.7px,#fb6000 22.1px,#fe3400 22.5px,#ff1e00 22.9px,#ff1c00 23.3px,#ff2d00 23.7px,#fc5200 24.1px,#f18b00 24.5px,#dcb800 24.8px,#badd00 25.1px,#8cf202 25.4px,#3ffe0b 25.9px,#1eff17 26.2px,#08ff31 26.6px,#00ff73 27.4px,#00ffab 28.2px,#00ffd5 29.3px,#00f9f7 30.5px,#00daff 31.5px,#00a4ff 32.7px,#0074ff 33.6px,#0066ff 34.4px,#0040ff 39.8px,#0001ff 49.1px,#0000ff 126.0px)"></div><div style="top:25px;background:linear-gradient(90deg,#0000ff 0.0px,#0003ff 12.9px,#0012ff 13.4px,#003aff 13.9px,#0070ff 14.5px,#0087ff 15.0px,#00b7ff 17.4px,#00dbf8 18.2px,#00ede7 18.6px,#00f9c2 19.0px,#06ff63 19.7px,#1aff32 20.1px,#3afe18 20.4px,#77f607 20.8px,#a9e502 21.1px,#d1c600 21.4px,#ec9a00 21.7px,#fb5e00 22.1px,#fe3300 22.5px,#ff1e00 22.9px,#ff1c00 23.3px,#ff2e00 23.7px,#fc5500 24.1px,#f08e00 24.5px,#dabb00 24.8px,#b6df00 25.1px,#88f302 25.4px,#3cfe0c 25.9px,#1cff19 26.2px,#07ff34 26.6px,#00ff7f 27.5px,#00ffad 28.2px,#00ffdb 29.4px,#00f7f9 30.5px,#00d3ff 31.6px,#00a0ff 32.7px,#0075ff 33.5px,#0065ff 34.2px,#003fff 39.5px,#0001ff 48.4px,#0000ff 126.0px)"></div><div style="top:26px;background:linear-gradient(90deg,#0000ff 0.0px,#0003ff 13.0px,#0013ff 13.5px,#003cff 14.0px,#0072ff 14.6px,#0088ff 15.1px,#00b6ff 17.4px,#00daf9 18.2px,#00ede7 18.6px,#00f9c2 19.0px,#07ff63 19.7px,#1bff32 20.1px,#3bfe18 20.4px,#79f606 20.8px,#aae402 21.1px,#d3c400 21.4px,#ec9800 21.7px,#fb5d00 22.1px,#fe3200 22.5px,#ff1d00 22.9px,#ff1d00 23.3px,#ff3000 23.7px,#fb5800 24.1px,#ee9200 24.5px,#d7bf00 24.8px,#b2e101 25.1px,#73f803 25.5px,#38fe0d 25.9px,#1aff1b 26.2px,#07ff37 26.6px,#00ff8a 27.6px,#00ffb5 28.3px,#00fded 29.9px,#00edfd 30.8px,#00adff 32.4px,#0072ff 33.5px,#0062ff 34.3px,#003fff 39.1px,#0001ff 47.7px,#0000ff 126.0px)"></div><div style="top:27px;background:linear-gradient(90deg,#0000ff 0.0px,#0003ff 13.1px,#0014ff 13.6px,#003eff 14.1px,#006cff 14.6px,#0086ff 15.1px,#00b9ff 17.5px,#00d9f9 18.2px,#00ece7 18.6px,#00f9c3 19.0px,#07ff63 19.7px,#1cff31 20.1px,#3dfd18 20.4px,#7bf506 20.8px,#ace302 21.1px,#d4c300 21.4px,#ed9600 21.7px,#fd4f00 22.2px,#ff2a00 22.6px,#ff1b00 23.0px,#ff2100 23.4px,#fe3a00 23.8px,#f96800 24.2px,#e7a500 24.6px,#c9cf00 24.9px,#9feb01 25.2px,#5ffb05 25.6px,#2aff12 26.0px,#12ff23 26.3px,#02ff4a 26.8px,#00ff9c 27.8px,#00ffc4 28.6px,#00faf5 30.1px,#00e0ff 31.1px,#00a5ff 32.5px,#0072ff 33.4px,#0062ff 34.1px,#003cff 38.9px,#0001ff 47.2px,#0000ff 126.0px)"></div><div style="top:28px;background:linear-gradient(90deg,#0000ff 0.0px,#0002ff 13.1px,#0010ff 13.6px,#002dff 14.0px,#006eff 14.7px,#0087ff 15.2px,#00b9ff 17.5px,#00def6 18.3px,#00f0e0 18.7px,#00fab7 19.1px,#07ff63 19.7px,#1dff31 20.1px,#3efd17 20.4px,#7cf506 20.8px,#ade202 21.1px,#d5c100 21.4px,#ed9500 21.7px,#fd4d00 22.2px,#ff2a00 22.6px,#ff1b00 23.0px,#ff2200 23.4px,#fe3c00 23.8px,#f86b00 24.2px,#e4a900 24.6px,#c6d100 24.9px,#9bec01 25.2px,#5bfb06 25.6px,#27ff14 26.0px,#0cff2d 26.4px,#01ff5f 27.0px,#00ff9f 27.8px,#00ffc7 28.6px,#00f9f6 30.1px,#00d9ff 31.2px,#00a7ff 32.4px,#006fff 33.4px,#005fff 34.1px,#0036ff 39.1px,#0001ff 46.9px,#0000ff 126.0px)"></div><div style="top:29px;background:linear-gradient(90deg,#0000ff 0.0px,#0002ff 13.2px,#0011ff 13.7px,#002fff 14.1px,#0070ff 14.8px,#0087ff 15.3px,#00b8ff 17.5px,#00ddf6 18.3px,#00efe1 18.7px,#00fab7 19.1px,#08ff63 19.7px,#1eff30 20.1px,#3ffd17 20.4px,#7ef406 20.8px,#afe102 21.1px,#d6c000 21.4px,#ee9300 21.7px,#fd4c00 22.2px,#ff2900 22.6px,#ff1b00 23.0px,#ff2300 23.4px,#fe3e00 23.8px,#f86e00 24.2px,#e2ac00 24.6px,#c3d400 24.9px,#97ee01 25.2px,#57fc07 25.6px,#25ff15 26.0px,#0aff2f 26.4px,#01ff63 27.0px,#00ffa2 27.8px,#00ffca 28.6px,#00f9f6 30.0px,#00d9ff 31.1px,#00a4ff 32.4px,#006bff 33.4px,#005cff 34.2px,#0011ff 43.5px,#0000ff 46.8px,#0000ff 126.0px)"></div><div style="top:30px;background:linear-gradient(90deg,#0000ff 0.0px,#0003ff 13.3px,#0012ff 13.8px,#003bff 14.3px,#0071ff 14.9px,#0088ff 15.4px,#00b8ff 17.5px,#00ddf6 18.3px,#00efe1 18.7px,#00fab8 19.1px,#08ff62 19.7px,#1fff30 20.1px,#41fd17 20.4px,#80f406 20.8px,#b1e002 21.1px,#d7be00 21.4px,#ef9100 21.7px,#fd4b00 22.2px,#ff2800 22.6px,#ff1b00 23.0px,#ff2400 23.4px,#fe4000 23.8px,#f77200 24.2px,#e0b000 24.6px,#bfd700 24.9px,#93ef02 25.2px,#45fd0a 25.7px,#22ff17 26.0px,#09ff32 26.4px,#00ff6f 27.1px,#00ffa6 27.8px,#00ffd0 28.7px,#00f9f6 29.9px,#00daff 31.0px,#00a6ff 32.3px,#006bff 33.3px,#005bff 34.0px,#0016ff 42.3px,#0000ff 46.1px,#0000ff 126.0px)"></div><div style="top:31px;background:linear-gradient(90deg,#0000ff 0.0px,#0003ff 13.4px,#0013ff 13.9px,#003dff 14.4px,#0073ff 15.0px,#0089ff 15.5px,#00b7ff 17.5px,#00dcf7 18.3px,#00efe2 18.7px,#00fab8 19.1px,#08ff62 19.7px,#20ff30 20.1px,#42fd16 20.4px,#92ee04 20.9px,#c0d601 21.2px,#e1ae00 21.5px,#f77100 21.9px,#fe3f00 22.3px,#ff2200 22.7px,#ff1c00 23.1px,#ff2a00 23.5px,#fc4d00 23.9px,#ed9400 24.4px,#d4c100 24.7px,#aee301 25.0px,#6ef804 25.4px,#34fe0f 25.8px,#18ff1f 26.1px,#06ff3d 26.5px,#00ff9c 27.6px,#00ffc3 28.3px,#00fbf4 29.7px,#00e1ff 30.7px,#00a8ff 32.2px,#0067ff 33.3px,#0058ff 34.0px,#0015ff 41.9px,#0000ff 45.6px,#0000ff 126.0px)"></div><div style="top:32px;background:linear-gradient(90deg,#0000ff 0.0px,#0003ff 13.5px,#0014ff 14.0px,#003fff 14.5px,#006eff 15.0px,#0087ff 15.5px,#00b7ff 17.5px,#00dcf7 18.3px,#00eee2 18.7px,#00fab8 19.1px,#09ff62 19.7px,#21ff2f 20.1px,#44fd16 20.4px,#84f305 20.8px,#b4df01 21.1px,#d9bb00 21.4px,#f08e00 21.7px,#fd4800 22.2px,#ff2600 22.6px,#ff1c00 23.0px,#ff2600 23.4px,#fd4500 23.8px,#f57900 24.2px,#dbb600 24.6px,#b8dc01 24.9px,#8af202 25.2px,#3efe0d 25.7px,#1eff1b 26.0px,#08ff38 26.4px,#00ff80 27.2px,#00ffb2 27.9px,#00fee5 29.1px,#00f3fb 30.0px,#00b3ff 31.9px,#0085ff 32.7px,#0063ff 33.3px,#0054ff 34.0px,#0011ff 41.8px,#0000ff 45.0px,#0000ff 126.0px)"></div><div style="top:33px;background:linear-gradient(90deg,#0000ff 0.0px,#0002ff 13.5px,#0010ff 14.0px,#002eff 14.4px,#006fff 15.1px,#0088ff 15.6px,#00baff 17.6px,#00dbf7 18.3px,#00eee3 18.7px,#01f9b9 19.1px,#09ff62 19.7px,#22ff2f 20.1px,#45fd15 20.4px,#85f205 20.8px,#b5de01 21.1px,#daba00 21.4px,#f08c00 21.7px,#fc5200 22.1px,#ff2c00 22.5px,#ff1c00 22.9px,#ff2200 23.3px,#fe3d00 23.7px,#f76d00 24.1px,#e2ab00 24.5px,#c2d300 24.8px,#96ed02 25.1px,#56fc07 25.5px,#24ff17 25.9px,#0aff33 26.3px,#01ff69 26.9px,#00ffa3 27.6px,#00ffcd 28.4px,#00f9f6 29.6px,#00dcff 30.7px,#00a7ff 32.1px,#0062ff 33.2px,#0051ff 33.9px,#000bff 41.7px,#0000ff 44.5px,#0000ff 126.0px)"></div><div style="top:34px;background:linear-gradient(90deg,#0000ff 0.0px,#0002ff 13.6px,#0011ff 14.1px,#0030ff 14.5px,#0071ff 15.2px,#0089ff 15.7px,#00b9ff 17.6px,#00dbf7 18.3px,#00eee3 18.7px,#01f9b9 19.1px,#09fe61 19.7px,#23ff2e 20.1px,#47fd15 20.4px,#87f205 20.8px,#b7dd01 21.1px,#dbb800 21.4px,#f18a00 21.7px,#fc5100 22.1px,#ff2b00 22.5px,#ff1c00 22.9px,#ff2300 23.3px,#fe3f00 23.7px,#f77100 24.1px,#e0af00 24.5px,#bfd600 24.8px,#92ef02 25.1px,#44fd0b 25.6px,#22ff19 25.9px,#09ff36 26.3px,#00ff76 27.0px,#00ffad 27.7px,#00ffdc 28.7px,#00f8f8 29.6px,#00d2ff 30.9px,#00a9ff 32.0px,#005dff 33.2px,#004cff 33.9px,#000dff 40.1px,#0000ff 43.1px,#0000ff 126.0px)"></div><div style="top:35px;background:linear-gradient(90deg,#0000ff 0.0px,#0003ff 13.7px,#0014ff 14.2px,#0040ff 14.7px,#006eff 15.2px,#0088ff 15.7px,#00b9ff 17.6px,#00daf7 18.3px,#00ede3 18.7px,#01f9ba 19.1px,#0afe61 19.7px,#23ff2e 20.1px,#47fd15 20.4px,#88f205 20.8px,#b8dc01 21.1px,#dcb800 21.4px,#f57a00 21.8px,#fd4400 22.2px,#ff2500 22.6px,#ff1c00 23.0px,#ff2900 23.4px,#fd4b00 23.8px,#f28200 24.2px,#dfb000 24.5px,#bdd800 24.8px,#90f002 25.1px,#42fd0c 25.6px,#20ff1a 25.9px,#09ff37 26.3px,#00ff78 27.0px,#00ffaf 27.7px,#00ffde 28.7px,#00f7f9 29.6px,#00ceff 31.0px,#00a8ff 32.0px,#0058ff 33.2px,#0046ff 33.9px,#0023ff 36.7px,#000bff 38.9px,#0000ff 41.7px,#0000ff 126.0px)"></div><div style="top:36px;background:linear-gradient(90deg,#0000ff 0.0px,#0003ff 13.7px,#0014ff 14.2px,#0040ff 14.7px,#006eff 15.2px,#0088ff 15.7px,#00b9ff 17.6px,#00daf7 18.3px,#00ede3 18.7px,#01f9ba 19.1px,#0afe61 19.7px,#23ff2e 20.1px,#47fd15 20.4px,#88f205 20.8px,#b8dc01 21.1px,#dcb800 21.4px,#f57a00 21.8px,#fd4400 22.2px,#ff2500 22.6px,#ff1c00 23.0px,#ff2900 23.4px,#fd4b00 23.8px,#f28200 24.2px,#dfb000 24.5px,#bdd800 24.8px,#90f002 25.1px,#42fd0c 25.6px,#20ff1a 25.9px,#09ff37 26.3px,#00ff78 27.0px,#00ffaf 27.7px,#00ffde 28.7px,#00f7f9 29.6px,#00ceff 31.0px,#00a7ff 32.0px,#0076ff 32.7px,#0054ff 33.2px,#0042ff 33.8px,#001fff 36.2px,#000bff 38.1px,#0000ff 40.7px,#0000ff 126.0px)"></div><div style="top:37px;background:linear-gradient(90deg,#0000ff 0.0px,#0003ff 13.7px,#0014ff 14.2px,#003eff 14.7px,#006cff 15.2px,#0086ff 15.7px,#00b5ff 17.6px,#00d7f8 18.3px,#00ebe6 18.7px,#00f8be 19.1px,#08fe68 19.7px,#1fff33 20.1px,#40fd18 20.4px,#7ef406 20.8px,#afe202 21.1px,#d6c100 21.4px,#ee9700 21.7px,#fd5700 22.2px,#ff3800 22.6px,#ff3000 23.0px,#ff3c00 23.4px,#fc5c00 23.8px,#ef9000 24.2px,#d8ba00 24.5px,#a5e601 24.9px,#66f906 25.3px,#2ffe14 25.7px,#15ff26 26.0px,#05ff48 26.4px,#00ffa1 27.4px,#00ffca 28.1px,#00fbf3 29.2px,#00e6fe 30.1px,#00a9ff 31.9px,#0082ff 32.5px,#004eff 33.2px,#003bff 33.8px,#0011ff 36.7px,#0000ff 39.8px,#0000ff 126.0px)"></div><div style="top:38px;background:linear-gradient(90deg,#0000ff 0.0px,#0003ff 5.0px,#0017ff 5.7px,#0039ff 6.6px,#0062ff 8.4px,#00aaff 10.3px,#00eeff 11.8px,#00fcfe 12.6px,#00f7fe 13.5px,#00dfff 14.7px,#00ccff 16.0px,#00c1ff 17.1px,#00cafe 18.0px,#00ddf6 18.6px,#00ede1 19.0px,#00f9b8 19.4px,#07fe65 20.0px,#1cff33 20.4px,#3bfe18 20.7px,#78f806 21.1px,#c6e401 21.6px,#e5d000 21.9px,#f9b500 22.3px,#fea100 22.8px,#fea300 23.2px,#f3bf00 23.8px,#dfd300 24.1px,#bce601 24.4px,#6df906 24.9px,#34fe16 25.3px,#18ff2b 25.6px,#06ff51 26.0px,#00ffb4 27.1px,#00fee0 27.8px,#00f9f7 28.5px,#00d8ff 29.7px,#0095ff 31.9px,#0073ff 32.5px,#0044ff 33.2px,#0030ff 33.9px,#0010ff 36.3px,#0000ff 39.3px,#0000ff 126.0px)"></div><div style="top:39px;background:linear-gradient(90deg,#0000ff 0.0px,#0003ff 4.7px,#0014ff 5.2px,#0045ff 5.8px,#006dff 6.3px,#0092ff 7.2px,#00c0fe 8.2px,#00e7f3 8.9px,#00f8d9 9.4px,#00ff9a 10.1px,#09ff42 10.9px,#22ff17 11.4px,#45ff05 11.9px,#5dff00 12.4px,#63ff00 12.9px,#56ff01 13.4px,#30ff0e 14.0px,#10ff2f 14.5px,#02ff6c 15.1px,#00ffae 15.8px,#00ffda 16.5px,#00ffee 17.2px,#00fefa 18.6px,#00fdef 19.1px,#00fed4 19.5px,#01ff9c 20.0px,#0bff4c 20.6px,#27ff21 21.0px,#58ff0a 21.4px,#a8ff01 22.0px,#c9ff00 22.4px,#d8ff00 22.8px,#d4ff00 23.3px,#beff00 23.7px,#95ff02 24.1px,#4fff0c 24.6px,#20ff24 25.0px,#09ff4c 25.4px,#00ff98 26.1px,#00fdd7 26.9px,#00f5f4 27.5px,#00dffe 28.3px,#0092ff 31.2px,#0076ff 32.1px,#0035ff 33.3px,#0021ff 34.3px,#0007ff 37.2px,#0000ff 39.9px,#0000ff 126.0px)"></div><div style="top:40px;background:linear-gradient(90deg,#0000ff 0.0px,#0003ff 4.5px,#0015ff 5.0px,#0041ff 5.5px,#007aff 6.1px,#0097ff 6.7px,#00c4fe 7.8px,#00e3f5 8.4px,#00f6d8 8.9px,#01fe9a 9.5px,#09ff51 10.1px,#21ff28 10.5px,#43fe12 10.8px,#93f803 11.3px,#ceeb00 11.7px,#eade00 12.0px,#face00 12.4px,#fec800 12.9px,#f5d600 13.4px,#e2e300 13.7px,#c0ef01 14.0px,#5efc0b 14.6px,#28ff22 15.0px,#10ff3c 15.3px,#02ff70 15.8px,#00ffa5 16.4px,#00ffbe 16.9px,#00ffe4 19.1px,#00ffe2 19.6px,#00ffcf 20.0px,#01ff9f 20.5px,#0aff48 21.2px,#1aff20 21.6px,#31ff0a 22.0px,#4cff01 22.6px,#50ff00 23.1px,#3eff04 23.7px,#23ff17 24.2px,#0fff39 24.6px,#02ff80 25.2px,#00fec1 25.8px,#00fae5 26.3px,#00e9fa 26.9px,#00bbff 28.1px,#007aff 31.0px,#005cff 32.2px,#002bff 33.3px,#0018ff 34.6px,#0000ff 38.3px,#0000ff 126.0px)"></div><div style="top:41px;background:linear-gradient(90deg,#0000ff 0.0px,#0002ff 4.3px,#0012ff 4.8px,#0033ff 5.2px,#007cff 5.9px,#0098ff 6.4px,#00c4fe 7.6px,#00e2f6 8.2px,#00f2e2 8.6px,#00fbbb 9.0px,#06ff60 9.7px,#1bff32 10.1px,#3bfd19 10.4px,#7af207 10.8px,#acdc02 11.1px,#d4b900 11.4px,#ed8d00 11.7px,#fb5800 12.1px,#fe3f00 12.4px,#ff3300 12.7px,#ff3500 13.0px,#fe4600 13.3px,#f67000 13.7px,#e59c00 14.0px,#c4c601 14.3px,#95e504 14.6px,#50f910 15.0px,#28fe23 15.3px,#0fff3e 15.6px,#02ff73 16.1px,#00ff9d 16.6px,#00ffb5 17.2px,#00ffd9 19.1px,#00ffed 20.0px,#00ffe6 20.5px,#00ffcb 21.0px,#00ff88 21.9px,#00ff6f 22.5px,#00ff6c 23.1px,#00ff7b 23.7px,#00ff9a 24.2px,#00f6e3 25.1px,#00e3f8 25.6px,#00b2ff 26.6px,#008cff 27.7px,#0054ff 31.1px,#003cff 32.4px,#0020ff 33.5px,#0002ff 37.3px,#0000ff 126.0px)"></div><div style="top:42px;background:linear-gradient(90deg,#0000ff 0.0px,#0003ff 4.3px,#000eff 4.7px,#002dff 5.1px,#0077ff 5.8px,#0096ff 6.3px,#00c4fe 7.6px,#00e2f6 8.2px,#00f2e1 8.6px,#00fbba 9.0px,#07ff5e 9.7px,#1dfe2f 10.1px,#3ffc17 10.4px,#80f006 10.8px,#b2d702 11.1px,#d9b000 11.4px,#f08000 11.7px,#fc4700 12.1px,#fe2c00 12.4px,#ff2000 12.7px,#ff2200 13.0px,#fe3300 13.3px,#fa5300 13.6px,#e89000 14.0px,#c9be01 14.3px,#9ae104 14.6px,#65f40b 14.9px,#36fc1a 15.2px,#17fe33 15.5px,#05ff5c 15.9px,#00ff96 16.5px,#00ffaf 17.0px,#00ffdc 19.2px,#00f7fb 20.5px,#00d5ff 22.9px,#00beff 24.1px,#0067ff 26.7px,#0026ff 32.2px,#0001ff 37.1px,#0000ff 126.0px)"></div><div style="top:43px;background:linear-gradient(90deg,#0000ff 0.0px,#0003ff 4.3px,#000fff 4.7px,#002eff 5.1px,#0078ff 5.8px,#0096ff 6.3px,#00c4fe 7.6px,#00e2f6 8.2px,#00f2e1 8.6px,#00fbba 9.0px,#07ff5e 9.7px,#1dfe2f 10.1px,#3ffc17 10.4px,#80f006 10.8px,#b2d702 11.1px,#d9b000 11.4px,#f08000 11.7px,#fc4700 12.1px,#fe2c00 12.4px,#ff2000 12.7px,#ff2200 13.0px,#fe3300 13.3px,#fa5300 13.6px,#e89000 14.0px,#c9be01 14.3px,#9ae104 14.6px,#65f40b 14.9px,#36fc1a 15.2px,#17fe33 15.5px,#05ff5c 15.9px,#00ff96 16.5px,#00ffaf 17.0px,#00ffdc 19.2px,#00f7fb 20.5px,#00d5ff 22.9px,#00beff 24.1px,#0080ff 25.9px,#0062ff 26.8px,#002bff 31.2px,#0002ff 36.6px,#0000ff 126.0px)"></div><div style="top:44px;background:linear-gradient(90deg,#0000ff 0.0px,#0003ff 4.3px,#0010ff 4.7px,#0030ff 5.1px,#0079ff 5.8px,#0097ff 6.3px,#00c4fe 7.6px,#00e2f6 8.2px,#00f2e1 8.6px,#00fbba 9.0px,#07ff5e 9.7px,#1dfe2f 10.1px,#3ffc17 10.4px,#80f006 10.8px,#b2d702 11.1px,#d9b000 11.4px,#f08000 11.7px,#fc4700 12.1px,#fe2c00 12.4px,#ff2000 12.7px,#ff2200 13.0px,#fe3300 13.3px,#fa5300 13.6px,#e89000 14.0px,#c9be01 14.3px,#9ae104 14.6px,#65f40b 14.9px,#36fc1a 15.2px,#17fe33 15.5px,#05ff5c 15.9px,#00ff96 16.5px,#00ffaf 17.0px,#00ffdc 19.2px,#00f7fb 20.5px,#00d5ff 22.9px,#00beff 24.1px,#0083ff 25.8px,#005eff 26.8px,#002dff 30.3px,#0002ff 36.0px,#0000ff 126.0px)"></div><div style="top:45px;background:linear-gradient(90deg,#0000ff 0.0px,#0004ff 4.3px,#0011ff 4.7px,#0032ff 5.1px,#007bff 5.8px,#0097ff 6.3px,#00c4fe 7.6px,#00e2f6 8.2px,#00f2e1 8.6px,#00fbba 9.0px,#07ff5e 9.7px,#1dfe2f 10.1px,#3ffc17 10.4px,#80f006 10.8px,#b2d702 11.1px,#d9b000 11.4px,#f08000 11.7px,#fc4700 12.1px,#fe2c00 12.4px,#ff2000 12.7px,#ff2200 13.0px,#fe3300 13.3px,#fa5300 13.6px,#e89000 14.0px,#c9be01 14.3px,#9ae104 14.6px,#65f40b 14.9px,#36fc1a 15.2px,#17fe33 15.5px,#05ff5c 15.9px,#00ff96 16.5px,#00ffaf 17.0px,#00ffdc 19.2px,#00f7fb 20.5px,#00d5ff 22.9px,#00beff 24.1px,#0086ff 25.7px,#005cff 26.7px,#0038ff 28.8px,#0009ff 34.3px,#0000ff 36.9px,#0000ff 126.0px)"></div><div style="top:46px;background:linear-gradient(90deg,#0000ff 0.0px,#0003ff 4.2px,#0012ff 4.7px,#0034ff 5.1px,#007cff 5.8px,#0097ff 6.3px,#00c4fe 7.6px,#00e2f6 8.2px,#00f2e1 8.6px,#00fbba 9.0px,#07ff5e 9.7px,#1dfe2f 10.1px,#3ffc17 10.4px,#80f006 10.8px,#b2d702 11.1px,#d9b000 11.4px,#f08000 11.7px,#fc4700 12.1px,#fe2c00 12.4px,#ff2000 12.7px,#ff2200 13.0px,#fe3300 13.3px,#fa5300 13.6px,#e89000 14.0px,#c9be01 14.3px,#9ae104 14.6px,#65f40b 14.9px,#36fc1a 15.2px,#17fe33 15.5px,#05ff5c 15.9px,#00ff96 16.5px,#00ffaf 17.0px,#00ffdc 19.2px,#00f7fb 20.5px,#00d5ff 22.9px,#00beff 24.1px,#008aff 25.6px,#0057ff 26.7px,#003aff 28.2px,#000eff 33.0px,#0000ff 35.9px,#0000ff 126.0px)"></div><div style="top:47px;background:linear-gradient(90deg,#0000ff 0.0px,#0003ff 4.2px,#0014ff 4.7px,#0036ff 5.1px,#0075ff 5.7px,#0094ff 6.2px,#00c4fe 7.6px,#00e2f6 8.2px,#00f2e1 8.6px,#00fbba 9.0px,#07ff5e 9.7px,#1dfe2f 10.1px,#3ffc17 10.4px,#80f006 10.8px,#b2d702 11.1px,#d9b000 11.4px,#f08000 11.7px,#fc4700 12.1px,#fe2c00 12.4px,#ff2000 12.7px,#ff2200 13.0px,#fe3300 13.3px,#fa5300 13.6px,#e89000 14.0px,#c9be01 14.3px,#9ae104 14.6px,#65f40b 14.9px,#36fc1a 15.2px,#17fe33 15.5px,#05ff5c 15.9px,#00ff96 16.5px,#00ffaf 17.0px,#00ffdc 19.2px,#00f7fb 20.5px,#00d5ff 22.9px,#00beff 24.1px,#0089ff 25.6px,#0052ff 26.7px,#003aff 27.9px,#000eff 32.4px,#0000ff 35.3px,#0000ff 126.0px)"></div><div style="top:48px;background:linear-gradient(90deg,#0000ff 0.0px,#0003ff 4.2px,#000fff 4.6px,#002dff 5.0px,#0076ff 5.7px,#0094ff 6.2px,#00c4fe 7.6px,#00e2f6 8.2px,#00f2e1 8.6px,#00fbba 9.0px,#07ff5e 9.7px,#1dfe2f 10.1px,#3ffc17 10.4px,#80f006 10.8px,#b2d702 11.1px,#d9b000 11.4px,#f08000 11.7px,#fc4700 12.1px,#fe2c00 12.4px,#ff2000 12.7px,#ff2200 13.0px,#fe3300 13.3px,#fa5300 13.6px,#e89000 14.0px,#c9be01 14.3px,#9ae104 14.6px,#65f40b 14.9px,#36fc1a 15.2px,#17fe33 15.5px,#05ff5c 15.9px,#00ff96 16.5px,#00ffaf 17.0px,#00ffdc 19.2px,#00f7fb 20.5px,#00d5ff 22.9px,#00beff 24.1px,#008eff 25.5px,#0050ff 26.7px,#0038ff 27.8px,#000fff 31.8px,#0000ff 34.8px,#0000ff 126.0px)"></div><div style="top:49px;background:linear-gradient(90deg,#0000ff 0.0px,#0003ff 4.2px,#0010ff 4.6px,#002fff 5.0px,#0078ff 5.7px,#0095ff 6.2px,#00c4fe 7.6px,#00e2f6 8.2px,#00f2e1 8.6px,#00fbba 9.0px,#07ff5e 9.7px,#1dfe2f 10.1px,#3ffc17 10.4px,#80f006 10.8px,#b2d702 11.1px,#d9b000 11.4px,#f08000 11.7px,#fc4700 12.1px,#fe2c00 12.4px,#ff2000 12.7px,#ff2200 13.0px,#fe3300 13.3px,#fa5300 13.6px,#e89000 14.0px,#c9be01 14.3px,#9ae104 14.6px,#65f40b 14.9px,#36fc1a 15.2px,#17fe33 15.5px,#05ff5c 15.9px,#00ff96 16.5px,#00ffaf 17.0px,#00ffdc 19.2px,#00f7fb 20.5px,#00d5ff 22.9px,#00beff 24.1px,#008eff 25.5px,#004fff 26.7px,#0037ff 27.8px,#000fff 31.4px,#0000ff 34.4px,#0000ff 126.0px)"></div><div style="top:50px;background:linear-gradient(90deg,#0000ff 0.0px,#0003ff 4.2px,#0011ff 4.6px,#0030ff 5.0px,#0079ff 5.7px,#0095ff 6.2px,#00c4fe 7.6px,#00e2f6 8.2px,#00f2e1 8.6px,#00fbb9 9.0px,#08ff5c 9.7px,#20fe2d 10.1px,#43fc16 10.4px,#85ed06 10.8px,#b6d302 11.1px,#dcaa00 11.4px,#f17a00 11.7px,#fc4300 12.1px,#fe2a00 12.4px,#ff1f00 12.7px,#ff2300 13.0px,#fe3600 13.3px,#f95700 13.6px,#e69400 14.0px,#c6c201 14.3px,#97e304 14.6px,#51f910 15.0px,#28fe22 15.3px,#10ff3d 15.6px,#02ff72 16.1px,#00ff9d 16.6px,#00ffb2 17.1px,#00ffdc 19.2px,#00f8fb 20.5px,#00d0ff 23.3px,#00b0ff 24.6px,#0086ff 25.7px,#004cff 26.8px,#0035ff 27.9px,#000fff 31.3px,#0000ff 34.2px,#0000ff 126.0px)"></div><div style="top:51px;background:linear-gradient(90deg,#0000ff 0.0px,#0002ff 4.1px,#0011ff 4.6px,#0032ff 5.0px,#0079ff 5.7px,#0095ff 6.2px,#00c0ff 7.5px,#00e2f6 8.2px,#00f2e0 8.6px,#00fbb7 9.0px,#07ff65 9.6px,#1cfe34 10.0px,#3dfc1a 10.3px,#7eef07 10.7px,#b1d602 11.0px,#d9ae00 11.3px,#f07e00 11.6px,#fc4600 12.0px,#fe2c00 12.3px,#ff1f00 12.6px,#ff2100 12.9px,#fe3200 13.2px,#fb5100 13.5px,#ea8c00 13.9px,#cdbb01 14.2px,#a1df03 14.5px,#6df309 14.8px,#30fd1c 15.2px,#14ff35 15.5px,#04ff5e 15.9px,#00ff96 16.5px,#00ffaf 17.0px,#00ffdd 19.3px,#00f7fb 20.6px,#00c6ff 23.9px,#0093ff 25.5px,#0049ff 26.9px,#0032ff 28.0px,#000fff 31.1px,#0000ff 34.1px,#0000ff 126.0px)"></div><div style="top:52px;background:linear-gradient(90deg,#0000ff 0.0px,#0003ff 4.1px,#0012ff 4.6px,#0033ff 5.0px,#007aff 5.7px,#0096ff 6.2px,#00c0ff 7.5px,#00e2f5 8.2px,#00f2df 8.6px,#00fbb5 9.0px,#08ff61 9.6px,#19fe3b 9.9px,#38fc1e 10.2px,#78f009 10.6px,#acd903 10.9px,#d5b201 11.2px,#ee8200 11.5px,#fc4900 11.9px,#fe2d00 12.2px,#ff2000 12.5px,#ff2000 12.8px,#fe2e00 13.1px,#fc4b00 13.4px,#ee8400 13.8px,#d4b300 14.1px,#abda02 14.4px,#78f107 14.7px,#38fd17 15.1px,#19ff2d 15.4px,#06ff55 15.8px,#00ff8f 16.4px,#00ffac 16.9px,#00ffc2 18.0px,#00ffe2 19.5px,#00f8fb 20.7px,#00c5ff 24.0px,#0092ff 25.6px,#0047ff 27.0px,#0030ff 28.1px,#000fff 31.0px,#0000ff 33.9px,#0000ff 126.0px)"></div><div style="top:53px;background:linear-gradient(90deg,#0000ff 0.0px,#0003ff 4.1px,#0013ff 4.6px,#0034ff 5.0px,#007bff 5.7px,#0096ff 6.2px,#00c0ff 7.5px,#00e2f5 8.2px,#00f2de 8.6px,#01fbb2 9.0px,#0bff5d 9.6px,#1dfe37 9.9px,#40fb1b 10.2px,#83ec08 10.6px,#b6d002 10.9px,#dca600 11.2px,#f27600 11.5px,#fd4100 11.9px,#ff2900 12.2px,#ff1e00 12.5px,#ff2100 12.8px,#fe3200 13.1px,#fb5100 13.4px,#eb8c00 13.8px,#d0bb00 14.1px,#a5df02 14.4px,#71f307 14.7px,#34fd18 15.1px,#16ff2f 15.4px,#05ff56 15.8px,#00ff90 16.4px,#00ffac 16.9px,#00ffc2 18.0px,#00ffe0 19.5px,#00f9fb 20.7px,#00ccff 23.8px,#009cff 25.4px,#0075ff 26.2px,#0047ff 27.0px,#0032ff 27.9px,#0010ff 30.7px,#0000ff 33.8px,#0000ff 126.0px)"></div><div style="top:54px;background:linear-gradient(90deg,#0000ff 0.0px,#0003ff 4.1px,#0014ff 4.6px,#0035ff 5.0px,#0074ff 5.6px,#0093ff 6.1px,#00c0ff 7.5px,#00e2f5 8.2px,#00f2dd 8.6px,#01fbb0 9.0px,#09fe68 9.5px,#1afe3f 9.8px,#3bfc20 10.1px,#7ced0a 10.5px,#b0d303 10.8px,#d8aa01 11.1px,#f07a00 11.4px,#fc4400 11.8px,#fe2a00 12.1px,#ff1d00 12.5px,#ff2800 12.9px,#fd4000 13.2px,#f47400 13.6px,#e0a400 13.9px,#bdcf01 14.2px,#8eeb04 14.5px,#4bfb0f 14.9px,#25fe20 15.2px,#0eff39 15.5px,#02ff6c 16.0px,#00ff98 16.5px,#00ffb0 17.0px,#00ffdc 19.4px,#00f9fb 20.8px,#00c7ff 24.1px,#0093ff 25.7px,#0066ff 26.5px,#0045ff 27.1px,#0030ff 28.0px,#0010ff 30.6px,#0000ff 33.6px,#0000ff 126.0px)"></div><div style="top:55px;background:linear-gradient(90deg,#0000ff 0.0px,#0003ff 4.1px,#000fff 4.5px,#002dff 4.9px,#0075ff 5.6px,#0093ff 6.1px,#00c0ff 7.5px,#00ddf8 8.1px,#00efe4 8.5px,#01fabb 8.9px,#0bfe63 9.5px,#1ffe3b 9.8px,#43fa1d 10.1px,#88e808 10.5px,#baca02 10.8px,#df9e01 11.1px,#f36f00 11.4px,#fd3d00 11.8px,#ff2600 12.1px,#ff1d00 12.5px,#fe2b00 12.9px,#fc4600 13.2px,#f27c00 13.6px,#dcac00 13.9px,#b8d501 14.2px,#87ee04 14.5px,#46fc10 14.9px,#22fe21 15.2px,#0dff3b 15.5px,#01ff6d 16.0px,#00ff98 16.5px,#00ffb0 17.0px,#00ffde 19.5px,#00f9fb 20.9px,#00c9ff 24.1px,#0096ff 25.7px,#0071ff 26.4px,#0047ff 27.1px,#0031ff 27.9px,#0010ff 30.4px,#0000ff 33.5px,#0000ff 126.0px)"></div><div style="top:56px;background:linear-gradient(90deg,#0000ff 0.0px,#0003ff 4.1px,#000fff 4.5px,#002eff 4.9px,#0076ff 5.6px,#0093ff 6.1px,#00c0ff 7.5px,#00ddf7 8.1px,#00efe3 8.5px,#01fab8 8.9px,#09fe6e 9.4px,#1bfe44 9.7px,#3dfb23 10.0px,#81ea0a 10.4px,#b5cd03 10.7px,#dca301 11.0px,#f27300 11.3px,#fd3f00 11.7px,#ff2300 12.1px,#ff1d00 12.5px,#fe2f00 12.9px,#fa5800 13.3px,#e99400 13.7px,#cdc200 14.0px,#a2e302 14.3px,#5ff909 14.7px,#28fe1c 15.1px,#10ff33 15.4px,#02ff64 15.9px,#00ff98 16.5px,#00ffb0 17.0px,#00ffdd 19.5px,#00fafc 21.0px,#00c8ff 24.2px,#0095ff 25.8px,#006fff 26.5px,#0044ff 27.2px,#002eff 28.0px,#0010ff 30.4px,#0000ff 33.4px,#0000ff 126.0px)"></div><div style="top:57px;background:linear-gradient(90deg,#0000ff 0.0px,#0003ff 4.1px,#0010ff 4.5px,#002fff 4.9px,#0077ff 5.6px,#0094ff 6.1px,#00c0ff 7.5px,#00ddf7 8.1px,#00efe2 8.5px,#01fab6 8.9px,#0cfe6a 9.4px,#20fd3f 9.7px,#46f920 10.0px,#8ce409 10.4px,#bec403 10.7px,#e29701 11.0px,#f56800 11.3px,#fd3800 11.7px,#ff2000 12.1px,#ff1e00 12.5px,#fe3300 12.9px,#f95f00 13.3px,#e69d00 13.7px,#c8c900 14.0px,#9ce702 14.3px,#59fa09 14.7px,#30fe16 15.0px,#14ff2c 15.3px,#05ff51 15.7px,#00ff92 16.4px,#00ffac 16.9px,#00ffc2 18.1px,#00ffe5 19.9px,#00f9fd 21.2px,#00c8ff 24.3px,#0094ff 25.9px,#006cff 26.6px,#0041ff 27.3px,#002cff 28.1px,#0010ff 30.3px,#0000ff 33.4px,#0000ff 126.0px)"></div><div style="top:58px;background:linear-gradient(90deg,#0000ff 0.0px,#0003ff 4.1px,#0010ff 4.5px,#002fff 4.9px,#0077ff 5.6px,#0094ff 6.1px,#00bfff 7.5px,#00ddf7 8.1px,#00efe1 8.5px,#01f9b5 8.9px,#0dfe68 9.4px,#24fd3d 9.7px,#4cf81e 10.0px,#81e90c 10.3px,#b5cb04 10.6px,#dc9f01 10.9px,#f27000 11.2px,#fd3d00 11.6px,#ff2200 12.0px,#ff1d00 12.4px,#fe2e00 12.8px,#fb5700 13.2px,#ec9300 13.6px,#d2c100 13.9px,#aae301 14.2px,#69f806 14.6px,#30fe15 15.0px,#15ff2a 15.3px,#05ff4f 15.7px,#00ff90 16.4px,#00ffac 16.9px,#00ffc0 18.0px,#00ffe2 19.8px,#00fafc 21.2px,#00c8ff 24.3px,#0092ff 26.0px,#0069ff 26.7px,#003fff 27.4px,#0028ff 28.3px,#000fff 30.4px,#0000ff 33.3px,#0000ff 126.0px)"></div><div style="top:59px;background:linear-gradient(90deg,#0000ff 0.0px,#0003ff 4.1px,#000fff 4.5px,#002dff 4.9px,#0075ff 5.6px,#0093ff 6.1px,#00bfff 7.5px,#00dcf7 8.1px,#00eee2 8.5px,#01f9b5 8.9px,#0efe68 9.4px,#25fd3d 9.7px,#4ef71d 10.0px,#83e70b 10.3px,#b7c803 10.6px,#de9c01 10.9px,#f36d00 11.2px,#fd3b00 11.6px,#ff2100 12.0px,#ff1e00 12.4px,#fe3100 12.8px,#fb5c00 13.2px,#eb9800 13.6px,#d2c500 13.9px,#ace501 14.2px,#6df905 14.6px,#34fe12 15.0px,#18ff25 15.3px,#06ff49 15.7px,#00ff8d 16.4px,#00ffaa 16.9px,#00ffbd 17.8px,#00ffdd 19.6px,#00fbfb 21.1px,#00caff 24.2px,#0092ff 26.0px,#006bff 26.7px,#003fff 27.4px,#002aff 28.2px,#000fff 30.3px,#0000ff 33.3px,#0000ff 126.0px)"></div><div style="top:60px;background:linear-gradient(90deg,#0000ff 0.0px,#0003ff 4.1px,#0013ff 4.6px,#0035ff 5.0px,#0074ff 5.6px,#0092ff 6.1px,#00c3fe 7.6px,#00e1f4 8.2px,#00f1d9 8.6px,#03fba7 9.0px,#0ffe68 9.4px,#27fd3d 9.7px,#50f61d 10.0px,#86e60b 10.3px,#bac603 10.6px,#df9901 10.9px,#f46a00 11.2px,#fd3a00 11.6px,#ff2100 12.0px,#ff1f00 12.4px,#fe3400 12.8px,#fa6000 13.2px,#eb9d00 13.6px,#c8d500 14.0px,#9fee01 14.3px,#62fc05 14.7px,#2eff14 15.1px,#0fff31 15.5px,#02ff63 16.0px,#00ff98 16.6px,#00ffb0 17.1px,#00ffdf 19.7px,#00fbfb 21.1px,#00c9ff 24.2px,#0092ff 26.0px,#006bff 26.7px,#003fff 27.4px,#002aff 28.2px,#000fff 30.3px,#0000ff 33.3px,#0000ff 126.0px)"></div><div style="top:61px;background:linear-gradient(90deg,#0000ff 0.0px,#0003ff 4.1px,#0012ff 4.6px,#0033ff 5.0px,#007bff 5.7px,#0095ff 6.2px,#00c2fe 7.6px,#00e0f4 8.2px,#00f1d9 8.6px,#03fba7 9.0px,#0ffe67 9.4px,#28fc3c 9.7px,#52f61d 10.0px,#88e40b 10.3px,#bcc303 10.6px,#e19601 10.9px,#f46700 11.2px,#fd3800 11.6px,#ff2000 12.0px,#ff2000 12.4px,#fe3600 12.8px,#fa6500 13.2px,#eba300 13.6px,#c8d900 14.0px,#a1f001 14.3px,#58fd06 14.8px,#28ff16 15.2px,#0dff34 15.6px,#01ff72 16.2px,#00ff9c 16.7px,#00ffb1 17.2px,#00ffdc 19.6px,#00fbfb 21.1px,#00c8ff 24.2px,#008fff 26.1px,#0068ff 26.8px,#003dff 27.5px,#0026ff 28.4px,#000eff 30.4px,#0000ff 33.3px,#0000ff 126.0px)"></div><div style="top:62px;background:linear-gradient(90deg,#0000ff 0.0px,#0002ff 4.1px,#0011ff 4.6px,#0031ff 5.0px,#0079ff 5.7px,#0095ff 6.2px,#00c2fe 7.6px,#00dff4 8.2px,#00f1da 8.6px,#03faa7 9.0px,#10fe67 9.4px,#2afc3c 9.7px,#55f51d 10.0px,#8be30b 10.3px,#bec103 10.6px,#e29301 10.9px,#f56500 11.2px,#fd3600 11.6px,#ff2300 11.9px,#ff1e00 12.3px,#ff3100 12.7px,#fc5b00 13.1px,#eba800 13.6px,#c9dc00 14.0px,#a3f200 14.3px,#5cfe05 14.8px,#2cff12 15.2px,#0fff2f 15.6px,#02ff62 16.1px,#00ff91 16.6px,#00ffad 17.1px,#00ffc3 18.3px,#00ffe5 20.0px,#00fafc 21.2px,#00c7ff 24.2px,#008cff 26.2px,#0062ff 26.9px,#003dff 27.5px,#0028ff 28.3px,#000fff 30.3px,#0000ff 33.3px,#0000ff 126.0px)"></div><div style="top:63px;background:linear-gradient(90deg,#0000ff 0.0px,#0003ff 4.2px,#0010ff 4.6px,#0030ff 5.0px,#0078ff 5.7px,#0094ff 6.2px,#00c1fe 7.6px,#00dff4 8.2px,#00f0da 8.6px,#03faa7 9.0px,#11fd67 9.4px,#2bfc3c 9.7px,#57f41c 10.0px,#8ee10b 10.3px,#c0be03 10.6px,#e49001 10.9px,#f66200 11.2px,#fe3400 11.6px,#ff2200 11.9px,#ff1f00 12.3px,#fe3300 12.7px,#fb6000 13.1px,#eaac00 13.6px,#c9df00 14.0px,#a5f300 14.3px,#60fe04 14.8px,#27ff14 15.3px,#0dff33 15.7px,#01ff72 16.3px,#00ff9c 16.8px,#00ffb2 17.3px,#00ffdb 19.6px,#00fbfb 21.1px,#00c6ff 24.2px,#008cff 26.2px,#0062ff 26.9px,#003eff 27.5px,#0028ff 28.3px,#000fff 30.3px,#0000ff 33.3px,#0000ff 126.0px)"></div><div style="top:64px;background:linear-gradient(90deg,#0000ff 0.0px,#0003ff 4.2px,#000fff 4.6px,#002eff 5.0px,#0076ff 5.7px,#0094ff 6.2px,#00c1fe 7.6px,#00def4 8.2px,#00f0da 8.6px,#03faa8 9.0px,#11fd67 9.4px,#2dfc3b 9.7px,#59f41c 10.0px,#90df0b 10.3px,#c2bc03 10.6px,#e58d01 10.9px,#f95200 11.3px,#fe3300 11.6px,#ff2200 11.9px,#ff2000 12.3px,#fe3600 12.7px,#fb6400 13.1px,#eab100 13.6px,#d3d800 13.9px,#b3f000 14.2px,#72fd02 14.7px,#35ff0d 15.2px,#15ff25 15.6px,#04ff56 16.1px,#00ff92 16.7px,#00ffae 17.2px,#00ffc5 18.5px,#00ffee 20.4px,#00f6fe 21.5px,#00c2ff 24.3px,#008dff 26.2px,#0066ff 26.9px,#003bff 27.6px,#0025ff 28.5px,#000eff 30.5px,#0000ff 33.3px,#0000ff 126.0px)"></div><div style="top:65px;background:linear-gradient(90deg,#0000ff 0.0px,#0003ff 4.2px,#0014ff 4.7px,#0036ff 5.1px,#0075ff 5.7px,#0093ff 6.2px,#00c0fe 7.6px,#00def5 8.2px,#00efdb 8.6px,#03faa8 9.0px,#12fd67 9.4px,#2efb3b 9.7px,#5bf31c 10.0px,#92de0a 10.3px,#c4b903 10.6px,#e68a01 10.9px,#fa4f00 11.3px,#fe3100 11.6px,#ff2100 11.9px,#ff1f00 12.2px,#ff2a00 12.5px,#fe4300 12.8px,#f97800 13.2px,#e3c400 13.7px,#cae400 14.0px,#9cf900 14.4px,#44ff07 15.1px,#1fff19 15.5px,#0aff3b 15.9px,#00ff85 16.6px,#00ffa8 17.1px,#00ffba 17.8px,#00ffda 19.6px,#00fbfb 21.1px,#00c4ff 24.2px,#008aff 26.3px,#0061ff 27.0px,#003cff 27.6px,#0027ff 28.4px,#000fff 30.4px,#0000ff 33.3px,#0000ff 126.0px)"></div><div style="top:66px;background:linear-gradient(90deg,#0000ff 0.0px,#0003ff 4.2px,#0013ff 4.7px,#0034ff 5.1px,#0073ff 5.7px,#0092ff 6.2px,#00bffe 7.6px,#00ddf5 8.2px,#00efdb 8.6px,#04faa8 9.0px,#13fd67 9.4px,#30fb3b 9.7px,#5ef21b 10.0px,#95dc0a 10.3px,#c6b603 10.6px,#e78701 10.9px,#fa4d00 11.3px,#fe3000 11.6px,#ff2100 11.9px,#ff2000 12.2px,#ff2c00 12.5px,#fe4600 12.8px,#f97d00 13.2px,#e3c800 13.7px,#cae700 14.0px,#9dfa00 14.4px,#3eff08 15.2px,#1bff1c 15.6px,#06ff4a 16.1px,#00ff8a 16.7px,#00ffaa 17.2px,#00ffbe 18.1px,#00ffdc 19.7px,#00fbfb 21.1px,#00c3ff 24.2px,#008aff 26.3px,#0061ff 27.0px,#003cff 27.6px,#0027ff 28.4px,#000fff 30.4px,#0000ff 33.3px,#0000ff 126.0px)"></div><div style="top:67px;background:linear-gradient(90deg,#0000ff 0.0px,#0002ff 4.2px,#0012ff 4.7px,#0032ff 5.1px,#007aff 5.8px,#0095ff 6.3px,#00bffe 7.6px,#00ddf5 8.2px,#00efdb 8.6px,#04faa8 9.0px,#14fd67 9.4px,#31fb3a 9.7px,#60f11b 10.0px,#97da0a 10.3px,#c8b403 10.6px,#e88401 10.9px,#fa4b00 11.3px,#fe2e00 11.6px,#ff2000 11.9px,#ff2000 12.2px,#ff2e00 12.5px,#fd5600 12.9px,#f2a100 13.4px,#dbd700 13.8px,#c0ef00 14.1px,#87fd00 14.6px,#38ff09 15.3px,#18ff1e 15.7px,#05ff4f 16.2px,#00ff8f 16.8px,#00ffad 17.3px,#00ffc1 18.3px,#00ffde 19.8px,#00fafb 21.1px,#00c2ff 24.2px,#008bff 26.3px,#006bff 26.9px,#003eff 27.6px,#0029ff 28.3px,#000fff 30.3px,#0000ff 33.3px,#0000ff 126.0px)"></div><div style="top:68px;background:linear-gradient(90deg,#0000ff 0.0px,#0004ff 4.3px,#0011ff 4.7px,#0031ff 5.1px,#0079ff 5.8px,#0095ff 6.3px,#00befe 7.6px,#00dcf5 8.2px,#00eedc 8.6px,#02f7b8 8.9px,#0efd77 9.3px,#27fc47 9.6px,#51f523 9.9px,#88e20e 10.2px,#bcbf04 10.5px,#e19101 10.8px,#f56200 11.1px,#fc3d00 11.4px,#fe2700 11.7px,#ff1f00 12.0px,#ff2500 12.3px,#ff3900 12.6px,#fc6900 13.0px,#eeb500 13.5px,#dbdb00 13.8px,#c0f100 14.1px,#8afd00 14.6px,#3dff07 15.3px,#1cff1a 15.7px,#06ff49 16.2px,#00ff8a 16.8px,#00ffa6 17.2px,#00ffba 17.9px,#00ffd8 19.6px,#00fafb 21.1px,#00c4ff 24.1px,#0088ff 26.4px,#0060ff 27.1px,#003bff 27.7px,#0026ff 28.5px,#000eff 30.5px,#0000ff 33.4px,#0000ff 126.0px)"></div><div style="top:69px;background:linear-gradient(90deg,#0000ff 0.0px,#0003ff 4.3px,#0010ff 4.7px,#002fff 5.1px,#0077ff 5.8px,#0094ff 6.3px,#00c2fe 7.7px,#00dbf6 8.2px,#00eedc 8.6px,#03f7b8 8.9px,#0ffc77 9.3px,#28fc47 9.6px,#53f423 9.9px,#8ae00e 10.2px,#bebd04 10.5px,#e38e01 10.8px,#f56000 11.1px,#fd3c00 11.4px,#ff2600 11.7px,#ff1f00 12.0px,#ff2700 12.3px,#fe3c00 12.6px,#fc6d00 13.0px,#edba00 13.5px,#dade00 13.8px,#c0f200 14.1px,#8cfe00 14.6px,#37ff08 15.4px,#19ff1d 15.8px,#05ff4e 16.3px,#00ff8f 16.9px,#00ffa9 17.3px,#00ffbb 18.0px,#00ffdb 19.7px,#00fafb 21.1px,#00c5ff 24.0px,#0088ff 26.4px,#0067ff 27.0px,#003bff 27.7px,#0026ff 28.5px,#000eff 30.5px,#0000ff 33.4px,#0000ff 126.0px)"></div><div style="top:70px;background:linear-gradient(90deg,#0000ff 0.0px,#0003ff 4.3px,#000fff 4.7px,#002dff 5.1px,#0076ff 5.8px,#0093ff 6.3px,#00c2fe 7.7px,#00dbf6 8.2px,#00e9e5 8.5px,#02f4c6 8.8px,#0bfc88 9.2px,#1ffc56 9.5px,#45f72d 9.8px,#7ae713 10.1px,#b0c806 10.4px,#da9b02 10.7px,#f26c00 11.0px,#fd3a00 11.4px,#ff2500 11.7px,#ff2000 12.0px,#ff2800 12.3px,#fe3f00 12.6px,#fb7200 13.0px,#ecbe00 13.5px,#dae000 13.8px,#b7f700 14.2px,#63ff01 15.0px,#2aff0d 15.6px,#11ff28 16.0px,#02ff6b 16.6px,#00ff9b 17.1px,#00ffb2 17.6px,#00ffda 19.7px,#00fafb 21.1px,#00c6ff 23.9px,#0089ff 26.4px,#0069ff 27.0px,#003dff 27.7px,#0026ff 28.5px,#000eff 30.5px,#0000ff 33.4px,#0000ff 126.0px)"></div><div style="top:71px;background:linear-gradient(90deg,#0000ff 0.0px,#0003ff 4.3px,#0013ff 4.8px,#0035ff 5.2px,#0074ff 5.8px,#0093ff 6.3px,#00c1fe 7.7px,#00daf6 8.2px,#00e9e5 8.5px,#02f4c6 8.8px,#0bfb88 9.2px,#20fc56 9.5px,#47f62d 9.8px,#7ce613 10.1px,#b3c506 10.4px,#dc9802 10.7px,#f26900 11.0px,#fd3800 11.4px,#ff2500 11.7px,#ff2000 12.0px,#ff2a00 12.3px,#fe4300 12.6px,#fb7700 13.0px,#ecc200 13.5px,#d9e300 13.8px,#b7f800 14.2px,#5dff01 15.1px,#2eff0b 15.6px,#14ff23 16.0px,#03ff65 16.6px,#00ff98 17.1px,#00ffb1 17.6px,#00ffdc 19.8px,#00fafb 21.1px,#00c8ff 23.8px,#008aff 26.4px,#006dff 27.0px,#003aff 27.8px,#0025ff 28.6px,#000eff 30.6px,#0000ff 33.5px,#0000ff 126.0px)"></div><div style="top:72px;background:linear-gradient(90deg,#0000ff 0.0px,#0003ff 4.3px,#0012ff 4.8px,#0033ff 5.2px,#007bff 5.9px,#0096ff 6.4px,#00c0fe 7.7px,#00daf6 8.2px,#00e8e5 8.5px,#02f4c6 8.8px,#0cfb88 9.2px,#21fc56 9.5px,#49f62d 9.8px,#7fe413 10.1px,#b5c306 10.4px,#dd9501 10.7px,#f36600 11.0px,#fc4000 11.3px,#fe2800 11.6px,#ff2000 11.9px,#ff2700 12.2px,#ff3c00 12.5px,#fc6d00 12.9px,#ebc700 13.5px,#d9e600 13.8px,#b8f900 14.2px,#4dff03 15.3px,#23ff11 15.8px,#0eff30 16.2px,#02ff76 16.8px,#00ff9b 17.2px,#00ffb3 17.7px,#00ffdc 19.8px,#00fafa 21.1px,#00c9ff 23.7px,#008bff 26.4px,#006dff 27.0px,#003bff 27.8px,#0026ff 28.6px,#000eff 30.6px,#0000ff 33.5px,#0000ff 126.0px)"></div><div style="top:73px;background:linear-gradient(90deg,#0000ff 0.0px,#0002ff 4.3px,#0011ff 4.8px,#0031ff 5.2px,#0079ff 5.9px,#0095ff 6.4px,#00c0fe 7.7px,#00d9f6 8.2px,#00e8e6 8.5px,#02f3c7 8.8px,#0cfb88 9.2px,#23fb55 9.5px,#4bf52c 9.8px,#82e312 10.1px,#b7c106 10.4px,#df9201 10.7px,#f46300 11.0px,#fc3e00 11.3px,#fe2700 11.6px,#ff2000 11.9px,#ff2900 12.2px,#ff3f00 12.5px,#fc7200 12.9px,#ebcb00 13.5px,#d8e800 13.8px,#b8fa00 14.2px,#3fff05 15.5px,#20ff13 15.9px,#0cff35 16.3px,#01ff86 17.0px,#00ffa5 17.4px,#00ffb9 18.0px,#00ffd9 19.7px,#00fafa 21.1px,#00caff 23.6px,#0088ff 26.5px,#0069ff 27.1px,#003cff 27.8px,#0028ff 28.5px,#000fff 30.5px,#0000ff 33.5px,#0000ff 126.0px)"></div><div style="top:74px;background:linear-gradient(90deg,#0000ff 0.0px,#0003ff 4.4px,#0010ff 4.8px,#0030ff 5.2px,#0078ff 5.9px,#0095ff 6.4px,#00bffe 7.7px,#00d8f6 8.2px,#00e7e6 8.5px,#02f3c7 8.8px,#0dfb88 9.2px,#24fb55 9.5px,#4ef42c 9.8px,#85e112 10.1px,#babe06 10.4px,#e08f01 10.7px,#f56000 11.0px,#fc3c00 11.3px,#fe2700 11.6px,#ff2100 11.9px,#ff2a00 12.2px,#fe4300 12.5px,#fc7700 12.9px,#eace00 13.5px,#d8ea00 13.8px,#b8fb00 14.2px,#43ff03 15.5px,#24ff10 15.9px,#0eff2f 16.3px,#02ff76 16.9px,#00ff9c 17.3px,#00ffb4 17.8px,#00ffdb 19.8px,#00fafa 21.1px,#00cbff 23.5px,#0089ff 26.5px,#006cff 27.1px,#003aff 27.9px,#0025ff 28.7px,#000dff 30.8px,#0000ff 33.6px,#0000ff 126.0px)"></div><div style="top:75px;background:linear-gradient(90deg,#0000ff 0.0px,#0003ff 4.4px,#000fff 4.8px,#002eff 5.2px,#0076ff 5.9px,#0094ff 6.4px,#00bffe 7.7px,#00d8f6 8.2px,#00e7e6 8.5px,#02f3c7 8.8px,#0efb88 9.2px,#25fb55 9.5px,#50f32c 9.8px,#87df12 10.1px,#bcbb06 10.4px,#e28c01 10.7px,#f55e00 11.0px,#fc3a00 11.3px,#ff2600 11.6px,#ff2200 11.9px,#ff2d00 12.2px,#fe4600 12.5px,#fc7c00 12.9px,#eec600 13.4px,#dee500 13.7px,#c1f900 14.1px,#60ff01 15.2px,#2eff09 15.8px,#15ff20 16.2px,#05ff57 16.7px,#01ff90 17.2px,#00ffab 17.6px,#00ffbf 18.4px,#00ffda 19.8px,#00fafa 21.1px,#00cdff 23.4px,#0089ff 26.5px,#006cff 27.1px,#003aff 27.9px,#0025ff 28.7px,#000eff 30.8px,#0000ff 33.6px,#0000ff 126.0px)"></div><div style="top:76px;background:linear-gradient(90deg,#0000ff 0.0px,#0003ff 4.4px,#0014ff 4.9px,#0036ff 5.3px,#0075ff 5.9px,#0093ff 6.4px,#00c3fe 7.8px,#00dcf3 8.3px,#01ebde 8.6px,#04f5ba 8.9px,#14fb77 9.3px,#33f945 9.6px,#64ed21 9.9px,#9cd30c 10.2px,#cca904 10.5px,#eb7901 10.8px,#fb4200 11.2px,#fe2a00 11.5px,#ff2100 11.8px,#ff2900 12.1px,#ff3f00 12.4px,#fd7200 12.8px,#eeca00 13.4px,#dee800 13.7px,#c1fa00 14.1px,#52ff01 15.4px,#2bff0b 15.9px,#13ff24 16.3px,#03ff69 16.9px,#00ff94 17.3px,#00ffad 17.7px,#00ffc1 18.6px,#00ffdf 20.0px,#00fafa 21.1px,#00ceff 23.3px,#0086ff 26.6px,#0067ff 27.2px,#003bff 27.9px,#0026ff 28.7px,#000eff 30.8px,#0000ff 33.6px,#0000ff 126.0px)"></div><div style="top:77px;background:linear-gradient(90deg,#0000ff 0.0px,#0003ff 4.4px,#0013ff 4.9px,#0034ff 5.3px,#007cff 6.0px,#0097ff 6.5px,#00c2fe 7.8px,#00dcf3 8.3px,#01eade 8.6px,#04f5ba 8.9px,#15fb77 9.3px,#35f845 9.6px,#66ec21 9.9px,#9fd10c 10.2px,#cea703 10.5px,#ec7601 10.8px,#fb4000 11.2px,#fe2900 11.5px,#ff2200 11.8px,#ff2b00 12.1px,#ff4200 12.4px,#fc7600 12.8px,#edce00 13.4px,#ddea00 13.7px,#c0fa00 14.1px,#3dff04 15.7px,#21ff11 16.1px,#0dff32 16.5px,#01ff86 17.2px,#00ffa6 17.6px,#00ffba 18.2px,#00ffd9 19.8px,#00f9fa 21.1px,#00cfff 23.2px,#0088ff 26.6px,#006bff 27.2px,#003aff 28.0px,#0025ff 28.8px,#000dff 31.0px,#0000ff 33.8px,#0000ff 126.0px)"></div><div style="top:78px;background:linear-gradient(90deg,#0000ff 0.0px,#0002ff 4.4px,#0012ff 4.9px,#0032ff 5.3px,#007aff 6.0px,#0096ff 6.5px,#00c2fe 7.8px,#00dbf3 8.3px,#01eadf 8.6px,#04f5ba 8.9px,#16fb77 9.3px,#37f845 9.6px,#69eb20 9.9px,#a1cf0c 10.2px,#d0a403 10.5px,#ed7301 10.8px,#fc3e00 11.2px,#fe2800 11.5px,#ff2200 11.8px,#ff2d00 12.1px,#ff4600 12.4px,#fc7b00 12.8px,#f0c500 13.3px,#e2e500 13.6px,#c8f900 14.0px,#79ff00 15.0px,#32ff07 15.9px,#19ff1a 16.3px,#09ff42 16.7px,#01ff8b 17.3px,#00ffa9 17.7px,#00ffbb 18.3px,#00ffd9 19.8px,#00f9fa 21.1px,#00d0ff 23.1px,#0088ff 26.6px,#006cff 27.2px,#003aff 28.0px,#0026ff 28.8px,#000dff 31.1px,#0000ff 33.9px,#0000ff 126.0px)"></div><div style="top:79px;background:linear-gradient(90deg,#0000ff 0.0px,#0004ff 4.5px,#0011ff 4.9px,#0031ff 5.3px,#0079ff 6.0px,#0095ff 6.5px,#00c1fe 7.8px,#00dbf3 8.3px,#01e9df 8.6px,#05f4ba 8.9px,#17fb77 9.3px,#38f745 9.6px,#6bea20 9.9px,#a4cc0c 10.2px,#d2a103 10.5px,#ee7001 10.8px,#fc3c00 11.2px,#fe2700 11.5px,#ff2300 11.8px,#ff2f00 12.1px,#fe4a00 12.4px,#fb9000 12.9px,#f0c900 13.3px,#e2e700 13.6px,#c8fa00 14.0px,#6bff00 15.2px,#2fff08 16.0px,#17ff1d 16.4px,#08ff48 16.8px,#01ff90 17.4px,#00ffac 17.8px,#00ffc0 18.6px,#00ffdb 19.9px,#00f9fa 21.1px,#00cfff 23.1px,#0088ff 26.6px,#006cff 27.2px,#003bff 28.0px,#0027ff 28.8px,#000dff 31.3px,#0000ff 34.1px,#0000ff 126.0px)"></div><div style="top:80px;background:linear-gradient(90deg,#0000ff 0.0px,#0003ff 4.5px,#000fff 4.9px,#002eff 5.3px,#0077ff 6.0px,#0094ff 6.5px,#00c0fe 7.8px,#00daf3 8.3px,#01e9df 8.6px,#05f4ba 8.9px,#18fa76 9.3px,#3bf744 9.6px,#6ee91f 9.9px,#a7cb0b 10.2px,#d49f03 10.5px,#ef6f01 10.8px,#fa4700 11.1px,#fe2f00 11.4px,#ff2600 11.7px,#ff2e00 12.0px,#ff4600 12.3px,#fd7900 12.7px,#efce00 13.3px,#e1ea00 13.6px,#c7fa00 14.0px,#47ff02 15.7px,#25ff0d 16.2px,#10ff2a 16.6px,#02ff80 17.3px,#00ffa4 17.7px,#00ffb8 18.2px,#00ffda 19.9px,#00faf9 21.1px,#00d6ff 22.8px,#0087ff 26.7px,#006aff 27.3px,#003aff 28.1px,#0027ff 28.9px,#000cff 31.6px,#0000ff 34.3px,#0000ff 126.0px)"></div><div style="top:81px;background:linear-gradient(90deg,#0000ff 0.0px,#0003ff 4.5px,#0013ff 5.0px,#0035ff 5.4px,#0074ff 6.0px,#0093ff 6.5px,#00c0fe 7.8px,#00daf3 8.3px,#01e9de 8.6px,#06f4b9 8.9px,#13fa86 9.2px,#30f951 9.5px,#5fee28 9.8px,#98d610 10.1px,#caaf05 10.4px,#ea8001 10.7px,#fb4b00 11.1px,#fe3400 11.4px,#ff2e00 11.7px,#ff3700 12.0px,#ff5000 12.3px,#fb9100 12.8px,#eed400 13.3px,#e0ed00 13.6px,#c6fb00 14.0px,#3bff03 15.9px,#21ff0f 16.3px,#0eff2f 16.7px,#01ff85 17.4px,#00ffa6 17.8px,#00ffbb 18.4px,#00ffdc 20.0px,#00f9fa 21.2px,#00cdff 23.3px,#0088ff 26.7px,#006cff 27.3px,#003cff 28.1px,#0029ff 28.9px,#000bff 32.0px,#0000ff 34.6px,#0000ff 126.0px)"></div><div style="top:82px;background:linear-gradient(90deg,#0000ff 0.0px,#0002ff 4.5px,#0011ff 5.0px,#0031ff 5.4px,#007aff 6.1px,#0096ff 6.6px,#00bffe 7.8px,#00d9f3 8.3px,#01e8de 8.6px,#06f4b8 8.9px,#14f984 9.2px,#33f850 9.5px,#63ee27 9.8px,#9cd50f 10.1px,#ccae04 10.4px,#eb8101 10.7px,#fb4f00 11.1px,#fe3a00 11.4px,#ff3600 11.7px,#ff4000 12.0px,#fe6500 12.4px,#f4c300 13.1px,#e4e900 13.5px,#ccfa00 13.9px,#61ff00 15.4px,#30ff06 16.1px,#18ff18 16.5px,#09ff3f 16.9px,#01ff89 17.5px,#00ffa9 17.9px,#00ffbc 18.5px,#00ffda 20.0px,#00f9fa 21.3px,#00c2ff 23.9px,#0089ff 26.7px,#006dff 27.3px,#003dff 28.1px,#002bff 28.9px,#000aff 32.5px,#0000ff 35.0px,#0000ff 126.0px)"></div><div style="top:83px;background:linear-gradient(90deg,#0000ff 0.0px,#0003ff 4.6px,#000fff 5.0px,#002eff 5.4px,#0077ff 6.1px,#0095ff 6.6px,#00c4fd 7.9px,#00d9f3 8.3px,#02e8dd 8.6px,#07f4b6 8.9px,#15f982 9.2px,#35f84e 9.5px,#67ed25 9.8px,#a0d50e 10.1px,#cfaf04 10.4px,#ec8301 10.7px,#fc5300 11.1px,#fe4000 11.4px,#ff3d00 11.7px,#ff4900 12.0px,#fe6e00 12.4px,#f4c900 13.1px,#e3ed00 13.5px,#c4fc00 14.0px,#39ff03 16.0px,#20ff0f 16.4px,#0eff2d 16.8px,#01ff83 17.5px,#00ffa6 17.9px,#00ffbb 18.5px,#00ffdc 20.1px,#00fafa 21.3px,#00d2ff 23.2px,#0087ff 26.8px,#006bff 27.4px,#003cff 28.2px,#002cff 29.0px,#0004ff 33.9px,#0000ff 40.2px,#0000ff 126.0px)"></div><div style="top:84px;background:linear-gradient(90deg,#0000ff 0.0px,#0003ff 4.6px,#0013ff 5.1px,#0035ff 5.5px,#007cff 6.2px,#0098ff 6.7px,#00c3fd 7.9px,#00d9f2 8.3px,#02e8dc 8.6px,#07f3b5 8.9px,#17f980 9.2px,#38f84c 9.5px,#6bed24 9.8px,#a3d40d 10.1px,#d2af04 10.4px,#ee8501 10.7px,#fc5800 11.1px,#fe4700 11.4px,#ff4500 11.7px,#ff5200 12.0px,#fe7800 12.4px,#f3cf00 13.1px,#e2ef00 13.5px,#c4fd00 14.0px,#33ff04 16.2px,#18ff16 16.7px,#07ff42 17.2px,#01ff7d 17.8px,#00ffa1 18.4px,#00ffcd 19.6px,#00faf9 21.3px,#00daff 22.9px,#0085ff 26.9px,#0066ff 27.5px,#003dff 28.2px,#002eff 29.0px,#0001ff 35.5px,#0000ff 126.0px)"></div><div style="top:85px;background:linear-gradient(90deg,#0000ff 0.0px,#0002ff 4.6px,#0011ff 5.1px,#0031ff 5.5px,#007aff 6.2px,#0097ff 6.7px,#00c3fd 7.9px,#00d8f2 8.3px,#02e8db 8.6px,#08f3b4 8.9px,#18f97f 9.2px,#3bf84a 9.5px,#6eed23 9.8px,#a7d40d 10.1px,#d4af04 10.4px,#ef8701 10.7px,#fc5c00 11.1px,#fe4d00 11.4px,#ff4d00 11.7px,#ff6300 12.1px,#fc9a00 12.6px,#f2d500 13.1px,#e1f200 13.5px,#bcfe00 14.1px,#82ff00 15.1px,#41ff00 16.9px,#1eff0a 17.6px,#0dff22 18.0px,#03ff59 18.5px,#00ffa1 19.1px,#00ffc0 19.5px,#00ffdf 20.3px,#00f9fb 21.5px,#00b8ff 24.6px,#0086ff 26.9px,#0060ff 27.6px,#003eff 28.2px,#0030ff 28.9px,#0001ff 36.9px,#0000ff 126.0px)"></div><div style="top:86px;background:linear-gradient(90deg,#0000ff 0.0px,#0003ff 4.7px,#000fff 5.1px,#002eff 5.5px,#0077ff 6.2px,#0096ff 6.7px,#00c2fd 7.9px,#00d8f2 8.3px,#02e7db 8.6px,#09f3b2 8.9px,#1af97d 9.2px,#3ef748 9.5px,#72ec22 9.8px,#aad30c 10.1px,#d7b003 10.4px,#f08901 10.7px,#fc6100 11.1px,#ff5400 11.4px,#ff5500 11.7px,#ff6c00 12.1px,#fbae00 12.7px,#eee200 13.2px,#daf700 13.6px,#abff00 14.4px,#92ff00 15.0px,#7aff00 16.2px,#5bff00 16.9px,#2bff0a 17.6px,#13ff22 18.0px,#04ff58 18.5px,#00ffa1 19.1px,#00ffbf 19.5px,#00ffe0 20.4px,#00f8fb 21.6px,#0094ff 26.4px,#007cff 27.2px,#003eff 28.3px,#0030ff 29.1px,#0000ff 39.2px,#0000ff 126.0px)"></div><div style="top:87px;background:linear-gradient(90deg,#0000ff 0.0px,#0003ff 4.7px,#0013ff 5.2px,#0035ff 5.6px,#007dff 6.3px,#0098ff 6.8px,#00c2fd 7.9px,#00d7f1 8.3px,#02e7da 8.6px,#09f3b1 8.9px,#1cf97b 9.2px,#41f747 9.5px,#76ec20 9.8px,#aed30b 10.1px,#d9b003 10.4px,#f18b01 10.7px,#fd6600 11.1px,#ff5a00 11.4px,#ff5d00 11.7px,#ff7500 12.1px,#f6cc00 12.9px,#e8ec00 13.3px,#cefc00 13.8px,#acff00 14.5px,#a4ff00 15.1px,#a0ff00 15.9px,#87ff00 16.6px,#5dff02 17.2px,#2fff0e 17.7px,#13ff2a 18.1px,#04ff65 18.6px,#00ffa0 19.1px,#00ffbf 19.5px,#00ffdf 20.4px,#00f9fb 21.6px,#00c0ff 24.3px,#0085ff 27.0px,#0060ff 27.7px,#003fff 28.3px,#0032ff 29.0px,#000bff 38.8px,#0000ff 42.1px,#0000ff 126.0px)"></div><div style="top:88px;background:linear-gradient(90deg,#0000ff 0.0px,#0002ff 4.7px,#0011ff 5.2px,#0031ff 5.6px,#007aff 6.3px,#0097ff 6.8px,#00c1fd 7.9px,#00d7f1 8.3px,#03e7d9 8.6px,#0af3af 8.9px,#1ef979 9.2px,#44f745 9.5px,#7aeb1f 9.8px,#b1d30b 10.1px,#dbb103 10.4px,#f28d01 10.7px,#fd6b00 11.1px,#ff6100 11.4px,#ff6900 11.8px,#fe8700 12.2px,#f3db00 13.0px,#e3f300 13.4px,#c6fe00 14.0px,#b8ff00 14.5px,#c1ff00 15.7px,#b3ff00 16.3px,#97ff00 16.8px,#67ff03 17.3px,#30ff13 17.8px,#12ff35 18.2px,#03ff72 18.7px,#00ffa9 19.2px,#00ffc8 19.7px,#00fcf7 21.4px,#00e7ff 22.6px,#0086ff 27.0px,#0061ff 27.7px,#0040ff 28.3px,#0033ff 29.0px,#000eff 40.5px,#0000ff 43.8px,#0000ff 126.0px)"></div><div style="top:89px;background:linear-gradient(90deg,#0000ff 0.0px,#0003ff 4.8px,#000fff 5.2px,#002eff 5.6px,#0078ff 6.3px,#0096ff 6.8px,#00c6fb 8.0px,#01dcea 8.4px,#05ebcc 8.7px,#17f78a 9.1px,#38f853 9.4px,#6bf028 9.7px,#a3dd0f 10.0px,#d2be04 10.3px,#ee9b01 10.6px,#fc7600 11.0px,#fe6900 11.3px,#ff6d00 11.7px,#ff8600 12.1px,#f5d700 12.9px,#e7f100 13.3px,#cffe00 13.9px,#c9ff00 14.4px,#e0ff00 15.5px,#d8ff00 16.1px,#c1ff00 16.6px,#9fff01 17.0px,#52ff0a 17.6px,#25ff21 18.0px,#0bff4c 18.4px,#01ff95 19.0px,#00ffb8 19.4px,#00ffd1 20.0px,#00fbf9 21.6px,#00dbff 23.2px,#0088ff 27.0px,#0066ff 27.7px,#003fff 28.4px,#0033ff 29.1px,#000fff 42.1px,#0000ff 45.4px,#0000ff 126.0px)"></div><div style="top:90px;background:linear-gradient(90deg,#0000ff 0.0px,#0003ff 4.8px,#0013ff 5.3px,#0035ff 5.7px,#007dff 6.4px,#0099ff 6.9px,#00c5fb 8.0px,#01dcea 8.4px,#05ebcb 8.7px,#18f788 9.1px,#3bf851 9.4px,#6ef027 9.7px,#a7dc0e 10.0px,#d4bf04 10.3px,#ef9d01 10.6px,#fc7b00 11.0px,#ff6f00 11.4px,#ff7a00 11.8px,#fea100 12.3px,#f2e300 13.0px,#e0f900 13.5px,#d6fe00 14.0px,#e4fd00 14.6px,#f9f800 15.3px,#f9f900 16.0px,#e7fd00 16.5px,#c7ff00 16.9px,#92ff03 17.3px,#47ff12 17.8px,#1bff32 18.2px,#07ff62 18.6px,#01ff9d 19.1px,#00ffbc 19.5px,#00ffd9 20.3px,#00f9fb 21.8px,#00b5ff 25.0px,#0086ff 27.1px,#0061ff 27.8px,#0041ff 28.4px,#0034ff 29.1px,#000fff 43.7px,#0000ff 47.0px,#0000ff 126.0px)"></div><div style="top:91px;background:linear-gradient(90deg,#0000ff 0.0px,#0002ff 4.8px,#0011ff 5.3px,#0032ff 5.7px,#007bff 6.4px,#0098ff 6.9px,#00c5fb 8.0px,#01dbe9 8.4px,#06eaca 8.7px,#13f599 9.0px,#30f861 9.3px,#5ff431 9.6px,#98e414 9.9px,#caca06 10.2px,#eaaa01 10.5px,#fb8600 10.9px,#ff7600 11.3px,#ff7d00 11.7px,#fea000 12.2px,#f4e000 12.9px,#e8f500 13.3px,#dffc00 13.8px,#ecf200 14.4px,#fdda00 15.1px,#ffd200 15.7px,#f9e200 16.4px,#e6ef00 16.8px,#c7f601 17.1px,#79fd07 17.6px,#3bff1b 18.0px,#1bff36 18.3px,#07ff68 18.7px,#01ffa2 19.2px,#00ffbf 19.6px,#00ffdf 20.6px,#00f9fb 21.9px,#0092ff 26.7px,#007aff 27.4px,#0042ff 28.4px,#0034ff 29.1px,#000fff 45.2px,#0000ff 48.5px,#0000ff 126.0px)"></div><div style="top:92px;background:linear-gradient(90deg,#0000ff 0.0px,#0003ff 4.9px,#000fff 5.3px,#002eff 5.7px,#0078ff 6.4px,#0097ff 6.9px,#00c4fb 8.0px,#01dbe9 8.4px,#06eac9 8.7px,#14f597 9.0px,#33f85f 9.3px,#63f330 9.6px,#9ce413 9.9px,#ccca06 10.2px,#ebac01 10.5px,#fb8b00 10.9px,#ff7d00 11.3px,#ff8500 11.7px,#fea800 12.2px,#f4e400 12.9px,#e9f600 13.3px,#e3f600 13.8px,#f1dc00 14.4px,#feb100 15.2px,#ffa900 15.7px,#fdb800 16.3px,#eed200 16.8px,#d5e301 17.1px,#9cf404 17.5px,#58fc11 17.9px,#2efe26 18.2px,#13ff47 18.5px,#04ff7b 18.9px,#01ffa7 19.3px,#00ffc6 19.8px,#00fdf6 21.6px,#00e8ff 22.8px,#0085ff 27.2px,#005aff 28.0px,#003eff 28.6px,#0033ff 29.5px,#0010ff 46.6px,#0000ff 50.0px,#0000ff 126.0px)"></div><div style="top:93px;background:linear-gradient(90deg,#0000ff 0.0px,#0003ff 4.9px,#0013ff 5.4px,#0035ff 5.8px,#007dff 6.5px,#009aff 7.0px,#00c4fb 8.0px,#02dae8 8.4px,#07eac8 8.7px,#15f496 9.0px,#35f85d 9.3px,#67f32e 9.6px,#a0e412 9.9px,#cfcb05 10.2px,#ecae01 10.5px,#fc8f00 10.9px,#ff8400 11.3px,#ff8d00 11.7px,#feaf00 12.2px,#f3e700 12.9px,#e9f600 13.3px,#e5f200 13.7px,#ecdc00 14.1px,#fd9a00 14.9px,#ff8300 15.4px,#ff8200 15.9px,#fd9700 16.4px,#efbc00 16.9px,#d6d501 17.2px,#adea03 17.5px,#57fb13 18.0px,#2dfe2a 18.3px,#12ff4d 18.6px,#04ff81 19.0px,#00ffab 19.4px,#00ffc9 19.9px,#00fcf7 21.7px,#00e5ff 23.0px,#0087ff 27.2px,#0062ff 27.9px,#0043ff 28.5px,#0035ff 29.3px,#0010ff 48.2px,#0000ff 51.6px,#0000ff 126.0px)"></div><div style="top:94px;background:linear-gradient(90deg,#0000ff 0.0px,#0002ff 4.9px,#0011ff 5.4px,#0032ff 5.8px,#007bff 6.5px,#0099ff 7.0px,#00c3fa 8.0px,#02dae8 8.4px,#07eac6 8.7px,#17f494 9.0px,#38f85b 9.3px,#6bf32d 9.6px,#a3e411 9.9px,#d2cc05 10.2px,#eeb101 10.5px,#fc9400 10.9px,#ff8b00 11.3px,#ff9500 11.7px,#fdbe00 12.3px,#f3ea00 12.9px,#e9f500 13.3px,#e7ea00 13.7px,#efca00 14.1px,#fd7e00 14.8px,#ff6300 15.2px,#ff5700 15.6px,#ff6000 16.1px,#fc7f00 16.6px,#efa700 17.0px,#d6c801 17.3px,#ace403 17.6px,#66f810 18.0px,#37fd25 18.3px,#18ff46 18.6px,#05ff7a 19.0px,#01ffa7 19.4px,#00ffc2 19.8px,#00ffe6 21.0px,#00f7fc 22.2px,#0087ff 27.2px,#005dff 28.0px,#0041ff 28.6px,#0034ff 29.6px,#0010ff 49.9px,#0000ff 53.4px,#0000ff 126.0px)"></div><div style="top:95px;background:linear-gradient(90deg,#0000ff 0.0px,#0003ff 5.0px,#0010ff 5.4px,#002eff 5.8px,#0078ff 6.5px,#0098ff 7.0px,#00c3fa 8.0px,#02dae7 8.4px,#08eac4 8.7px,#19f491 9.0px,#3bf858 9.3px,#6ef32b 9.6px,#a7e410 9.9px,#d4cd05 10.2px,#efb301 10.5px,#fc9900 10.9px,#ff9100 11.3px,#ff9d00 11.7px,#f5df00 12.6px,#eaf200 13.0px,#e2f200 13.4px,#e3e300 13.7px,#eeb700 14.1px,#fc6600 14.7px,#ff4200 15.1px,#ff3000 15.5px,#ff3000 15.9px,#ff4100 16.3px,#fc6400 16.7px,#ee9600 17.1px,#d5bf01 17.4px,#aadf04 17.7px,#63f712 18.1px,#35fd29 18.4px,#16ff4b 18.7px,#05ff7f 19.1px,#01ffa9 19.5px,#00ffc5 20.0px,#00fcf7 21.9px,#00e4ff 23.2px,#0086ff 27.3px,#0056ff 28.2px,#003eff 28.8px,#0033ff 30.2px,#0010ff 51.8px,#0000ff 55.6px,#0000ff 126.0px)"></div><div style="top:96px;background:linear-gradient(90deg,#0000ff 0.0px,#0003ff 5.0px,#0013ff 5.5px,#0035ff 5.9px,#007eff 6.6px,#009bff 7.1px,#00c3fa 8.0px,#01d4ed 8.3px,#06e5d0 8.6px,#13f2a0 8.9px,#30f867 9.2px,#60f535 9.5px,#99ea15 9.8px,#cad507 10.1px,#eabc01 10.4px,#fba100 10.8px,#fe9700 11.2px,#fea100 11.6px,#f5d300 12.3px,#e3f100 12.8px,#d6f700 13.2px,#d5ed00 13.5px,#ddd400 13.8px,#ee9e00 14.2px,#fc5500 14.7px,#ff2e00 15.1px,#ff1c00 15.5px,#ff1c00 15.9px,#ff2d00 16.3px,#fd5100 16.7px,#f18700 17.1px,#dab301 17.4px,#b2d803 17.7px,#7ef00b 18.0px,#3bfc25 18.4px,#1afe45 18.7px,#06ff77 19.1px,#01ffa0 19.5px,#00ffbd 20.0px,#00fbf7 22.1px,#00e3ff 23.4px,#0089ff 27.3px,#0066ff 28.0px,#0044ff 28.7px,#0036ff 29.7px,#0011ff 54.1px,#0000ff 58.1px,#0000ff 126.0px)"></div><div style="top:97px;background:linear-gradient(90deg,#0000ff 0.0px,#0002ff 5.0px,#0012ff 5.5px,#0032ff 5.9px,#007cff 6.6px,#009bff 7.1px,#00c3f9 8.0px,#01d4eb 8.3px,#06e5cd 8.6px,#15f29d 8.9px,#33f864 9.2px,#64f533 9.5px,#9de914 9.8px,#cdd506 10.1px,#ebbd01 10.4px,#fba400 10.8px,#fe9c00 11.2px,#fda900 11.6px,#f1d500 12.2px,#d9f200 12.7px,#c9f900 13.1px,#c9ed00 13.5px,#d5d400 13.8px,#eb9d00 14.2px,#fb5400 14.7px,#fe2e00 15.1px,#ff1c00 15.5px,#ff1c00 15.9px,#ff2d00 16.3px,#fd5100 16.7px,#f28600 17.1px,#dcb301 17.4px,#b5d803 17.7px,#81ef0a 18.0px,#3efc22 18.4px,#1cfe40 18.7px,#06ff71 19.1px,#01ff99 19.5px,#00ffb4 20.0px,#00fcf6 22.2px,#00e8ff 23.3px,#0087ff 27.4px,#005eff 28.2px,#0043ff 28.8px,#0036ff 30.0px,#0011ff 56.6px,#0000ff 60.6px,#0000ff 126.0px)"></div><div style="top:98px;background:linear-gradient(90deg,#0000ff 0.0px,#0003ff 5.1px,#0010ff 5.5px,#002fff 5.9px,#007aff 6.6px,#009aff 7.1px,#00c3f9 8.0px,#02d5ea 8.3px,#07e6cb 8.6px,#16f299 8.9px,#36f860 9.2px,#68f530 9.5px,#a0e912 9.8px,#d0d505 10.1px,#edbf01 10.4px,#fca700 10.8px,#fea300 11.2px,#fbb200 11.6px,#ecd700 12.1px,#cff300 12.6px,#b9fa00 13.1px,#baf200 13.4px,#c8de00 13.7px,#e3ac00 14.1px,#f96100 14.6px,#fe3600 15.0px,#ff1f00 15.4px,#ff1a00 15.8px,#ff2700 16.2px,#fe4600 16.6px,#f77700 17.0px,#e6a400 17.3px,#c6cc02 17.6px,#96e906 17.9px,#50fa18 18.3px,#27fe31 18.6px,#0fff53 18.9px,#02ff88 19.4px,#00ffa7 19.9px,#00fbf6 22.4px,#00e6ff 23.5px,#0087ff 27.5px,#0047ff 28.8px,#0039ff 29.7px,#0030ff 33.3px,#0011ff 58.9px,#0000ff 62.6px,#0000ff 126.0px)"></div><div style="top:99px;background:linear-gradient(90deg,#0000ff 0.0px,#0003ff 5.1px,#0014ff 5.6px,#0036ff 6.0px,#007fff 6.7px,#00a2ff 7.3px,#00c3f8 8.0px,#02d5e9 8.3px,#08e6c8 8.6px,#18f296 8.9px,#39f85c 9.2px,#6cf52d 9.5px,#a5e911 9.8px,#d2d605 10.1px,#eec001 10.4px,#fcab00 10.8px,#fda900 11.2px,#f8bb00 11.6px,#e2df00 12.1px,#bff700 12.6px,#abfb00 13.0px,#abf600 13.3px,#bae600 13.6px,#d2c700 13.9px,#f27d00 14.4px,#fc4900 14.8px,#ff2800 15.2px,#ff1a00 15.6px,#ff1e00 16.0px,#ff3400 16.4px,#fc5c00 16.8px,#ee9400 17.2px,#d4bf01 17.5px,#aae003 17.8px,#64f710 18.2px,#35fd24 18.5px,#17ff43 18.8px,#05ff6e 19.2px,#00ff94 19.7px,#00fbf5 22.5px,#00e9ff 23.5px,#0089ff 27.5px,#005bff 28.4px,#0044ff 29.0px,#0035ff 31.0px,#0011ff 60.6px,#0000ff 64.1px,#0000ff 126.0px)"></div><div style="top:100px;background:linear-gradient(90deg,#0000ff 0.0px,#0002ff 5.1px,#0012ff 5.6px,#0033ff 6.0px,#007dff 6.7px,#009dff 7.2px,#00c3f8 8.0px,#02d5e8 8.3px,#08e6c6 8.6px,#1af292 8.9px,#3df859 9.2px,#71f52b 9.5px,#a9e910 9.8px,#d5d704 10.1px,#efc201 10.4px,#fcaf00 10.8px,#fcb000 11.2px,#efcb00 11.7px,#cdec00 12.2px,#a7fb00 12.7px,#9bfc00 13.0px,#9ff600 13.3px,#b3e600 13.6px,#cec700 13.9px,#ed8c00 14.3px,#fb5400 14.7px,#fe2e00 15.1px,#ff1c00 15.5px,#ff1c00 15.9px,#ff2d00 16.3px,#fd5000 16.7px,#ef9300 17.2px,#d6bf01 17.5px,#ade003 17.8px,#67f70e 18.2px,#38fd21 18.5px,#19ff3e 18.8px,#06ff67 19.2px,#00ff8b 19.7px,#00ffdb 21.9px,#00f9f8 22.8px,#00dfff 24.0px,#0088ff 27.6px,#004aff 28.9px,#003eff 29.8px,#0031ff 33.6px,#0011ff 62.0px,#0000ff 65.4px,#0000ff 126.0px)"></div><div style="top:101px;background:linear-gradient(90deg,#0000ff 0.0px,#0003ff 5.2px,#0010ff 5.6px,#0030ff 6.0px,#007bff 6.7px,#009cff 7.2px,#00befa 7.9px,#01cfee 8.2px,#06e1d1 8.5px,#14efa2 8.8px,#32f768 9.1px,#62f736 9.4px,#9aee15 9.7px,#cbde06 10.0px,#eaca01 10.3px,#fbb600 10.7px,#fcb400 11.1px,#edcd00 11.6px,#c6ec00 12.1px,#9bfb00 12.6px,#8dfd00 12.9px,#8ff900 13.2px,#a3ed00 13.5px,#c1d200 13.8px,#e69b00 14.2px,#f96000 14.6px,#fe3500 15.0px,#ff1f00 15.4px,#ff1a00 15.8px,#ff2700 16.2px,#fe4500 16.6px,#f87600 17.0px,#e1b000 17.4px,#bed602 17.7px,#8eee06 18.0px,#49fc17 18.4px,#23fe2f 18.7px,#0dff4d 19.0px,#01ff77 19.5px,#00ff91 20.1px,#00ffc1 21.5px,#00fbf4 22.8px,#00eafe 23.7px,#0087ff 27.7px,#004eff 28.9px,#0041ff 29.7px,#0031ff 34.4px,#0011ff 63.1px,#0000ff 66.6px,#0000ff 126.0px)"></div><div style="top:102px;background:linear-gradient(90deg,#0000ff 0.0px,#0003ff 5.2px,#000fff 5.6px,#002dff 6.0px,#0081ff 6.8px,#00a5ff 7.4px,#00c3f7 8.0px,#03d6e5 8.3px,#0ae7c1 8.6px,#1ef38b 8.9px,#43f852 9.2px,#79f526 9.5px,#b0e90e 9.8px,#dad804 10.1px,#f1c601 10.4px,#fcb800 10.8px,#f8be00 11.2px,#e5d500 11.6px,#abf500 12.2px,#88fd00 12.6px,#7dfd00 12.9px,#84f900 13.2px,#9cec00 13.5px,#bfd200 13.8px,#e69b00 14.2px,#f96000 14.6px,#fe3500 15.0px,#ff1e00 15.4px,#ff1a00 15.8px,#ff2700 16.2px,#fe4500 16.6px,#f87500 17.0px,#e3af00 17.4px,#c1d501 17.7px,#91ed05 18.0px,#3efd1b 18.5px,#1cff34 18.8px,#07ff58 19.2px,#01ff79 19.7px,#00ffb3 21.4px,#00fbf2 22.9px,#00edfe 23.7px,#0085ff 27.8px,#004eff 29.0px,#0043ff 30.0px,#0031ff 36.0px,#0011ff 64.2px,#0000ff 67.6px,#0000ff 126.0px)"></div><div style="top:103px;background:linear-gradient(90deg,#0000ff 0.0px,#0003ff 5.2px,#0012ff 5.7px,#0034ff 6.1px,#007fff 6.8px,#00a4ff 7.4px,#01c3f6 8.0px,#03d6e3 8.3px,#0be7be 8.6px,#20f388 8.9px,#47f84f 9.2px,#7df524 9.5px,#b3e90c 9.8px,#dcd903 10.1px,#f2c801 10.4px,#fbbd00 10.8px,#f4c600 11.2px,#dadc00 11.6px,#98f700 12.2px,#76fd00 12.6px,#6efd00 12.9px,#7af900 13.2px,#a4e500 13.6px,#c9c500 13.9px,#ed8b00 14.3px,#fb5300 14.7px,#ff2e00 15.1px,#ff1c00 15.5px,#ff1b00 15.9px,#ff2d00 16.3px,#fd4f00 16.7px,#f19100 17.2px,#dbbc00 17.5px,#b5de02 17.8px,#71f60a 18.2px,#34fe20 18.6px,#16ff38 18.9px,#05ff58 19.3px,#00ff77 19.9px,#00ffa4 21.3px,#00fcf0 23.0px,#00edfe 23.8px,#0084ff 27.9px,#0052ff 29.0px,#0047ff 29.8px,#0030ff 38.9px,#0011ff 65.3px,#0000ff 68.7px,#0000ff 126.0px)"></div><div style="top:104px;background:linear-gradient(90deg,#0000ff 0.0px,#0003ff 5.3px,#0011ff 5.7px,#0031ff 6.1px,#007cff 6.8px,#00a3ff 7.4px,#01c4f5 8.0px,#03d6e2 8.3px,#0ce7bb 8.6px,#22f384 8.9px,#4bf84c 9.2px,#81f522 9.5px,#b7ea0c 9.8px,#deda03 10.1px,#f3cb01 10.4px,#fac200 10.8px,#eecd00 11.2px,#cde200 11.6px,#84fa00 12.2px,#6afd00 12.5px,#5ffe00 12.8px,#69fb00 13.1px,#86f100 13.4px,#afdb00 13.7px,#dea900 14.1px,#f76d00 14.5px,#fe3e00 14.9px,#ff2200 15.3px,#ff1900 15.7px,#ff2200 16.1px,#ff3c00 16.5px,#fb6700 16.9px,#ed9f00 17.3px,#d2c801 17.6px,#a8e603 17.9px,#64f90c 18.3px,#2bfe23 18.7px,#12ff3a 19.0px,#02ff5c 19.5px,#00ff7c 20.4px,#00ffa2 21.5px,#00fcee 23.1px,#00eefd 23.9px,#0087ff 27.9px,#0053ff 29.1px,#0049ff 30.0px,#002eff 43.5px,#0011ff 66.4px,#0000ff 69.8px,#0000ff 126.0px)"></div><div style="top:105px;background:linear-gradient(90deg,#0000ff 0.0px,#0003ff 5.3px,#000fff 5.7px,#002dff 6.1px,#0082ff 6.9px,#00adfd 7.6px,#01c4f5 8.0px,#04d6e0 8.3px,#0de8b8 8.6px,#25f380 8.9px,#4ff848 9.2px,#85f520 9.5px,#baea0b 9.8px,#e0dc03 10.1px,#f4ce00 10.4px,#f8c800 10.8px,#e7d400 11.2px,#bee800 11.6px,#70fb00 12.2px,#58fe00 12.5px,#52fe00 12.8px,#60fb00 13.1px,#82f100 13.4px,#aedb00 13.7px,#dfa800 14.1px,#f37a00 14.4px,#fd4700 14.8px,#ff2700 15.2px,#ff1a00 15.6px,#ff1e00 16.0px,#ff3300 16.4px,#fd5a00 16.8px,#ee9f00 17.3px,#d4c701 17.6px,#ace502 17.9px,#68f90b 18.3px,#2dfe1f 18.7px,#13ff33 19.0px,#04ff4d 19.4px,#00ff6c 20.2px,#00ff93 21.4px,#00fcec 23.2px,#00f1fc 23.9px,#0086ff 28.0px,#0053ff 29.2px,#004aff 30.2px,#002aff 49.4px,#0010ff 67.5px,#0000ff 70.8px,#0000ff 126.0px)"></div><div style="top:106px;background:linear-gradient(90deg,#0000ff 0.0px,#0003ff 5.3px,#0013ff 5.8px,#0035ff 6.2px,#0080ff 6.9px,#00a7fe 7.5px,#01c4f4 8.0px,#04d7de 8.3px,#0ee8b4 8.6px,#27f47c 8.9px,#52f845 9.2px,#89f51e 9.5px,#beeb0a 9.8px,#e2dd02 10.1px,#f4d100 10.4px,#f5cd00 10.8px,#e6d600 11.1px,#c8e400 11.4px,#73f900 12.0px,#53fd00 12.3px,#44fe00 12.6px,#4afd00 12.9px,#65f800 13.2px,#9fe300 13.6px,#cac300 13.9px,#e89800 14.2px,#fa5e00 14.6px,#fe3500 15.0px,#ff1e00 15.4px,#ff1a00 15.8px,#ff2700 16.2px,#fe4400 16.6px,#fa7300 17.0px,#e8ac00 17.4px,#cbd201 17.7px,#9fec03 18.0px,#5bfb0d 18.4px,#30fe1b 18.7px,#15ff2d 19.0px,#05ff45 19.4px,#00ff67 20.4px,#00ff8c 21.5px,#00fced 23.4px,#00effd 24.1px,#0085ff 28.1px,#0055ff 29.2px,#004bff 30.1px,#0021ff 58.4px,#0010ff 68.6px,#0000ff 71.8px,#0000ff 126.0px)"></div><div style="top:107px;background:linear-gradient(90deg,#0000ff 0.0px,#0002ff 5.3px,#0011ff 5.8px,#0031ff 6.2px,#007eff 6.9px,#00a7fe 7.5px,#01c4f3 8.0px,#05d7dc 8.3px,#10e8b1 8.6px,#2af478 8.9px,#56f842 9.2px,#8df51c 9.5px,#c1ec09 9.8px,#e4df02 10.1px,#f4d500 10.4px,#f4d200 10.7px,#e5d800 11.0px,#c6e400 11.3px,#5efb00 12.0px,#41fe00 12.3px,#37fe00 12.6px,#41fd00 12.9px,#61f800 13.2px,#9fe300 13.6px,#d7b500 14.0px,#ef8800 14.3px,#fc5200 14.7px,#ff2d00 15.1px,#ff1c00 15.5px,#ff1b00 15.9px,#ff2c00 16.3px,#fe4e00 16.7px,#f48e00 17.2px,#e2b900 17.5px,#c1dc01 17.8px,#81f506 18.2px,#41fd12 18.6px,#1fff21 18.9px,#08ff37 19.3px,#00ff55 20.1px,#00ff80 21.5px,#00ffc7 22.8px,#00fbef 23.6px,#00eefd 24.3px,#0083ff 28.2px,#0054ff 29.3px,#004bff 30.3px,#0011ff 69.5px,#0000ff 72.8px,#0000ff 126.0px)"></div><div style="top:108px;background:linear-gradient(90deg,#0000ff 0.0px,#0003ff 5.4px,#000fff 5.8px,#002eff 6.2px,#0084ff 7.0px,#00b7fa 7.8px,#02caec 8.1px,#08ddce 8.4px,#18ed9c 8.7px,#3af662 9.0px,#6cf830 9.3px,#a3f312 9.6px,#d1e905 9.9px,#ecde01 10.2px,#f4d700 10.5px,#ecd800 10.8px,#d1e100 11.1px,#95f100 11.5px,#56fb00 11.9px,#36fe00 12.2px,#2aff00 12.5px,#33fe00 12.8px,#51fa00 13.1px,#90ea00 13.5px,#bfce00 13.8px,#e2a600 14.1px,#f86b00 14.5px,#fe3d00 14.9px,#ff2200 15.3px,#ff1900 15.7px,#ff2200 16.1px,#ff3b00 16.5px,#fc6500 16.9px,#f19c00 17.3px,#dbc500 17.6px,#b5e401 17.9px,#74f806 18.3px,#37fe13 18.7px,#18ff20 19.0px,#06ff32 19.4px,#00ff55 20.5px,#00ff7e 21.7px,#00fce9 23.6px,#00f1fc 24.3px,#0086ff 28.2px,#0056ff 29.3px,#004cff 30.1px,#0011ff 70.5px,#0000ff 73.8px,#0000ff 126.0px)"></div><div style="top:109px;background:linear-gradient(90deg,#0000ff 0.0px,#0003ff 5.4px,#0013ff 5.9px,#0035ff 6.3px,#0082ff 7.0px,#00b7f9 7.8px,#02caeb 8.1px,#09decb 8.4px,#1aed99 8.7px,#3df75e 9.0px,#70f82e 9.3px,#a7f411 9.6px,#d4ea05 9.9px,#ede001 10.2px,#f2db00 10.5px,#e5de00 10.8px,#c4e700 11.1px,#4ffb00 11.8px,#2cfe00 12.1px,#1fff00 12.4px,#26fe00 12.7px,#42fc00 13.0px,#80f000 13.4px,#b2d900 13.7px,#dab400 14.0px,#f18700 14.3px,#fc5100 14.7px,#ff2d00 15.1px,#ff1c00 15.5px,#ff1b00 15.9px,#ff2c00 16.3px,#fe4d00 16.7px,#f68d00 17.2px,#ddc400 17.6px,#b9e301 17.9px,#78f805 18.3px,#3afe0e 18.7px,#1aff1a 19.0px,#06ff29 19.4px,#00ff48 20.4px,#00ff72 21.7px,#00ffaa 22.7px,#00fceb 23.8px,#00effc 24.5px,#0085ff 28.3px,#0056ff 29.4px,#004cff 30.3px,#0011ff 71.4px,#0000ff 74.8px,#0000ff 126.0px)"></div><div style="top:110px;background:linear-gradient(90deg,#0000ff 0.0px,#0003ff 5.5px,#0013ff 6.0px,#003aff 6.5px,#006dff 7.1px,#009bfa 7.9px,#01b9e6 8.3px,#04d2c4 8.6px,#16f16b 9.1px,#2dfa39 9.4px,#4afe18 9.7px,#6bff05 10.1px,#76ff02 10.4px,#6fff05 10.7px,#4fff13 11.1px,#1eff36 11.6px,#08ff4f 12.0px,#02ff57 12.4px,#07ff4b 12.8px,#1bff30 13.2px,#3cff1a 13.5px,#8bfe05 14.0px,#c7fb01 14.4px,#e6f500 14.7px,#f9ea00 15.1px,#fee000 15.7px,#f7ed00 16.4px,#e3f700 16.8px,#b9fd01 17.2px,#61ff08 17.8px,#2dff1c 18.2px,#0fff3e 18.6px,#02ff69 19.1px,#00ff7d 19.6px,#00ff89 20.9px,#00ffaa 22.0px,#00faec 23.4px,#00e8fc 24.1px,#00a5ff 26.5px,#0079ff 28.4px,#0053ff 29.5px,#004cff 31.0px,#001fff 65.1px,#000fff 72.7px,#0000ff 75.9px,#0000ff 126.0px)"></div></div>
<svg width="699" height="321" viewBox="0 0 699 321" font-family="Liberation Sans, sans-serif">
<defs><radialGradient id="ballg" cx="0.5" cy="0.5" r="0.5" fx="0.34" fy="0.38"><stop offset="0" stop-color="#ffffff"/><stop offset="0.22" stop-color="#999"/><stop offset="0.6" stop-color="#000"/><stop offset="1" stop-color="#000"/></radialGradient></defs><clipPath id="clipa"><rect x="61.5" y="16.5" width="125.0" height="94.0"/></clipPath><g clip-path="url(#clipa)"><polyline points="104.00,16.00 103.76,16.50 103.52,17.00 103.29,17.50 103.05,18.00 102.82,18.50 102.59,19.00 102.36,19.50 102.13,20.00 101.90,20.50 101.67,21.00 101.45,21.50 101.22,22.00 101.00,22.50 100.78,23.00 100.57,23.50 100.35,24.00 100.13,24.50 99.92,25.00 99.71,25.50 99.50,26.00 99.29,26.50 99.09,27.00 98.88,27.50 98.68,28.00 98.48,28.50 98.28,29.00 98.08,29.50 97.89,30.00 97.69,30.50 97.50,31.00 97.30,31.50 97.11,32.00 96.92,32.50 96.73,33.00 96.54,33.50 96.35,34.00 96.16,34.50 95.98,35.00 95.79,35.50 95.60,36.00 95.41,36.50 95.22,37.00 95.02,37.50 94.83,38.00 94.63,38.50 94.43,39.00 94.24,39.50 94.04,40.00 93.85,40.50 93.67,41.00 93.49,41.50 93.31,42.00 93.15,42.50 92.99,43.00 92.84,43.50 92.70,44.00 92.57,44.50 92.44,45.00 92.32,45.50 92.21,46.00 92.10,46.50 91.99,47.00 91.89,47.50 91.78,48.00 91.69,48.50 91.59,49.00 91.49,49.50 91.39,50.00 91.30,50.50 91.20,51.00 91.10,51.50 91.00,52.00 90.90,52.50 90.80,53.00 90.70,53.50 90.60,54.00 90.50,54.50 90.40,55.00 90.31,55.50 90.21,56.00 90.12,56.50 90.03,57.00 89.95,57.50 89.87,58.00 89.79,58.50 89.72,59.00 89.66,59.50 89.60,60.00 89.54,60.50 89.49,61.00 89.43,61.50 89.37,62.00 89.32,62.50 89.27,63.00 89.22,63.50 89.18,64.00 89.15,64.50 89.12,65.00 89.11,65.50 89.10,66.00 89.10,66.50 89.11,67.00 89.13,67.50 89.14,68.00 89.16,68.50 89.19,69.00 89.22,69.50 89.24,70.00 89.27,70.50 89.30,71.00 89.33,71.50 89.36,72.00 89.39,72.50 89.43,73.00 89.47,73.50 89.51,74.00 89.55,74.50 89.60,75.00 89.65,75.50 89.70,76.00 89.75,76.50 89.81,77.00 89.88,77.50 89.95,78.00 90.02,78.50 90.10,79.00 90.18,79.50 90.27,80.00 90.36,80.50 90.45,81.00 90.56,81.50 90.68,82.00 90.86,82.50 91.09,83.00 91.37,83.50 91.69,84.00 92.03,84.50 92.40,85.00 92.77,85.50 93.15,86.00 93.52,86.50 93.88,87.00 94.21,87.50 94.50,88.00 94.76,88.50 95.00,89.00 95.22,89.50 95.44,90.00 95.67,90.50 95.91,91.00 96.19,91.50 96.50,92.00 96.86,92.50 97.27,93.00 97.73,93.50 98.23,94.00 98.77,94.50 99.33,95.00 99.92,95.50 100.52,96.00 101.14,96.50 101.76,97.00 102.38,97.50 103.00,98.00 103.63,98.50 104.28,99.00 104.95,99.50 105.64,100.00 106.34,100.50 107.06,101.00 107.79,101.50 108.53,102.00 109.28,102.50 110.02,103.00 110.77,103.50 111.52,104.00 112.26,104.50 113.00,105.00 113.73,105.50 114.47,106.00 115.21,106.50 115.95,107.00 116.70,107.50 117.45,108.00 118.20,108.50 118.95,109.00 119.71,109.50 120.47,110.00 121.23,110.50 122.00,111.00" fill="none" stroke="#2596ba" stroke-width="1.0" stroke-opacity="0.8" stroke-linejoin="round"/><polyline points="106.10,16.00 105.85,16.50 105.61,17.00 105.36,17.50 105.12,18.00 104.88,18.50 104.64,19.00 104.41,19.50 104.17,20.00 103.94,20.50 103.71,21.00 103.48,21.50 103.25,22.00 103.03,22.50 102.80,23.00 102.58,23.50 102.36,24.00 102.14,24.50 101.93,25.00 101.71,25.50 101.50,26.00 101.29,26.50 101.08,27.00 100.88,27.50 100.68,28.00 100.48,28.50 100.28,29.00 100.08,29.50 99.89,30.00 99.69,30.50 99.50,31.00 99.31,31.50 99.12,32.00 98.93,32.50 98.74,33.00 98.55,33.50 98.36,34.00 98.17,34.50 97.98,35.00 97.79,35.50 97.60,36.00 97.41,36.50 97.21,37.00 97.00,37.50 96.80,38.00 96.59,38.50 96.39,39.00 96.18,39.50 95.98,40.00 95.78,40.50 95.58,41.00 95.40,41.50 95.22,42.00 95.05,42.50 94.89,43.00 94.74,43.50 94.60,44.00 94.47,44.50 94.36,45.00 94.24,45.50 94.14,46.00 94.03,46.50 93.93,47.00 93.84,47.50 93.75,48.00 93.65,48.50 93.56,49.00 93.47,49.50 93.38,50.00 93.29,50.50 93.20,51.00 93.10,51.50 93.01,52.00 92.91,52.50 92.81,53.00 92.71,53.50 92.61,54.00 92.51,54.50 92.41,55.00 92.31,55.50 92.22,56.00 92.13,56.50 92.04,57.00 91.95,57.50 91.87,58.00 91.79,58.50 91.72,59.00 91.66,59.50 91.60,60.00 91.54,60.50 91.49,61.00 91.43,61.50 91.37,62.00 91.32,62.50 91.27,63.00 91.22,63.50 91.18,64.00 91.15,64.50 91.12,65.00 91.11,65.50 91.10,66.00 91.10,66.50 91.12,67.00 91.14,67.50 91.16,68.00 91.20,68.50 91.23,69.00 91.27,69.50 91.31,70.00 91.36,70.50 91.40,71.00 91.44,71.50 91.49,72.00 91.55,72.50 91.61,73.00 91.67,73.50 91.74,74.00 91.82,74.50 91.90,75.00 91.99,75.50 92.09,76.00 92.19,76.50 92.31,77.00 92.42,77.50 92.55,78.00 92.72,78.50 92.91,79.00 93.14,79.50 93.40,80.00 93.68,80.50 93.99,81.00 94.32,81.50 94.67,82.00 95.03,82.50 95.40,83.00 95.78,83.50 96.17,84.00 96.56,84.50 96.96,85.00 97.40,85.50 97.88,86.00 98.39,86.50 98.93,87.00 99.47,87.50 100.00,88.00 100.53,88.50 101.07,89.00 101.62,89.50 102.17,90.00 102.73,90.50 103.30,91.00 103.87,91.50 104.44,92.00 105.02,92.50 105.61,93.00 106.20,93.50 106.80,94.00 107.40,94.50 108.00,95.00 108.61,95.50 109.23,96.00 109.87,96.50 110.51,97.00 111.15,97.50 111.81,98.00 112.46,98.50 113.12,99.00 113.77,99.50 114.43,100.00 115.08,100.50 115.73,101.00 116.37,101.50 117.00,102.00 117.63,102.50 118.25,103.00 118.87,103.50 119.50,104.00 120.12,104.50 120.73,105.00 121.35,105.50 121.96,106.00 122.58,106.50 123.19,107.00 123.80,107.50 124.40,108.00 125.01,108.50 125.61,109.00 126.21,109.50 126.81,110.00 127.41,110.50 128.00,111.00" fill="none" stroke="#2596ba" stroke-width="1.0" stroke-opacity="0.8" stroke-linejoin="round"/><polyline points="108.00,16.00 107.79,16.50 107.57,17.00 107.36,17.50 107.15,18.00 106.94,18.50 106.74,19.00 106.53,19.50 106.33,20.00 106.12,20.50 105.92,21.00 105.72,21.50 105.52,22.00 105.33,22.50 105.13,23.00 104.94,23.50 104.75,24.00 104.56,24.50 104.37,25.00 104.18,25.50 104.00,26.00 103.82,26.50 103.64,27.00 103.46,27.50 103.29,28.00 103.12,28.50 102.95,29.00 102.79,29.50 102.62,30.00 102.46,30.50 102.29,31.00 102.13,31.50 101.97,32.00 101.80,32.50 101.64,33.00 101.47,33.50 101.30,34.00 101.13,34.50 100.96,35.00 100.78,35.50 100.60,36.00 100.41,36.50 100.22,37.00 100.03,37.50 99.83,38.00 99.62,38.50 99.42,39.00 99.21,39.50 99.00,40.00 98.80,40.50 98.60,41.00 98.40,41.50 98.21,42.00 98.02,42.50 97.84,43.00 97.66,43.50 97.50,44.00 97.34,44.50 97.19,45.00 97.03,45.50 96.88,46.00 96.73,46.50 96.59,47.00 96.45,47.50 96.31,48.00 96.18,48.50 96.05,49.00 95.93,49.50 95.81,50.00 95.70,50.50 95.60,51.00 95.50,51.50 95.40,52.00 95.31,52.50 95.22,53.00 95.13,53.50 95.04,54.00 94.96,54.50 94.87,55.00 94.79,55.50 94.72,56.00 94.64,56.50 94.57,57.00 94.50,57.50 94.44,58.00 94.37,58.50 94.31,59.00 94.25,59.50 94.20,60.00 94.15,60.50 94.09,61.00 94.03,61.50 93.98,62.00 93.92,62.50 93.87,63.00 93.82,63.50 93.78,64.00 93.75,64.50 93.72,65.00 93.71,65.50 93.70,66.00 93.70,66.50 93.72,67.00 93.73,67.50 93.76,68.00 93.79,68.50 93.82,69.00 93.86,69.50 93.91,70.00 93.95,70.50 94.00,71.00 94.06,71.50 94.13,72.00 94.22,72.50 94.33,73.00 94.45,73.50 94.59,74.00 94.73,74.50 94.90,75.00 95.07,75.50 95.25,76.00 95.45,76.50 95.65,77.00 95.87,77.50 96.09,78.00 96.36,78.50 96.67,79.00 97.03,79.50 97.42,80.00 97.85,80.50 98.31,81.00 98.79,81.50 99.30,82.00 99.83,82.50 100.38,83.00 100.93,83.50 101.50,84.00 102.12,84.50 102.84,85.00 103.62,85.50 104.43,86.00 105.26,86.50 106.06,87.00 106.82,87.50 107.50,88.00 108.12,88.50 108.71,89.00 109.28,89.50 109.83,90.00 110.36,90.50 110.88,91.00 111.39,91.50 111.90,92.00 112.40,92.50 112.90,93.00 113.41,93.50 113.93,94.00 114.46,94.50 115.00,95.00 115.55,95.50 116.11,96.00 116.67,96.50 117.23,97.00 117.80,97.50 118.37,98.00 118.94,98.50 119.51,99.00 120.08,99.50 120.66,100.00 121.24,100.50 121.83,101.00 122.41,101.50 123.00,102.00 123.59,102.50 124.18,103.00 124.78,103.50 125.38,104.00 125.98,104.50 126.58,105.00 127.18,105.50 127.79,106.00 128.40,106.50 129.01,107.00 129.63,107.50 130.25,108.00 130.86,108.50 131.49,109.00 132.11,109.50 132.74,110.00 133.37,110.50 134.00,111.00" fill="none" stroke="#2596ba" stroke-width="1.0" stroke-opacity="0.8" stroke-linejoin="round"/><polyline points="110.20,16.00 110.01,16.50 109.82,17.00 109.63,17.50 109.44,18.00 109.26,18.50 109.07,19.00 108.88,19.50 108.70,20.00 108.51,20.50 108.32,21.00 108.14,21.50 107.96,22.00 107.77,22.50 107.59,23.00 107.41,23.50 107.22,24.00 107.04,24.50 106.86,25.00 106.68,25.50 106.50,26.00 106.32,26.50 106.14,27.00 105.96,27.50 105.79,28.00 105.61,28.50 105.43,29.00 105.26,29.50 105.08,30.00 104.90,30.50 104.73,31.00 104.56,31.50 104.38,32.00 104.21,32.50 104.03,33.00 103.86,33.50 103.69,34.00 103.52,34.50 103.34,35.00 103.17,35.50 103.00,36.00 102.83,36.50 102.65,37.00 102.48,37.50 102.30,38.00 102.12,38.50 101.94,39.00 101.76,39.50 101.59,40.00 101.41,40.50 101.24,41.00 101.07,41.50 100.91,42.00 100.75,42.50 100.59,43.00 100.44,43.50 100.30,44.00 100.16,44.50 100.02,45.00 99.88,45.50 99.74,46.00 99.60,46.50 99.47,47.00 99.34,47.50 99.21,48.00 99.09,48.50 98.98,49.00 98.87,49.50 98.77,50.00 98.68,50.50 98.60,51.00 98.52,51.50 98.45,52.00 98.37,52.50 98.30,53.00 98.23,53.50 98.17,54.00 98.10,54.50 98.04,55.00 97.98,55.50 97.93,56.00 97.87,56.50 97.82,57.00 97.78,57.50 97.73,58.00 97.69,58.50 97.66,59.00 97.63,59.50 97.60,60.00 97.58,60.50 97.55,61.00 97.53,61.50 97.50,62.00 97.48,62.50 97.46,63.00 97.45,63.50 97.43,64.00 97.42,64.50 97.41,65.00 97.40,65.50 97.40,66.00 97.41,66.50 97.45,67.00 97.52,67.50 97.60,68.00 97.70,68.50 97.81,69.00 97.93,69.50 98.05,70.00 98.18,70.50 98.30,71.00 98.43,71.50 98.56,72.00 98.71,72.50 98.87,73.00 99.05,73.50 99.23,74.00 99.43,74.50 99.65,75.00 99.89,75.50 100.14,76.00 100.41,76.50 100.70,77.00 101.05,77.50 101.47,78.00 101.97,78.50 102.53,79.00 103.14,79.50 103.79,80.00 104.46,80.50 105.15,81.00 105.85,81.50 106.53,82.00 107.20,82.50 107.88,83.00 108.61,83.50 109.37,84.00 110.15,84.50 110.94,85.00 111.73,85.50 112.51,86.00 113.27,86.50 113.99,87.00 114.68,87.50 115.30,88.00 115.88,88.50 116.43,89.00 116.96,89.50 117.47,90.00 117.97,90.50 118.44,91.00 118.91,91.50 119.36,92.00 119.81,92.50 120.26,93.00 120.70,93.50 121.15,94.00 121.60,94.50 122.05,95.00 122.52,95.50 123.00,96.00 123.49,96.50 124.00,97.00 124.53,97.50 125.07,98.00 125.62,98.50 126.18,99.00 126.75,99.50 127.33,100.00 127.90,100.50 128.49,101.00 129.07,101.50 129.65,102.00 130.22,102.50 130.80,103.00 131.36,103.50 131.92,104.00 132.47,104.50 133.00,105.00 133.53,105.50 134.05,106.00 134.56,106.50 135.07,107.00 135.58,107.50 136.08,108.00 136.58,108.50 137.07,109.00 137.56,109.50 138.04,110.00 138.52,110.50 139.00,111.00" fill="none" stroke="#2596ba" stroke-width="1.0" stroke-opacity="0.8" stroke-linejoin="round"/><polyline points="113.90,16.00 113.69,16.50 113.49,17.00 113.28,17.50 113.08,18.00 112.88,18.50 112.68,19.00 112.48,19.50 112.28,20.00 112.08,20.50 111.89,21.00 111.69,21.50 111.50,22.00 111.31,22.50 111.11,23.00 110.93,23.50 110.74,24.00 110.55,24.50 110.37,25.00 110.18,25.50 110.00,26.00 109.82,26.50 109.64,27.00 109.46,27.50 109.28,28.00 109.10,28.50 108.92,29.00 108.74,29.50 108.56,30.00 108.39,30.50 108.21,31.00 108.04,31.50 107.87,32.00 107.70,32.50 107.54,33.00 107.38,33.50 107.21,34.00 107.06,34.50 106.90,35.00 106.75,35.50 106.60,36.00 106.45,36.50 106.30,37.00 106.16,37.50 106.01,38.00 105.87,38.50 105.72,39.00 105.58,39.50 105.45,40.00 105.31,40.50 105.18,41.00 105.05,41.50 104.93,42.00 104.82,42.50 104.70,43.00 104.60,43.50 104.50,44.00 104.41,44.50 104.31,45.00 104.22,45.50 104.14,46.00 104.05,46.50 103.97,47.00 103.89,47.50 103.81,48.00 103.73,48.50 103.66,49.00 103.59,49.50 103.53,50.00 103.47,50.50 103.41,51.00 103.35,51.50 103.30,52.00 103.25,52.50 103.20,53.00 103.15,53.50 103.09,54.00 103.04,54.50 102.99,55.00 102.95,55.50 102.90,56.00 102.86,56.50 102.82,57.00 102.79,57.50 102.76,58.00 102.73,58.50 102.71,59.00 102.70,59.50 102.70,60.00 102.71,60.50 102.72,61.00 102.75,61.50 102.78,62.00 102.82,62.50 102.88,63.00 102.93,63.50 103.00,64.00 103.07,64.50 103.14,65.00 103.22,65.50 103.30,66.00 103.40,66.50 103.54,67.00 103.70,67.50 103.90,68.00 104.12,68.50 104.37,69.00 104.63,69.50 104.91,70.00 105.20,70.50 105.50,71.00 105.84,71.50 106.22,72.00 106.66,72.50 107.14,73.00 107.65,73.50 108.19,74.00 108.76,74.50 109.33,75.00 109.92,75.50 110.50,76.00 111.11,76.50 111.78,77.00 112.49,77.50 113.21,78.00 113.94,78.50 114.66,79.00 115.35,79.50 116.00,80.00 116.61,80.50 117.20,81.00 117.78,81.50 118.34,82.00 118.89,82.50 119.43,83.00 119.97,83.50 120.50,84.00 121.03,84.50 121.55,85.00 122.06,85.50 122.56,86.00 123.06,86.50 123.55,87.00 124.03,87.50 124.50,88.00 124.96,88.50 125.41,89.00 125.86,89.50 126.30,90.00 126.73,90.50 127.16,91.00 127.58,91.50 128.00,92.00 128.42,92.50 128.83,93.00 129.24,93.50 129.65,94.00 130.06,94.50 130.48,95.00 130.89,95.50 131.30,96.00 131.72,96.50 132.14,97.00 132.57,97.50 133.00,98.00 133.43,98.50 133.87,99.00 134.30,99.50 134.74,100.00 135.17,100.50 135.61,101.00 136.05,101.50 136.49,102.00 136.93,102.50 137.37,103.00 137.81,103.50 138.25,104.00 138.69,104.50 139.13,105.00 139.57,105.50 140.02,106.00 140.46,106.50 140.91,107.00 141.35,107.50 141.80,108.00 142.25,108.50 142.70,109.00 143.15,109.50 143.60,110.00 144.05,110.50 144.50,111.00" fill="none" stroke="#2596ba" stroke-width="1.0" stroke-opacity="0.8" stroke-linejoin="round"/><polyline points="121.40,16.00 121.17,16.50 120.94,17.00 120.71,17.50 120.49,18.00 120.27,18.50 120.05,19.00 119.83,19.50 119.62,20.00 119.41,20.50 119.20,21.00 119.00,21.50 118.80,22.00 118.60,22.50 118.41,23.00 118.22,23.50 118.03,24.00 117.85,24.50 117.66,25.00 117.48,25.50 117.30,26.00 117.13,26.50 116.95,27.00 116.77,27.50 116.60,28.00 116.43,28.50 116.25,29.00 116.08,29.50 115.90,30.00 115.73,30.50 115.56,31.00 115.39,31.50 115.23,32.00 115.06,32.50 114.91,33.00 114.75,33.50 114.60,34.00 114.45,34.50 114.30,35.00 114.16,35.50 114.01,36.00 113.87,36.50 113.73,37.00 113.60,37.50 113.47,38.00 113.34,38.50 113.22,39.00 113.11,39.50 113.00,40.00 112.90,40.50 112.80,41.00 112.71,41.50 112.61,42.00 112.53,42.50 112.44,43.00 112.36,43.50 112.28,44.00 112.20,44.50 112.13,45.00 112.06,45.50 112.00,46.00 111.94,46.50 111.87,47.00 111.81,47.50 111.75,48.00 111.69,48.50 111.63,49.00 111.57,49.50 111.53,50.00 111.48,50.50 111.45,51.00 111.42,51.50 111.40,52.00 111.39,52.50 111.37,53.00 111.36,53.50 111.35,54.00 111.34,54.50 111.33,55.00 111.32,55.50 111.31,56.00 111.31,56.50 111.30,57.00 111.30,57.50 111.30,58.00 111.31,58.50 111.35,59.00 111.40,59.50 111.47,60.00 111.56,60.50 111.67,61.00 111.79,61.50 111.92,62.00 112.05,62.50 112.20,63.00 112.35,63.50 112.50,64.00 112.68,64.50 112.90,65.00 113.15,65.50 113.44,66.00 113.77,66.50 114.11,67.00 114.48,67.50 114.87,68.00 115.27,68.50 115.67,69.00 116.09,69.50 116.50,70.00 116.93,70.50 117.40,71.00 117.89,71.50 118.41,72.00 118.95,72.50 119.51,73.00 120.07,73.50 120.65,74.00 121.23,74.50 121.80,75.00 122.38,75.50 122.99,76.00 123.61,76.50 124.24,77.00 124.87,77.50 125.51,78.00 126.15,78.50 126.78,79.00 127.40,79.50 128.00,80.00 128.59,80.50 129.19,81.00 129.79,81.50 130.38,82.00 130.98,82.50 131.57,83.00 132.16,83.50 132.74,84.00 133.31,84.50 133.88,85.00 134.43,85.50 134.98,86.00 135.51,86.50 136.02,87.00 136.52,87.50 137.00,88.00 137.47,88.50 137.92,89.00 138.37,89.50 138.81,90.00 139.24,90.50 139.67,91.00 140.08,91.50 140.49,92.00 140.89,92.50 141.28,93.00 141.66,93.50 142.04,94.00 142.42,94.50 142.78,95.00 143.14,95.50 143.50,96.00 143.85,96.50 144.19,97.00 144.52,97.50 144.84,98.00 145.15,98.50 145.46,99.00 145.77,99.50 146.07,100.00 146.37,100.50 146.67,101.00 146.97,101.50 147.27,102.00 147.57,102.50 147.88,103.00 148.19,103.50 148.50,104.00 148.82,104.50 149.14,105.00 149.45,105.50 149.77,106.00 150.09,106.50 150.41,107.00 150.73,107.50 151.06,108.00 151.38,108.50 151.70,109.00 152.03,109.50 152.35,110.00 152.67,110.50 153.00,111.00" fill="none" stroke="#2596ba" stroke-width="1.0" stroke-opacity="0.8" stroke-linejoin="round"/></g><rect x="61.50" y="16.50" width="125.00" height="94.00" fill="none" stroke="#000" stroke-width="1.2"/><line x1="61.50" y1="29.49" x2="65.00" y2="29.49" stroke="#000" stroke-width="1"/><text x="55.00" y="33.59" font-size="12.3" text-anchor="end" fill="#000" >270</text><line x1="61.50" y1="67.90" x2="65.00" y2="67.90" stroke="#000" stroke-width="1"/><text x="55.00" y="72.00" font-size="12.3" text-anchor="end" fill="#000" >180</text><line x1="61.50" y1="106.30" x2="65.00" y2="106.30" stroke="#000" stroke-width="1"/><text x="55.00" y="110.40" font-size="12.3" text-anchor="end" fill="#000" >90</text><line x1="61.50" y1="87.10" x2="63.50" y2="87.10" stroke="#000" stroke-width="1"/><line x1="61.50" y1="48.70" x2="63.50" y2="48.70" stroke="#000" stroke-width="1"/><line x1="76.70" y1="110.50" x2="76.70" y2="107.00" stroke="#000" stroke-width="1"/><text x="76.70" y="126.50" font-size="12.3" text-anchor="middle" fill="#000" >500</text><line x1="95.50" y1="110.50" x2="95.50" y2="108.50" stroke="#000" stroke-width="1"/><line x1="114.30" y1="110.50" x2="114.30" y2="107.00" stroke="#000" stroke-width="1"/><text x="114.30" y="126.50" font-size="12.3" text-anchor="middle" fill="#000" >600</text><line x1="133.10" y1="110.50" x2="133.10" y2="108.50" stroke="#000" stroke-width="1"/><line x1="151.90" y1="110.50" x2="151.90" y2="107.00" stroke="#000" stroke-width="1"/><text x="151.90" y="126.50" font-size="12.3" text-anchor="middle" fill="#000" >700</text><line x1="170.70" y1="110.50" x2="170.70" y2="108.50" stroke="#000" stroke-width="1"/><text x="124.00" y="146.40" font-size="12.6" text-anchor="middle" fill="#000" >Wavelength (nm)</text><text transform="translate(23.9,64.4) rotate(-90)" font-size="12.6" text-anchor="middle">Temperature (K)</text><text x="0" y="12.3" font-size="16" font-weight="bold">a</text><defs><linearGradient id="cba" x1="0" y1="1" x2="0" y2="0"><stop offset="0.0000" stop-color="#0000ff"/><stop offset="0.0833" stop-color="#0055ff"/><stop offset="0.1667" stop-color="#00aaff"/><stop offset="0.2500" stop-color="#00ffff"/><stop offset="0.3333" stop-color="#00ffaa"/><stop offset="0.4167" stop-color="#00ff55"/><stop offset="0.5000" stop-color="#00ff00"/><stop offset="0.5833" stop-color="#55ff00"/><stop offset="0.6667" stop-color="#aaff00"/><stop offset="0.7500" stop-color="#ffff00"/><stop offset="0.8333" stop-color="#ffaa00"/><stop offset="0.9167" stop-color="#ff5500"/><stop offset="1.0000" stop-color="#ff0000"/></linearGradient></defs><rect x="189.0" y="35.5" width="10.0" height="72.5" fill="url(#cba)" stroke="#000" stroke-width="1.1"/><text x="204.80" y="112.10" font-size="12.3" text-anchor="start" fill="#000" >0.0</text><line x1="195.50" y1="93.50" x2="199.00" y2="93.50" stroke="#000" stroke-width="1"/><text x="204.80" y="97.60" font-size="12.3" text-anchor="start" fill="#000" >0.2</text><line x1="195.50" y1="79.00" x2="199.00" y2="79.00" stroke="#000" stroke-width="1"/><text x="204.80" y="83.10" font-size="12.3" text-anchor="start" fill="#000" >0.4</text><line x1="195.50" y1="64.50" x2="199.00" y2="64.50" stroke="#000" stroke-width="1"/><text x="204.80" y="68.60" font-size="12.3" text-anchor="start" fill="#000" >0.6</text><line x1="195.50" y1="50.00" x2="199.00" y2="50.00" stroke="#000" stroke-width="1"/><text x="204.80" y="54.10" font-size="12.3" text-anchor="start" fill="#000" >0.8</text><text x="204.80" y="39.60" font-size="12.3" text-anchor="start" fill="#000" >1.0</text><clipPath id="clipb"><rect x="298.5" y="16.5" width="125.0" height="94.0"/></clipPath><g clip-path="url(#clipb)"><polyline points="330.00,16.00 330.01,16.50 330.03,17.00 330.04,17.50 330.06,18.00 330.07,18.50 330.08,19.00 330.10,19.50 330.11,20.00 330.12,20.50 330.13,21.00 330.14,21.50 330.15,22.00 330.16,22.50 330.17,23.00 330.18,23.50 330.19,24.00 330.20,24.50 330.21,25.00 330.22,25.50 330.23,26.00 330.23,26.50 330.24,27.00 330.25,27.50 330.25,28.00 330.26,28.50 330.26,29.00 330.27,29.50 330.27,30.00 330.28,30.50 330.28,31.00 330.28,31.50 330.29,32.00 330.29,32.50 330.29,33.00 330.30,33.50 330.30,34.00 330.30,34.50 330.30,35.00 330.30,35.50 330.30,36.00 330.30,36.50 330.30,37.00 330.30,37.50 330.29,38.00 330.29,38.50 330.29,39.00 330.29,39.50 330.28,40.00 330.28,40.50 330.27,41.00 330.26,41.50 330.26,42.00 330.25,42.50 330.25,43.00 330.24,43.50 330.23,44.00 330.22,44.50 330.21,45.00 330.21,45.50 330.20,46.00 330.19,46.50 330.18,47.00 330.17,47.50 330.16,48.00 330.15,48.50 330.14,49.00 330.13,49.50 330.12,50.00 330.11,50.50 330.10,51.00 330.09,51.50 330.08,52.00 330.07,52.50 330.06,53.00 330.05,53.50 330.04,54.00 330.03,54.50 330.02,55.00 330.01,55.50 330.00,56.00 329.99,56.50 329.98,57.00 329.97,57.50 329.96,58.00 329.95,58.50 329.93,59.00 329.92,59.50 329.91,60.00 329.89,60.50 329.88,61.00 329.86,61.50 329.85,62.00 329.83,62.50 329.82,63.00 329.80,63.50 329.79,64.00 329.77,64.50 329.75,65.00 329.74,65.50 329.72,66.00 329.70,66.50 329.68,67.00 329.67,67.50 329.65,68.00 329.63,68.50 329.61,69.00 329.60,69.50 329.58,70.00 329.56,70.50 329.54,71.00 329.53,71.50 329.51,72.00 329.49,72.50 329.48,73.00 329.46,73.50 329.45,74.00 329.43,74.50 329.41,75.00 329.40,75.50 329.38,76.00 329.37,76.50 329.36,77.00 329.34,77.50 329.33,78.00 329.32,78.50 329.30,79.00 329.29,79.50 329.28,80.00 329.27,80.50 329.26,81.00 329.25,81.50 329.24,82.00 329.24,82.50 329.23,83.00 329.22,83.50 329.22,84.00 329.21,84.50 329.21,85.00 329.20,85.50 329.20,86.00 329.20,86.50 329.20,87.00 329.20,87.50 329.20,88.00 329.20,88.50 329.20,89.00 329.21,89.50 329.21,90.00 329.21,90.50 329.22,91.00 329.22,91.50 329.23,92.00 329.23,92.50 329.24,93.00 329.25,93.50 329.26,94.00 329.26,94.50 329.27,95.00 329.28,95.50 329.29,96.00 329.30,96.50 329.31,97.00 329.32,97.50 329.33,98.00 329.35,98.50 329.36,99.00 329.37,99.50 329.39,100.00 329.40,100.50 329.41,101.00 329.43,101.50 329.44,102.00 329.46,102.50 329.48,103.00 329.49,103.50 329.51,104.00 329.53,104.50 329.55,105.00 329.57,105.50 329.58,106.00 329.60,106.50 329.62,107.00 329.64,107.50 329.67,108.00 329.69,108.50 329.71,109.00 329.73,109.50 329.75,110.00 329.78,110.50 329.80,111.00" fill="none" stroke="#2596ba" stroke-width="1.0" stroke-opacity="0.8" stroke-linejoin="round"/><polyline points="333.00,16.00 332.98,16.50 332.95,17.00 332.93,17.50 332.90,18.00 332.88,18.50 332.85,19.00 332.82,19.50 332.80,20.00 332.77,20.50 332.75,21.00 332.73,21.50 332.70,22.00 332.68,22.50 332.65,23.00 332.62,23.50 332.60,24.00 332.57,24.50 332.55,25.00 332.52,25.50 332.50,26.00 332.48,26.50 332.45,27.00 332.43,27.50 332.40,28.00 332.38,28.50 332.35,29.00 332.32,29.50 332.30,30.00 332.27,30.50 332.25,31.00 332.23,31.50 332.20,32.00 332.18,32.50 332.15,33.00 332.12,33.50 332.10,34.00 332.07,34.50 332.05,35.00 332.02,35.50 332.00,36.00 331.97,36.50 331.95,37.00 331.92,37.50 331.90,38.00 331.87,38.50 331.85,39.00 331.82,39.50 331.80,40.00 331.77,40.50 331.75,41.00 331.72,41.50 331.70,42.00 331.67,42.50 331.65,43.00 331.62,43.50 331.60,44.00 331.57,44.50 331.54,45.00 331.52,45.50 331.49,46.00 331.47,46.50 331.44,47.00 331.42,47.50 331.39,48.00 331.37,48.50 331.34,49.00 331.32,49.50 331.29,50.00 331.27,50.50 331.24,51.00 331.22,51.50 331.19,52.00 331.17,52.50 331.14,53.00 331.12,53.50 331.10,54.00 331.07,54.50 331.05,55.00 331.02,55.50 331.00,56.00 330.98,56.50 330.95,57.00 330.93,57.50 330.90,58.00 330.87,58.50 330.85,59.00 330.82,59.50 330.79,60.00 330.76,60.50 330.73,61.00 330.71,61.50 330.68,62.00 330.65,62.50 330.62,63.00 330.59,63.50 330.56,64.00 330.53,64.50 330.50,65.00 330.47,65.50 330.44,66.00 330.41,66.50 330.38,67.00 330.35,67.50 330.32,68.00 330.29,68.50 330.26,69.00 330.23,69.50 330.20,70.00 330.17,70.50 330.14,71.00 330.12,71.50 330.09,72.00 330.06,72.50 330.03,73.00 330.01,73.50 329.98,74.00 329.96,74.50 329.93,75.00 329.91,75.50 329.88,76.00 329.86,76.50 329.84,77.00 329.82,77.50 329.80,78.00 329.78,78.50 329.76,79.00 329.74,79.50 329.72,80.00 329.71,80.50 329.69,81.00 329.68,81.50 329.67,82.00 329.65,82.50 329.64,83.00 329.63,83.50 329.62,84.00 329.62,84.50 329.61,85.00 329.61,85.50 329.60,86.00 329.60,86.50 329.60,87.00 329.60,87.50 329.60,88.00 329.60,88.50 329.60,89.00 329.61,89.50 329.61,90.00 329.61,90.50 329.62,91.00 329.62,91.50 329.63,92.00 329.63,92.50 329.64,93.00 329.65,93.50 329.65,94.00 329.66,94.50 329.67,95.00 329.68,95.50 329.69,96.00 329.70,96.50 329.71,97.00 329.73,97.50 329.74,98.00 329.75,98.50 329.77,99.00 329.78,99.50 329.79,100.00 329.81,100.50 329.83,101.00 329.84,101.50 329.86,102.00 329.88,102.50 329.90,103.00 329.92,103.50 329.94,104.00 329.96,104.50 329.98,105.00 330.01,105.50 330.03,106.00 330.05,106.50 330.08,107.00 330.10,107.50 330.13,108.00 330.16,108.50 330.18,109.00 330.21,109.50 330.24,110.00 330.27,110.50 330.30,111.00" fill="none" stroke="#2596ba" stroke-width="1.0" stroke-opacity="0.8" stroke-linejoin="round"/><polyline points="336.10,16.00 336.00,16.50 335.89,17.00 335.79,17.50 335.69,18.00 335.59,18.50 335.50,19.00 335.40,19.50 335.31,20.00 335.21,20.50 335.12,21.00 335.03,21.50 334.94,22.00 334.85,22.50 334.77,23.00 334.68,23.50 334.60,24.00 334.52,24.50 334.44,25.00 334.36,25.50 334.28,26.00 334.21,26.50 334.14,27.00 334.07,27.50 334.00,28.00 333.93,28.50 333.87,29.00 333.80,29.50 333.74,30.00 333.67,30.50 333.61,31.00 333.55,31.50 333.49,32.00 333.43,32.50 333.37,33.00 333.31,33.50 333.26,34.00 333.20,34.50 333.15,35.00 333.09,35.50 333.04,36.00 332.99,36.50 332.94,37.00 332.89,37.50 332.85,38.00 332.80,38.50 332.76,39.00 332.72,39.50 332.68,40.00 332.64,40.50 332.60,41.00 332.56,41.50 332.53,42.00 332.50,42.50 332.47,43.00 332.44,43.50 332.41,44.00 332.38,44.50 332.35,45.00 332.32,45.50 332.29,46.00 332.27,46.50 332.24,47.00 332.22,47.50 332.19,48.00 332.17,48.50 332.14,49.00 332.12,49.50 332.10,50.00 332.07,50.50 332.05,51.00 332.03,51.50 332.00,52.00 331.98,52.50 331.95,53.00 331.93,53.50 331.91,54.00 331.88,54.50 331.85,55.00 331.83,55.50 331.80,56.00 331.77,56.50 331.74,57.00 331.71,57.50 331.68,58.00 331.65,58.50 331.62,59.00 331.58,59.50 331.55,60.00 331.52,60.50 331.48,61.00 331.44,61.50 331.41,62.00 331.37,62.50 331.33,63.00 331.30,63.50 331.26,64.00 331.22,64.50 331.18,65.00 331.14,65.50 331.11,66.00 331.07,66.50 331.03,67.00 330.99,67.50 330.95,68.00 330.91,68.50 330.87,69.00 330.84,69.50 330.80,70.00 330.76,70.50 330.72,71.00 330.69,71.50 330.65,72.00 330.61,72.50 330.58,73.00 330.54,73.50 330.51,74.00 330.48,74.50 330.44,75.00 330.41,75.50 330.38,76.00 330.35,76.50 330.32,77.00 330.29,77.50 330.26,78.00 330.24,78.50 330.21,79.00 330.19,79.50 330.17,80.00 330.14,80.50 330.12,81.00 330.11,81.50 330.09,82.00 330.07,82.50 330.06,83.00 330.04,83.50 330.03,84.00 330.02,84.50 330.01,85.00 330.01,85.50 330.00,86.00 330.00,86.50 330.00,87.00 330.00,87.50 330.00,88.00 330.00,88.50 330.00,89.00 330.01,89.50 330.01,90.00 330.01,90.50 330.02,91.00 330.02,91.50 330.03,92.00 330.04,92.50 330.04,93.00 330.05,93.50 330.06,94.00 330.07,94.50 330.08,95.00 330.09,95.50 330.10,96.00 330.11,96.50 330.12,97.00 330.14,97.50 330.15,98.00 330.16,98.50 330.18,99.00 330.20,99.50 330.21,100.00 330.23,100.50 330.25,101.00 330.27,101.50 330.29,102.00 330.31,102.50 330.33,103.00 330.35,103.50 330.38,104.00 330.40,104.50 330.43,105.00 330.45,105.50 330.48,106.00 330.51,106.50 330.54,107.00 330.57,107.50 330.60,108.00 330.63,108.50 330.66,109.00 330.69,109.50 330.73,110.00 330.76,110.50 330.80,111.00" fill="none" stroke="#2596ba" stroke-width="1.0" stroke-opacity="0.8" stroke-linejoin="round"/><polyline points="339.90,16.00 339.76,16.50 339.63,17.00 339.49,17.50 339.36,18.00 339.22,18.50 339.09,19.00 338.96,19.50 338.83,20.00 338.71,20.50 338.58,21.00 338.46,21.50 338.33,22.00 338.21,22.50 338.09,23.00 337.98,23.50 337.86,24.00 337.75,24.50 337.63,25.00 337.52,25.50 337.42,26.00 337.31,26.50 337.20,27.00 337.10,27.50 337.00,28.00 336.90,28.50 336.80,29.00 336.70,29.50 336.60,30.00 336.50,30.50 336.41,31.00 336.31,31.50 336.21,32.00 336.12,32.50 336.03,33.00 335.93,33.50 335.84,34.00 335.75,34.50 335.67,35.00 335.58,35.50 335.50,36.00 335.42,36.50 335.34,37.00 335.26,37.50 335.19,38.00 335.11,38.50 335.05,39.00 334.98,39.50 334.92,40.00 334.86,40.50 334.80,41.00 334.75,41.50 334.69,42.00 334.64,42.50 334.60,43.00 334.55,43.50 334.50,44.00 334.46,44.50 334.42,45.00 334.37,45.50 334.33,46.00 334.29,46.50 334.25,47.00 334.22,47.50 334.18,48.00 334.14,48.50 334.11,49.00 334.07,49.50 334.03,50.00 334.00,50.50 333.96,51.00 333.93,51.50 333.89,52.00 333.86,52.50 333.82,53.00 333.79,53.50 333.75,54.00 333.71,54.50 333.68,55.00 333.64,55.50 333.60,56.00 333.56,56.50 333.52,57.00 333.48,57.50 333.43,58.00 333.39,58.50 333.34,59.00 333.30,59.50 333.25,60.00 333.20,60.50 333.16,61.00 333.11,61.50 333.06,62.00 333.01,62.50 332.96,63.00 332.91,63.50 332.86,64.00 332.80,64.50 332.75,65.00 332.70,65.50 332.65,66.00 332.60,66.50 332.55,67.00 332.50,67.50 332.44,68.00 332.39,68.50 332.34,69.00 332.29,69.50 332.24,70.00 332.19,70.50 332.14,71.00 332.09,71.50 332.05,72.00 332.00,72.50 331.95,73.00 331.91,73.50 331.86,74.00 331.82,74.50 331.78,75.00 331.73,75.50 331.69,76.00 331.65,76.50 331.62,77.00 331.58,77.50 331.54,78.00 331.51,78.50 331.48,79.00 331.45,79.50 331.42,80.00 331.39,80.50 331.36,81.00 331.34,81.50 331.31,82.00 331.29,82.50 331.27,83.00 331.26,83.50 331.24,84.00 331.23,84.50 331.22,85.00 331.21,85.50 331.20,86.00 331.20,86.50 331.20,87.00 331.20,87.50 331.20,88.00 331.20,88.50 331.20,89.00 331.20,89.50 331.20,90.00 331.20,90.50 331.20,91.00 331.20,91.50 331.20,92.00 331.20,92.50 331.20,93.00 331.20,93.50 331.20,94.00 331.20,94.50 331.20,95.00 331.20,95.50 331.21,96.00 331.21,96.50 331.21,97.00 331.21,97.50 331.21,98.00 331.21,98.50 331.21,99.00 331.21,99.50 331.22,100.00 331.22,100.50 331.22,101.00 331.22,101.50 331.22,102.00 331.23,102.50 331.23,103.00 331.23,103.50 331.24,104.00 331.24,104.50 331.24,105.00 331.25,105.50 331.25,106.00 331.25,106.50 331.26,107.00 331.26,107.50 331.27,108.00 331.27,108.50 331.28,109.00 331.28,109.50 331.29,110.00 331.29,110.50 331.30,111.00" fill="none" stroke="#2596ba" stroke-width="1.0" stroke-opacity="0.8" stroke-linejoin="round"/><polyline points="344.20,16.00 343.98,16.50 343.76,17.00 343.54,17.50 343.33,18.00 343.12,18.50 342.91,19.00 342.70,19.50 342.50,20.00 342.30,20.50 342.10,21.00 341.90,21.50 341.71,22.00 341.52,22.50 341.33,23.00 341.15,23.50 340.97,24.00 340.79,24.50 340.62,25.00 340.45,25.50 340.28,26.00 340.12,26.50 339.96,27.00 339.80,27.50 339.65,28.00 339.50,28.50 339.35,29.00 339.21,29.50 339.06,30.00 338.92,30.50 338.77,31.00 338.63,31.50 338.49,32.00 338.35,32.50 338.21,33.00 338.07,33.50 337.94,34.00 337.81,34.50 337.68,35.00 337.56,35.50 337.44,36.00 337.32,36.50 337.21,37.00 337.10,37.50 337.00,38.00 336.90,38.50 336.81,39.00 336.72,39.50 336.64,40.00 336.57,40.50 336.50,41.00 336.44,41.50 336.38,42.00 336.32,42.50 336.26,43.00 336.21,43.50 336.16,44.00 336.11,44.50 336.07,45.00 336.02,45.50 335.98,46.00 335.93,46.50 335.89,47.00 335.85,47.50 335.82,48.00 335.78,48.50 335.74,49.00 335.70,49.50 335.67,50.00 335.63,50.50 335.60,51.00 335.56,51.50 335.52,52.00 335.49,52.50 335.45,53.00 335.41,53.50 335.37,54.00 335.33,54.50 335.29,55.00 335.24,55.50 335.20,56.00 335.15,56.50 335.11,57.00 335.06,57.50 335.01,58.00 334.96,58.50 334.91,59.00 334.85,59.50 334.80,60.00 334.75,60.50 334.69,61.00 334.63,61.50 334.58,62.00 334.52,62.50 334.46,63.00 334.40,63.50 334.35,64.00 334.29,64.50 334.23,65.00 334.17,65.50 334.11,66.00 334.05,66.50 333.99,67.00 333.93,67.50 333.87,68.00 333.81,68.50 333.75,69.00 333.69,69.50 333.63,70.00 333.57,70.50 333.51,71.00 333.45,71.50 333.40,72.00 333.34,72.50 333.28,73.00 333.23,73.50 333.17,74.00 333.12,74.50 333.07,75.00 333.01,75.50 332.96,76.00 332.91,76.50 332.86,77.00 332.82,77.50 332.77,78.00 332.72,78.50 332.68,79.00 332.64,79.50 332.59,80.00 332.55,80.50 332.52,81.00 332.48,81.50 332.44,82.00 332.41,82.50 332.38,83.00 332.35,83.50 332.32,84.00 332.30,84.50 332.27,85.00 332.25,85.50 332.23,86.00 332.21,86.50 332.20,87.00 332.19,87.50 332.17,88.00 332.16,88.50 332.15,89.00 332.13,89.50 332.12,90.00 332.11,90.50 332.09,91.00 332.08,91.50 332.07,92.00 332.06,92.50 332.04,93.00 332.03,93.50 332.02,94.00 332.01,94.50 332.00,95.00 331.99,95.50 331.98,96.00 331.97,96.50 331.96,97.00 331.95,97.50 331.94,98.00 331.93,98.50 331.92,99.00 331.91,99.50 331.90,100.00 331.89,100.50 331.88,101.00 331.88,101.50 331.87,102.00 331.86,102.50 331.85,103.00 331.85,103.50 331.84,104.00 331.84,104.50 331.83,105.00 331.83,105.50 331.82,106.00 331.82,106.50 331.81,107.00 331.81,107.50 331.81,108.00 331.81,108.50 331.80,109.00 331.80,109.50 331.80,110.00 331.80,110.50 331.80,111.00" fill="none" stroke="#2596ba" stroke-width="1.0" stroke-opacity="0.8" stroke-linejoin="round"/><polyline points="312.60,16.00 312.61,16.50 312.62,17.00 312.63,17.50 312.64,18.00 312.65,18.50 312.67,19.00 312.68,19.50 312.70,20.00 312.71,20.50 312.73,21.00 312.75,21.50 312.77,22.00 312.78,22.50 312.80,23.00 312.82,23.50 312.85,24.00 312.87,24.50 312.89,25.00 312.91,25.50 312.94,26.00 312.96,26.50 312.99,27.00 313.01,27.50 313.04,28.00 313.07,28.50 313.09,29.00 313.12,29.50 313.15,30.00 313.18,30.50 313.21,31.00 313.24,31.50 313.27,32.00 313.30,32.50 313.33,33.00 313.36,33.50 313.39,34.00 313.43,34.50 313.46,35.00 313.49,35.50 313.53,36.00 313.56,36.50 313.59,37.00 313.63,37.50 313.66,38.00 313.70,38.50 313.73,39.00 313.77,39.50 313.80,40.00 313.84,40.50 313.87,41.00 313.91,41.50 313.96,42.00 314.00,42.50 314.04,43.00 314.09,43.50 314.14,44.00 314.19,44.50 314.24,45.00 314.29,45.50 314.35,46.00 314.40,46.50 314.46,47.00 314.52,47.50 314.57,48.00 314.63,48.50 314.69,49.00 314.76,49.50 314.82,50.00 314.88,50.50 314.94,51.00 315.01,51.50 315.07,52.00 315.14,52.50 315.20,53.00 315.27,53.50 315.33,54.00 315.40,54.50 315.47,55.00 315.53,55.50 315.60,56.00 315.66,56.50 315.73,57.00 315.80,57.50 315.86,58.00 315.93,58.50 315.99,59.00 316.06,59.50 316.12,60.00 316.18,60.50 316.24,61.00 316.31,61.50 316.37,62.00 316.43,62.50 316.49,63.00 316.54,63.50 316.60,64.00 316.66,64.50 316.71,65.00 316.77,65.50 316.83,66.00 316.88,66.50 316.94,67.00 317.00,67.50 317.05,68.00 317.11,68.50 317.17,69.00 317.23,69.50 317.28,70.00 317.34,70.50 317.40,71.00 317.46,71.50 317.51,72.00 317.57,72.50 317.63,73.00 317.68,73.50 317.74,74.00 317.80,74.50 317.85,75.00 317.91,75.50 317.97,76.00 318.02,76.50 318.08,77.00 318.13,77.50 318.19,78.00 318.24,78.50 318.30,79.00 318.35,79.50 318.40,80.00 318.46,80.50 318.51,81.00 318.56,81.50 318.61,82.00 318.66,82.50 318.71,83.00 318.76,83.50 318.81,84.00 318.86,84.50 318.91,85.00 318.96,85.50 319.01,86.00 319.05,86.50 319.10,87.00 319.15,87.50 319.19,88.00 319.24,88.50 319.28,89.00 319.33,89.50 319.37,90.00 319.42,90.50 319.46,91.00 319.50,91.50 319.55,92.00 319.59,92.50 319.63,93.00 319.68,93.50 319.72,94.00 319.76,94.50 319.80,95.00 319.85,95.50 319.89,96.00 319.93,96.50 319.97,97.00 320.01,97.50 320.05,98.00 320.09,98.50 320.13,99.00 320.17,99.50 320.21,100.00 320.25,100.50 320.29,101.00 320.33,101.50 320.37,102.00 320.40,102.50 320.44,103.00 320.48,103.50 320.52,104.00 320.55,104.50 320.59,105.00 320.63,105.50 320.66,106.00 320.70,106.50 320.73,107.00 320.77,107.50 320.80,108.00 320.84,108.50 320.87,109.00 320.90,109.50 320.94,110.00 320.97,110.50 321.00,111.00" fill="none" stroke="#0064d0" stroke-width="2.0" stroke-opacity="0.9" stroke-linejoin="round"/><polyline points="314.60,16.00 314.61,16.50 314.62,17.00 314.63,17.50 314.64,18.00 314.65,18.50 314.66,19.00 314.67,19.50 314.68,20.00 314.70,20.50 314.71,21.00 314.72,21.50 314.74,22.00 314.76,22.50 314.77,23.00 314.79,23.50 314.81,24.00 314.83,24.50 314.85,25.00 314.86,25.50 314.88,26.00 314.91,26.50 314.93,27.00 314.95,27.50 314.97,28.00 314.99,28.50 315.01,29.00 315.04,29.50 315.06,30.00 315.09,30.50 315.11,31.00 315.13,31.50 315.16,32.00 315.19,32.50 315.21,33.00 315.24,33.50 315.26,34.00 315.29,34.50 315.32,35.00 315.35,35.50 315.37,36.00 315.40,36.50 315.43,37.00 315.46,37.50 315.48,38.00 315.51,38.50 315.54,39.00 315.57,39.50 315.60,40.00 315.63,40.50 315.66,41.00 315.69,41.50 315.73,42.00 315.76,42.50 315.80,43.00 315.84,43.50 315.88,44.00 315.92,44.50 315.96,45.00 316.00,45.50 316.05,46.00 316.09,46.50 316.14,47.00 316.18,47.50 316.23,48.00 316.28,48.50 316.33,49.00 316.37,49.50 316.42,50.00 316.48,50.50 316.53,51.00 316.58,51.50 316.63,52.00 316.68,52.50 316.74,53.00 316.79,53.50 316.84,54.00 316.90,54.50 316.95,55.00 317.00,55.50 317.06,56.00 317.11,56.50 317.17,57.00 317.22,57.50 317.28,58.00 317.33,58.50 317.38,59.00 317.44,59.50 317.49,60.00 317.54,60.50 317.60,61.00 317.65,61.50 317.70,62.00 317.75,62.50 317.80,63.00 317.85,63.50 317.90,64.00 317.95,64.50 318.00,65.00 318.05,65.50 318.10,66.00 318.15,66.50 318.20,67.00 318.25,67.50 318.30,68.00 318.35,68.50 318.41,69.00 318.46,69.50 318.51,70.00 318.56,70.50 318.61,71.00 318.67,71.50 318.72,72.00 318.77,72.50 318.82,73.00 318.88,73.50 318.93,74.00 318.98,74.50 319.03,75.00 319.08,75.50 319.14,76.00 319.19,76.50 319.24,77.00 319.29,77.50 319.34,78.00 319.39,78.50 319.44,79.00 319.49,79.50 319.54,80.00 319.59,80.50 319.64,81.00 319.69,81.50 319.74,82.00 319.79,82.50 319.84,83.00 319.88,83.50 319.93,84.00 319.98,84.50 320.02,85.00 320.07,85.50 320.11,86.00 320.16,86.50 320.20,87.00 320.24,87.50 320.29,88.00 320.33,88.50 320.37,89.00 320.41,89.50 320.45,90.00 320.50,90.50 320.54,91.00 320.58,91.50 320.62,92.00 320.66,92.50 320.70,93.00 320.74,93.50 320.78,94.00 320.82,94.50 320.86,95.00 320.90,95.50 320.94,96.00 320.98,96.50 321.02,97.00 321.06,97.50 321.09,98.00 321.13,98.50 321.17,99.00 321.21,99.50 321.25,100.00 321.28,100.50 321.32,101.00 321.36,101.50 321.39,102.00 321.43,102.50 321.46,103.00 321.50,103.50 321.54,104.00 321.57,104.50 321.61,105.00 321.64,105.50 321.67,106.00 321.71,106.50 321.74,107.00 321.77,107.50 321.81,108.00 321.84,108.50 321.87,109.00 321.91,109.50 321.94,110.00 321.97,110.50 322.00,111.00" fill="none" stroke="#10b098" stroke-width="1.8" stroke-opacity="0.9" stroke-linejoin="round"/></g><rect x="298.50" y="16.50" width="125.00" height="94.00" fill="none" stroke="#000" stroke-width="1.2"/><line x1="298.50" y1="29.49" x2="302.00" y2="29.49" stroke="#000" stroke-width="1"/><text x="292.00" y="33.59" font-size="12.3" text-anchor="end" fill="#000" >270</text><line x1="298.50" y1="67.90" x2="302.00" y2="67.90" stroke="#000" stroke-width="1"/><text x="292.00" y="72.00" font-size="12.3" text-anchor="end" fill="#000" >180</text><line x1="298.50" y1="106.30" x2="302.00" y2="106.30" stroke="#000" stroke-width="1"/><text x="292.00" y="110.40" font-size="12.3" text-anchor="end" fill="#000" >90</text><line x1="298.50" y1="87.10" x2="300.50" y2="87.10" stroke="#000" stroke-width="1"/><line x1="298.50" y1="48.70" x2="300.50" y2="48.70" stroke="#000" stroke-width="1"/><line x1="313.70" y1="110.50" x2="313.70" y2="107.00" stroke="#000" stroke-width="1"/><text x="313.70" y="126.50" font-size="12.3" text-anchor="middle" fill="#000" >500</text><line x1="332.50" y1="110.50" x2="332.50" y2="108.50" stroke="#000" stroke-width="1"/><line x1="351.30" y1="110.50" x2="351.30" y2="107.00" stroke="#000" stroke-width="1"/><text x="351.30" y="126.50" font-size="12.3" text-anchor="middle" fill="#000" >600</text><line x1="370.10" y1="110.50" x2="370.10" y2="108.50" stroke="#000" stroke-width="1"/><line x1="388.90" y1="110.50" x2="388.90" y2="107.00" stroke="#000" stroke-width="1"/><text x="388.90" y="126.50" font-size="12.3" text-anchor="middle" fill="#000" >700</text><line x1="407.70" y1="110.50" x2="407.70" y2="108.50" stroke="#000" stroke-width="1"/><text x="361.00" y="146.40" font-size="12.6" text-anchor="middle" fill="#000" >Wavelength (nm)</text><text transform="translate(260.9,64.4) rotate(-90)" font-size="12.6" text-anchor="middle">Temperature (K)</text><text x="238" y="12.3" font-size="16" font-weight="bold">b</text><defs><linearGradient id="cbb" x1="0" y1="1" x2="0" y2="0"><stop offset="0.0000" stop-color="#0000ff"/><stop offset="0.0833" stop-color="#0055ff"/><stop offset="0.1667" stop-color="#00aaff"/><stop offset="0.2500" stop-color="#00ffff"/><stop offset="0.3333" stop-color="#00ffaa"/><stop offset="0.4167" stop-color="#00ff55"/><stop offset="0.5000" stop-color="#00ff00"/><stop offset="0.5833" stop-color="#55ff00"/><stop offset="0.6667" stop-color="#aaff00"/><stop offset="0.7500" stop-color="#ffff00"/><stop offset="0.8333" stop-color="#ffaa00"/><stop offset="0.9167" stop-color="#ff5500"/><stop offset="1.0000" stop-color="#ff0000"/></linearGradient></defs><rect x="426" y="35.5" width="10" height="72.5" fill="url(#cbb)" stroke="#000" stroke-width="1.1"/><text x="441.80" y="112.10" font-size="12.3" text-anchor="start" fill="#000" >0.0</text><line x1="432.50" y1="93.50" x2="436.00" y2="93.50" stroke="#000" stroke-width="1"/><text x="441.80" y="97.60" font-size="12.3" text-anchor="start" fill="#000" >0.2</text><line x1="432.50" y1="79.00" x2="436.00" y2="79.00" stroke="#000" stroke-width="1"/><text x="441.80" y="83.10" font-size="12.3" text-anchor="start" fill="#000" >0.4</text><line x1="432.50" y1="64.50" x2="436.00" y2="64.50" stroke="#000" stroke-width="1"/><text x="441.80" y="68.60" font-size="12.3" text-anchor="start" fill="#000" >0.6</text><line x1="432.50" y1="50.00" x2="436.00" y2="50.00" stroke="#000" stroke-width="1"/><text x="441.80" y="54.10" font-size="12.3" text-anchor="start" fill="#000" >0.8</text><text x="441.80" y="39.60" font-size="12.3" text-anchor="start" fill="#000" >1.0</text><clipPath id="clipc"><rect x="540.0" y="16.5" width="125.0" height="94.0"/></clipPath><g clip-path="url(#clipc)"><polyline points="572.50,16.00 572.45,16.50 572.39,17.00 572.32,17.50 572.25,18.00 572.18,18.50 572.10,19.00 572.02,19.50 571.94,20.00 571.85,20.50 571.75,21.00 571.65,21.50 571.55,22.00 571.45,22.50 571.34,23.00 571.23,23.50 571.12,24.00 571.00,24.50 570.88,25.00 570.76,25.50 570.64,26.00 570.51,26.50 570.38,27.00 570.25,27.50 570.12,28.00 569.99,28.50 569.85,29.00 569.72,29.50 569.58,30.00 569.44,30.50 569.30,31.00 569.15,31.50 568.99,32.00 568.81,32.50 568.63,33.00 568.44,33.50 568.25,34.00 568.06,34.50 567.86,35.00 567.68,35.50 567.50,36.00 567.32,36.50 567.14,37.00 566.96,37.50 566.77,38.00 566.58,38.50 566.40,39.00 566.21,39.50 566.03,40.00 565.86,40.50 565.69,41.00 565.53,41.50 565.38,42.00 565.24,42.50 565.11,43.00 565.00,43.50 564.89,44.00 564.79,44.50 564.68,45.00 564.57,45.50 564.47,46.00 564.38,46.50 564.29,47.00 564.21,47.50 564.14,48.00 564.08,48.50 564.04,49.00 564.01,49.50 564.00,50.00 564.00,50.50 564.00,51.00 564.00,51.50 564.00,52.00 564.00,52.50 564.00,53.00 564.00,53.50 564.00,54.00 564.00,54.50 564.00,55.00 564.00,55.50 564.00,56.00 564.00,56.50 564.00,57.00 564.00,57.50 564.00,58.00 564.00,58.50 564.00,59.00 564.00,59.50 564.00,60.00 564.00,60.50 564.00,61.00 564.00,61.50 564.00,62.00 564.00,62.50 564.00,63.00 564.00,63.50 564.00,64.00 564.00,64.50 564.00,65.00 564.00,65.50 564.00,66.00 564.00,66.50 564.00,67.00 564.00,67.50 564.00,68.00 564.00,68.50 564.00,69.00 564.00,69.50 564.00,70.00 564.00,70.50 564.00,71.00 564.00,71.50 564.00,72.00 564.00,72.50 564.00,73.00 564.00,73.50 564.00,74.00 564.00,74.50 564.00,75.00 564.00,75.50 564.00,76.00 564.00,76.50 564.00,77.00 564.00,77.50 564.00,78.00 564.00,78.50 564.00,79.00 564.00,79.50 564.01,80.00 564.01,80.50 564.01,81.00 564.01,81.50 564.01,82.00 564.01,82.50 564.02,83.00 564.02,83.50 564.02,84.00 564.02,84.50 564.03,85.00 564.03,85.50 564.03,86.00 564.04,86.50 564.04,87.00 564.04,87.50 564.05,88.00 564.05,88.50 564.05,89.00 564.06,89.50 564.06,90.00 564.06,90.50 564.07,91.00 564.07,91.50 564.08,92.00 564.08,92.50 564.09,93.00 564.09,93.50 564.10,94.00 564.10,94.50 564.11,95.00 564.11,95.50 564.12,96.00 564.12,96.50 564.13,97.00 564.13,97.50 564.14,98.00 564.14,98.50 564.15,99.00 564.15,99.50 564.16,100.00 564.17,100.50 564.17,101.00 564.18,101.50 564.18,102.00 564.19,102.50 564.20,103.00 564.20,103.50 564.21,104.00 564.21,104.50 564.22,105.00 564.23,105.50 564.23,106.00 564.24,106.50 564.25,107.00 564.25,107.50 564.26,108.00 564.27,108.50 564.27,109.00 564.28,109.50 564.29,110.00 564.29,110.50 564.30,111.00" fill="none" stroke="#2596ba" stroke-width="1.0" stroke-opacity="0.8" stroke-linejoin="round"/><polyline points="576.20,16.00 576.13,16.50 576.06,17.00 575.98,17.50 575.89,18.00 575.79,18.50 575.69,19.00 575.59,19.50 575.47,20.00 575.36,20.50 575.23,21.00 575.11,21.50 574.98,22.00 574.84,22.50 574.70,23.00 574.55,23.50 574.40,24.00 574.25,24.50 574.09,25.00 573.94,25.50 573.77,26.00 573.61,26.50 573.44,27.00 573.27,27.50 573.10,28.00 572.92,28.50 572.75,29.00 572.57,29.50 572.39,30.00 572.19,30.50 571.97,31.00 571.75,31.50 571.51,32.00 571.26,32.50 571.00,33.00 570.75,33.50 570.49,34.00 570.23,34.50 569.98,35.00 569.73,35.50 569.50,36.00 569.27,36.50 569.03,37.00 568.78,37.50 568.53,38.00 568.28,38.50 568.03,39.00 567.78,39.50 567.54,40.00 567.31,40.50 567.09,41.00 566.88,41.50 566.68,42.00 566.50,42.50 566.34,43.00 566.20,43.50 566.07,44.00 565.94,44.50 565.81,45.00 565.69,45.50 565.57,46.00 565.46,46.50 565.35,47.00 565.26,47.50 565.18,48.00 565.11,48.50 565.06,49.00 565.02,49.50 565.00,50.00 564.99,50.50 564.98,51.00 564.97,51.50 564.97,52.00 564.96,52.50 564.95,53.00 564.94,53.50 564.94,54.00 564.93,54.50 564.92,55.00 564.92,55.50 564.91,56.00 564.90,56.50 564.90,57.00 564.89,57.50 564.89,58.00 564.88,58.50 564.88,59.00 564.87,59.50 564.87,60.00 564.86,60.50 564.86,61.00 564.85,61.50 564.85,62.00 564.84,62.50 564.84,63.00 564.84,63.50 564.83,64.00 564.83,64.50 564.83,65.00 564.83,65.50 564.82,66.00 564.82,66.50 564.82,67.00 564.82,67.50 564.81,68.00 564.81,68.50 564.81,69.00 564.81,69.50 564.81,70.00 564.81,70.50 564.81,71.00 564.80,71.50 564.80,72.00 564.80,72.50 564.80,73.00 564.80,73.50 564.80,74.00 564.80,74.50 564.80,75.00 564.80,75.50 564.80,76.00 564.80,76.50 564.80,77.00 564.80,77.50 564.80,78.00 564.80,78.50 564.80,79.00 564.80,79.50 564.80,80.00 564.80,80.50 564.80,81.00 564.80,81.50 564.80,82.00 564.80,82.50 564.81,83.00 564.81,83.50 564.81,84.00 564.81,84.50 564.81,85.00 564.81,85.50 564.81,86.00 564.81,86.50 564.82,87.00 564.82,87.50 564.82,88.00 564.82,88.50 564.82,89.00 564.82,89.50 564.83,90.00 564.83,90.50 564.83,91.00 564.83,91.50 564.83,92.00 564.84,92.50 564.84,93.00 564.84,93.50 564.84,94.00 564.85,94.50 564.85,95.00 564.85,95.50 564.86,96.00 564.86,96.50 564.86,97.00 564.87,97.50 564.87,98.00 564.87,98.50 564.88,99.00 564.88,99.50 564.88,100.00 564.89,100.50 564.89,101.00 564.90,101.50 564.90,102.00 564.91,102.50 564.91,103.00 564.91,103.50 564.92,104.00 564.92,104.50 564.93,105.00 564.93,105.50 564.94,106.00 564.95,106.50 564.95,107.00 564.96,107.50 564.96,108.00 564.97,108.50 564.97,109.00 564.98,109.50 564.99,110.00 564.99,110.50 565.00,111.00" fill="none" stroke="#2596ba" stroke-width="1.0" stroke-opacity="0.8" stroke-linejoin="round"/><polyline points="580.60,16.00 580.47,16.50 580.33,17.00 580.20,17.50 580.05,18.00 579.90,18.50 579.75,19.00 579.59,19.50 579.43,20.00 579.27,20.50 579.10,21.00 578.93,21.50 578.75,22.00 578.57,22.50 578.39,23.00 578.20,23.50 578.01,24.00 577.82,24.50 577.63,25.00 577.43,25.50 577.23,26.00 577.03,26.50 576.82,27.00 576.62,27.50 576.41,28.00 576.20,28.50 575.98,29.00 575.76,29.50 575.53,30.00 575.29,30.50 575.05,31.00 574.80,31.50 574.54,32.00 574.28,32.50 574.02,33.00 573.76,33.50 573.49,34.00 573.22,34.50 572.94,35.00 572.67,35.50 572.40,36.00 572.12,36.50 571.83,37.00 571.53,37.50 571.22,38.00 570.90,38.50 570.58,39.00 570.26,39.50 569.94,40.00 569.63,40.50 569.33,41.00 569.03,41.50 568.75,42.00 568.48,42.50 568.23,43.00 568.00,43.50 567.77,44.00 567.54,44.50 567.31,45.00 567.08,45.50 566.87,46.00 566.67,46.50 566.50,47.00 566.36,47.50 566.26,48.00 566.20,48.50 566.17,49.00 566.14,49.50 566.11,50.00 566.08,50.50 566.05,51.00 566.03,51.50 566.00,52.00 565.98,52.50 565.96,53.00 565.94,53.50 565.92,54.00 565.90,54.50 565.89,55.00 565.87,55.50 565.86,56.00 565.85,56.50 565.84,57.00 565.83,57.50 565.82,58.00 565.81,58.50 565.81,59.00 565.81,59.50 565.80,60.00 565.80,60.50 565.80,61.00 565.80,61.50 565.80,62.00 565.80,62.50 565.80,63.00 565.80,63.50 565.80,64.00 565.80,64.50 565.80,65.00 565.80,65.50 565.80,66.00 565.80,66.50 565.80,67.00 565.80,67.50 565.80,68.00 565.80,68.50 565.80,69.00 565.80,69.50 565.80,70.00 565.80,70.50 565.80,71.00 565.80,71.50 565.80,72.00 565.80,72.50 565.80,73.00 565.80,73.50 565.80,74.00 565.80,74.50 565.80,75.00 565.80,75.50 565.80,76.00 565.80,76.50 565.80,77.00 565.80,77.50 565.80,78.00 565.80,78.50 565.80,79.00 565.81,79.50 565.81,80.00 565.81,80.50 565.81,81.00 565.81,81.50 565.81,82.00 565.82,82.50 565.82,83.00 565.82,83.50 565.83,84.00 565.83,84.50 565.83,85.00 565.84,85.50 565.84,86.00 565.84,86.50 565.85,87.00 565.85,87.50 565.86,88.00 565.86,88.50 565.87,89.00 565.87,89.50 565.88,90.00 565.88,90.50 565.89,91.00 565.89,91.50 565.90,92.00 565.90,92.50 565.91,93.00 565.91,93.50 565.92,94.00 565.93,94.50 565.93,95.00 565.94,95.50 565.95,96.00 565.95,96.50 565.96,97.00 565.97,97.50 565.98,98.00 565.98,98.50 565.99,99.00 566.00,99.50 566.01,100.00 566.01,100.50 566.02,101.00 566.03,101.50 566.04,102.00 566.05,102.50 566.05,103.00 566.06,103.50 566.07,104.00 566.08,104.50 566.09,105.00 566.10,105.50 566.11,106.00 566.12,106.50 566.12,107.00 566.13,107.50 566.14,108.00 566.15,108.50 566.16,109.00 566.17,109.50 566.18,110.00 566.19,110.50 566.20,111.00" fill="none" stroke="#2596ba" stroke-width="1.0" stroke-opacity="0.8" stroke-linejoin="round"/><polyline points="585.50,16.00 585.26,16.50 585.02,17.00 584.78,17.50 584.54,18.00 584.29,18.50 584.05,19.00 583.81,19.50 583.56,20.00 583.32,20.50 583.07,21.00 582.83,21.50 582.58,22.00 582.34,22.50 582.09,23.00 581.84,23.50 581.60,24.00 581.35,24.50 581.10,25.00 580.85,25.50 580.60,26.00 580.35,26.50 580.10,27.00 579.85,27.50 579.60,28.00 579.36,28.50 579.12,29.00 578.88,29.50 578.64,30.00 578.40,30.50 578.16,31.00 577.91,31.50 577.67,32.00 577.42,32.50 577.16,33.00 576.90,33.50 576.64,34.00 576.37,34.50 576.09,35.00 575.80,35.50 575.50,36.00 575.18,36.50 574.84,37.00 574.47,37.50 574.09,38.00 573.69,38.50 573.30,39.00 572.90,39.50 572.51,40.00 572.13,40.50 571.77,41.00 571.43,41.50 571.12,42.00 570.83,42.50 570.54,43.00 570.24,43.50 569.94,44.00 569.64,44.50 569.36,45.00 569.09,45.50 568.84,46.00 568.62,46.50 568.43,47.00 568.28,47.50 568.17,48.00 568.10,48.50 568.06,49.00 568.02,49.50 567.99,50.00 567.95,50.50 567.92,51.00 567.89,51.50 567.86,52.00 567.83,52.50 567.80,53.00 567.78,53.50 567.75,54.00 567.73,54.50 567.71,55.00 567.70,55.50 567.68,56.00 567.66,56.50 567.65,57.00 567.64,57.50 567.63,58.00 567.62,58.50 567.61,59.00 567.61,59.50 567.60,60.00 567.60,60.50 567.60,61.00 567.60,61.50 567.60,62.00 567.60,62.50 567.60,63.00 567.61,63.50 567.61,64.00 567.61,64.50 567.62,65.00 567.62,65.50 567.63,66.00 567.63,66.50 567.64,67.00 567.64,67.50 567.65,68.00 567.66,68.50 567.66,69.00 567.67,69.50 567.68,70.00 567.69,70.50 567.70,71.00 567.71,71.50 567.72,72.00 567.73,72.50 567.74,73.00 567.75,73.50 567.76,74.00 567.77,74.50 567.78,75.00 567.79,75.50 567.80,76.00 567.81,76.50 567.83,77.00 567.84,77.50 567.86,78.00 567.88,78.50 567.90,79.00 567.93,79.50 567.96,80.00 567.98,80.50 568.01,81.00 568.04,81.50 568.08,82.00 568.11,82.50 568.15,83.00 568.19,83.50 568.22,84.00 568.27,84.50 568.31,85.00 568.35,85.50 568.40,86.00 568.44,86.50 568.49,87.00 568.54,87.50 568.59,88.00 568.64,88.50 568.69,89.00 568.74,89.50 568.80,90.00 568.86,90.50 568.92,91.00 568.99,91.50 569.06,92.00 569.14,92.50 569.23,93.00 569.32,93.50 569.41,94.00 569.52,94.50 569.63,95.00 569.74,95.50 569.87,96.00 570.01,96.50 570.15,97.00 570.30,97.50 570.47,98.00 570.67,98.50 570.92,99.00 571.20,99.50 571.54,100.00 571.92,100.50 572.35,101.00 572.84,101.50 573.37,102.00 574.03,102.50 575.07,103.00 576.39,103.50 577.87,104.00 579.39,104.50 580.81,105.00 582.02,105.50 583.07,106.00 584.05,106.50 584.97,107.00 585.86,107.50 586.76,108.00 587.70,108.50 588.70,109.00 589.79,109.50 591.01,110.00 592.45,110.50 594.00,111.00" fill="none" stroke="#2596ba" stroke-width="1.0" stroke-opacity="0.8" stroke-linejoin="round"/><polyline points="591.20,16.00 590.88,16.50 590.55,17.00 590.23,17.50 589.91,18.00 589.59,18.50 589.27,19.00 588.95,19.50 588.63,20.00 588.32,20.50 588.00,21.00 587.69,21.50 587.37,22.00 587.06,22.50 586.75,23.00 586.44,23.50 586.13,24.00 585.82,24.50 585.51,25.00 585.21,25.50 584.90,26.00 584.60,26.50 584.33,27.00 584.06,27.50 583.81,28.00 583.55,28.50 583.30,29.00 583.05,29.50 582.79,30.00 582.52,30.50 582.23,31.00 581.92,31.50 581.59,32.00 581.23,32.50 580.84,33.00 580.41,33.50 579.79,34.00 579.02,34.50 578.22,35.00 577.51,35.50 577.00,36.00 576.66,36.50 576.35,37.00 576.08,37.50 575.83,38.00 575.60,38.50 575.40,39.00 575.20,39.50 575.02,40.00 574.85,40.50 574.68,41.00 574.50,41.50 574.32,42.00 574.13,42.50 573.92,43.00 573.70,43.50 573.45,44.00 573.18,44.50 572.89,45.00 572.59,45.50 572.28,46.00 571.98,46.50 571.69,47.00 571.42,47.50 571.17,48.00 570.95,48.50 570.77,49.00 570.64,49.50 570.55,50.00 570.46,50.50 570.38,51.00 570.30,51.50 570.23,52.00 570.15,52.50 570.08,53.00 570.02,53.50 569.96,54.00 569.90,54.50 569.84,55.00 569.79,55.50 569.74,56.00 569.70,56.50 569.66,57.00 569.62,57.50 569.59,58.00 569.56,58.50 569.54,59.00 569.52,59.50 569.51,60.00 569.50,60.50 569.50,61.00 569.50,61.50 569.50,62.00 569.50,62.50 569.51,63.00 569.51,63.50 569.51,64.00 569.52,64.50 569.52,65.00 569.53,65.50 569.53,66.00 569.54,66.50 569.55,67.00 569.56,67.50 569.57,68.00 569.58,68.50 569.59,69.00 569.60,69.50 569.61,70.00 569.62,70.50 569.63,71.00 569.65,71.50 569.66,72.00 569.68,72.50 569.69,73.00 569.71,73.50 569.73,74.00 569.74,74.50 569.76,75.00 569.78,75.50 569.80,76.00 569.82,76.50 569.86,77.00 569.90,77.50 569.96,78.00 570.02,78.50 570.09,79.00 570.18,79.50 570.27,80.00 570.38,80.50 570.49,81.00 570.62,81.50 570.75,82.00 570.90,82.50 571.11,83.00 571.41,83.50 571.80,84.00 572.26,84.50 572.77,85.00 573.35,85.50 574.16,86.00 575.16,86.50 576.29,87.00 577.46,87.50 578.59,88.00 579.60,88.50 580.50,89.00 581.35,89.50 582.17,90.00 582.96,90.50 583.73,91.00 584.50,91.50 585.26,92.00 586.03,92.50 586.82,93.00 587.63,93.50 588.48,94.00 589.37,94.50 590.31,95.00 591.34,95.50 592.51,96.00 593.78,96.50 595.07,97.00 596.34,97.50 597.53,98.00 598.59,98.50 599.46,99.00 600.21,99.50 600.91,100.00 601.55,100.50 602.16,101.00 602.73,101.50 603.28,102.00 603.80,102.50 604.32,103.00 604.84,103.50 605.37,104.00 605.91,104.50 606.45,105.00 606.97,105.50 607.49,106.00 608.00,106.50 608.51,107.00 609.01,107.50 609.51,108.00 610.00,108.50 610.50,109.00 611.00,109.50 611.50,110.00 612.00,110.50 612.50,111.00" fill="none" stroke="#2596ba" stroke-width="1.0" stroke-opacity="0.8" stroke-linejoin="round"/><polyline points="553.60,16.00 553.67,16.50 553.74,17.00 553.81,17.50 553.88,18.00 553.95,18.50 554.01,19.00 554.07,19.50 554.14,20.00 554.20,20.50 554.25,21.00 554.31,21.50 554.36,22.00 554.42,22.50 554.47,23.00 554.52,23.50 554.57,24.00 554.61,24.50 554.66,25.00 554.70,25.50 554.74,26.00 554.78,26.50 554.81,27.00 554.85,27.50 554.88,28.00 554.91,28.50 554.94,29.00 554.96,29.50 554.98,30.00 555.01,30.50 555.03,31.00 555.04,31.50 555.06,32.00 555.07,32.50 555.08,33.00 555.09,33.50 555.10,34.00 555.10,34.50 555.10,35.00 555.10,35.50 555.10,36.00 555.10,36.50 555.10,37.00 555.10,37.50 555.10,38.00" fill="none" stroke="#0064d0" stroke-width="1.6" stroke-opacity="0.8" stroke-linejoin="round"/><polyline points="555.30,16.00 555.37,16.50 555.43,17.00 555.50,17.50 555.56,18.00 555.62,18.50 555.68,19.00 555.74,19.50 555.80,20.00 555.86,20.50 555.91,21.00 555.96,21.50 556.01,22.00 556.06,22.50 556.11,23.00 556.16,23.50 556.20,24.00 556.24,24.50 556.29,25.00 556.32,25.50 556.36,26.00 556.40,26.50 556.43,27.00 556.46,27.50 556.49,28.00 556.52,28.50 556.55,29.00 556.57,29.50 556.59,30.00 556.61,30.50 556.63,31.00 556.65,31.50 556.66,32.00 556.67,32.50 556.68,33.00 556.69,33.50 556.70,34.00 556.70,34.50 556.70,35.00 556.70,35.50 556.70,36.00 556.70,36.50 556.70,37.00 556.70,37.50 556.70,38.00" fill="none" stroke="#10b098" stroke-width="1.5" stroke-opacity="0.8" stroke-linejoin="round"/><polyline points="546.40,38.60 546.29,39.10 546.18,39.60 546.08,40.10 545.99,40.60 545.93,41.10 545.90,41.60 545.87,42.10 545.85,42.60 545.84,43.10 545.82,43.60 545.81,44.10 545.79,44.60 545.78,45.10 545.77,45.60 545.76,46.10 545.75,46.60 545.74,47.10 545.74,47.60 545.73,48.10 545.72,48.60 545.71,49.10 545.71,49.60 545.70,50.10 545.69,50.60 545.68,51.10 545.67,51.60 545.66,52.10 545.66,52.60 545.65,53.10 545.64,53.60 545.63,54.10 545.63,54.60 545.62,55.10 545.61,55.60 545.61,56.10 545.60,56.60 545.60,57.10 545.60,57.60 545.60,58.10 545.60,58.60 545.60,59.10 545.60,59.60 545.61,60.10 545.61,60.60 545.61,61.10 545.62,61.60 545.62,62.10 545.63,62.60 545.63,63.10 545.64,63.60 545.65,64.10 545.65,64.60 545.66,65.10 545.67,65.60 545.68,66.10 545.69,66.60 545.70,67.10 545.71,67.60 545.72,68.10 545.73,68.60 545.74,69.10 545.75,69.60 545.76,70.10 545.77,70.60 545.78,71.10 545.79,71.60 545.80,72.10 545.82,72.60 545.83,73.10 545.84,73.60 545.85,74.10 545.87,74.60 545.88,75.10 545.89,75.60 545.90,76.10 545.92,76.60 545.93,77.10 545.94,77.60 545.95,78.10 545.97,78.60 545.98,79.10 545.99,79.60 546.00,80.10 546.01,80.60 546.03,81.10 546.04,81.60 546.06,82.10 546.07,82.60 546.09,83.10 546.10,83.60 546.12,84.10 546.13,84.60 546.15,85.10 546.17,85.60 546.18,86.10 546.20,86.60 546.22,87.10 546.24,87.60 546.26,88.10 546.27,88.60 546.29,89.10 546.31,89.60 546.33,90.10 546.35,90.60 546.37,91.10 546.38,91.60 546.40,92.10 546.42,92.60 546.44,93.10 546.45,93.60 546.47,94.10 546.49,94.60 546.50,95.10 546.52,95.60 546.54,96.10 546.55,96.60 546.57,97.10 546.58,97.60 546.60,98.10 546.62,98.60 546.63,99.10 546.65,99.60 546.66,100.10 546.68,100.60 546.69,101.10 546.71,101.60 546.73,102.10 546.74,102.60 546.76,103.10 546.77,103.60 546.79,104.10 546.80,104.60 546.82,105.10 546.84,105.60 546.85,106.10 546.87,106.60 546.88,107.10 546.90,107.60 546.91,108.10 546.93,108.60 546.94,109.10 546.96,109.60 546.97,110.10 546.99,110.60" fill="none" stroke="#0064d0" stroke-width="1.8" stroke-opacity="0.85" stroke-linejoin="round"/><polyline points="548.00,38.60 547.89,39.10 547.78,39.60 547.68,40.10 547.59,40.60 547.53,41.10 547.50,41.60 547.47,42.10 547.45,42.60 547.44,43.10 547.42,43.60 547.41,44.10 547.39,44.60 547.38,45.10 547.37,45.60 547.36,46.10 547.35,46.60 547.34,47.10 547.34,47.60 547.33,48.10 547.32,48.60 547.31,49.10 547.31,49.60 547.30,50.10 547.29,50.60 547.28,51.10 547.27,51.60 547.26,52.10 547.26,52.60 547.25,53.10 547.24,53.60 547.23,54.10 547.23,54.60 547.22,55.10 547.21,55.60 547.21,56.10 547.20,56.60 547.20,57.10 547.20,57.60 547.20,58.10 547.20,58.60 547.20,59.10 547.20,59.60 547.21,60.10 547.21,60.60 547.21,61.10 547.22,61.60 547.22,62.10 547.23,62.60 547.23,63.10 547.24,63.60 547.25,64.10 547.26,64.60 547.26,65.10 547.27,65.60 547.28,66.10 547.29,66.60 547.30,67.10 547.31,67.60 547.32,68.10 547.33,68.60 547.34,69.10 547.35,69.60 547.36,70.10 547.38,70.60 547.39,71.10 547.40,71.60 547.41,72.10 547.42,72.60 547.44,73.10 547.45,73.60 547.46,74.10 547.47,74.60 547.48,75.10 547.50,75.60 547.51,76.10 547.52,76.60 547.53,77.10 547.55,77.60 547.56,78.10 547.57,78.60 547.58,79.10 547.59,79.60 547.60,80.10 547.61,80.60 547.63,81.10 547.64,81.60 547.65,82.10 547.66,82.60 547.68,83.10 547.69,83.60 547.70,84.10 547.72,84.60 547.73,85.10 547.74,85.60 547.76,86.10 547.77,86.60 547.79,87.10 547.80,87.60 547.82,88.10 547.83,88.60 547.85,89.10 547.86,89.60 547.87,90.10 547.89,90.60 547.90,91.10 547.92,91.60 547.93,92.10 547.94,92.60 547.96,93.10 547.97,93.60 547.98,94.10 547.99,94.60 548.00,95.10 548.01,95.60 548.02,96.10 548.03,96.60 548.05,97.10 548.06,97.60 548.07,98.10 548.08,98.60 548.09,99.10 548.10,99.60 548.11,100.10 548.12,100.60 548.13,101.10 548.14,101.60 548.15,102.10 548.16,102.60 548.17,103.10 548.18,103.60 548.19,104.10 548.19,104.60 548.20,105.10 548.21,105.60 548.22,106.10 548.23,106.60 548.24,107.10 548.25,107.60 548.25,108.10 548.26,108.60 548.27,109.10 548.28,109.60 548.29,110.10 548.29,110.60" fill="none" stroke="#10b098" stroke-width="1.6" stroke-opacity="0.85" stroke-linejoin="round"/></g><rect x="540.00" y="16.50" width="125.00" height="94.00" fill="none" stroke="#000" stroke-width="1.2"/><line x1="540.00" y1="29.49" x2="543.50" y2="29.49" stroke="#000" stroke-width="1"/><text x="533.50" y="33.59" font-size="12.3" text-anchor="end" fill="#000" >270</text><line x1="540.00" y1="67.90" x2="543.50" y2="67.90" stroke="#000" stroke-width="1"/><text x="533.50" y="72.00" font-size="12.3" text-anchor="end" fill="#000" >180</text><line x1="540.00" y1="106.30" x2="543.50" y2="106.30" stroke="#000" stroke-width="1"/><text x="533.50" y="110.40" font-size="12.3" text-anchor="end" fill="#000" >90</text><line x1="540.00" y1="87.10" x2="542.00" y2="87.10" stroke="#000" stroke-width="1"/><line x1="540.00" y1="48.70" x2="542.00" y2="48.70" stroke="#000" stroke-width="1"/><line x1="555.20" y1="110.50" x2="555.20" y2="107.00" stroke="#000" stroke-width="1"/><text x="555.20" y="126.50" font-size="12.3" text-anchor="middle" fill="#000" >500</text><line x1="574.00" y1="110.50" x2="574.00" y2="108.50" stroke="#000" stroke-width="1"/><line x1="592.80" y1="110.50" x2="592.80" y2="107.00" stroke="#000" stroke-width="1"/><text x="592.80" y="126.50" font-size="12.3" text-anchor="middle" fill="#000" >600</text><line x1="611.60" y1="110.50" x2="611.60" y2="108.50" stroke="#000" stroke-width="1"/><line x1="630.40" y1="110.50" x2="630.40" y2="107.00" stroke="#000" stroke-width="1"/><text x="630.40" y="126.50" font-size="12.3" text-anchor="middle" fill="#000" >700</text><line x1="649.20" y1="110.50" x2="649.20" y2="108.50" stroke="#000" stroke-width="1"/><text x="602.50" y="146.40" font-size="12.6" text-anchor="middle" fill="#000" >Wavelength (nm)</text><text transform="translate(504.29999999999995,64.4) rotate(-90)" font-size="12.6" text-anchor="middle">Temperature (K)</text><text x="475.5" y="12.3" font-size="16" font-weight="bold">c</text><defs><linearGradient id="cbc" x1="0" y1="1" x2="0" y2="0"><stop offset="0.0000" stop-color="#0000ff"/><stop offset="0.0833" stop-color="#0055ff"/><stop offset="0.1667" stop-color="#00aaff"/><stop offset="0.2500" stop-color="#00ffff"/><stop offset="0.3333" stop-color="#00ffaa"/><stop offset="0.4167" stop-color="#00ff55"/><stop offset="0.5000" stop-color="#00ff00"/><stop offset="0.5833" stop-color="#55ff00"/><stop offset="0.6667" stop-color="#aaff00"/><stop offset="0.7500" stop-color="#ffff00"/><stop offset="0.8333" stop-color="#ffaa00"/><stop offset="0.9167" stop-color="#ff5500"/><stop offset="1.0000" stop-color="#ff0000"/></linearGradient></defs><rect x="667.5" y="35.5" width="10.0" height="72.5" fill="url(#cbc)" stroke="#000" stroke-width="1.1"/><text x="683.30" y="112.10" font-size="12.3" text-anchor="start" fill="#000" >0.0</text><line x1="674.00" y1="93.50" x2="677.50" y2="93.50" stroke="#000" stroke-width="1"/><text x="683.30" y="97.60" font-size="12.3" text-anchor="start" fill="#000" >0.2</text><line x1="674.00" y1="79.00" x2="677.50" y2="79.00" stroke="#000" stroke-width="1"/><text x="683.30" y="83.10" font-size="12.3" text-anchor="start" fill="#000" >0.4</text><line x1="674.00" y1="64.50" x2="677.50" y2="64.50" stroke="#000" stroke-width="1"/><text x="683.30" y="68.60" font-size="12.3" text-anchor="start" fill="#000" >0.6</text><line x1="674.00" y1="50.00" x2="677.50" y2="50.00" stroke="#000" stroke-width="1"/><text x="683.30" y="54.10" font-size="12.3" text-anchor="start" fill="#000" >0.8</text><text x="683.30" y="39.60" font-size="12.3" text-anchor="start" fill="#000" >1.0</text><rect x="47.50" y="181.50" width="169.00" height="103.00" fill="none" stroke="#000" stroke-width="1.2"/><line x1="47.50" y1="273.20" x2="51.00" y2="273.20" stroke="#000" stroke-width="1"/><text x="41.00" y="277.30" font-size="12.3" text-anchor="end" fill="#000" >0.0</text><line x1="47.50" y1="259.57" x2="49.50" y2="259.57" stroke="#000" stroke-width="1"/><line x1="47.50" y1="245.95" x2="51.00" y2="245.95" stroke="#000" stroke-width="1"/><text x="41.00" y="250.05" font-size="12.3" text-anchor="end" fill="#000" >0.5</text><line x1="47.50" y1="232.32" x2="49.50" y2="232.32" stroke="#000" stroke-width="1"/><line x1="47.50" y1="218.70" x2="51.00" y2="218.70" stroke="#000" stroke-width="1"/><text x="41.00" y="222.80" font-size="12.3" text-anchor="end" fill="#000" >1.0</text><line x1="47.50" y1="205.07" x2="49.50" y2="205.07" stroke="#000" stroke-width="1"/><line x1="47.50" y1="191.45" x2="51.00" y2="191.45" stroke="#000" stroke-width="1"/><text x="41.00" y="195.55" font-size="12.3" text-anchor="end" fill="#000" >1.5</text><line x1="57.03" y1="284.50" x2="57.03" y2="282.50" stroke="#000" stroke-width="1"/><line x1="75.80" y1="284.50" x2="75.80" y2="281.00" stroke="#000" stroke-width="1"/><text x="75.80" y="299.50" font-size="12.3" text-anchor="middle" fill="#000" >80</text><line x1="94.57" y1="284.50" x2="94.57" y2="282.50" stroke="#000" stroke-width="1"/><line x1="113.34" y1="284.50" x2="113.34" y2="281.00" stroke="#000" stroke-width="1"/><text x="113.34" y="299.50" font-size="12.3" text-anchor="middle" fill="#000" >100</text><line x1="132.11" y1="284.50" x2="132.11" y2="282.50" stroke="#000" stroke-width="1"/><line x1="150.88" y1="284.50" x2="150.88" y2="281.00" stroke="#000" stroke-width="1"/><text x="150.88" y="299.50" font-size="12.3" text-anchor="middle" fill="#000" >120</text><line x1="169.65" y1="284.50" x2="169.65" y2="282.50" stroke="#000" stroke-width="1"/><line x1="188.42" y1="284.50" x2="188.42" y2="281.00" stroke="#000" stroke-width="1"/><text x="188.42" y="299.50" font-size="12.3" text-anchor="middle" fill="#000" >140</text><line x1="207.19" y1="284.50" x2="207.19" y2="282.50" stroke="#000" stroke-width="1"/><text x="132.00" y="318.00" font-size="12.6" text-anchor="middle" fill="#000" >Temperature (K)</text><polyline points="75.80,273.20 85.19,273.20 94.57,273.20 103.95,273.20 113.34,273.20 132.11,273.20 150.88,273.20 169.65,273.20 188.42,273.20 207.19,273.20" fill="none" stroke="#ff0000" stroke-width="1.9"/><circle cx="75.80" cy="273.20" r="3.15" fill="#ff0000"/><circle cx="85.19" cy="273.20" r="3.15" fill="#ff0000"/><circle cx="94.57" cy="273.20" r="3.15" fill="#ff0000"/><circle cx="103.95" cy="273.20" r="3.15" fill="#ff0000"/><circle cx="113.34" cy="273.20" r="3.15" fill="#ff0000"/><circle cx="132.11" cy="273.20" r="3.15" fill="#ff0000"/><circle cx="150.88" cy="273.20" r="3.15" fill="#ff0000"/><circle cx="169.65" cy="273.20" r="3.15" fill="#ff0000"/><circle cx="188.42" cy="273.20" r="3.15" fill="#ff0000"/><circle cx="207.19" cy="273.20" r="3.15" fill="#ff0000"/><polyline points="75.80,259.79 85.19,260.77 94.57,261.81 103.95,262.41 113.34,263.39 132.11,264.70 150.88,265.68 169.65,266.39 188.42,267.04 207.19,268.30" fill="none" stroke="#0000ff" stroke-width="1.9"/><circle cx="75.80" cy="259.79" r="3.15" fill="#0000ff"/><circle cx="85.19" cy="260.77" r="3.15" fill="#0000ff"/><circle cx="94.57" cy="261.81" r="3.15" fill="#0000ff"/><circle cx="103.95" cy="262.41" r="3.15" fill="#0000ff"/><circle cx="113.34" cy="263.39" r="3.15" fill="#0000ff"/><circle cx="132.11" cy="264.70" r="3.15" fill="#0000ff"/><circle cx="150.88" cy="265.68" r="3.15" fill="#0000ff"/><circle cx="169.65" cy="266.39" r="3.15" fill="#0000ff"/><circle cx="188.42" cy="267.04" r="3.15" fill="#0000ff"/><circle cx="207.19" cy="268.30" r="3.15" fill="#0000ff"/><polyline points="75.80,246.50 85.19,247.04 94.57,248.40 103.95,250.31 113.34,252.22 132.11,256.31 150.88,258.76 169.65,260.12 188.42,261.75 207.19,263.66" fill="none" stroke="#008000" stroke-width="1.9"/><circle cx="75.80" cy="246.50" r="3.15" fill="#008000"/><circle cx="85.19" cy="247.04" r="3.15" fill="#008000"/><circle cx="94.57" cy="248.40" r="3.15" fill="#008000"/><circle cx="103.95" cy="250.31" r="3.15" fill="#008000"/><circle cx="113.34" cy="252.22" r="3.15" fill="#008000"/><circle cx="132.11" cy="256.31" r="3.15" fill="#008000"/><circle cx="150.88" cy="258.76" r="3.15" fill="#008000"/><circle cx="169.65" cy="260.12" r="3.15" fill="#008000"/><circle cx="188.42" cy="261.75" r="3.15" fill="#008000"/><circle cx="207.19" cy="263.66" r="3.15" fill="#008000"/><polyline points="75.80,227.96 85.19,227.42 94.57,230.14 103.95,233.96 113.34,238.32 132.11,244.31 150.88,251.40 169.65,256.31 188.42,259.57 207.19,262.30" fill="none" stroke="#ff00ff" stroke-width="1.9"/><circle cx="75.80" cy="227.96" r="3.15" fill="#ff00ff"/><circle cx="85.19" cy="227.42" r="3.15" fill="#ff00ff"/><circle cx="94.57" cy="230.14" r="3.15" fill="#ff00ff"/><circle cx="103.95" cy="233.96" r="3.15" fill="#ff00ff"/><circle cx="113.34" cy="238.32" r="3.15" fill="#ff00ff"/><circle cx="132.11" cy="244.31" r="3.15" fill="#ff00ff"/><circle cx="150.88" cy="251.40" r="3.15" fill="#ff00ff"/><circle cx="169.65" cy="256.31" r="3.15" fill="#ff00ff"/><circle cx="188.42" cy="259.57" r="3.15" fill="#ff00ff"/><circle cx="207.19" cy="262.30" r="3.15" fill="#ff00ff"/><polyline points="75.80,215.43 85.19,220.61 94.57,225.24 103.95,229.05 113.34,232.32 132.11,238.86 150.88,244.31 169.65,248.67 188.42,251.94 207.19,255.21" fill="none" stroke="#000000" stroke-width="1.9"/><circle cx="75.80" cy="215.43" r="3.15" fill="#000000"/><circle cx="85.19" cy="220.61" r="3.15" fill="#000000"/><circle cx="94.57" cy="225.24" r="3.15" fill="#000000"/><circle cx="103.95" cy="229.05" r="3.15" fill="#000000"/><circle cx="113.34" cy="232.32" r="3.15" fill="#000000"/><circle cx="132.11" cy="238.86" r="3.15" fill="#000000"/><circle cx="150.88" cy="244.31" r="3.15" fill="#000000"/><circle cx="169.65" cy="248.67" r="3.15" fill="#000000"/><circle cx="188.42" cy="251.94" r="3.15" fill="#000000"/><circle cx="207.19" cy="255.21" r="3.15" fill="#000000"/><polyline points="75.80,194.72 85.19,195.81 94.57,199.08 103.95,200.17 113.34,204.53 132.11,209.44 150.88,214.88 169.65,220.61 188.42,227.96 207.19,237.77" fill="none" stroke="#868612" stroke-width="1.9"/><circle cx="75.80" cy="194.72" r="3.15" fill="#868612"/><circle cx="85.19" cy="195.81" r="3.15" fill="#868612"/><circle cx="94.57" cy="199.08" r="3.15" fill="#868612"/><circle cx="103.95" cy="200.17" r="3.15" fill="#868612"/><circle cx="113.34" cy="204.53" r="3.15" fill="#868612"/><circle cx="132.11" cy="209.44" r="3.15" fill="#868612"/><circle cx="150.88" cy="214.88" r="3.15" fill="#868612"/><circle cx="169.65" cy="220.61" r="3.15" fill="#868612"/><circle cx="188.42" cy="227.96" r="3.15" fill="#868612"/><circle cx="207.19" cy="237.77" r="3.15" fill="#868612"/><text x="69.30" y="271.50" font-size="11.6" text-anchor="end" fill="#ff0000" >6</text><text x="69.30" y="258.00" font-size="11.6" text-anchor="end" fill="#0000ff" >8</text><text x="69.30" y="244.50" font-size="11.6" text-anchor="end" fill="#008000" >10</text><text x="69.30" y="227.50" font-size="11.6" text-anchor="end" fill="#ff00ff" >12</text><text x="69.30" y="213.00" font-size="11.6" text-anchor="end" fill="#000000" >4</text><text x="69.30" y="194.50" font-size="11.6" text-anchor="end" fill="#868612" >18</text><text x="0" y="181.5" font-size="16" font-weight="bold">d</text><text transform="translate(10.5,232.5) rotate(-90)" font-size="12.6" text-anchor="middle"><tspan font-style="italic">I</tspan><tspan font-size="9" dy="3">BE</tspan><tspan dy="-3">/</tspan><tspan font-style="italic">I</tspan><tspan font-size="9" dy="3">NE</tspan></text><rect x="285.50" y="181.50" width="168.00" height="101.50" fill="none" stroke="#000" stroke-width="1.2"/><line x1="285.50" y1="275.40" x2="289.00" y2="275.40" stroke="#000" stroke-width="1"/><text x="279.00" y="279.50" font-size="12.3" text-anchor="end" fill="#000" >0.0</text><line x1="285.50" y1="261.50" x2="287.50" y2="261.50" stroke="#000" stroke-width="1"/><line x1="285.50" y1="247.60" x2="289.00" y2="247.60" stroke="#000" stroke-width="1"/><text x="279.00" y="251.70" font-size="12.3" text-anchor="end" fill="#000" >0.5</text><line x1="285.50" y1="233.70" x2="287.50" y2="233.70" stroke="#000" stroke-width="1"/><line x1="285.50" y1="219.80" x2="289.00" y2="219.80" stroke="#000" stroke-width="1"/><text x="279.00" y="223.90" font-size="12.3" text-anchor="end" fill="#000" >1.0</text><line x1="285.50" y1="205.90" x2="287.50" y2="205.90" stroke="#000" stroke-width="1"/><line x1="285.50" y1="192.00" x2="289.00" y2="192.00" stroke="#000" stroke-width="1"/><text x="279.00" y="196.10" font-size="12.3" text-anchor="end" fill="#000" >1.5</text><line x1="295.60" y1="283.00" x2="295.60" y2="279.50" stroke="#000" stroke-width="1"/><text x="295.60" y="299.50" font-size="12.3" text-anchor="middle" fill="#000" >4</text><line x1="306.19" y1="283.00" x2="306.19" y2="281.00" stroke="#000" stroke-width="1"/><line x1="316.78" y1="283.00" x2="316.78" y2="279.50" stroke="#000" stroke-width="1"/><text x="316.78" y="299.50" font-size="12.3" text-anchor="middle" fill="#000" >6</text><line x1="327.37" y1="283.00" x2="327.37" y2="281.00" stroke="#000" stroke-width="1"/><line x1="337.96" y1="283.00" x2="337.96" y2="279.50" stroke="#000" stroke-width="1"/><text x="337.96" y="299.50" font-size="12.3" text-anchor="middle" fill="#000" >8</text><line x1="348.55" y1="283.00" x2="348.55" y2="281.00" stroke="#000" stroke-width="1"/><line x1="359.14" y1="283.00" x2="359.14" y2="279.50" stroke="#000" stroke-width="1"/><text x="359.14" y="299.50" font-size="12.3" text-anchor="middle" fill="#000" >10</text><line x1="369.73" y1="283.00" x2="369.73" y2="281.00" stroke="#000" stroke-width="1"/><line x1="380.32" y1="283.00" x2="380.32" y2="279.50" stroke="#000" stroke-width="1"/><text x="380.32" y="299.50" font-size="12.3" text-anchor="middle" fill="#000" >12</text><line x1="390.91" y1="283.00" x2="390.91" y2="281.00" stroke="#000" stroke-width="1"/><line x1="401.50" y1="283.00" x2="401.50" y2="279.50" stroke="#000" stroke-width="1"/><text x="401.50" y="299.50" font-size="12.3" text-anchor="middle" fill="#000" >14</text><line x1="412.09" y1="283.00" x2="412.09" y2="281.00" stroke="#000" stroke-width="1"/><line x1="422.68" y1="283.00" x2="422.68" y2="279.50" stroke="#000" stroke-width="1"/><text x="422.68" y="299.50" font-size="12.3" text-anchor="middle" fill="#000" >16</text><line x1="433.27" y1="283.00" x2="433.27" y2="281.00" stroke="#000" stroke-width="1"/><line x1="443.86" y1="283.00" x2="443.86" y2="279.50" stroke="#000" stroke-width="1"/><text x="443.86" y="299.50" font-size="12.3" text-anchor="middle" fill="#000" >18</text><text x="369.50" y="318" font-size="12.6" text-anchor="middle">Carbon number (<tspan font-style="italic">n</tspan>)</text><circle cx="295.60" cy="216.46" r="3.5" fill="url(#ballg)"/><circle cx="316.78" cy="275.40" r="3.5" fill="url(#ballg)"/><circle cx="337.96" cy="262.61" r="3.5" fill="url(#ballg)"/><circle cx="359.14" cy="248.16" r="3.5" fill="url(#ballg)"/><circle cx="380.32" cy="229.25" r="3.5" fill="url(#ballg)"/><circle cx="443.86" cy="195.89" r="3.5" fill="url(#ballg)"/><polyline points="295.60,216.46 316.78,275.40 453.50,187.04" fill="none" stroke="#ff0000" stroke-width="2"/><text x="239" y="181.5" font-size="16" font-weight="bold">e</text><text transform="translate(249,232.5) rotate(-90)" font-size="12.6" text-anchor="middle"><tspan font-style="italic">I</tspan><tspan font-size="9" dy="3">BE</tspan><tspan dy="-3">/</tspan><tspan font-style="italic">I</tspan><tspan font-size="9" dy="3">NE</tspan></text><rect x="528.40" y="181.00" width="167.90" height="99.50" fill="none" stroke="#000" stroke-width="1.5"/><line x1="528.40" y1="271.60" x2="531.90" y2="271.60" stroke="#000" stroke-width="1"/><text x="521.90" y="275.70" font-size="12.3" text-anchor="end" fill="#000" >0.5</text><line x1="528.40" y1="259.62" x2="530.40" y2="259.62" stroke="#000" stroke-width="1"/><line x1="528.40" y1="247.65" x2="531.90" y2="247.65" stroke="#000" stroke-width="1"/><text x="521.90" y="251.75" font-size="12.3" text-anchor="end" fill="#000" >1.0</text><line x1="528.40" y1="235.68" x2="530.40" y2="235.68" stroke="#000" stroke-width="1"/><line x1="528.40" y1="223.70" x2="531.90" y2="223.70" stroke="#000" stroke-width="1"/><text x="521.90" y="227.80" font-size="12.3" text-anchor="end" fill="#000" >1.5</text><line x1="528.40" y1="211.73" x2="530.40" y2="211.73" stroke="#000" stroke-width="1"/><line x1="528.40" y1="199.75" x2="531.90" y2="199.75" stroke="#000" stroke-width="1"/><text x="521.90" y="203.85" font-size="12.3" text-anchor="end" fill="#000" >2.0</text><line x1="528.40" y1="187.78" x2="530.40" y2="187.78" stroke="#000" stroke-width="1"/><line x1="546.90" y1="280.50" x2="546.90" y2="277.00" stroke="#000" stroke-width="1"/><text x="546.90" y="296.50" font-size="12.3" text-anchor="middle" fill="#000" >0.0</text><line x1="570.25" y1="280.50" x2="570.25" y2="278.50" stroke="#000" stroke-width="1"/><line x1="593.60" y1="280.50" x2="593.60" y2="277.00" stroke="#000" stroke-width="1"/><text x="593.60" y="296.50" font-size="12.3" text-anchor="middle" fill="#000" >0.5</text><line x1="616.95" y1="280.50" x2="616.95" y2="278.50" stroke="#000" stroke-width="1"/><line x1="640.30" y1="280.50" x2="640.30" y2="277.00" stroke="#000" stroke-width="1"/><text x="640.30" y="296.50" font-size="12.3" text-anchor="middle" fill="#000" >1.0</text><line x1="663.65" y1="280.50" x2="663.65" y2="278.50" stroke="#000" stroke-width="1"/><line x1="687.00" y1="280.50" x2="687.00" y2="277.00" stroke="#000" stroke-width="1"/><text x="687.00" y="296.50" font-size="12.3" text-anchor="middle" fill="#000" >1.5</text><text x="613.40" y="315.4" font-size="12.6" text-anchor="middle"><tspan font-style="italic">I</tspan><tspan font-size="9" dy="3">BE</tspan><tspan dy="-3">/</tspan><tspan font-style="italic">I</tspan><tspan font-size="9" dy="3">NE</tspan></text><circle cx="546.90" cy="263.12" r="3.5" fill="url(#ballg)"/><circle cx="568.76" cy="251.48" r="3.5" fill="url(#ballg)"/><circle cx="592.67" cy="241.18" r="3.5" fill="url(#ballg)"/><circle cx="624.24" cy="237.11" r="3.5" fill="url(#ballg)"/><circle cx="645.90" cy="206.94" r="3.5" fill="url(#ballg)"/><circle cx="680.46" cy="189.45" r="3.5" fill="url(#ballg)"/><line x1="532.8" y1="273.7" x2="696.3" y2="185.3" stroke="#ff0000" stroke-width="2"/><text x="476" y="181.2" font-size="16" font-weight="bold">f</text><text transform="translate(491.8,230) rotate(-90)" font-size="12.6" text-anchor="middle">1/<tspan font-style="italic">φμ</tspan><tspan font-size="8" dy="2">i</tspan><tspan dy="-2">(cm</tspan><tspan font-size="8" dy="-5">−2</tspan><tspan dy="5"> V s)</tspan></text>
</svg></body></html>
